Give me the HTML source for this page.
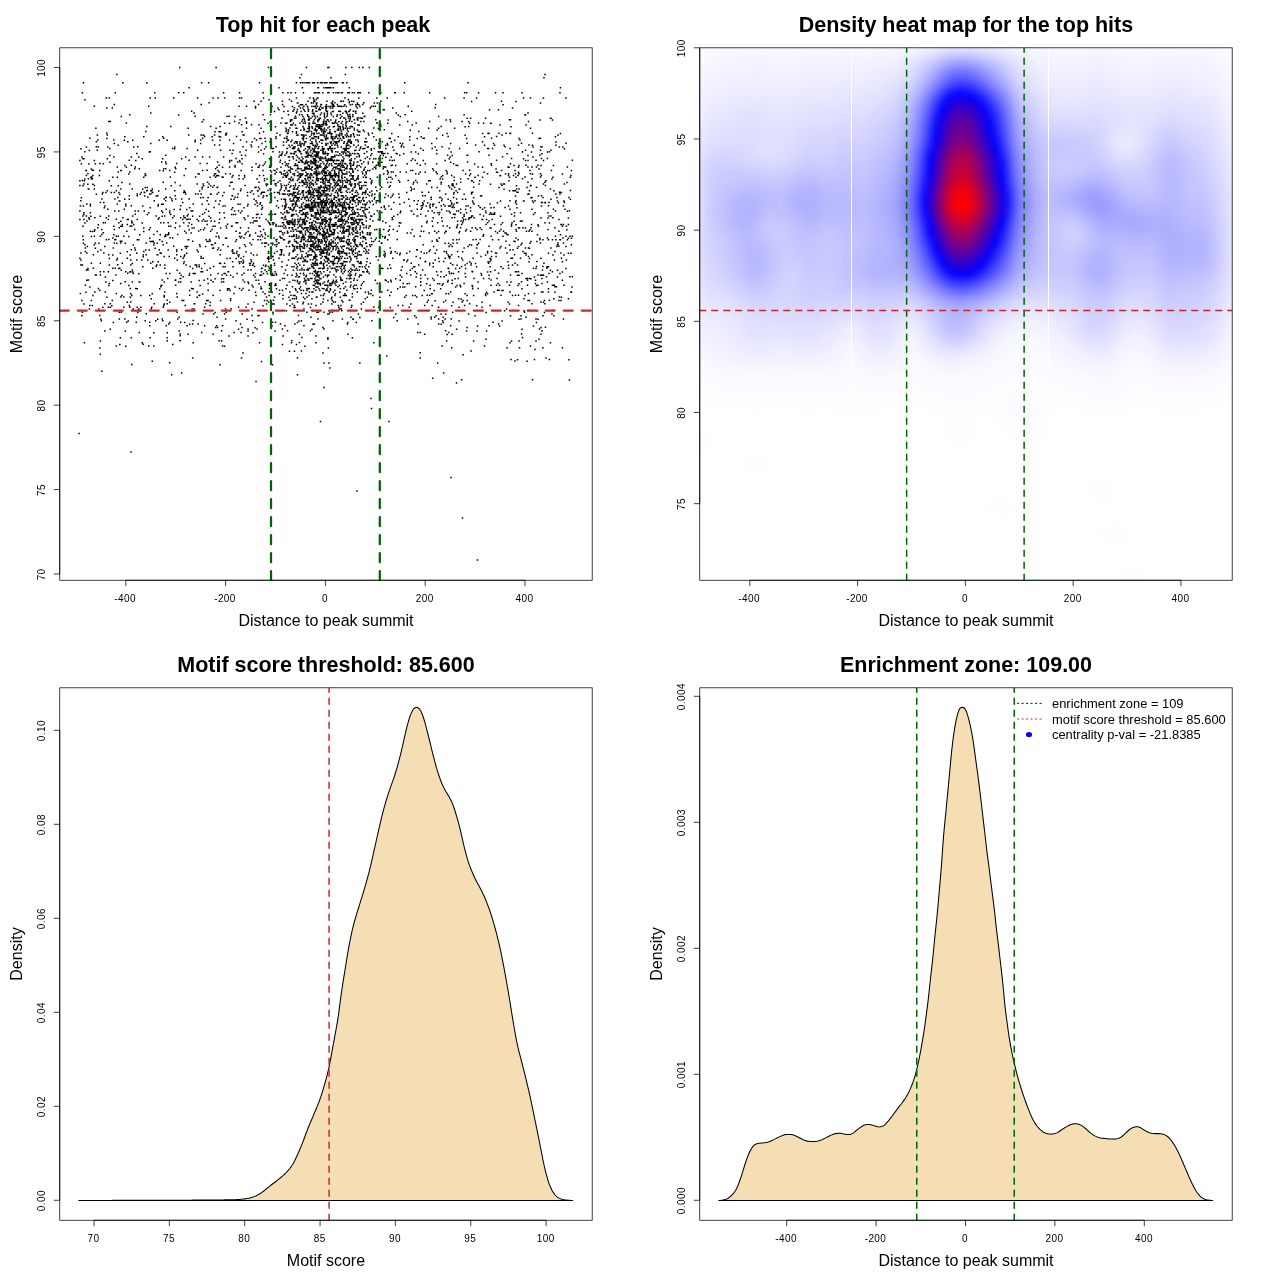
<!DOCTYPE html>
<html lang="en"><head><meta charset="utf-8"><title>Motif enrichment plots</title>
<style>html,body{margin:0;padding:0;background:#fff;}body{width:1280px;height:1280px;overflow:hidden;}svg{display:block;}text{font-family:"Liberation Sans", sans-serif;fill:#000;}</style>
</head><body>
<svg width="1280" height="1280" viewBox="0 0 1280 1280">
<rect width="1280" height="1280" fill="#fff"/>
<defs>
<clipPath id="c1"><rect x="59.76" y="47.81" width="532.43" height="532.43"/></clipPath>
<clipPath id="c2"><rect x="699.76" y="47.81" width="532.43" height="532.43"/></clipPath>
<clipPath id="c3"><rect x="59.76" y="687.81" width="532.43" height="532.43"/></clipPath>
<clipPath id="c4"><rect x="699.76" y="687.81" width="532.43" height="532.43"/></clipPath>
<filter id="hb" x="-5%" y="-5%" width="110%" height="110%" color-interpolation-filters="sRGB"><feGaussianBlur stdDeviation="2.5"/></filter>
</defs>
<g id="panel1">
<g clip-path="url(#c1)">
<path d="M178.94 66.75h1.5v1.5h-1.5zM215.37 66.75h1.5v1.5h-1.5zM267.76 66.75h1.5v1.5h-1.5zM305.69 66.75h1.5v1.5h-1.5zM327.14 66.75h1.5v1.5h-1.5zM328.14 66.75h1.5v1.5h-1.5zM345.11 66.75h1.5v1.5h-1.5zM351.1 66.75h1.5v1.5h-1.5zM358.58 66.75h1.5v1.5h-1.5zM362.07 66.75h1.5v1.5h-1.5zM368.56 66.75h1.5v1.5h-1.5zM116.07 73.67h1.5v1.5h-1.5zM300.7 73.67h1.5v1.5h-1.5zM344.61 73.67h1.5v1.5h-1.5zM544.21 73.67h1.5v1.5h-1.5zM299.2 77.05h1.5v1.5h-1.5zM330.14 77.05h1.5v1.5h-1.5zM543.21 77.05h1.5v1.5h-1.5zM82.63 82.11h1.5v1.5h-1.5zM122.06 82.11h1.5v1.5h-1.5zM146.01 82.11h1.5v1.5h-1.5zM200.9 82.11h1.5v1.5h-1.5zM207.88 82.11h1.5v1.5h-1.5zM258.78 82.11h1.5v1.5h-1.5zM295.71 82.11h1.5v1.5h-1.5zM299.7 82.11h1.5v1.5h-1.5zM301.7 82.11h1.5v1.5h-1.5zM302.19 82.11h1.5v1.5h-1.5zM304.19 82.11h1.5v1.5h-1.5zM306.19 82.11h1.5v1.5h-1.5zM306.69 82.11h1.5v1.5h-1.5zM307.19 82.11h1.5v1.5h-1.5zM308.18 82.11h1.5v1.5h-1.5zM308.18 82.11h1.5v1.5h-1.5zM308.68 82.11h1.5v1.5h-1.5zM311.68 82.11h1.5v1.5h-1.5zM311.68 82.11h1.5v1.5h-1.5zM312.17 82.11h1.5v1.5h-1.5zM312.67 82.11h1.5v1.5h-1.5zM313.67 82.11h1.5v1.5h-1.5zM316.67 82.11h1.5v1.5h-1.5zM316.67 82.11h1.5v1.5h-1.5zM316.67 82.11h1.5v1.5h-1.5zM317.16 82.11h1.5v1.5h-1.5zM317.16 82.11h1.5v1.5h-1.5zM319.66 82.11h1.5v1.5h-1.5zM320.66 82.11h1.5v1.5h-1.5zM321.66 82.11h1.5v1.5h-1.5zM323.65 82.11h1.5v1.5h-1.5zM323.65 82.11h1.5v1.5h-1.5zM324.65 82.11h1.5v1.5h-1.5zM325.15 82.11h1.5v1.5h-1.5zM326.15 82.11h1.5v1.5h-1.5zM329.14 82.11h1.5v1.5h-1.5zM329.64 82.11h1.5v1.5h-1.5zM329.64 82.11h1.5v1.5h-1.5zM330.14 82.11h1.5v1.5h-1.5zM330.64 82.11h1.5v1.5h-1.5zM331.64 82.11h1.5v1.5h-1.5zM332.63 82.11h1.5v1.5h-1.5zM332.63 82.11h1.5v1.5h-1.5zM334.13 82.11h1.5v1.5h-1.5zM334.13 82.11h1.5v1.5h-1.5zM335.13 82.11h1.5v1.5h-1.5zM335.63 82.11h1.5v1.5h-1.5zM336.13 82.11h1.5v1.5h-1.5zM336.63 82.11h1.5v1.5h-1.5zM341.62 82.11h1.5v1.5h-1.5zM342.61 82.11h1.5v1.5h-1.5zM342.61 82.11h1.5v1.5h-1.5zM346.11 82.11h1.5v1.5h-1.5zM403.99 82.11h1.5v1.5h-1.5zM467.36 82.11h1.5v1.5h-1.5zM188.42 87.01h1.5v1.5h-1.5zM278.24 87.01h1.5v1.5h-1.5zM301.7 87.01h1.5v1.5h-1.5zM317.16 87.01h1.5v1.5h-1.5zM317.66 87.01h1.5v1.5h-1.5zM323.15 87.01h1.5v1.5h-1.5zM325.15 87.01h1.5v1.5h-1.5zM326.65 87.01h1.5v1.5h-1.5zM327.14 87.01h1.5v1.5h-1.5zM328.64 87.01h1.5v1.5h-1.5zM329.14 87.01h1.5v1.5h-1.5zM330.14 87.01h1.5v1.5h-1.5zM332.63 87.01h1.5v1.5h-1.5zM348.6 87.01h1.5v1.5h-1.5zM559.68 87.01h1.5v1.5h-1.5zM81.64 92.07h1.5v1.5h-1.5zM114.57 92.07h1.5v1.5h-1.5zM153.99 92.07h1.5v1.5h-1.5zM177.94 92.07h1.5v1.5h-1.5zM182.93 92.07h1.5v1.5h-1.5zM222.85 92.07h1.5v1.5h-1.5zM238.82 92.07h1.5v1.5h-1.5zM262.27 92.07h1.5v1.5h-1.5zM282.23 92.07h1.5v1.5h-1.5zM287.22 92.07h1.5v1.5h-1.5zM290.22 92.07h1.5v1.5h-1.5zM294.71 92.07h1.5v1.5h-1.5zM302.69 92.07h1.5v1.5h-1.5zM313.67 92.07h1.5v1.5h-1.5zM314.67 92.07h1.5v1.5h-1.5zM315.17 92.07h1.5v1.5h-1.5zM315.17 92.07h1.5v1.5h-1.5zM317.16 92.07h1.5v1.5h-1.5zM317.66 92.07h1.5v1.5h-1.5zM318.66 92.07h1.5v1.5h-1.5zM322.15 92.07h1.5v1.5h-1.5zM327.14 92.07h1.5v1.5h-1.5zM328.14 92.07h1.5v1.5h-1.5zM332.63 92.07h1.5v1.5h-1.5zM335.13 92.07h1.5v1.5h-1.5zM337.12 92.07h1.5v1.5h-1.5zM338.12 92.07h1.5v1.5h-1.5zM340.62 92.07h1.5v1.5h-1.5zM341.62 92.07h1.5v1.5h-1.5zM347.1 92.07h1.5v1.5h-1.5zM348.6 92.07h1.5v1.5h-1.5zM351.6 92.07h1.5v1.5h-1.5zM353.59 92.07h1.5v1.5h-1.5zM357.08 92.07h1.5v1.5h-1.5zM358.58 92.07h1.5v1.5h-1.5zM359.58 92.07h1.5v1.5h-1.5zM368.06 92.07h1.5v1.5h-1.5zM380.04 92.07h1.5v1.5h-1.5zM394.01 92.07h1.5v1.5h-1.5zM394.51 92.07h1.5v1.5h-1.5zM403.49 92.07h1.5v1.5h-1.5zM428.94 92.07h1.5v1.5h-1.5zM463.87 92.07h1.5v1.5h-1.5zM465.87 92.07h1.5v1.5h-1.5zM477.84 92.07h1.5v1.5h-1.5zM494.81 92.07h1.5v1.5h-1.5zM502.29 92.07h1.5v1.5h-1.5zM521.26 92.07h1.5v1.5h-1.5zM559.18 92.07h1.5v1.5h-1.5zM105.59 97.14h1.5v1.5h-1.5zM108.58 97.14h1.5v1.5h-1.5zM149.5 97.14h1.5v1.5h-1.5zM154.49 97.14h1.5v1.5h-1.5zM172.95 97.14h1.5v1.5h-1.5zM196.91 97.14h1.5v1.5h-1.5zM212.37 97.14h1.5v1.5h-1.5zM217.36 97.14h1.5v1.5h-1.5zM223.85 97.14h1.5v1.5h-1.5zM238.82 97.14h1.5v1.5h-1.5zM240.82 97.14h1.5v1.5h-1.5zM262.77 97.14h1.5v1.5h-1.5zM295.71 97.14h1.5v1.5h-1.5zM309.18 97.14h1.5v1.5h-1.5zM312.67 97.14h1.5v1.5h-1.5zM316.67 97.14h1.5v1.5h-1.5zM317.16 97.14h1.5v1.5h-1.5zM317.16 97.14h1.5v1.5h-1.5zM344.11 97.14h1.5v1.5h-1.5zM358.08 97.14h1.5v1.5h-1.5zM376.05 97.14h1.5v1.5h-1.5zM386.53 97.14h1.5v1.5h-1.5zM443.91 97.14h1.5v1.5h-1.5zM463.37 97.14h1.5v1.5h-1.5zM475.85 97.14h1.5v1.5h-1.5zM522.75 97.14h1.5v1.5h-1.5zM529.74 97.14h1.5v1.5h-1.5zM542.71 97.14h1.5v1.5h-1.5zM565.17 97.14h1.5v1.5h-1.5zM288.72 98.68h1.5v1.5h-1.5zM84.13 98.95h1.5v1.5h-1.5zM268.26 98.89h1.5v1.5h-1.5zM313.17 98.76h1.5v1.5h-1.5zM315.67 98.81h1.5v1.5h-1.5zM347.6 98.79h1.5v1.5h-1.5zM253.29 100.52h1.5v1.5h-1.5zM260.28 100.45h1.5v1.5h-1.5zM281.74 100.49h1.5v1.5h-1.5zM290.72 100.46h1.5v1.5h-1.5zM307.19 100.44h1.5v1.5h-1.5zM313.17 100.57h1.5v1.5h-1.5zM313.67 100.44h1.5v1.5h-1.5zM314.17 100.53h1.5v1.5h-1.5zM326.15 100.62h1.5v1.5h-1.5zM332.13 100.43h1.5v1.5h-1.5zM340.12 100.42h1.5v1.5h-1.5zM340.62 100.53h1.5v1.5h-1.5zM342.61 100.58h1.5v1.5h-1.5zM348.6 100.65h1.5v1.5h-1.5zM351.1 100.55h1.5v1.5h-1.5zM353.09 100.63h1.5v1.5h-1.5zM380.04 100.62h1.5v1.5h-1.5zM470.86 100.67h1.5v1.5h-1.5zM500.8 100.41h1.5v1.5h-1.5zM515.27 100.64h1.5v1.5h-1.5zM208.38 102.05h1.5v1.5h-1.5zM296.71 102.24h1.5v1.5h-1.5zM297.2 102.15h1.5v1.5h-1.5zM310.68 102.21h1.5v1.5h-1.5zM310.68 102.08h1.5v1.5h-1.5zM312.67 102.33h1.5v1.5h-1.5zM315.67 102.2h1.5v1.5h-1.5zM316.17 102.16h1.5v1.5h-1.5zM330.64 102.32h1.5v1.5h-1.5zM331.64 102.19h1.5v1.5h-1.5zM334.13 102.08h1.5v1.5h-1.5zM348.6 102.09h1.5v1.5h-1.5zM356.59 102.36h1.5v1.5h-1.5zM363.07 102.06h1.5v1.5h-1.5zM373.55 102.22h1.5v1.5h-1.5zM376.55 102.29h1.5v1.5h-1.5zM539.72 102.33h1.5v1.5h-1.5zM257.78 103.73h1.5v1.5h-1.5zM351.6 103.74h1.5v1.5h-1.5zM113.57 103.79h1.5v1.5h-1.5zM200.4 103.87h1.5v1.5h-1.5zM281.74 103.78h1.5v1.5h-1.5zM299.7 104.04h1.5v1.5h-1.5zM300.7 103.96h1.5v1.5h-1.5zM301.7 103.9h1.5v1.5h-1.5zM305.19 103.79h1.5v1.5h-1.5zM315.67 103.86h1.5v1.5h-1.5zM320.16 103.86h1.5v1.5h-1.5zM320.66 104.04h1.5v1.5h-1.5zM325.65 103.95h1.5v1.5h-1.5zM331.64 103.83h1.5v1.5h-1.5zM332.63 104.02h1.5v1.5h-1.5zM336.63 103.84h1.5v1.5h-1.5zM344.11 104.01h1.5v1.5h-1.5zM349.6 104.01h1.5v1.5h-1.5zM355.09 103.89h1.5v1.5h-1.5zM357.08 103.76h1.5v1.5h-1.5zM358.08 103.96h1.5v1.5h-1.5zM362.07 103.87h1.5v1.5h-1.5zM434.93 103.78h1.5v1.5h-1.5zM502.29 103.9h1.5v1.5h-1.5zM93.61 105.47h1.5v1.5h-1.5zM148 105.48h1.5v1.5h-1.5zM238.32 105.51h1.5v1.5h-1.5zM245.81 105.44h1.5v1.5h-1.5zM254.79 105.74h1.5v1.5h-1.5zM271.26 105.73h1.5v1.5h-1.5zM283.23 105.69h1.5v1.5h-1.5zM291.72 105.66h1.5v1.5h-1.5zM298.2 105.5h1.5v1.5h-1.5zM303.19 105.6h1.5v1.5h-1.5zM306.69 105.58h1.5v1.5h-1.5zM311.18 105.57h1.5v1.5h-1.5zM313.17 105.63h1.5v1.5h-1.5zM314.67 105.55h1.5v1.5h-1.5zM316.67 105.62h1.5v1.5h-1.5zM316.67 105.44h1.5v1.5h-1.5zM319.66 105.7h1.5v1.5h-1.5zM324.65 105.65h1.5v1.5h-1.5zM326.15 105.74h1.5v1.5h-1.5zM328.14 105.66h1.5v1.5h-1.5zM330.14 105.48h1.5v1.5h-1.5zM332.13 105.54h1.5v1.5h-1.5zM332.63 105.47h1.5v1.5h-1.5zM333.63 105.42h1.5v1.5h-1.5zM337.12 105.62h1.5v1.5h-1.5zM337.62 105.54h1.5v1.5h-1.5zM338.62 105.44h1.5v1.5h-1.5zM340.12 105.62h1.5v1.5h-1.5zM341.12 105.64h1.5v1.5h-1.5zM343.11 105.57h1.5v1.5h-1.5zM345.61 105.69h1.5v1.5h-1.5zM355.59 105.7h1.5v1.5h-1.5zM359.08 105.64h1.5v1.5h-1.5zM370.56 105.68h1.5v1.5h-1.5zM372.55 105.53h1.5v1.5h-1.5zM374.55 105.57h1.5v1.5h-1.5zM407.48 105.58h1.5v1.5h-1.5zM106.09 107.14h1.5v1.5h-1.5zM111.58 107.3h1.5v1.5h-1.5zM254.79 107.26h1.5v1.5h-1.5zM277.25 107.35h1.5v1.5h-1.5zM293.71 107.11h1.5v1.5h-1.5zM299.7 107.26h1.5v1.5h-1.5zM302.19 107.18h1.5v1.5h-1.5zM307.19 107.36h1.5v1.5h-1.5zM315.17 107.2h1.5v1.5h-1.5zM315.67 107.4h1.5v1.5h-1.5zM318.66 107.42h1.5v1.5h-1.5zM321.16 107.36h1.5v1.5h-1.5zM322.15 107.2h1.5v1.5h-1.5zM325.15 107.23h1.5v1.5h-1.5zM325.65 107.43h1.5v1.5h-1.5zM329.64 107.37h1.5v1.5h-1.5zM331.64 107.36h1.5v1.5h-1.5zM332.13 107.27h1.5v1.5h-1.5zM356.59 107.24h1.5v1.5h-1.5zM369.56 107.36h1.5v1.5h-1.5zM392.01 107.31h1.5v1.5h-1.5zM434.43 107.11h1.5v1.5h-1.5zM511.77 107.27h1.5v1.5h-1.5zM278.24 108.99h1.5v1.5h-1.5zM293.21 109.02h1.5v1.5h-1.5zM296.71 108.84h1.5v1.5h-1.5zM303.19 109.06h1.5v1.5h-1.5zM307.68 108.89h1.5v1.5h-1.5zM312.17 108.9h1.5v1.5h-1.5zM318.16 109.12h1.5v1.5h-1.5zM319.66 108.95h1.5v1.5h-1.5zM325.15 109.12h1.5v1.5h-1.5zM349.6 108.99h1.5v1.5h-1.5zM382.53 109h1.5v1.5h-1.5zM383.53 108.94h1.5v1.5h-1.5zM488.82 109.08h1.5v1.5h-1.5zM497.8 108.93h1.5v1.5h-1.5zM190.92 110.6h1.5v1.5h-1.5zM273.75 110.65h1.5v1.5h-1.5zM287.22 110.52h1.5v1.5h-1.5zM292.21 110.6h1.5v1.5h-1.5zM296.21 110.71h1.5v1.5h-1.5zM300.2 110.64h1.5v1.5h-1.5zM304.19 110.49h1.5v1.5h-1.5zM307.68 110.61h1.5v1.5h-1.5zM311.68 110.5h1.5v1.5h-1.5zM315.17 110.51h1.5v1.5h-1.5zM316.17 110.56h1.5v1.5h-1.5zM325.65 110.48h1.5v1.5h-1.5zM326.65 110.62h1.5v1.5h-1.5zM331.64 110.7h1.5v1.5h-1.5zM338.12 110.59h1.5v1.5h-1.5zM338.62 110.49h1.5v1.5h-1.5zM339.62 110.64h1.5v1.5h-1.5zM344.61 110.54h1.5v1.5h-1.5zM348.6 110.57h1.5v1.5h-1.5zM352.59 110.58h1.5v1.5h-1.5zM355.09 110.51h1.5v1.5h-1.5zM377.04 110.73h1.5v1.5h-1.5zM410.98 110.48h1.5v1.5h-1.5zM283.23 110.78h1.5v1.5h-1.5zM332.63 110.77h1.5v1.5h-1.5zM339.62 110.79h1.5v1.5h-1.5zM345.61 110.76h1.5v1.5h-1.5zM348.1 110.78h1.5v1.5h-1.5zM354.59 110.8h1.5v1.5h-1.5zM150 112.23h1.5v1.5h-1.5zM193.41 112.33h1.5v1.5h-1.5zM295.71 112.22h1.5v1.5h-1.5zM311.68 112.4h1.5v1.5h-1.5zM312.67 112.43h1.5v1.5h-1.5zM313.17 112.49h1.5v1.5h-1.5zM320.66 112.2h1.5v1.5h-1.5zM323.65 112.39h1.5v1.5h-1.5zM326.65 112.21h1.5v1.5h-1.5zM326.65 112.41h1.5v1.5h-1.5zM330.14 112.31h1.5v1.5h-1.5zM330.14 112.24h1.5v1.5h-1.5zM342.11 112.42h1.5v1.5h-1.5zM345.61 112.19h1.5v1.5h-1.5zM346.11 112.22h1.5v1.5h-1.5zM355.09 112.38h1.5v1.5h-1.5zM362.07 112.49h1.5v1.5h-1.5zM379.54 112.26h1.5v1.5h-1.5zM395.51 112.36h1.5v1.5h-1.5zM527.24 112.2h1.5v1.5h-1.5zM129.04 114.04h1.5v1.5h-1.5zM177.94 114.15h1.5v1.5h-1.5zM262.27 113.98h1.5v1.5h-1.5zM269.76 113.93h1.5v1.5h-1.5zM287.72 114.05h1.5v1.5h-1.5zM298.7 114.09h1.5v1.5h-1.5zM298.7 113.93h1.5v1.5h-1.5zM301.2 114.02h1.5v1.5h-1.5zM306.69 114.09h1.5v1.5h-1.5zM306.69 114h1.5v1.5h-1.5zM313.17 114.12h1.5v1.5h-1.5zM319.66 114.02h1.5v1.5h-1.5zM323.65 114.06h1.5v1.5h-1.5zM326.65 114.18h1.5v1.5h-1.5zM330.64 114.06h1.5v1.5h-1.5zM336.63 113.93h1.5v1.5h-1.5zM339.62 113.98h1.5v1.5h-1.5zM347.1 114.01h1.5v1.5h-1.5zM349.1 113.87h1.5v1.5h-1.5zM352.09 114.07h1.5v1.5h-1.5zM397.5 114.13h1.5v1.5h-1.5zM404.49 113.93h1.5v1.5h-1.5zM463.37 113.89h1.5v1.5h-1.5zM524.25 113.96h1.5v1.5h-1.5zM524.75 114.19h1.5v1.5h-1.5zM120.56 115.71h1.5v1.5h-1.5zM194.41 115.59h1.5v1.5h-1.5zM228.34 115.62h1.5v1.5h-1.5zM234.33 115.71h1.5v1.5h-1.5zM294.71 115.62h1.5v1.5h-1.5zM307.19 115.55h1.5v1.5h-1.5zM311.68 115.68h1.5v1.5h-1.5zM314.17 115.55h1.5v1.5h-1.5zM326.15 115.73h1.5v1.5h-1.5zM336.13 115.55h1.5v1.5h-1.5zM341.12 115.71h1.5v1.5h-1.5zM347.6 115.59h1.5v1.5h-1.5zM349.6 115.68h1.5v1.5h-1.5zM352.09 115.63h1.5v1.5h-1.5zM363.57 115.69h1.5v1.5h-1.5zM364.07 115.6h1.5v1.5h-1.5zM399.5 115.63h1.5v1.5h-1.5zM226.35 115.84h1.5v1.5h-1.5zM302.19 115.85h1.5v1.5h-1.5zM308.18 115.83h1.5v1.5h-1.5zM311.68 115.78h1.5v1.5h-1.5zM316.67 115.82h1.5v1.5h-1.5zM323.65 115.8h1.5v1.5h-1.5zM332.63 115.78h1.5v1.5h-1.5zM349.1 115.87h1.5v1.5h-1.5zM437.92 115.76h1.5v1.5h-1.5zM244.81 117.35h1.5v1.5h-1.5zM281.24 117.33h1.5v1.5h-1.5zM293.71 117.46h1.5v1.5h-1.5zM295.21 117.3h1.5v1.5h-1.5zM303.19 117.53h1.5v1.5h-1.5zM303.19 117.43h1.5v1.5h-1.5zM308.18 117.48h1.5v1.5h-1.5zM310.18 117.54h1.5v1.5h-1.5zM314.67 117.29h1.5v1.5h-1.5zM318.66 117.42h1.5v1.5h-1.5zM319.66 117.41h1.5v1.5h-1.5zM324.15 117.35h1.5v1.5h-1.5zM339.62 117.48h1.5v1.5h-1.5zM339.62 117.29h1.5v1.5h-1.5zM343.11 117.26h1.5v1.5h-1.5zM344.11 117.34h1.5v1.5h-1.5zM347.6 117.35h1.5v1.5h-1.5zM349.6 117.56h1.5v1.5h-1.5zM356.59 117.32h1.5v1.5h-1.5zM358.08 117.32h1.5v1.5h-1.5zM360.08 117.36h1.5v1.5h-1.5zM361.58 117.54h1.5v1.5h-1.5zM466.37 117.49h1.5v1.5h-1.5zM469.86 117.48h1.5v1.5h-1.5zM484.83 117.53h1.5v1.5h-1.5zM549.7 117.44h1.5v1.5h-1.5zM550.2 117.53h1.5v1.5h-1.5zM202.89 118.95h1.5v1.5h-1.5zM239.32 119.08h1.5v1.5h-1.5zM263.77 118.99h1.5v1.5h-1.5zM289.72 119.22h1.5v1.5h-1.5zM290.72 118.99h1.5v1.5h-1.5zM291.22 119.16h1.5v1.5h-1.5zM301.7 118.98h1.5v1.5h-1.5zM303.69 119.11h1.5v1.5h-1.5zM307.68 119.2h1.5v1.5h-1.5zM308.18 118.98h1.5v1.5h-1.5zM308.18 119.06h1.5v1.5h-1.5zM308.68 119.21h1.5v1.5h-1.5zM313.67 118.99h1.5v1.5h-1.5zM317.16 119.26h1.5v1.5h-1.5zM318.16 119.02h1.5v1.5h-1.5zM318.66 118.94h1.5v1.5h-1.5zM323.15 119.19h1.5v1.5h-1.5zM326.65 119.03h1.5v1.5h-1.5zM327.14 118.92h1.5v1.5h-1.5zM327.14 119.24h1.5v1.5h-1.5zM327.14 119.2h1.5v1.5h-1.5zM330.14 119.13h1.5v1.5h-1.5zM335.13 119.21h1.5v1.5h-1.5zM345.11 119.01h1.5v1.5h-1.5zM349.1 119.1h1.5v1.5h-1.5zM353.59 119.01h1.5v1.5h-1.5zM356.59 119.05h1.5v1.5h-1.5zM357.08 119.13h1.5v1.5h-1.5zM375.05 118.98h1.5v1.5h-1.5zM387.52 119.17h1.5v1.5h-1.5zM445.41 119.25h1.5v1.5h-1.5zM449.4 119h1.5v1.5h-1.5zM508.78 119.09h1.5v1.5h-1.5zM509.78 119.03h1.5v1.5h-1.5zM539.22 119.18h1.5v1.5h-1.5zM551.69 119.18h1.5v1.5h-1.5zM109.58 120.64h1.5v1.5h-1.5zM233.83 120.72h1.5v1.5h-1.5zM301.2 120.7h1.5v1.5h-1.5zM325.15 120.69h1.5v1.5h-1.5zM348.6 120.62h1.5v1.5h-1.5zM360.08 120.7h1.5v1.5h-1.5zM363.07 120.66h1.5v1.5h-1.5zM406.98 120.65h1.5v1.5h-1.5zM428.94 120.73h1.5v1.5h-1.5zM449.9 120.67h1.5v1.5h-1.5zM467.86 120.65h1.5v1.5h-1.5zM527.74 120.69h1.5v1.5h-1.5zM108.08 120.84h1.5v1.5h-1.5zM201.4 120.88h1.5v1.5h-1.5zM245.81 120.91h1.5v1.5h-1.5zM269.26 120.89h1.5v1.5h-1.5zM289.72 120.83h1.5v1.5h-1.5zM289.72 120.79h1.5v1.5h-1.5zM304.19 120.75h1.5v1.5h-1.5zM312.67 120.8h1.5v1.5h-1.5zM317.16 120.81h1.5v1.5h-1.5zM322.65 120.9h1.5v1.5h-1.5zM324.65 120.85h1.5v1.5h-1.5zM325.65 120.87h1.5v1.5h-1.5zM328.14 120.87h1.5v1.5h-1.5zM334.63 120.8h1.5v1.5h-1.5zM338.12 120.94h1.5v1.5h-1.5zM341.62 120.8h1.5v1.5h-1.5zM345.61 120.9h1.5v1.5h-1.5zM346.11 120.93h1.5v1.5h-1.5zM351.1 120.85h1.5v1.5h-1.5zM461.38 120.8h1.5v1.5h-1.5zM125.55 122.36h1.5v1.5h-1.5zM223.85 122.43h1.5v1.5h-1.5zM228.84 122.43h1.5v1.5h-1.5zM238.32 122.36h1.5v1.5h-1.5zM245.81 122.53h1.5v1.5h-1.5zM267.26 122.47h1.5v1.5h-1.5zM280.24 122.34h1.5v1.5h-1.5zM284.73 122.5h1.5v1.5h-1.5zM285.23 122.61h1.5v1.5h-1.5zM286.23 122.34h1.5v1.5h-1.5zM292.71 122.56h1.5v1.5h-1.5zM299.2 122.5h1.5v1.5h-1.5zM302.69 122.32h1.5v1.5h-1.5zM304.69 122.61h1.5v1.5h-1.5zM308.18 122.36h1.5v1.5h-1.5zM308.68 122.63h1.5v1.5h-1.5zM312.17 122.44h1.5v1.5h-1.5zM313.17 122.5h1.5v1.5h-1.5zM313.67 122.43h1.5v1.5h-1.5zM314.17 122.52h1.5v1.5h-1.5zM322.65 122.6h1.5v1.5h-1.5zM324.15 122.63h1.5v1.5h-1.5zM325.65 122.46h1.5v1.5h-1.5zM331.64 122.36h1.5v1.5h-1.5zM332.13 122.61h1.5v1.5h-1.5zM332.63 122.6h1.5v1.5h-1.5zM334.13 122.37h1.5v1.5h-1.5zM336.13 122.61h1.5v1.5h-1.5zM340.62 122.45h1.5v1.5h-1.5zM345.11 122.51h1.5v1.5h-1.5zM354.09 122.46h1.5v1.5h-1.5zM376.05 122.37h1.5v1.5h-1.5zM376.55 122.33h1.5v1.5h-1.5zM387.02 122.4h1.5v1.5h-1.5zM415.47 122.34h1.5v1.5h-1.5zM468.86 122.4h1.5v1.5h-1.5zM477.84 122.32h1.5v1.5h-1.5zM482.83 122.53h1.5v1.5h-1.5zM489.82 122.39h1.5v1.5h-1.5zM490.32 122.57h1.5v1.5h-1.5zM240.82 124.11h1.5v1.5h-1.5zM250.8 124.06h1.5v1.5h-1.5zM258.28 124.05h1.5v1.5h-1.5zM290.22 124.19h1.5v1.5h-1.5zM290.22 124.12h1.5v1.5h-1.5zM291.72 124.2h1.5v1.5h-1.5zM294.71 124.15h1.5v1.5h-1.5zM308.18 124.17h1.5v1.5h-1.5zM315.67 124.07h1.5v1.5h-1.5zM317.16 124h1.5v1.5h-1.5zM317.16 124.21h1.5v1.5h-1.5zM317.66 124.23h1.5v1.5h-1.5zM319.16 124.1h1.5v1.5h-1.5zM319.16 124.13h1.5v1.5h-1.5zM321.16 124.12h1.5v1.5h-1.5zM322.15 124h1.5v1.5h-1.5zM322.65 124.26h1.5v1.5h-1.5zM322.65 124.23h1.5v1.5h-1.5zM325.15 124.27h1.5v1.5h-1.5zM326.15 124.02h1.5v1.5h-1.5zM337.12 123.99h1.5v1.5h-1.5zM337.12 124.15h1.5v1.5h-1.5zM342.11 124.03h1.5v1.5h-1.5zM345.11 124.16h1.5v1.5h-1.5zM357.08 124.29h1.5v1.5h-1.5zM358.58 124.15h1.5v1.5h-1.5zM378.54 123.99h1.5v1.5h-1.5zM379.54 124.01h1.5v1.5h-1.5zM380.04 124.17h1.5v1.5h-1.5zM399 124.31h1.5v1.5h-1.5zM411.48 124.29h1.5v1.5h-1.5zM499.3 124.24h1.5v1.5h-1.5zM525.25 124.31h1.5v1.5h-1.5zM169.96 125.73h1.5v1.5h-1.5zM209.88 125.69h1.5v1.5h-1.5zM219.36 125.72h1.5v1.5h-1.5zM269.76 125.75h1.5v1.5h-1.5zM270.26 125.74h1.5v1.5h-1.5zM315.17 125.71h1.5v1.5h-1.5zM319.16 125.71h1.5v1.5h-1.5zM337.62 125.68h1.5v1.5h-1.5zM345.61 125.7h1.5v1.5h-1.5zM380.04 125.74h1.5v1.5h-1.5zM440.42 125.68h1.5v1.5h-1.5zM467.86 125.68h1.5v1.5h-1.5zM146.01 125.84h1.5v1.5h-1.5zM219.36 125.85h1.5v1.5h-1.5zM274.75 125.93h1.5v1.5h-1.5zM302.19 125.84h1.5v1.5h-1.5zM302.19 125.97h1.5v1.5h-1.5zM308.18 125.89h1.5v1.5h-1.5zM308.68 125.88h1.5v1.5h-1.5zM311.18 125.93h1.5v1.5h-1.5zM315.67 125.82h1.5v1.5h-1.5zM317.16 125.88h1.5v1.5h-1.5zM317.66 125.89h1.5v1.5h-1.5zM318.66 125.97h1.5v1.5h-1.5zM320.66 125.81h1.5v1.5h-1.5zM321.16 125.79h1.5v1.5h-1.5zM328.64 125.96h1.5v1.5h-1.5zM332.63 125.99h1.5v1.5h-1.5zM333.63 125.75h1.5v1.5h-1.5zM338.62 125.76h1.5v1.5h-1.5zM338.62 125.79h1.5v1.5h-1.5zM339.62 125.89h1.5v1.5h-1.5zM342.11 125.9h1.5v1.5h-1.5zM349.6 125.8h1.5v1.5h-1.5zM350.6 125.78h1.5v1.5h-1.5zM351.6 125.92h1.5v1.5h-1.5zM464.37 125.93h1.5v1.5h-1.5zM510.28 125.99h1.5v1.5h-1.5zM95.11 127.47h1.5v1.5h-1.5zM187.42 127.38h1.5v1.5h-1.5zM215.37 127.45h1.5v1.5h-1.5zM245.81 127.38h1.5v1.5h-1.5zM260.28 127.47h1.5v1.5h-1.5zM285.23 127.58h1.5v1.5h-1.5zM289.22 127.36h1.5v1.5h-1.5zM295.21 127.59h1.5v1.5h-1.5zM296.21 127.39h1.5v1.5h-1.5zM303.19 127.55h1.5v1.5h-1.5zM303.19 127.68h1.5v1.5h-1.5zM307.19 127.65h1.5v1.5h-1.5zM308.68 127.52h1.5v1.5h-1.5zM311.68 127.58h1.5v1.5h-1.5zM314.67 127.69h1.5v1.5h-1.5zM318.16 127.51h1.5v1.5h-1.5zM319.16 127.45h1.5v1.5h-1.5zM320.16 127.68h1.5v1.5h-1.5zM320.66 127.68h1.5v1.5h-1.5zM323.65 127.49h1.5v1.5h-1.5zM327.14 127.36h1.5v1.5h-1.5zM337.62 127.64h1.5v1.5h-1.5zM339.62 127.42h1.5v1.5h-1.5zM342.61 127.43h1.5v1.5h-1.5zM344.61 127.43h1.5v1.5h-1.5zM346.61 127.59h1.5v1.5h-1.5zM347.1 127.6h1.5v1.5h-1.5zM349.1 127.53h1.5v1.5h-1.5zM353.59 127.47h1.5v1.5h-1.5zM373.05 127.37h1.5v1.5h-1.5zM377.54 127.64h1.5v1.5h-1.5zM427.94 127.47h1.5v1.5h-1.5zM437.92 127.39h1.5v1.5h-1.5zM453.89 127.38h1.5v1.5h-1.5zM529.74 127.5h1.5v1.5h-1.5zM285.73 129.18h1.5v1.5h-1.5zM287.72 129.08h1.5v1.5h-1.5zM300.2 129.38h1.5v1.5h-1.5zM303.19 129.34h1.5v1.5h-1.5zM303.69 129.12h1.5v1.5h-1.5zM308.68 129.32h1.5v1.5h-1.5zM313.67 129.23h1.5v1.5h-1.5zM315.17 129.31h1.5v1.5h-1.5zM316.17 129.19h1.5v1.5h-1.5zM320.16 129.11h1.5v1.5h-1.5zM320.66 129.07h1.5v1.5h-1.5zM320.66 129.36h1.5v1.5h-1.5zM321.66 129.26h1.5v1.5h-1.5zM322.15 129.32h1.5v1.5h-1.5zM323.65 129.32h1.5v1.5h-1.5zM325.65 129.34h1.5v1.5h-1.5zM329.14 129.08h1.5v1.5h-1.5zM336.63 129.18h1.5v1.5h-1.5zM338.12 129.29h1.5v1.5h-1.5zM340.12 129.11h1.5v1.5h-1.5zM342.61 129.1h1.5v1.5h-1.5zM346.61 129.21h1.5v1.5h-1.5zM353.59 129.13h1.5v1.5h-1.5zM356.59 129.33h1.5v1.5h-1.5zM362.57 129.17h1.5v1.5h-1.5zM379.04 129.33h1.5v1.5h-1.5zM383.53 129.05h1.5v1.5h-1.5zM409.48 129.39h1.5v1.5h-1.5zM436.43 129.33h1.5v1.5h-1.5zM308.18 130.74h1.5v1.5h-1.5zM145.01 130.85h1.5v1.5h-1.5zM214.37 130.98h1.5v1.5h-1.5zM218.36 130.91h1.5v1.5h-1.5zM219.86 131h1.5v1.5h-1.5zM241.32 130.93h1.5v1.5h-1.5zM262.77 130.99h1.5v1.5h-1.5zM285.23 130.82h1.5v1.5h-1.5zM287.72 130.79h1.5v1.5h-1.5zM291.72 131.03h1.5v1.5h-1.5zM295.71 131.02h1.5v1.5h-1.5zM305.69 130.77h1.5v1.5h-1.5zM306.69 130.95h1.5v1.5h-1.5zM307.19 130.93h1.5v1.5h-1.5zM310.68 130.83h1.5v1.5h-1.5zM315.67 130.78h1.5v1.5h-1.5zM321.16 130.91h1.5v1.5h-1.5zM323.15 131.04h1.5v1.5h-1.5zM324.65 130.92h1.5v1.5h-1.5zM329.14 131.02h1.5v1.5h-1.5zM334.13 130.87h1.5v1.5h-1.5zM334.63 130.97h1.5v1.5h-1.5zM340.62 130.78h1.5v1.5h-1.5zM347.6 130.87h1.5v1.5h-1.5zM347.6 130.84h1.5v1.5h-1.5zM357.58 130.82h1.5v1.5h-1.5zM358.08 130.88h1.5v1.5h-1.5zM359.08 130.86h1.5v1.5h-1.5zM359.08 131.01h1.5v1.5h-1.5zM363.57 130.75h1.5v1.5h-1.5zM417.96 130.78h1.5v1.5h-1.5zM106.09 132.45h1.5v1.5h-1.5zM225.35 132.51h1.5v1.5h-1.5zM225.85 132.44h1.5v1.5h-1.5zM258.78 132.54h1.5v1.5h-1.5zM276.25 132.46h1.5v1.5h-1.5zM286.73 132.56h1.5v1.5h-1.5zM287.22 132.75h1.5v1.5h-1.5zM295.71 132.5h1.5v1.5h-1.5zM311.18 132.59h1.5v1.5h-1.5zM313.17 132.6h1.5v1.5h-1.5zM313.67 132.55h1.5v1.5h-1.5zM316.17 132.73h1.5v1.5h-1.5zM318.16 132.55h1.5v1.5h-1.5zM322.65 132.57h1.5v1.5h-1.5zM323.15 132.47h1.5v1.5h-1.5zM323.15 132.47h1.5v1.5h-1.5zM327.14 132.52h1.5v1.5h-1.5zM327.64 132.43h1.5v1.5h-1.5zM329.14 132.7h1.5v1.5h-1.5zM329.64 132.44h1.5v1.5h-1.5zM331.14 132.63h1.5v1.5h-1.5zM339.12 132.48h1.5v1.5h-1.5zM346.11 132.63h1.5v1.5h-1.5zM346.11 132.54h1.5v1.5h-1.5zM367.56 132.58h1.5v1.5h-1.5zM371.56 132.59h1.5v1.5h-1.5zM391.02 132.7h1.5v1.5h-1.5zM446.41 132.67h1.5v1.5h-1.5zM481.83 132.64h1.5v1.5h-1.5zM487.32 132.45h1.5v1.5h-1.5zM488.32 132.68h1.5v1.5h-1.5zM498.3 132.62h1.5v1.5h-1.5zM505.29 132.43h1.5v1.5h-1.5zM509.28 132.69h1.5v1.5h-1.5zM509.78 132.53h1.5v1.5h-1.5zM531.74 132.61h1.5v1.5h-1.5zM559.68 132.69h1.5v1.5h-1.5zM341.12 132.76h1.5v1.5h-1.5zM352.59 132.75h1.5v1.5h-1.5zM96.61 134.2h1.5v1.5h-1.5zM106.59 134.34h1.5v1.5h-1.5zM187.92 134.25h1.5v1.5h-1.5zM200.4 134.25h1.5v1.5h-1.5zM202.39 134.42h1.5v1.5h-1.5zM202.89 134.4h1.5v1.5h-1.5zM213.87 134.2h1.5v1.5h-1.5zM224.85 134.12h1.5v1.5h-1.5zM225.35 134.29h1.5v1.5h-1.5zM242.31 134.2h1.5v1.5h-1.5zM243.31 134.14h1.5v1.5h-1.5zM279.24 134.3h1.5v1.5h-1.5zM296.21 134.39h1.5v1.5h-1.5zM297.2 134.3h1.5v1.5h-1.5zM300.7 134.26h1.5v1.5h-1.5zM302.19 134.14h1.5v1.5h-1.5zM303.19 134.43h1.5v1.5h-1.5zM305.19 134.39h1.5v1.5h-1.5zM310.68 134.23h1.5v1.5h-1.5zM310.68 134.2h1.5v1.5h-1.5zM313.17 134.12h1.5v1.5h-1.5zM319.66 134.22h1.5v1.5h-1.5zM321.16 134.2h1.5v1.5h-1.5zM321.16 134.15h1.5v1.5h-1.5zM321.66 134.14h1.5v1.5h-1.5zM323.15 134.26h1.5v1.5h-1.5zM325.65 134.29h1.5v1.5h-1.5zM330.64 134.13h1.5v1.5h-1.5zM335.63 134.23h1.5v1.5h-1.5zM337.62 134.19h1.5v1.5h-1.5zM337.62 134.15h1.5v1.5h-1.5zM339.12 134.3h1.5v1.5h-1.5zM341.12 134.23h1.5v1.5h-1.5zM344.61 134.18h1.5v1.5h-1.5zM346.61 134.38h1.5v1.5h-1.5zM350.1 134.18h1.5v1.5h-1.5zM350.6 134.15h1.5v1.5h-1.5zM350.6 134.35h1.5v1.5h-1.5zM353.09 134.3h1.5v1.5h-1.5zM356.59 134.18h1.5v1.5h-1.5zM358.58 134.45h1.5v1.5h-1.5zM368.06 134.29h1.5v1.5h-1.5zM441.91 134.44h1.5v1.5h-1.5zM464.37 134.38h1.5v1.5h-1.5zM501.3 134.37h1.5v1.5h-1.5zM557.18 134.28h1.5v1.5h-1.5zM124.05 135.97h1.5v1.5h-1.5zM143.01 136.01h1.5v1.5h-1.5zM161.98 136.04h1.5v1.5h-1.5zM203.89 135.83h1.5v1.5h-1.5zM211.38 135.89h1.5v1.5h-1.5zM218.36 135.86h1.5v1.5h-1.5zM219.86 136.14h1.5v1.5h-1.5zM235.83 135.83h1.5v1.5h-1.5zM275.25 135.95h1.5v1.5h-1.5zM286.23 135.84h1.5v1.5h-1.5zM302.69 136.08h1.5v1.5h-1.5zM303.19 135.9h1.5v1.5h-1.5zM309.18 136.03h1.5v1.5h-1.5zM313.67 136.06h1.5v1.5h-1.5zM314.67 136.06h1.5v1.5h-1.5zM315.17 136.05h1.5v1.5h-1.5zM315.67 136.14h1.5v1.5h-1.5zM317.66 136.06h1.5v1.5h-1.5zM323.65 135.87h1.5v1.5h-1.5zM325.65 135.86h1.5v1.5h-1.5zM330.64 136.01h1.5v1.5h-1.5zM332.13 135.89h1.5v1.5h-1.5zM334.63 136.01h1.5v1.5h-1.5zM335.63 136.12h1.5v1.5h-1.5zM338.62 135.82h1.5v1.5h-1.5zM342.11 136.11h1.5v1.5h-1.5zM342.61 135.99h1.5v1.5h-1.5zM345.61 135.96h1.5v1.5h-1.5zM347.6 136.07h1.5v1.5h-1.5zM348.1 135.85h1.5v1.5h-1.5zM350.1 136.08h1.5v1.5h-1.5zM353.59 135.89h1.5v1.5h-1.5zM373.05 135.97h1.5v1.5h-1.5zM397.5 136.09h1.5v1.5h-1.5zM408.98 136.08h1.5v1.5h-1.5zM420.46 135.93h1.5v1.5h-1.5zM447.4 135.86h1.5v1.5h-1.5zM483.83 136.02h1.5v1.5h-1.5zM495.81 135.86h1.5v1.5h-1.5zM554.69 135.88h1.5v1.5h-1.5zM89.12 137.6h1.5v1.5h-1.5zM162.97 137.56h1.5v1.5h-1.5zM201.9 137.55h1.5v1.5h-1.5zM260.28 137.7h1.5v1.5h-1.5zM264.27 137.57h1.5v1.5h-1.5zM275.25 137.66h1.5v1.5h-1.5zM283.73 137.62h1.5v1.5h-1.5zM285.73 137.5h1.5v1.5h-1.5zM286.23 137.67h1.5v1.5h-1.5zM301.7 137.59h1.5v1.5h-1.5zM301.7 137.63h1.5v1.5h-1.5zM301.7 137.62h1.5v1.5h-1.5zM302.69 137.7h1.5v1.5h-1.5zM311.18 137.5h1.5v1.5h-1.5zM312.17 137.73h1.5v1.5h-1.5zM313.17 137.72h1.5v1.5h-1.5zM317.66 137.58h1.5v1.5h-1.5zM324.65 137.55h1.5v1.5h-1.5zM324.65 137.49h1.5v1.5h-1.5zM325.65 137.6h1.5v1.5h-1.5zM325.65 137.64h1.5v1.5h-1.5zM327.14 137.53h1.5v1.5h-1.5zM327.14 137.7h1.5v1.5h-1.5zM330.64 137.61h1.5v1.5h-1.5zM331.64 137.69h1.5v1.5h-1.5zM333.63 137.74h1.5v1.5h-1.5zM334.13 137.56h1.5v1.5h-1.5zM339.62 137.63h1.5v1.5h-1.5zM342.61 137.62h1.5v1.5h-1.5zM343.11 137.57h1.5v1.5h-1.5zM388.52 137.61h1.5v1.5h-1.5zM422.45 137.51h1.5v1.5h-1.5zM423.45 137.57h1.5v1.5h-1.5zM465.87 137.65h1.5v1.5h-1.5zM490.82 137.58h1.5v1.5h-1.5zM518.26 137.64h1.5v1.5h-1.5zM539.72 137.51h1.5v1.5h-1.5zM106.09 137.81h1.5v1.5h-1.5zM253.79 137.82h1.5v1.5h-1.5zM259.28 137.8h1.5v1.5h-1.5zM269.76 137.77h1.5v1.5h-1.5zM305.69 137.8h1.5v1.5h-1.5zM311.68 137.76h1.5v1.5h-1.5zM312.67 137.79h1.5v1.5h-1.5zM325.15 137.76h1.5v1.5h-1.5zM325.65 137.78h1.5v1.5h-1.5zM331.64 137.82h1.5v1.5h-1.5zM334.13 137.76h1.5v1.5h-1.5zM337.12 137.76h1.5v1.5h-1.5zM365.07 137.78h1.5v1.5h-1.5zM389.52 137.78h1.5v1.5h-1.5zM416.47 137.77h1.5v1.5h-1.5zM435.93 137.8h1.5v1.5h-1.5zM538.22 137.8h1.5v1.5h-1.5zM97.11 139.31h1.5v1.5h-1.5zM113.07 139.3h1.5v1.5h-1.5zM123.55 139.47h1.5v1.5h-1.5zM132.04 139.47h1.5v1.5h-1.5zM158.48 139.48h1.5v1.5h-1.5zM166.47 139.48h1.5v1.5h-1.5zM194.41 139.39h1.5v1.5h-1.5zM199.9 139.29h1.5v1.5h-1.5zM211.88 139.46h1.5v1.5h-1.5zM219.36 139.4h1.5v1.5h-1.5zM228.84 139.2h1.5v1.5h-1.5zM239.82 139.31h1.5v1.5h-1.5zM255.79 139.21h1.5v1.5h-1.5zM286.73 139.43h1.5v1.5h-1.5zM287.72 139.5h1.5v1.5h-1.5zM287.72 139.33h1.5v1.5h-1.5zM291.22 139.42h1.5v1.5h-1.5zM302.69 139.19h1.5v1.5h-1.5zM302.69 139.36h1.5v1.5h-1.5zM309.68 139.37h1.5v1.5h-1.5zM309.68 139.37h1.5v1.5h-1.5zM315.17 139.35h1.5v1.5h-1.5zM320.16 139.37h1.5v1.5h-1.5zM321.16 139.41h1.5v1.5h-1.5zM322.15 139.42h1.5v1.5h-1.5zM325.15 139.29h1.5v1.5h-1.5zM332.13 139.28h1.5v1.5h-1.5zM338.62 139.43h1.5v1.5h-1.5zM341.12 139.4h1.5v1.5h-1.5zM347.6 139.5h1.5v1.5h-1.5zM348.1 139.27h1.5v1.5h-1.5zM349.6 139.33h1.5v1.5h-1.5zM355.09 139.29h1.5v1.5h-1.5zM355.09 139.22h1.5v1.5h-1.5zM357.08 139.21h1.5v1.5h-1.5zM375.55 139.24h1.5v1.5h-1.5zM394.01 139.49h1.5v1.5h-1.5zM408.98 139.24h1.5v1.5h-1.5zM519.26 139.37h1.5v1.5h-1.5zM95.61 140.98h1.5v1.5h-1.5zM127.05 141h1.5v1.5h-1.5zM194.41 140.95h1.5v1.5h-1.5zM245.81 141.08h1.5v1.5h-1.5zM251.3 141.19h1.5v1.5h-1.5zM264.77 140.87h1.5v1.5h-1.5zM269.26 141.2h1.5v1.5h-1.5zM282.73 141.16h1.5v1.5h-1.5zM285.73 141.18h1.5v1.5h-1.5zM290.22 140.92h1.5v1.5h-1.5zM294.71 140.92h1.5v1.5h-1.5zM296.21 140.94h1.5v1.5h-1.5zM299.2 140.99h1.5v1.5h-1.5zM304.19 141.02h1.5v1.5h-1.5zM305.19 141.14h1.5v1.5h-1.5zM311.18 141.11h1.5v1.5h-1.5zM315.17 141.09h1.5v1.5h-1.5zM318.66 141.07h1.5v1.5h-1.5zM329.64 141.17h1.5v1.5h-1.5zM330.64 141.2h1.5v1.5h-1.5zM333.63 141.01h1.5v1.5h-1.5zM335.13 140.91h1.5v1.5h-1.5zM335.13 141.2h1.5v1.5h-1.5zM335.63 140.92h1.5v1.5h-1.5zM336.13 141.02h1.5v1.5h-1.5zM337.62 141.08h1.5v1.5h-1.5zM338.12 140.94h1.5v1.5h-1.5zM343.61 141.05h1.5v1.5h-1.5zM347.1 141.01h1.5v1.5h-1.5zM348.1 140.9h1.5v1.5h-1.5zM349.1 141.14h1.5v1.5h-1.5zM350.6 140.99h1.5v1.5h-1.5zM357.58 141.08h1.5v1.5h-1.5zM364.07 141.05h1.5v1.5h-1.5zM364.57 141.17h1.5v1.5h-1.5zM365.07 140.94h1.5v1.5h-1.5zM366.07 141h1.5v1.5h-1.5zM381.54 141.07h1.5v1.5h-1.5zM390.52 140.96h1.5v1.5h-1.5zM481.83 141.03h1.5v1.5h-1.5zM555.19 141.13h1.5v1.5h-1.5zM113.57 142.67h1.5v1.5h-1.5zM150 142.65h1.5v1.5h-1.5zM293.71 142.59h1.5v1.5h-1.5zM296.21 142.61h1.5v1.5h-1.5zM299.2 142.69h1.5v1.5h-1.5zM301.2 142.68h1.5v1.5h-1.5zM301.7 142.75h1.5v1.5h-1.5zM309.68 142.73h1.5v1.5h-1.5zM311.68 142.71h1.5v1.5h-1.5zM316.17 142.66h1.5v1.5h-1.5zM321.16 142.56h1.5v1.5h-1.5zM325.15 142.68h1.5v1.5h-1.5zM327.14 142.64h1.5v1.5h-1.5zM330.14 142.65h1.5v1.5h-1.5zM335.13 142.66h1.5v1.5h-1.5zM343.11 142.62h1.5v1.5h-1.5zM346.11 142.68h1.5v1.5h-1.5zM350.1 142.62h1.5v1.5h-1.5zM350.6 142.6h1.5v1.5h-1.5zM378.04 142.72h1.5v1.5h-1.5zM399.5 142.57h1.5v1.5h-1.5zM466.37 142.62h1.5v1.5h-1.5zM492.81 142.66h1.5v1.5h-1.5zM520.76 142.59h1.5v1.5h-1.5zM565.17 142.57h1.5v1.5h-1.5zM199.9 142.78h1.5v1.5h-1.5zM232.83 142.8h1.5v1.5h-1.5zM261.28 142.85h1.5v1.5h-1.5zM303.69 142.85h1.5v1.5h-1.5zM310.18 142.82h1.5v1.5h-1.5zM332.63 142.81h1.5v1.5h-1.5zM336.13 142.85h1.5v1.5h-1.5zM346.61 142.87h1.5v1.5h-1.5zM386.53 142.8h1.5v1.5h-1.5zM402 142.83h1.5v1.5h-1.5zM430.94 142.83h1.5v1.5h-1.5zM449.9 142.78h1.5v1.5h-1.5zM117.56 144.48h1.5v1.5h-1.5zM213.87 144.28h1.5v1.5h-1.5zM218.86 144.3h1.5v1.5h-1.5zM250.3 144.37h1.5v1.5h-1.5zM282.73 144.48h1.5v1.5h-1.5zM288.22 144.48h1.5v1.5h-1.5zM291.22 144.42h1.5v1.5h-1.5zM297.2 144.48h1.5v1.5h-1.5zM299.2 144.41h1.5v1.5h-1.5zM300.2 144.28h1.5v1.5h-1.5zM303.19 144.44h1.5v1.5h-1.5zM303.19 144.34h1.5v1.5h-1.5zM312.17 144.5h1.5v1.5h-1.5zM312.67 144.56h1.5v1.5h-1.5zM314.67 144.46h1.5v1.5h-1.5zM316.67 144.26h1.5v1.5h-1.5zM325.15 144.26h1.5v1.5h-1.5zM325.65 144.38h1.5v1.5h-1.5zM331.14 144.44h1.5v1.5h-1.5zM334.13 144.3h1.5v1.5h-1.5zM336.63 144.51h1.5v1.5h-1.5zM345.61 144.47h1.5v1.5h-1.5zM346.61 144.44h1.5v1.5h-1.5zM348.1 144.51h1.5v1.5h-1.5zM353.09 144.34h1.5v1.5h-1.5zM357.58 144.47h1.5v1.5h-1.5zM364.57 144.37h1.5v1.5h-1.5zM385.03 144.39h1.5v1.5h-1.5zM387.02 144.26h1.5v1.5h-1.5zM401 144.39h1.5v1.5h-1.5zM413.47 144.5h1.5v1.5h-1.5zM474.85 144.34h1.5v1.5h-1.5zM483.83 144.58h1.5v1.5h-1.5zM493.81 144.47h1.5v1.5h-1.5zM503.29 144.55h1.5v1.5h-1.5zM517.76 144.54h1.5v1.5h-1.5zM528.24 144.28h1.5v1.5h-1.5zM531.74 144.51h1.5v1.5h-1.5zM555.19 144.46h1.5v1.5h-1.5zM85.63 146.17h1.5v1.5h-1.5zM95.61 146.08h1.5v1.5h-1.5zM97.6 146.19h1.5v1.5h-1.5zM107.09 146.25h1.5v1.5h-1.5zM133.03 146.14h1.5v1.5h-1.5zM137.03 145.96h1.5v1.5h-1.5zM173.95 146.16h1.5v1.5h-1.5zM242.31 145.97h1.5v1.5h-1.5zM250.8 146.11h1.5v1.5h-1.5zM257.78 146.17h1.5v1.5h-1.5zM265.27 145.99h1.5v1.5h-1.5zM275.25 146.06h1.5v1.5h-1.5zM289.22 146.22h1.5v1.5h-1.5zM292.71 146.15h1.5v1.5h-1.5zM294.21 146.25h1.5v1.5h-1.5zM300.2 146.04h1.5v1.5h-1.5zM306.69 146.15h1.5v1.5h-1.5zM307.19 145.97h1.5v1.5h-1.5zM308.18 145.94h1.5v1.5h-1.5zM308.18 146.26h1.5v1.5h-1.5zM309.18 146.08h1.5v1.5h-1.5zM314.17 146.06h1.5v1.5h-1.5zM315.67 146.03h1.5v1.5h-1.5zM318.16 146.07h1.5v1.5h-1.5zM321.66 146.06h1.5v1.5h-1.5zM329.14 146.19h1.5v1.5h-1.5zM329.64 146.08h1.5v1.5h-1.5zM337.12 146.13h1.5v1.5h-1.5zM340.62 146.23h1.5v1.5h-1.5zM345.61 145.98h1.5v1.5h-1.5zM349.6 145.96h1.5v1.5h-1.5zM355.59 146.26h1.5v1.5h-1.5zM360.08 146.19h1.5v1.5h-1.5zM366.57 146.23h1.5v1.5h-1.5zM367.56 146.15h1.5v1.5h-1.5zM378.04 146.12h1.5v1.5h-1.5zM392.01 146.23h1.5v1.5h-1.5zM400.5 146.12h1.5v1.5h-1.5zM402.99 146.18h1.5v1.5h-1.5zM434.43 146.25h1.5v1.5h-1.5zM441.42 146.1h1.5v1.5h-1.5zM504.29 146.1h1.5v1.5h-1.5zM532.23 146.13h1.5v1.5h-1.5zM540.22 145.95h1.5v1.5h-1.5zM541.22 146.15h1.5v1.5h-1.5zM558.68 146.14h1.5v1.5h-1.5zM562.17 146.2h1.5v1.5h-1.5zM109.08 147.68h1.5v1.5h-1.5zM171.96 147.75h1.5v1.5h-1.5zM186.43 147.65h1.5v1.5h-1.5zM271.26 147.72h1.5v1.5h-1.5zM286.73 147.74h1.5v1.5h-1.5zM293.71 147.64h1.5v1.5h-1.5zM297.7 147.63h1.5v1.5h-1.5zM311.68 147.71h1.5v1.5h-1.5zM317.16 147.72h1.5v1.5h-1.5zM317.66 147.64h1.5v1.5h-1.5zM322.15 147.65h1.5v1.5h-1.5zM328.64 147.63h1.5v1.5h-1.5zM329.14 147.68h1.5v1.5h-1.5zM330.64 147.72h1.5v1.5h-1.5zM334.13 147.71h1.5v1.5h-1.5zM346.61 147.63h1.5v1.5h-1.5zM347.1 147.73h1.5v1.5h-1.5zM348.1 147.68h1.5v1.5h-1.5zM359.58 147.65h1.5v1.5h-1.5zM431.44 147.63h1.5v1.5h-1.5zM448.4 147.68h1.5v1.5h-1.5zM509.28 147.73h1.5v1.5h-1.5zM80.14 147.91h1.5v1.5h-1.5zM173.95 147.94h1.5v1.5h-1.5zM263.77 147.9h1.5v1.5h-1.5zM272.75 147.81h1.5v1.5h-1.5zM286.23 147.85h1.5v1.5h-1.5zM291.72 147.76h1.5v1.5h-1.5zM292.71 147.76h1.5v1.5h-1.5zM304.69 147.95h1.5v1.5h-1.5zM308.68 147.87h1.5v1.5h-1.5zM312.17 147.92h1.5v1.5h-1.5zM314.17 147.82h1.5v1.5h-1.5zM317.16 147.84h1.5v1.5h-1.5zM317.66 147.87h1.5v1.5h-1.5zM321.66 147.9h1.5v1.5h-1.5zM323.65 147.89h1.5v1.5h-1.5zM327.14 147.9h1.5v1.5h-1.5zM332.13 147.87h1.5v1.5h-1.5zM334.13 147.82h1.5v1.5h-1.5zM342.61 147.88h1.5v1.5h-1.5zM343.61 147.92h1.5v1.5h-1.5zM343.61 147.84h1.5v1.5h-1.5zM344.11 147.78h1.5v1.5h-1.5zM345.11 147.91h1.5v1.5h-1.5zM346.11 147.85h1.5v1.5h-1.5zM362.07 147.92h1.5v1.5h-1.5zM363.07 147.86h1.5v1.5h-1.5zM364.07 147.77h1.5v1.5h-1.5zM370.56 147.95h1.5v1.5h-1.5zM373.55 147.77h1.5v1.5h-1.5zM385.03 147.84h1.5v1.5h-1.5zM419.96 147.77h1.5v1.5h-1.5zM458.88 147.75h1.5v1.5h-1.5zM486.82 147.79h1.5v1.5h-1.5zM487.82 147.82h1.5v1.5h-1.5zM491.81 147.83h1.5v1.5h-1.5zM563.67 147.95h1.5v1.5h-1.5zM88.62 149.64h1.5v1.5h-1.5zM96.61 149.41h1.5v1.5h-1.5zM196.91 149.38h1.5v1.5h-1.5zM219.86 149.43h1.5v1.5h-1.5zM229.34 149.4h1.5v1.5h-1.5zM232.33 149.4h1.5v1.5h-1.5zM245.31 149.42h1.5v1.5h-1.5zM245.31 149.51h1.5v1.5h-1.5zM260.28 149.44h1.5v1.5h-1.5zM297.2 149.56h1.5v1.5h-1.5zM298.7 149.51h1.5v1.5h-1.5zM303.19 149.59h1.5v1.5h-1.5zM307.19 149.31h1.5v1.5h-1.5zM310.18 149.41h1.5v1.5h-1.5zM312.67 149.34h1.5v1.5h-1.5zM313.67 149.39h1.5v1.5h-1.5zM320.16 149.49h1.5v1.5h-1.5zM322.15 149.45h1.5v1.5h-1.5zM322.65 149.52h1.5v1.5h-1.5zM327.64 149.36h1.5v1.5h-1.5zM330.64 149.43h1.5v1.5h-1.5zM330.64 149.51h1.5v1.5h-1.5zM331.14 149.43h1.5v1.5h-1.5zM331.14 149.55h1.5v1.5h-1.5zM344.11 149.47h1.5v1.5h-1.5zM344.11 149.61h1.5v1.5h-1.5zM344.61 149.61h1.5v1.5h-1.5zM345.61 149.4h1.5v1.5h-1.5zM354.09 149.63h1.5v1.5h-1.5zM355.09 149.59h1.5v1.5h-1.5zM355.09 149.51h1.5v1.5h-1.5zM358.58 149.52h1.5v1.5h-1.5zM370.56 149.56h1.5v1.5h-1.5zM393.01 149.47h1.5v1.5h-1.5zM422.45 149.39h1.5v1.5h-1.5zM435.93 149.39h1.5v1.5h-1.5zM524.75 149.47h1.5v1.5h-1.5zM539.72 149.41h1.5v1.5h-1.5zM550.2 149.41h1.5v1.5h-1.5zM84.13 151.06h1.5v1.5h-1.5zM148.5 151.16h1.5v1.5h-1.5zM149.5 151.06h1.5v1.5h-1.5zM239.32 151.27h1.5v1.5h-1.5zM257.78 151.23h1.5v1.5h-1.5zM272.25 151.03h1.5v1.5h-1.5zM278.74 151.33h1.5v1.5h-1.5zM281.74 151.33h1.5v1.5h-1.5zM286.23 151.13h1.5v1.5h-1.5zM293.71 151.19h1.5v1.5h-1.5zM295.21 151.01h1.5v1.5h-1.5zM298.7 151.06h1.5v1.5h-1.5zM299.7 151.01h1.5v1.5h-1.5zM305.19 151.15h1.5v1.5h-1.5zM306.69 151.32h1.5v1.5h-1.5zM309.68 151.17h1.5v1.5h-1.5zM312.67 151.04h1.5v1.5h-1.5zM314.17 151.01h1.5v1.5h-1.5zM314.17 151.32h1.5v1.5h-1.5zM314.67 151.2h1.5v1.5h-1.5zM316.17 151.17h1.5v1.5h-1.5zM316.67 151.31h1.5v1.5h-1.5zM318.16 151.28h1.5v1.5h-1.5zM322.15 151.07h1.5v1.5h-1.5zM322.65 151.26h1.5v1.5h-1.5zM322.65 151.29h1.5v1.5h-1.5zM324.65 151.33h1.5v1.5h-1.5zM331.14 151.12h1.5v1.5h-1.5zM331.64 151.23h1.5v1.5h-1.5zM335.13 151.12h1.5v1.5h-1.5zM337.12 151.14h1.5v1.5h-1.5zM341.12 151.32h1.5v1.5h-1.5zM342.61 151.18h1.5v1.5h-1.5zM344.11 151.18h1.5v1.5h-1.5zM346.61 151.04h1.5v1.5h-1.5zM348.1 151.3h1.5v1.5h-1.5zM366.07 151.05h1.5v1.5h-1.5zM377.54 151.08h1.5v1.5h-1.5zM378.54 151.24h1.5v1.5h-1.5zM380.04 151.03h1.5v1.5h-1.5zM380.54 151.15h1.5v1.5h-1.5zM381.54 151.12h1.5v1.5h-1.5zM410.48 151.24h1.5v1.5h-1.5zM414.97 151.23h1.5v1.5h-1.5zM450.4 151.19h1.5v1.5h-1.5zM478.34 151.12h1.5v1.5h-1.5zM521.75 151.02h1.5v1.5h-1.5zM521.75 151.29h1.5v1.5h-1.5zM530.74 151.2h1.5v1.5h-1.5zM546.7 151.18h1.5v1.5h-1.5zM548.7 151.08h1.5v1.5h-1.5zM289.72 152.69h1.5v1.5h-1.5zM290.72 152.74h1.5v1.5h-1.5zM305.69 152.69h1.5v1.5h-1.5zM307.68 152.73h1.5v1.5h-1.5zM317.66 152.69h1.5v1.5h-1.5zM324.15 152.71h1.5v1.5h-1.5zM345.11 152.75h1.5v1.5h-1.5zM353.59 152.71h1.5v1.5h-1.5zM356.59 152.71h1.5v1.5h-1.5zM387.02 152.75h1.5v1.5h-1.5zM136.03 152.82h1.5v1.5h-1.5zM231.34 152.79h1.5v1.5h-1.5zM262.77 153.01h1.5v1.5h-1.5zM281.24 153h1.5v1.5h-1.5zM285.73 152.87h1.5v1.5h-1.5zM292.71 152.94h1.5v1.5h-1.5zM293.71 152.93h1.5v1.5h-1.5zM300.2 153.02h1.5v1.5h-1.5zM300.7 152.91h1.5v1.5h-1.5zM311.68 152.76h1.5v1.5h-1.5zM315.67 152.91h1.5v1.5h-1.5zM316.67 152.86h1.5v1.5h-1.5zM317.16 152.94h1.5v1.5h-1.5zM322.15 152.81h1.5v1.5h-1.5zM323.15 152.99h1.5v1.5h-1.5zM324.65 152.97h1.5v1.5h-1.5zM326.65 152.83h1.5v1.5h-1.5zM327.64 152.98h1.5v1.5h-1.5zM339.12 153.01h1.5v1.5h-1.5zM342.61 152.96h1.5v1.5h-1.5zM349.1 152.78h1.5v1.5h-1.5zM351.6 152.85h1.5v1.5h-1.5zM354.09 153.01h1.5v1.5h-1.5zM357.58 152.98h1.5v1.5h-1.5zM363.57 152.81h1.5v1.5h-1.5zM371.06 152.91h1.5v1.5h-1.5zM381.04 152.83h1.5v1.5h-1.5zM382.53 152.76h1.5v1.5h-1.5zM384.03 152.76h1.5v1.5h-1.5zM395.51 152.85h1.5v1.5h-1.5zM396.51 152.97h1.5v1.5h-1.5zM402.99 152.93h1.5v1.5h-1.5zM417.46 153.02h1.5v1.5h-1.5zM435.93 152.89h1.5v1.5h-1.5zM506.29 153.01h1.5v1.5h-1.5zM541.22 153.01h1.5v1.5h-1.5zM109.08 154.63h1.5v1.5h-1.5zM164.97 154.43h1.5v1.5h-1.5zM240.82 154.6h1.5v1.5h-1.5zM244.81 154.71h1.5v1.5h-1.5zM279.24 154.49h1.5v1.5h-1.5zM280.74 154.51h1.5v1.5h-1.5zM280.74 154.55h1.5v1.5h-1.5zM284.23 154.48h1.5v1.5h-1.5zM295.71 154.61h1.5v1.5h-1.5zM306.69 154.51h1.5v1.5h-1.5zM307.68 154.59h1.5v1.5h-1.5zM308.68 154.44h1.5v1.5h-1.5zM309.68 154.43h1.5v1.5h-1.5zM310.68 154.59h1.5v1.5h-1.5zM313.67 154.56h1.5v1.5h-1.5zM315.17 154.52h1.5v1.5h-1.5zM315.67 154.65h1.5v1.5h-1.5zM316.17 154.56h1.5v1.5h-1.5zM317.16 154.62h1.5v1.5h-1.5zM326.65 154.42h1.5v1.5h-1.5zM334.13 154.52h1.5v1.5h-1.5zM336.13 154.59h1.5v1.5h-1.5zM338.12 154.63h1.5v1.5h-1.5zM340.62 154.39h1.5v1.5h-1.5zM345.11 154.66h1.5v1.5h-1.5zM345.11 154.66h1.5v1.5h-1.5zM346.11 154.47h1.5v1.5h-1.5zM347.1 154.67h1.5v1.5h-1.5zM348.6 154.54h1.5v1.5h-1.5zM350.1 154.5h1.5v1.5h-1.5zM358.58 154.4h1.5v1.5h-1.5zM370.06 154.69h1.5v1.5h-1.5zM379.54 154.7h1.5v1.5h-1.5zM382.53 154.66h1.5v1.5h-1.5zM399 154.58h1.5v1.5h-1.5zM446.9 154.58h1.5v1.5h-1.5zM451.4 154.67h1.5v1.5h-1.5zM466.37 154.46h1.5v1.5h-1.5zM466.87 154.4h1.5v1.5h-1.5zM488.32 154.53h1.5v1.5h-1.5zM527.24 154.67h1.5v1.5h-1.5zM539.22 154.61h1.5v1.5h-1.5zM81.14 156.23h1.5v1.5h-1.5zM113.07 156.19h1.5v1.5h-1.5zM130.54 156.27h1.5v1.5h-1.5zM138.02 156.37h1.5v1.5h-1.5zM184.93 156.31h1.5v1.5h-1.5zM194.41 156.2h1.5v1.5h-1.5zM201.9 156.24h1.5v1.5h-1.5zM208.88 156.23h1.5v1.5h-1.5zM222.85 156.19h1.5v1.5h-1.5zM278.24 156.26h1.5v1.5h-1.5zM287.72 156.34h1.5v1.5h-1.5zM288.72 156.35h1.5v1.5h-1.5zM291.72 156.09h1.5v1.5h-1.5zM292.21 156.09h1.5v1.5h-1.5zM296.71 156.17h1.5v1.5h-1.5zM301.2 156.22h1.5v1.5h-1.5zM304.69 156.13h1.5v1.5h-1.5zM305.19 156.28h1.5v1.5h-1.5zM306.19 156.09h1.5v1.5h-1.5zM307.19 156.26h1.5v1.5h-1.5zM310.18 156.09h1.5v1.5h-1.5zM312.17 156.06h1.5v1.5h-1.5zM314.67 156.1h1.5v1.5h-1.5zM316.17 156.26h1.5v1.5h-1.5zM317.16 156.26h1.5v1.5h-1.5zM317.66 156.16h1.5v1.5h-1.5zM319.66 156.26h1.5v1.5h-1.5zM321.16 156.39h1.5v1.5h-1.5zM324.65 156.21h1.5v1.5h-1.5zM330.64 156.09h1.5v1.5h-1.5zM331.64 156.37h1.5v1.5h-1.5zM331.64 156.18h1.5v1.5h-1.5zM332.13 156.09h1.5v1.5h-1.5zM333.13 156.37h1.5v1.5h-1.5zM334.13 156.06h1.5v1.5h-1.5zM342.11 156.14h1.5v1.5h-1.5zM348.6 156.1h1.5v1.5h-1.5zM356.09 156.1h1.5v1.5h-1.5zM358.58 156.11h1.5v1.5h-1.5zM366.57 156.25h1.5v1.5h-1.5zM385.03 156.39h1.5v1.5h-1.5zM390.52 156.31h1.5v1.5h-1.5zM449.4 156.3h1.5v1.5h-1.5zM501.79 156.07h1.5v1.5h-1.5zM532.23 156.13h1.5v1.5h-1.5zM82.14 157.88h1.5v1.5h-1.5zM82.14 158.04h1.5v1.5h-1.5zM83.13 157.89h1.5v1.5h-1.5zM106.59 158h1.5v1.5h-1.5zM141.52 157.97h1.5v1.5h-1.5zM161.98 157.99h1.5v1.5h-1.5zM180.94 157.98h1.5v1.5h-1.5zM235.33 157.78h1.5v1.5h-1.5zM241.32 158.07h1.5v1.5h-1.5zM268.76 158.03h1.5v1.5h-1.5zM292.71 158.03h1.5v1.5h-1.5zM298.2 157.86h1.5v1.5h-1.5zM298.7 157.76h1.5v1.5h-1.5zM302.19 158.07h1.5v1.5h-1.5zM302.19 157.94h1.5v1.5h-1.5zM312.67 157.9h1.5v1.5h-1.5zM313.17 157.93h1.5v1.5h-1.5zM314.17 157.9h1.5v1.5h-1.5zM314.67 157.93h1.5v1.5h-1.5zM318.66 157.85h1.5v1.5h-1.5zM320.16 157.98h1.5v1.5h-1.5zM322.15 157.77h1.5v1.5h-1.5zM323.15 157.84h1.5v1.5h-1.5zM325.15 157.75h1.5v1.5h-1.5zM327.64 157.88h1.5v1.5h-1.5zM329.64 158.04h1.5v1.5h-1.5zM330.14 157.86h1.5v1.5h-1.5zM330.14 158.07h1.5v1.5h-1.5zM331.14 157.88h1.5v1.5h-1.5zM343.11 157.88h1.5v1.5h-1.5zM350.6 158.03h1.5v1.5h-1.5zM354.09 158.07h1.5v1.5h-1.5zM364.57 157.77h1.5v1.5h-1.5zM369.06 158.05h1.5v1.5h-1.5zM373.05 158.01h1.5v1.5h-1.5zM375.05 157.89h1.5v1.5h-1.5zM378.04 157.9h1.5v1.5h-1.5zM381.54 157.87h1.5v1.5h-1.5zM411.97 157.94h1.5v1.5h-1.5zM448.4 158.01h1.5v1.5h-1.5zM510.78 157.85h1.5v1.5h-1.5zM522.75 157.98h1.5v1.5h-1.5zM540.72 157.79h1.5v1.5h-1.5zM546.7 157.81h1.5v1.5h-1.5zM93.61 159.63h1.5v1.5h-1.5zM128.54 159.6h1.5v1.5h-1.5zM135.03 159.69h1.5v1.5h-1.5zM188.42 159.46h1.5v1.5h-1.5zM228.84 159.72h1.5v1.5h-1.5zM230.84 159.67h1.5v1.5h-1.5zM238.82 159.65h1.5v1.5h-1.5zM269.76 159.61h1.5v1.5h-1.5zM279.74 159.62h1.5v1.5h-1.5zM288.72 159.64h1.5v1.5h-1.5zM295.71 159.49h1.5v1.5h-1.5zM299.7 159.45h1.5v1.5h-1.5zM300.7 159.71h1.5v1.5h-1.5zM301.2 159.65h1.5v1.5h-1.5zM305.69 159.74h1.5v1.5h-1.5zM310.18 159.72h1.5v1.5h-1.5zM313.17 159.44h1.5v1.5h-1.5zM314.67 159.66h1.5v1.5h-1.5zM315.67 159.65h1.5v1.5h-1.5zM319.16 159.54h1.5v1.5h-1.5zM320.16 159.66h1.5v1.5h-1.5zM325.15 159.56h1.5v1.5h-1.5zM325.15 159.59h1.5v1.5h-1.5zM326.65 159.52h1.5v1.5h-1.5zM327.14 159.63h1.5v1.5h-1.5zM327.14 159.55h1.5v1.5h-1.5zM328.64 159.59h1.5v1.5h-1.5zM329.64 159.52h1.5v1.5h-1.5zM330.14 159.64h1.5v1.5h-1.5zM331.14 159.53h1.5v1.5h-1.5zM331.14 159.54h1.5v1.5h-1.5zM331.64 159.62h1.5v1.5h-1.5zM333.63 159.75h1.5v1.5h-1.5zM333.63 159.59h1.5v1.5h-1.5zM335.63 159.71h1.5v1.5h-1.5zM336.13 159.46h1.5v1.5h-1.5zM336.13 159.64h1.5v1.5h-1.5zM336.63 159.68h1.5v1.5h-1.5zM338.12 159.72h1.5v1.5h-1.5zM341.12 159.6h1.5v1.5h-1.5zM342.61 159.65h1.5v1.5h-1.5zM349.1 159.45h1.5v1.5h-1.5zM350.6 159.73h1.5v1.5h-1.5zM359.58 159.6h1.5v1.5h-1.5zM360.08 159.73h1.5v1.5h-1.5zM389.02 159.61h1.5v1.5h-1.5zM391.52 159.69h1.5v1.5h-1.5zM393.51 159.55h1.5v1.5h-1.5zM410.48 159.64h1.5v1.5h-1.5zM414.47 159.51h1.5v1.5h-1.5zM422.45 159.63h1.5v1.5h-1.5zM444.41 159.73h1.5v1.5h-1.5zM495.81 159.57h1.5v1.5h-1.5zM524.75 159.66h1.5v1.5h-1.5zM527.24 159.73h1.5v1.5h-1.5zM535.23 159.53h1.5v1.5h-1.5zM542.71 159.7h1.5v1.5h-1.5zM571.65 159.46h1.5v1.5h-1.5zM79.14 159.75h1.5v1.5h-1.5zM325.15 159.75h1.5v1.5h-1.5zM332.63 159.75h1.5v1.5h-1.5zM333.13 159.78h1.5v1.5h-1.5zM109.08 161.45h1.5v1.5h-1.5zM160.98 161.3h1.5v1.5h-1.5zM164.97 161.16h1.5v1.5h-1.5zM216.87 161.37h1.5v1.5h-1.5zM228.84 161.36h1.5v1.5h-1.5zM236.83 161.32h1.5v1.5h-1.5zM239.32 161.14h1.5v1.5h-1.5zM264.77 161.23h1.5v1.5h-1.5zM279.24 161.42h1.5v1.5h-1.5zM284.23 161.33h1.5v1.5h-1.5zM297.7 161.42h1.5v1.5h-1.5zM298.7 161.39h1.5v1.5h-1.5zM301.2 161.28h1.5v1.5h-1.5zM302.19 161.43h1.5v1.5h-1.5zM304.69 161.36h1.5v1.5h-1.5zM305.69 161.38h1.5v1.5h-1.5zM305.69 161.45h1.5v1.5h-1.5zM307.19 161.25h1.5v1.5h-1.5zM308.18 161.19h1.5v1.5h-1.5zM310.18 161.35h1.5v1.5h-1.5zM311.68 161.38h1.5v1.5h-1.5zM311.68 161.31h1.5v1.5h-1.5zM311.68 161.27h1.5v1.5h-1.5zM313.17 161.3h1.5v1.5h-1.5zM314.17 161.45h1.5v1.5h-1.5zM315.17 161.27h1.5v1.5h-1.5zM317.66 161.18h1.5v1.5h-1.5zM322.15 161.36h1.5v1.5h-1.5zM322.15 161.23h1.5v1.5h-1.5zM326.65 161.24h1.5v1.5h-1.5zM332.63 161.22h1.5v1.5h-1.5zM340.12 161.13h1.5v1.5h-1.5zM342.11 161.28h1.5v1.5h-1.5zM349.6 161.46h1.5v1.5h-1.5zM353.09 161.14h1.5v1.5h-1.5zM356.59 161.32h1.5v1.5h-1.5zM357.08 161.26h1.5v1.5h-1.5zM363.07 161.25h1.5v1.5h-1.5zM367.56 161.27h1.5v1.5h-1.5zM372.05 161.4h1.5v1.5h-1.5zM377.54 161.41h1.5v1.5h-1.5zM381.04 161.44h1.5v1.5h-1.5zM449.9 161.46h1.5v1.5h-1.5zM466.87 161.2h1.5v1.5h-1.5zM80.64 162.89h1.5v1.5h-1.5zM88.12 163.13h1.5v1.5h-1.5zM94.61 163.1h1.5v1.5h-1.5zM99.1 162.86h1.5v1.5h-1.5zM102.59 163.11h1.5v1.5h-1.5zM165.47 163.06h1.5v1.5h-1.5zM175.95 162.82h1.5v1.5h-1.5zM199.4 162.81h1.5v1.5h-1.5zM206.39 162.86h1.5v1.5h-1.5zM241.32 163.12h1.5v1.5h-1.5zM255.29 163.01h1.5v1.5h-1.5zM263.77 163.15h1.5v1.5h-1.5zM281.74 163.03h1.5v1.5h-1.5zM285.73 162.95h1.5v1.5h-1.5zM287.72 163.1h1.5v1.5h-1.5zM287.72 163.04h1.5v1.5h-1.5zM294.71 162.98h1.5v1.5h-1.5zM303.69 163.08h1.5v1.5h-1.5zM304.69 162.82h1.5v1.5h-1.5zM306.69 163.12h1.5v1.5h-1.5zM310.18 162.94h1.5v1.5h-1.5zM312.17 162.86h1.5v1.5h-1.5zM313.67 162.98h1.5v1.5h-1.5zM314.67 162.99h1.5v1.5h-1.5zM320.16 162.97h1.5v1.5h-1.5zM323.15 162.98h1.5v1.5h-1.5zM326.15 163.06h1.5v1.5h-1.5zM328.64 162.9h1.5v1.5h-1.5zM330.64 163.03h1.5v1.5h-1.5zM334.13 162.95h1.5v1.5h-1.5zM335.63 163.03h1.5v1.5h-1.5zM337.62 162.88h1.5v1.5h-1.5zM338.12 163.06h1.5v1.5h-1.5zM339.62 162.91h1.5v1.5h-1.5zM341.62 162.98h1.5v1.5h-1.5zM344.11 162.83h1.5v1.5h-1.5zM345.11 163.13h1.5v1.5h-1.5zM349.1 163.02h1.5v1.5h-1.5zM350.1 163.06h1.5v1.5h-1.5zM353.09 162.97h1.5v1.5h-1.5zM361.08 163.09h1.5v1.5h-1.5zM367.56 162.95h1.5v1.5h-1.5zM377.54 163.09h1.5v1.5h-1.5zM406.49 162.88h1.5v1.5h-1.5zM416.47 162.86h1.5v1.5h-1.5zM424.45 162.9h1.5v1.5h-1.5zM435.93 163.12h1.5v1.5h-1.5zM452.89 163.07h1.5v1.5h-1.5zM473.85 163.14h1.5v1.5h-1.5zM490.32 163.06h1.5v1.5h-1.5zM509.78 163h1.5v1.5h-1.5zM130.54 164.59h1.5v1.5h-1.5zM218.36 164.56h1.5v1.5h-1.5zM258.78 164.54h1.5v1.5h-1.5zM269.26 164.7h1.5v1.5h-1.5zM284.73 164.7h1.5v1.5h-1.5zM295.21 164.63h1.5v1.5h-1.5zM296.71 164.52h1.5v1.5h-1.5zM307.68 164.58h1.5v1.5h-1.5zM308.68 164.68h1.5v1.5h-1.5zM314.67 164.58h1.5v1.5h-1.5zM315.17 164.62h1.5v1.5h-1.5zM316.17 164.72h1.5v1.5h-1.5zM316.67 164.57h1.5v1.5h-1.5zM318.66 164.62h1.5v1.5h-1.5zM324.65 164.65h1.5v1.5h-1.5zM325.15 164.56h1.5v1.5h-1.5zM328.14 164.65h1.5v1.5h-1.5zM339.12 164.66h1.5v1.5h-1.5zM341.12 164.74h1.5v1.5h-1.5zM341.12 164.63h1.5v1.5h-1.5zM346.61 164.66h1.5v1.5h-1.5zM350.1 164.7h1.5v1.5h-1.5zM352.09 164.51h1.5v1.5h-1.5zM352.59 164.57h1.5v1.5h-1.5zM358.58 164.74h1.5v1.5h-1.5zM375.55 164.61h1.5v1.5h-1.5zM377.54 164.61h1.5v1.5h-1.5zM391.52 164.53h1.5v1.5h-1.5zM419.46 164.59h1.5v1.5h-1.5zM455.39 164.62h1.5v1.5h-1.5zM456.88 164.7h1.5v1.5h-1.5zM490.82 164.59h1.5v1.5h-1.5zM513.27 164.66h1.5v1.5h-1.5zM525.25 164.62h1.5v1.5h-1.5zM537.22 164.62h1.5v1.5h-1.5zM540.22 164.73h1.5v1.5h-1.5zM124.05 164.8h1.5v1.5h-1.5zM234.33 164.8h1.5v1.5h-1.5zM262.27 164.81h1.5v1.5h-1.5zM286.73 164.8h1.5v1.5h-1.5zM293.71 164.79h1.5v1.5h-1.5zM294.21 164.76h1.5v1.5h-1.5zM319.16 164.82h1.5v1.5h-1.5zM325.15 164.78h1.5v1.5h-1.5zM331.14 164.83h1.5v1.5h-1.5zM337.12 164.8h1.5v1.5h-1.5zM337.62 164.76h1.5v1.5h-1.5zM341.62 164.81h1.5v1.5h-1.5zM342.61 164.83h1.5v1.5h-1.5zM356.59 164.76h1.5v1.5h-1.5zM378.04 164.76h1.5v1.5h-1.5zM390.52 164.8h1.5v1.5h-1.5zM395.01 164.79h1.5v1.5h-1.5zM518.26 164.77h1.5v1.5h-1.5zM552.69 164.77h1.5v1.5h-1.5zM116.57 166.36h1.5v1.5h-1.5zM125.55 166.5h1.5v1.5h-1.5zM134.53 166.29h1.5v1.5h-1.5zM174.45 166.39h1.5v1.5h-1.5zM216.37 166.39h1.5v1.5h-1.5zM221.86 166.45h1.5v1.5h-1.5zM228.84 166.27h1.5v1.5h-1.5zM234.33 166.37h1.5v1.5h-1.5zM251.3 166.47h1.5v1.5h-1.5zM257.28 166.52h1.5v1.5h-1.5zM258.28 166.37h1.5v1.5h-1.5zM268.76 166.42h1.5v1.5h-1.5zM269.76 166.51h1.5v1.5h-1.5zM280.24 166.42h1.5v1.5h-1.5zM287.72 166.28h1.5v1.5h-1.5zM289.72 166.48h1.5v1.5h-1.5zM297.2 166.28h1.5v1.5h-1.5zM304.19 166.39h1.5v1.5h-1.5zM304.69 166.46h1.5v1.5h-1.5zM305.69 166.49h1.5v1.5h-1.5zM306.19 166.22h1.5v1.5h-1.5zM308.68 166.28h1.5v1.5h-1.5zM311.18 166.51h1.5v1.5h-1.5zM311.18 166.24h1.5v1.5h-1.5zM311.18 166.25h1.5v1.5h-1.5zM311.68 166.33h1.5v1.5h-1.5zM315.67 166.38h1.5v1.5h-1.5zM316.67 166.27h1.5v1.5h-1.5zM317.16 166.38h1.5v1.5h-1.5zM317.16 166.4h1.5v1.5h-1.5zM317.16 166.22h1.5v1.5h-1.5zM318.16 166.27h1.5v1.5h-1.5zM319.16 166.21h1.5v1.5h-1.5zM320.16 166.25h1.5v1.5h-1.5zM324.15 166.47h1.5v1.5h-1.5zM324.65 166.47h1.5v1.5h-1.5zM324.65 166.38h1.5v1.5h-1.5zM326.15 166.21h1.5v1.5h-1.5zM326.65 166.51h1.5v1.5h-1.5zM333.13 166.39h1.5v1.5h-1.5zM334.63 166.4h1.5v1.5h-1.5zM336.13 166.36h1.5v1.5h-1.5zM340.12 166.29h1.5v1.5h-1.5zM342.11 166.46h1.5v1.5h-1.5zM342.61 166.48h1.5v1.5h-1.5zM343.61 166.5h1.5v1.5h-1.5zM346.11 166.51h1.5v1.5h-1.5zM350.1 166.24h1.5v1.5h-1.5zM356.09 166.3h1.5v1.5h-1.5zM356.09 166.22h1.5v1.5h-1.5zM360.08 166.21h1.5v1.5h-1.5zM364.57 166.39h1.5v1.5h-1.5zM373.55 166.38h1.5v1.5h-1.5zM375.05 166.26h1.5v1.5h-1.5zM382.53 166.25h1.5v1.5h-1.5zM383.53 166.32h1.5v1.5h-1.5zM385.03 166.24h1.5v1.5h-1.5zM477.34 166.33h1.5v1.5h-1.5zM481.83 166.52h1.5v1.5h-1.5zM507.28 166.35h1.5v1.5h-1.5zM508.28 166.52h1.5v1.5h-1.5zM517.76 166.42h1.5v1.5h-1.5zM527.24 166.35h1.5v1.5h-1.5zM531.24 166.26h1.5v1.5h-1.5zM535.73 166.22h1.5v1.5h-1.5zM566.66 166.3h1.5v1.5h-1.5zM90.62 168.2h1.5v1.5h-1.5zM134.03 167.89h1.5v1.5h-1.5zM138.52 168.12h1.5v1.5h-1.5zM162.97 168.08h1.5v1.5h-1.5zM164.97 168.05h1.5v1.5h-1.5zM174.95 167.92h1.5v1.5h-1.5zM184.93 167.94h1.5v1.5h-1.5zM214.87 167.92h1.5v1.5h-1.5zM276.25 168.16h1.5v1.5h-1.5zM290.22 168.1h1.5v1.5h-1.5zM290.22 168.01h1.5v1.5h-1.5zM291.72 168.19h1.5v1.5h-1.5zM296.71 168.04h1.5v1.5h-1.5zM298.2 168.02h1.5v1.5h-1.5zM298.2 168.01h1.5v1.5h-1.5zM300.2 167.98h1.5v1.5h-1.5zM304.19 168.05h1.5v1.5h-1.5zM305.19 168.12h1.5v1.5h-1.5zM305.19 168.13h1.5v1.5h-1.5zM306.69 167.97h1.5v1.5h-1.5zM307.19 168.19h1.5v1.5h-1.5zM307.68 168.21h1.5v1.5h-1.5zM308.18 167.94h1.5v1.5h-1.5zM309.18 168.2h1.5v1.5h-1.5zM309.68 168.15h1.5v1.5h-1.5zM310.18 167.94h1.5v1.5h-1.5zM314.17 168.14h1.5v1.5h-1.5zM314.67 168.09h1.5v1.5h-1.5zM314.67 167.93h1.5v1.5h-1.5zM315.17 168.02h1.5v1.5h-1.5zM317.16 168.01h1.5v1.5h-1.5zM322.65 167.99h1.5v1.5h-1.5zM323.65 168.12h1.5v1.5h-1.5zM324.65 167.9h1.5v1.5h-1.5zM325.15 167.97h1.5v1.5h-1.5zM332.13 168h1.5v1.5h-1.5zM332.13 168.08h1.5v1.5h-1.5zM335.13 167.98h1.5v1.5h-1.5zM337.12 168.1h1.5v1.5h-1.5zM338.62 168.15h1.5v1.5h-1.5zM339.62 168.16h1.5v1.5h-1.5zM344.61 167.95h1.5v1.5h-1.5zM346.11 168.06h1.5v1.5h-1.5zM349.1 168.1h1.5v1.5h-1.5zM350.1 168.07h1.5v1.5h-1.5zM350.6 168.14h1.5v1.5h-1.5zM351.6 168.13h1.5v1.5h-1.5zM354.59 168.1h1.5v1.5h-1.5zM363.57 168.13h1.5v1.5h-1.5zM372.05 168.17h1.5v1.5h-1.5zM375.05 167.9h1.5v1.5h-1.5zM382.53 168h1.5v1.5h-1.5zM431.93 168.04h1.5v1.5h-1.5zM495.31 168.17h1.5v1.5h-1.5zM538.22 168.18h1.5v1.5h-1.5zM85.13 169.69h1.5v1.5h-1.5zM91.62 169.6h1.5v1.5h-1.5zM92.61 169.58h1.5v1.5h-1.5zM99.1 169.68h1.5v1.5h-1.5zM120.06 169.73h1.5v1.5h-1.5zM158.98 169.65h1.5v1.5h-1.5zM168.96 169.74h1.5v1.5h-1.5zM206.39 169.59h1.5v1.5h-1.5zM262.27 169.65h1.5v1.5h-1.5zM289.22 169.61h1.5v1.5h-1.5zM303.69 169.58h1.5v1.5h-1.5zM311.18 169.59h1.5v1.5h-1.5zM322.15 169.7h1.5v1.5h-1.5zM323.65 169.64h1.5v1.5h-1.5zM327.14 169.72h1.5v1.5h-1.5zM331.14 169.67h1.5v1.5h-1.5zM333.63 169.66h1.5v1.5h-1.5zM333.63 169.6h1.5v1.5h-1.5zM339.12 169.62h1.5v1.5h-1.5zM341.12 169.63h1.5v1.5h-1.5zM341.12 169.59h1.5v1.5h-1.5zM343.61 169.58h1.5v1.5h-1.5zM357.08 169.71h1.5v1.5h-1.5zM363.07 169.58h1.5v1.5h-1.5zM367.06 169.73h1.5v1.5h-1.5zM411.97 169.65h1.5v1.5h-1.5zM462.37 169.67h1.5v1.5h-1.5zM468.86 169.58h1.5v1.5h-1.5zM500.8 169.65h1.5v1.5h-1.5zM514.27 169.64h1.5v1.5h-1.5zM529.24 169.68h1.5v1.5h-1.5zM570.66 169.71h1.5v1.5h-1.5zM85.63 169.77h1.5v1.5h-1.5zM120.56 169.87h1.5v1.5h-1.5zM162.47 169.9h1.5v1.5h-1.5zM201.9 169.85h1.5v1.5h-1.5zM217.36 169.78h1.5v1.5h-1.5zM240.32 169.83h1.5v1.5h-1.5zM251.3 169.77h1.5v1.5h-1.5zM269.76 169.81h1.5v1.5h-1.5zM273.25 169.77h1.5v1.5h-1.5zM274.25 169.76h1.5v1.5h-1.5zM283.73 169.9h1.5v1.5h-1.5zM287.72 169.83h1.5v1.5h-1.5zM289.22 169.76h1.5v1.5h-1.5zM295.21 169.77h1.5v1.5h-1.5zM301.2 169.85h1.5v1.5h-1.5zM302.19 169.81h1.5v1.5h-1.5zM315.67 169.85h1.5v1.5h-1.5zM321.66 169.8h1.5v1.5h-1.5zM322.65 169.82h1.5v1.5h-1.5zM323.65 169.86h1.5v1.5h-1.5zM331.14 169.87h1.5v1.5h-1.5zM338.62 169.81h1.5v1.5h-1.5zM339.62 169.81h1.5v1.5h-1.5zM352.09 169.82h1.5v1.5h-1.5zM369.06 169.85h1.5v1.5h-1.5zM386.53 169.88h1.5v1.5h-1.5zM409.98 169.78h1.5v1.5h-1.5zM432.93 169.83h1.5v1.5h-1.5zM445.41 169.79h1.5v1.5h-1.5zM550.7 169.76h1.5v1.5h-1.5zM117.56 171.33h1.5v1.5h-1.5zM129.04 171.35h1.5v1.5h-1.5zM173.95 171.44h1.5v1.5h-1.5zM218.36 171.36h1.5v1.5h-1.5zM270.76 171.32h1.5v1.5h-1.5zM275.75 171.38h1.5v1.5h-1.5zM279.24 171.39h1.5v1.5h-1.5zM280.24 171.42h1.5v1.5h-1.5zM286.23 171.59h1.5v1.5h-1.5zM289.72 171.45h1.5v1.5h-1.5zM297.2 171.52h1.5v1.5h-1.5zM305.19 171.56h1.5v1.5h-1.5zM313.67 171.26h1.5v1.5h-1.5zM315.17 171.46h1.5v1.5h-1.5zM316.17 171.32h1.5v1.5h-1.5zM318.16 171.27h1.5v1.5h-1.5zM320.66 171.58h1.5v1.5h-1.5zM321.16 171.3h1.5v1.5h-1.5zM323.15 171.48h1.5v1.5h-1.5zM324.15 171.42h1.5v1.5h-1.5zM324.15 171.38h1.5v1.5h-1.5zM324.65 171.26h1.5v1.5h-1.5zM325.65 171.38h1.5v1.5h-1.5zM328.64 171.44h1.5v1.5h-1.5zM329.64 171.54h1.5v1.5h-1.5zM334.13 171.53h1.5v1.5h-1.5zM334.13 171.27h1.5v1.5h-1.5zM338.12 171.39h1.5v1.5h-1.5zM341.12 171.42h1.5v1.5h-1.5zM346.11 171.35h1.5v1.5h-1.5zM348.6 171.51h1.5v1.5h-1.5zM352.09 171.34h1.5v1.5h-1.5zM352.59 171.51h1.5v1.5h-1.5zM361.58 171.33h1.5v1.5h-1.5zM365.07 171.27h1.5v1.5h-1.5zM365.57 171.3h1.5v1.5h-1.5zM387.52 171.49h1.5v1.5h-1.5zM390.52 171.32h1.5v1.5h-1.5zM392.51 171.37h1.5v1.5h-1.5zM399.5 171.34h1.5v1.5h-1.5zM405.49 171.46h1.5v1.5h-1.5zM419.46 171.44h1.5v1.5h-1.5zM424.45 171.42h1.5v1.5h-1.5zM435.43 171.53h1.5v1.5h-1.5zM435.43 171.35h1.5v1.5h-1.5zM446.41 171.28h1.5v1.5h-1.5zM483.33 171.59h1.5v1.5h-1.5zM495.81 171.59h1.5v1.5h-1.5zM496.8 171.44h1.5v1.5h-1.5zM517.76 171.45h1.5v1.5h-1.5zM87.13 173.04h1.5v1.5h-1.5zM128.04 173.26h1.5v1.5h-1.5zM144.51 173.12h1.5v1.5h-1.5zM197.4 173.03h1.5v1.5h-1.5zM198.4 173.16h1.5v1.5h-1.5zM213.87 173.23h1.5v1.5h-1.5zM214.87 173.09h1.5v1.5h-1.5zM224.85 172.99h1.5v1.5h-1.5zM229.34 173.28h1.5v1.5h-1.5zM274.25 173.05h1.5v1.5h-1.5zM274.25 173.25h1.5v1.5h-1.5zM280.74 173.24h1.5v1.5h-1.5zM282.73 173.13h1.5v1.5h-1.5zM284.73 173.04h1.5v1.5h-1.5zM287.22 173.13h1.5v1.5h-1.5zM292.21 173.16h1.5v1.5h-1.5zM293.71 173.02h1.5v1.5h-1.5zM298.7 173.27h1.5v1.5h-1.5zM299.2 172.96h1.5v1.5h-1.5zM299.7 173.27h1.5v1.5h-1.5zM300.7 173.27h1.5v1.5h-1.5zM302.19 173.14h1.5v1.5h-1.5zM306.19 173.27h1.5v1.5h-1.5zM307.19 173.07h1.5v1.5h-1.5zM307.19 173.14h1.5v1.5h-1.5zM309.68 172.97h1.5v1.5h-1.5zM310.68 173.21h1.5v1.5h-1.5zM313.17 173.02h1.5v1.5h-1.5zM313.67 173.11h1.5v1.5h-1.5zM315.17 173.25h1.5v1.5h-1.5zM316.17 173.09h1.5v1.5h-1.5zM317.66 173.23h1.5v1.5h-1.5zM317.66 173.09h1.5v1.5h-1.5zM318.16 173.06h1.5v1.5h-1.5zM319.16 172.96h1.5v1.5h-1.5zM321.66 172.96h1.5v1.5h-1.5zM324.15 173.11h1.5v1.5h-1.5zM325.65 173.1h1.5v1.5h-1.5zM328.14 172.97h1.5v1.5h-1.5zM328.14 173.16h1.5v1.5h-1.5zM329.64 173.19h1.5v1.5h-1.5zM330.14 173.27h1.5v1.5h-1.5zM333.63 173.05h1.5v1.5h-1.5zM333.63 173.08h1.5v1.5h-1.5zM335.13 173.25h1.5v1.5h-1.5zM335.63 172.95h1.5v1.5h-1.5zM338.12 173.28h1.5v1.5h-1.5zM338.12 173.11h1.5v1.5h-1.5zM341.62 173.23h1.5v1.5h-1.5zM342.11 172.96h1.5v1.5h-1.5zM342.61 173.19h1.5v1.5h-1.5zM344.11 173.16h1.5v1.5h-1.5zM345.11 173.14h1.5v1.5h-1.5zM346.11 173.21h1.5v1.5h-1.5zM350.1 172.97h1.5v1.5h-1.5zM350.1 173.26h1.5v1.5h-1.5zM362.07 173.01h1.5v1.5h-1.5zM365.57 173.06h1.5v1.5h-1.5zM383.03 173.27h1.5v1.5h-1.5zM387.02 173.22h1.5v1.5h-1.5zM414.97 173.03h1.5v1.5h-1.5zM417.96 173.21h1.5v1.5h-1.5zM436.43 172.97h1.5v1.5h-1.5zM446.41 173.02h1.5v1.5h-1.5zM464.87 173.2h1.5v1.5h-1.5zM469.86 172.98h1.5v1.5h-1.5zM486.82 173.11h1.5v1.5h-1.5zM504.79 173.25h1.5v1.5h-1.5zM507.78 172.95h1.5v1.5h-1.5zM514.77 173.02h1.5v1.5h-1.5zM518.26 172.96h1.5v1.5h-1.5zM529.74 173.06h1.5v1.5h-1.5zM531.74 173.22h1.5v1.5h-1.5zM539.72 172.98h1.5v1.5h-1.5zM561.67 173.27h1.5v1.5h-1.5zM85.63 174.63h1.5v1.5h-1.5zM98.6 174.75h1.5v1.5h-1.5zM145.01 174.74h1.5v1.5h-1.5zM183.43 174.68h1.5v1.5h-1.5zM216.87 174.71h1.5v1.5h-1.5zM258.78 174.66h1.5v1.5h-1.5zM297.7 174.72h1.5v1.5h-1.5zM309.18 174.7h1.5v1.5h-1.5zM311.18 174.64h1.5v1.5h-1.5zM315.67 174.67h1.5v1.5h-1.5zM327.14 174.71h1.5v1.5h-1.5zM329.14 174.73h1.5v1.5h-1.5zM332.13 174.73h1.5v1.5h-1.5zM335.63 174.7h1.5v1.5h-1.5zM450.9 174.74h1.5v1.5h-1.5zM499.3 174.63h1.5v1.5h-1.5zM92.12 174.79h1.5v1.5h-1.5zM144.51 174.82h1.5v1.5h-1.5zM213.37 174.92h1.5v1.5h-1.5zM215.87 174.96h1.5v1.5h-1.5zM217.86 174.93h1.5v1.5h-1.5zM232.33 174.79h1.5v1.5h-1.5zM238.32 174.83h1.5v1.5h-1.5zM243.81 174.83h1.5v1.5h-1.5zM262.77 174.84h1.5v1.5h-1.5zM283.73 174.79h1.5v1.5h-1.5zM285.23 174.93h1.5v1.5h-1.5zM286.73 174.77h1.5v1.5h-1.5zM293.71 174.81h1.5v1.5h-1.5zM296.71 174.9h1.5v1.5h-1.5zM299.7 174.9h1.5v1.5h-1.5zM300.7 174.84h1.5v1.5h-1.5zM301.2 174.87h1.5v1.5h-1.5zM304.69 174.9h1.5v1.5h-1.5zM306.19 174.8h1.5v1.5h-1.5zM316.67 174.83h1.5v1.5h-1.5zM323.15 174.85h1.5v1.5h-1.5zM324.65 174.94h1.5v1.5h-1.5zM326.15 174.86h1.5v1.5h-1.5zM327.14 174.8h1.5v1.5h-1.5zM330.64 174.95h1.5v1.5h-1.5zM331.14 174.88h1.5v1.5h-1.5zM333.63 174.9h1.5v1.5h-1.5zM334.13 174.86h1.5v1.5h-1.5zM336.13 174.77h1.5v1.5h-1.5zM336.63 174.77h1.5v1.5h-1.5zM337.62 174.93h1.5v1.5h-1.5zM338.12 174.9h1.5v1.5h-1.5zM341.12 174.95h1.5v1.5h-1.5zM349.1 174.92h1.5v1.5h-1.5zM351.1 174.89h1.5v1.5h-1.5zM352.59 174.91h1.5v1.5h-1.5zM357.58 174.93h1.5v1.5h-1.5zM364.07 174.86h1.5v1.5h-1.5zM395.01 174.91h1.5v1.5h-1.5zM441.91 174.92h1.5v1.5h-1.5zM468.86 174.79h1.5v1.5h-1.5zM477.34 174.83h1.5v1.5h-1.5zM499.8 174.95h1.5v1.5h-1.5zM507.78 174.82h1.5v1.5h-1.5zM512.77 174.86h1.5v1.5h-1.5zM517.26 174.85h1.5v1.5h-1.5zM540.72 174.81h1.5v1.5h-1.5zM570.16 174.77h1.5v1.5h-1.5zM90.12 176.42h1.5v1.5h-1.5zM91.12 176.37h1.5v1.5h-1.5zM112.08 176.46h1.5v1.5h-1.5zM116.57 176.54h1.5v1.5h-1.5zM143.01 176.42h1.5v1.5h-1.5zM169.46 176.36h1.5v1.5h-1.5zM194.91 176.37h1.5v1.5h-1.5zM209.38 176.47h1.5v1.5h-1.5zM214.87 176.51h1.5v1.5h-1.5zM221.36 176.35h1.5v1.5h-1.5zM222.35 176.52h1.5v1.5h-1.5zM231.34 176.33h1.5v1.5h-1.5zM243.81 176.53h1.5v1.5h-1.5zM282.23 176.49h1.5v1.5h-1.5zM285.23 176.49h1.5v1.5h-1.5zM285.73 176.34h1.5v1.5h-1.5zM290.72 176.56h1.5v1.5h-1.5zM298.7 176.59h1.5v1.5h-1.5zM299.7 176.51h1.5v1.5h-1.5zM307.19 176.56h1.5v1.5h-1.5zM308.68 176.4h1.5v1.5h-1.5zM309.68 176.5h1.5v1.5h-1.5zM312.67 176.51h1.5v1.5h-1.5zM316.17 176.61h1.5v1.5h-1.5zM321.66 176.39h1.5v1.5h-1.5zM324.65 176.6h1.5v1.5h-1.5zM329.64 176.41h1.5v1.5h-1.5zM330.14 176.6h1.5v1.5h-1.5zM331.64 176.37h1.5v1.5h-1.5zM334.63 176.34h1.5v1.5h-1.5zM337.62 176.39h1.5v1.5h-1.5zM338.12 176.54h1.5v1.5h-1.5zM338.12 176.45h1.5v1.5h-1.5zM341.12 176.44h1.5v1.5h-1.5zM344.11 176.56h1.5v1.5h-1.5zM352.09 176.5h1.5v1.5h-1.5zM357.08 176.52h1.5v1.5h-1.5zM362.57 176.43h1.5v1.5h-1.5zM365.07 176.65h1.5v1.5h-1.5zM365.57 176.52h1.5v1.5h-1.5zM376.55 176.55h1.5v1.5h-1.5zM388.02 176.53h1.5v1.5h-1.5zM390.02 176.62h1.5v1.5h-1.5zM440.42 176.34h1.5v1.5h-1.5zM453.39 176.38h1.5v1.5h-1.5zM474.35 176.55h1.5v1.5h-1.5zM481.83 176.48h1.5v1.5h-1.5zM508.78 176.52h1.5v1.5h-1.5zM515.27 176.56h1.5v1.5h-1.5zM524.25 176.34h1.5v1.5h-1.5zM539.72 176.34h1.5v1.5h-1.5zM552.19 176.54h1.5v1.5h-1.5zM569.66 176.55h1.5v1.5h-1.5zM84.13 178.16h1.5v1.5h-1.5zM87.62 178.06h1.5v1.5h-1.5zM90.62 178.28h1.5v1.5h-1.5zM91.62 178.07h1.5v1.5h-1.5zM238.32 178.1h1.5v1.5h-1.5zM242.31 178.22h1.5v1.5h-1.5zM256.29 178.29h1.5v1.5h-1.5zM263.77 178.05h1.5v1.5h-1.5zM266.27 178.29h1.5v1.5h-1.5zM288.22 178.14h1.5v1.5h-1.5zM289.72 178.14h1.5v1.5h-1.5zM292.21 178.33h1.5v1.5h-1.5zM297.7 178.21h1.5v1.5h-1.5zM298.2 178.28h1.5v1.5h-1.5zM304.19 178.12h1.5v1.5h-1.5zM304.19 178.27h1.5v1.5h-1.5zM304.69 178.14h1.5v1.5h-1.5zM307.19 178.22h1.5v1.5h-1.5zM309.68 178.07h1.5v1.5h-1.5zM315.67 178.3h1.5v1.5h-1.5zM316.17 178.12h1.5v1.5h-1.5zM317.66 178.05h1.5v1.5h-1.5zM319.66 178.12h1.5v1.5h-1.5zM320.16 178.25h1.5v1.5h-1.5zM321.66 178.26h1.5v1.5h-1.5zM322.65 178.13h1.5v1.5h-1.5zM323.65 178.01h1.5v1.5h-1.5zM324.15 178.1h1.5v1.5h-1.5zM325.15 178.11h1.5v1.5h-1.5zM325.65 178.27h1.5v1.5h-1.5zM329.14 178.24h1.5v1.5h-1.5zM329.14 178.19h1.5v1.5h-1.5zM331.64 178.26h1.5v1.5h-1.5zM333.13 178.25h1.5v1.5h-1.5zM338.12 178.16h1.5v1.5h-1.5zM341.62 178.03h1.5v1.5h-1.5zM346.11 178.33h1.5v1.5h-1.5zM350.1 178.29h1.5v1.5h-1.5zM350.6 178.02h1.5v1.5h-1.5zM352.09 178.26h1.5v1.5h-1.5zM352.59 178.14h1.5v1.5h-1.5zM356.09 178.27h1.5v1.5h-1.5zM357.08 178.09h1.5v1.5h-1.5zM357.58 178.27h1.5v1.5h-1.5zM369.56 178.1h1.5v1.5h-1.5zM386.03 178.25h1.5v1.5h-1.5zM391.52 178.2h1.5v1.5h-1.5zM439.42 178.3h1.5v1.5h-1.5zM441.91 178.26h1.5v1.5h-1.5zM459.88 178.21h1.5v1.5h-1.5zM467.36 178.02h1.5v1.5h-1.5zM521.75 178.06h1.5v1.5h-1.5zM531.24 178.11h1.5v1.5h-1.5zM551.2 178.32h1.5v1.5h-1.5zM273.25 179.71h1.5v1.5h-1.5zM290.22 179.75h1.5v1.5h-1.5zM305.19 179.72h1.5v1.5h-1.5zM311.68 179.74h1.5v1.5h-1.5zM317.66 179.73h1.5v1.5h-1.5zM322.15 179.7h1.5v1.5h-1.5zM334.13 179.75h1.5v1.5h-1.5zM337.12 179.73h1.5v1.5h-1.5zM338.12 179.71h1.5v1.5h-1.5zM339.12 179.7h1.5v1.5h-1.5zM344.11 179.73h1.5v1.5h-1.5zM355.09 179.74h1.5v1.5h-1.5zM453.39 179.72h1.5v1.5h-1.5zM79.14 180.01h1.5v1.5h-1.5zM81.64 179.79h1.5v1.5h-1.5zM83.63 179.91h1.5v1.5h-1.5zM108.58 179.94h1.5v1.5h-1.5zM263.77 180.02h1.5v1.5h-1.5zM270.76 179.77h1.5v1.5h-1.5zM279.24 179.98h1.5v1.5h-1.5zM292.21 179.77h1.5v1.5h-1.5zM296.71 179.78h1.5v1.5h-1.5zM301.2 179.76h1.5v1.5h-1.5zM301.2 179.83h1.5v1.5h-1.5zM302.19 180.02h1.5v1.5h-1.5zM305.19 179.78h1.5v1.5h-1.5zM308.18 179.95h1.5v1.5h-1.5zM312.17 179.82h1.5v1.5h-1.5zM315.67 179.78h1.5v1.5h-1.5zM316.67 179.8h1.5v1.5h-1.5zM317.16 179.94h1.5v1.5h-1.5zM317.66 179.81h1.5v1.5h-1.5zM322.65 179.96h1.5v1.5h-1.5zM325.15 179.78h1.5v1.5h-1.5zM327.14 179.87h1.5v1.5h-1.5zM327.14 179.77h1.5v1.5h-1.5zM328.64 179.83h1.5v1.5h-1.5zM332.63 179.76h1.5v1.5h-1.5zM337.62 179.93h1.5v1.5h-1.5zM339.62 179.83h1.5v1.5h-1.5zM340.12 179.77h1.5v1.5h-1.5zM342.11 180.03h1.5v1.5h-1.5zM346.61 179.82h1.5v1.5h-1.5zM347.1 179.8h1.5v1.5h-1.5zM348.1 179.76h1.5v1.5h-1.5zM349.1 179.98h1.5v1.5h-1.5zM349.1 179.94h1.5v1.5h-1.5zM353.59 179.77h1.5v1.5h-1.5zM354.09 179.87h1.5v1.5h-1.5zM371.06 179.77h1.5v1.5h-1.5zM398 179.81h1.5v1.5h-1.5zM407.48 179.81h1.5v1.5h-1.5zM414.97 179.81h1.5v1.5h-1.5zM427.94 179.93h1.5v1.5h-1.5zM429.44 180h1.5v1.5h-1.5zM470.86 180.03h1.5v1.5h-1.5zM471.36 179.89h1.5v1.5h-1.5zM478.84 179.95h1.5v1.5h-1.5zM508.28 180.02h1.5v1.5h-1.5zM545.21 180h1.5v1.5h-1.5zM121.06 181.64h1.5v1.5h-1.5zM162.47 181.47h1.5v1.5h-1.5zM174.45 181.69h1.5v1.5h-1.5zM206.89 181.52h1.5v1.5h-1.5zM229.84 181.68h1.5v1.5h-1.5zM231.34 181.49h1.5v1.5h-1.5zM258.28 181.47h1.5v1.5h-1.5zM277.25 181.49h1.5v1.5h-1.5zM288.72 181.58h1.5v1.5h-1.5zM298.7 181.72h1.5v1.5h-1.5zM299.2 181.7h1.5v1.5h-1.5zM301.2 181.46h1.5v1.5h-1.5zM301.7 181.43h1.5v1.5h-1.5zM303.19 181.72h1.5v1.5h-1.5zM305.19 181.45h1.5v1.5h-1.5zM306.69 181.69h1.5v1.5h-1.5zM309.68 181.4h1.5v1.5h-1.5zM309.68 181.49h1.5v1.5h-1.5zM310.18 181.4h1.5v1.5h-1.5zM314.67 181.45h1.5v1.5h-1.5zM320.16 181.49h1.5v1.5h-1.5zM322.15 181.61h1.5v1.5h-1.5zM322.15 181.63h1.5v1.5h-1.5zM324.15 181.43h1.5v1.5h-1.5zM327.14 181.55h1.5v1.5h-1.5zM328.64 181.62h1.5v1.5h-1.5zM333.63 181.72h1.5v1.5h-1.5zM335.63 181.71h1.5v1.5h-1.5zM336.13 181.59h1.5v1.5h-1.5zM339.62 181.54h1.5v1.5h-1.5zM341.62 181.39h1.5v1.5h-1.5zM345.11 181.58h1.5v1.5h-1.5zM346.11 181.42h1.5v1.5h-1.5zM346.61 181.63h1.5v1.5h-1.5zM349.6 181.5h1.5v1.5h-1.5zM358.58 181.58h1.5v1.5h-1.5zM358.58 181.62h1.5v1.5h-1.5zM360.08 181.44h1.5v1.5h-1.5zM364.07 181.44h1.5v1.5h-1.5zM365.57 181.71h1.5v1.5h-1.5zM370.56 181.4h1.5v1.5h-1.5zM371.06 181.56h1.5v1.5h-1.5zM387.02 181.65h1.5v1.5h-1.5zM390.02 181.4h1.5v1.5h-1.5zM399 181.39h1.5v1.5h-1.5zM412.97 181.44h1.5v1.5h-1.5zM416.47 181.67h1.5v1.5h-1.5zM440.42 181.53h1.5v1.5h-1.5zM459.88 181.57h1.5v1.5h-1.5zM472.85 181.46h1.5v1.5h-1.5zM527.24 181.43h1.5v1.5h-1.5zM544.21 181.42h1.5v1.5h-1.5zM566.17 181.7h1.5v1.5h-1.5zM83.13 183.28h1.5v1.5h-1.5zM87.13 183.38h1.5v1.5h-1.5zM92.12 183.4h1.5v1.5h-1.5zM129.04 183.32h1.5v1.5h-1.5zM196.41 183.3h1.5v1.5h-1.5zM202.39 183.16h1.5v1.5h-1.5zM208.38 183.37h1.5v1.5h-1.5zM265.27 183.3h1.5v1.5h-1.5zM266.77 183.38h1.5v1.5h-1.5zM274.25 183.34h1.5v1.5h-1.5zM275.25 183.11h1.5v1.5h-1.5zM280.24 183.27h1.5v1.5h-1.5zM287.72 183.41h1.5v1.5h-1.5zM294.71 183.2h1.5v1.5h-1.5zM294.71 183.22h1.5v1.5h-1.5zM303.19 183.2h1.5v1.5h-1.5zM304.19 183.41h1.5v1.5h-1.5zM304.19 183.18h1.5v1.5h-1.5zM306.19 183.4h1.5v1.5h-1.5zM308.68 183.11h1.5v1.5h-1.5zM310.68 183.19h1.5v1.5h-1.5zM311.18 183.09h1.5v1.5h-1.5zM312.67 183.27h1.5v1.5h-1.5zM315.67 183.13h1.5v1.5h-1.5zM316.17 183.18h1.5v1.5h-1.5zM322.65 183.09h1.5v1.5h-1.5zM324.15 183.21h1.5v1.5h-1.5zM329.64 183.12h1.5v1.5h-1.5zM330.14 183.18h1.5v1.5h-1.5zM334.63 183.18h1.5v1.5h-1.5zM334.63 183.4h1.5v1.5h-1.5zM336.63 183.16h1.5v1.5h-1.5zM336.63 183.27h1.5v1.5h-1.5zM337.12 183.31h1.5v1.5h-1.5zM337.62 183.25h1.5v1.5h-1.5zM342.11 183.23h1.5v1.5h-1.5zM348.6 183.32h1.5v1.5h-1.5zM350.1 183.39h1.5v1.5h-1.5zM351.1 183.24h1.5v1.5h-1.5zM351.1 183.16h1.5v1.5h-1.5zM354.09 183.41h1.5v1.5h-1.5zM354.09 183.08h1.5v1.5h-1.5zM354.09 183.12h1.5v1.5h-1.5zM354.59 183.32h1.5v1.5h-1.5zM357.08 183.26h1.5v1.5h-1.5zM357.08 183.14h1.5v1.5h-1.5zM358.08 183.22h1.5v1.5h-1.5zM370.56 183.09h1.5v1.5h-1.5zM412.47 183.27h1.5v1.5h-1.5zM425.95 183.15h1.5v1.5h-1.5zM440.42 183.37h1.5v1.5h-1.5zM451.4 183.24h1.5v1.5h-1.5zM452.39 183.36h1.5v1.5h-1.5zM455.89 183.31h1.5v1.5h-1.5zM478.34 183.2h1.5v1.5h-1.5zM489.82 183.39h1.5v1.5h-1.5zM500.3 183.14h1.5v1.5h-1.5zM502.79 183.35h1.5v1.5h-1.5zM503.79 183.18h1.5v1.5h-1.5zM542.71 183.29h1.5v1.5h-1.5zM563.67 183.19h1.5v1.5h-1.5zM79.14 184.86h1.5v1.5h-1.5zM82.14 185.05h1.5v1.5h-1.5zM82.14 184.97h1.5v1.5h-1.5zM93.61 184.77h1.5v1.5h-1.5zM110.58 184.91h1.5v1.5h-1.5zM117.56 184.9h1.5v1.5h-1.5zM170.46 185.07h1.5v1.5h-1.5zM179.44 184.86h1.5v1.5h-1.5zM202.89 184.91h1.5v1.5h-1.5zM209.88 185.09h1.5v1.5h-1.5zM213.37 184.84h1.5v1.5h-1.5zM228.84 184.99h1.5v1.5h-1.5zM244.31 184.87h1.5v1.5h-1.5zM265.77 185.04h1.5v1.5h-1.5zM275.25 185h1.5v1.5h-1.5zM280.74 184.88h1.5v1.5h-1.5zM283.73 184.81h1.5v1.5h-1.5zM285.73 184.77h1.5v1.5h-1.5zM290.22 184.91h1.5v1.5h-1.5zM292.71 185.09h1.5v1.5h-1.5zM294.71 184.96h1.5v1.5h-1.5zM298.2 185.05h1.5v1.5h-1.5zM301.7 185.06h1.5v1.5h-1.5zM306.69 185.06h1.5v1.5h-1.5zM309.18 184.83h1.5v1.5h-1.5zM312.67 184.8h1.5v1.5h-1.5zM312.67 184.82h1.5v1.5h-1.5zM320.16 185h1.5v1.5h-1.5zM324.65 184.91h1.5v1.5h-1.5zM324.65 184.89h1.5v1.5h-1.5zM324.65 184.9h1.5v1.5h-1.5zM325.15 184.83h1.5v1.5h-1.5zM327.14 184.86h1.5v1.5h-1.5zM328.14 184.98h1.5v1.5h-1.5zM329.14 184.9h1.5v1.5h-1.5zM333.63 184.97h1.5v1.5h-1.5zM335.63 184.92h1.5v1.5h-1.5zM335.63 184.94h1.5v1.5h-1.5zM337.12 184.8h1.5v1.5h-1.5zM339.12 184.9h1.5v1.5h-1.5zM341.62 185.08h1.5v1.5h-1.5zM344.11 184.94h1.5v1.5h-1.5zM345.11 184.94h1.5v1.5h-1.5zM350.1 185.02h1.5v1.5h-1.5zM350.6 184.9h1.5v1.5h-1.5zM354.59 185.08h1.5v1.5h-1.5zM358.58 184.99h1.5v1.5h-1.5zM361.08 184.93h1.5v1.5h-1.5zM363.07 184.8h1.5v1.5h-1.5zM365.07 184.85h1.5v1.5h-1.5zM379.54 184.92h1.5v1.5h-1.5zM389.52 185.06h1.5v1.5h-1.5zM447.9 185.07h1.5v1.5h-1.5zM451.4 184.78h1.5v1.5h-1.5zM452.39 184.99h1.5v1.5h-1.5zM501.3 184.77h1.5v1.5h-1.5zM515.77 185.1h1.5v1.5h-1.5zM529.74 184.89h1.5v1.5h-1.5zM530.24 184.78h1.5v1.5h-1.5zM544.71 184.79h1.5v1.5h-1.5zM146.51 186.74h1.5v1.5h-1.5zM201.4 186.49h1.5v1.5h-1.5zM207.38 186.61h1.5v1.5h-1.5zM211.88 186.46h1.5v1.5h-1.5zM216.37 186.64h1.5v1.5h-1.5zM216.87 186.45h1.5v1.5h-1.5zM255.29 186.56h1.5v1.5h-1.5zM257.78 186.62h1.5v1.5h-1.5zM280.74 186.47h1.5v1.5h-1.5zM285.23 186.74h1.5v1.5h-1.5zM289.22 186.53h1.5v1.5h-1.5zM293.71 186.64h1.5v1.5h-1.5zM297.2 186.65h1.5v1.5h-1.5zM305.69 186.59h1.5v1.5h-1.5zM308.18 186.49h1.5v1.5h-1.5zM308.68 186.55h1.5v1.5h-1.5zM310.68 186.6h1.5v1.5h-1.5zM317.66 186.61h1.5v1.5h-1.5zM318.66 186.74h1.5v1.5h-1.5zM319.66 186.57h1.5v1.5h-1.5zM319.66 186.65h1.5v1.5h-1.5zM319.66 186.66h1.5v1.5h-1.5zM320.66 186.61h1.5v1.5h-1.5zM322.65 186.47h1.5v1.5h-1.5zM324.15 186.66h1.5v1.5h-1.5zM324.65 186.51h1.5v1.5h-1.5zM329.14 186.54h1.5v1.5h-1.5zM331.64 186.63h1.5v1.5h-1.5zM331.64 186.73h1.5v1.5h-1.5zM331.64 186.5h1.5v1.5h-1.5zM334.63 186.73h1.5v1.5h-1.5zM339.62 186.75h1.5v1.5h-1.5zM340.62 186.67h1.5v1.5h-1.5zM342.61 186.71h1.5v1.5h-1.5zM344.11 186.48h1.5v1.5h-1.5zM345.11 186.54h1.5v1.5h-1.5zM353.59 186.73h1.5v1.5h-1.5zM354.09 186.55h1.5v1.5h-1.5zM359.08 186.68h1.5v1.5h-1.5zM361.08 186.73h1.5v1.5h-1.5zM375.05 186.53h1.5v1.5h-1.5zM381.04 186.52h1.5v1.5h-1.5zM388.52 186.46h1.5v1.5h-1.5zM409.98 186.57h1.5v1.5h-1.5zM430.94 186.65h1.5v1.5h-1.5zM430.94 186.48h1.5v1.5h-1.5zM448.9 186.64h1.5v1.5h-1.5zM453.89 186.56h1.5v1.5h-1.5zM472.85 186.52h1.5v1.5h-1.5zM526.25 186.74h1.5v1.5h-1.5zM535.73 186.47h1.5v1.5h-1.5zM144.51 186.75h1.5v1.5h-1.5zM254.29 186.77h1.5v1.5h-1.5zM322.65 186.76h1.5v1.5h-1.5zM324.15 186.78h1.5v1.5h-1.5zM326.15 186.79h1.5v1.5h-1.5zM345.61 186.77h1.5v1.5h-1.5zM436.43 186.76h1.5v1.5h-1.5zM498.3 186.78h1.5v1.5h-1.5zM87.62 188.36h1.5v1.5h-1.5zM88.12 188.16h1.5v1.5h-1.5zM93.61 188.19h1.5v1.5h-1.5zM120.06 188.21h1.5v1.5h-1.5zM131.54 188.31h1.5v1.5h-1.5zM131.54 188.28h1.5v1.5h-1.5zM142.02 188.42h1.5v1.5h-1.5zM151.5 188.3h1.5v1.5h-1.5zM164.97 188.35h1.5v1.5h-1.5zM201.4 188.15h1.5v1.5h-1.5zM232.83 188.19h1.5v1.5h-1.5zM240.32 188.37h1.5v1.5h-1.5zM258.78 188.16h1.5v1.5h-1.5zM269.26 188.2h1.5v1.5h-1.5zM270.26 188.18h1.5v1.5h-1.5zM280.24 188.15h1.5v1.5h-1.5zM285.23 188.23h1.5v1.5h-1.5zM292.71 188.26h1.5v1.5h-1.5zM293.71 188.4h1.5v1.5h-1.5zM295.71 188.36h1.5v1.5h-1.5zM296.71 188.44h1.5v1.5h-1.5zM308.68 188.21h1.5v1.5h-1.5zM311.68 188.15h1.5v1.5h-1.5zM313.67 188.44h1.5v1.5h-1.5zM314.17 188.27h1.5v1.5h-1.5zM316.17 188.16h1.5v1.5h-1.5zM318.16 188.26h1.5v1.5h-1.5zM319.16 188.33h1.5v1.5h-1.5zM323.65 188.31h1.5v1.5h-1.5zM326.15 188.35h1.5v1.5h-1.5zM327.14 188.21h1.5v1.5h-1.5zM328.64 188.26h1.5v1.5h-1.5zM329.14 188.16h1.5v1.5h-1.5zM332.63 188.18h1.5v1.5h-1.5zM333.13 188.27h1.5v1.5h-1.5zM337.12 188.34h1.5v1.5h-1.5zM339.12 188.34h1.5v1.5h-1.5zM340.12 188.39h1.5v1.5h-1.5zM347.1 188.28h1.5v1.5h-1.5zM348.1 188.14h1.5v1.5h-1.5zM352.09 188.29h1.5v1.5h-1.5zM359.08 188.27h1.5v1.5h-1.5zM359.08 188.23h1.5v1.5h-1.5zM360.58 188.19h1.5v1.5h-1.5zM366.57 188.32h1.5v1.5h-1.5zM379.54 188.16h1.5v1.5h-1.5zM410.98 188.16h1.5v1.5h-1.5zM413.47 188.3h1.5v1.5h-1.5zM450.9 188.19h1.5v1.5h-1.5zM458.38 188.31h1.5v1.5h-1.5zM458.88 188.32h1.5v1.5h-1.5zM503.29 188.41h1.5v1.5h-1.5zM515.77 188.15h1.5v1.5h-1.5zM518.26 188.29h1.5v1.5h-1.5zM549.7 188.16h1.5v1.5h-1.5zM106.59 189.93h1.5v1.5h-1.5zM115.57 190.05h1.5v1.5h-1.5zM146.01 190.03h1.5v1.5h-1.5zM146.51 189.87h1.5v1.5h-1.5zM150 189.99h1.5v1.5h-1.5zM151 189.95h1.5v1.5h-1.5zM157.98 190.15h1.5v1.5h-1.5zM173.95 190.12h1.5v1.5h-1.5zM183.43 190.11h1.5v1.5h-1.5zM198.9 190.13h1.5v1.5h-1.5zM239.82 189.91h1.5v1.5h-1.5zM251.3 190.06h1.5v1.5h-1.5zM251.3 190.02h1.5v1.5h-1.5zM256.79 190.02h1.5v1.5h-1.5zM257.28 190.16h1.5v1.5h-1.5zM267.26 189.85h1.5v1.5h-1.5zM269.76 190.11h1.5v1.5h-1.5zM279.24 189.85h1.5v1.5h-1.5zM283.73 190.01h1.5v1.5h-1.5zM287.22 190.13h1.5v1.5h-1.5zM288.72 190.14h1.5v1.5h-1.5zM288.72 189.98h1.5v1.5h-1.5zM298.2 190.15h1.5v1.5h-1.5zM301.7 190.03h1.5v1.5h-1.5zM302.69 189.93h1.5v1.5h-1.5zM307.19 190.16h1.5v1.5h-1.5zM307.68 190h1.5v1.5h-1.5zM308.68 189.87h1.5v1.5h-1.5zM309.68 190.13h1.5v1.5h-1.5zM312.67 190.09h1.5v1.5h-1.5zM315.17 190.04h1.5v1.5h-1.5zM315.67 189.91h1.5v1.5h-1.5zM316.67 190.04h1.5v1.5h-1.5zM318.16 190.02h1.5v1.5h-1.5zM318.16 190.14h1.5v1.5h-1.5zM321.16 189.84h1.5v1.5h-1.5zM322.15 189.97h1.5v1.5h-1.5zM323.65 189.98h1.5v1.5h-1.5zM325.15 190.11h1.5v1.5h-1.5zM325.65 189.89h1.5v1.5h-1.5zM326.15 190.12h1.5v1.5h-1.5zM328.64 190.15h1.5v1.5h-1.5zM331.64 190.06h1.5v1.5h-1.5zM332.13 189.96h1.5v1.5h-1.5zM332.13 190.11h1.5v1.5h-1.5zM335.63 189.97h1.5v1.5h-1.5zM338.12 190.11h1.5v1.5h-1.5zM338.62 189.87h1.5v1.5h-1.5zM339.62 190.1h1.5v1.5h-1.5zM345.61 190.13h1.5v1.5h-1.5zM351.1 189.95h1.5v1.5h-1.5zM352.09 189.89h1.5v1.5h-1.5zM355.59 189.89h1.5v1.5h-1.5zM365.07 190.06h1.5v1.5h-1.5zM371.06 190.13h1.5v1.5h-1.5zM376.05 189.96h1.5v1.5h-1.5zM410.48 189.85h1.5v1.5h-1.5zM438.92 189.99h1.5v1.5h-1.5zM455.39 189.95h1.5v1.5h-1.5zM508.78 189.95h1.5v1.5h-1.5zM512.27 190.1h1.5v1.5h-1.5zM512.77 189.98h1.5v1.5h-1.5zM513.27 189.98h1.5v1.5h-1.5zM514.77 189.94h1.5v1.5h-1.5zM528.74 189.97h1.5v1.5h-1.5zM553.19 189.88h1.5v1.5h-1.5zM569.66 189.83h1.5v1.5h-1.5zM105.09 191.68h1.5v1.5h-1.5zM113.57 191.72h1.5v1.5h-1.5zM118.06 191.74h1.5v1.5h-1.5zM143.51 191.54h1.5v1.5h-1.5zM144.01 191.71h1.5v1.5h-1.5zM151.5 191.68h1.5v1.5h-1.5zM152 191.73h1.5v1.5h-1.5zM184.43 191.53h1.5v1.5h-1.5zM217.86 191.69h1.5v1.5h-1.5zM223.35 191.73h1.5v1.5h-1.5zM249.8 191.58h1.5v1.5h-1.5zM262.27 191.52h1.5v1.5h-1.5zM263.77 191.61h1.5v1.5h-1.5zM273.75 191.73h1.5v1.5h-1.5zM278.24 191.67h1.5v1.5h-1.5zM292.71 191.52h1.5v1.5h-1.5zM293.21 191.64h1.5v1.5h-1.5zM301.2 191.67h1.5v1.5h-1.5zM302.19 191.62h1.5v1.5h-1.5zM305.19 191.57h1.5v1.5h-1.5zM307.68 191.7h1.5v1.5h-1.5zM308.68 191.69h1.5v1.5h-1.5zM308.68 191.64h1.5v1.5h-1.5zM309.68 191.57h1.5v1.5h-1.5zM310.18 191.64h1.5v1.5h-1.5zM312.17 191.63h1.5v1.5h-1.5zM312.67 191.55h1.5v1.5h-1.5zM313.17 191.64h1.5v1.5h-1.5zM317.16 191.7h1.5v1.5h-1.5zM318.16 191.71h1.5v1.5h-1.5zM319.16 191.61h1.5v1.5h-1.5zM322.65 191.55h1.5v1.5h-1.5zM323.65 191.72h1.5v1.5h-1.5zM323.65 191.66h1.5v1.5h-1.5zM336.63 191.75h1.5v1.5h-1.5zM336.63 191.74h1.5v1.5h-1.5zM341.12 191.57h1.5v1.5h-1.5zM346.61 191.71h1.5v1.5h-1.5zM349.1 191.52h1.5v1.5h-1.5zM356.59 191.71h1.5v1.5h-1.5zM365.07 191.56h1.5v1.5h-1.5zM369.06 191.62h1.5v1.5h-1.5zM421.46 191.56h1.5v1.5h-1.5zM427.94 191.62h1.5v1.5h-1.5zM453.39 191.71h1.5v1.5h-1.5zM471.86 191.53h1.5v1.5h-1.5zM516.27 191.55h1.5v1.5h-1.5zM517.26 191.61h1.5v1.5h-1.5zM558.68 191.57h1.5v1.5h-1.5zM559.18 191.56h1.5v1.5h-1.5zM102.1 191.81h1.5v1.5h-1.5zM110.58 191.81h1.5v1.5h-1.5zM140.52 191.78h1.5v1.5h-1.5zM182.93 191.77h1.5v1.5h-1.5zM246.81 191.81h1.5v1.5h-1.5zM260.78 191.81h1.5v1.5h-1.5zM276.75 191.8h1.5v1.5h-1.5zM293.71 191.81h1.5v1.5h-1.5zM294.71 191.82h1.5v1.5h-1.5zM297.2 191.75h1.5v1.5h-1.5zM305.69 191.79h1.5v1.5h-1.5zM316.17 191.77h1.5v1.5h-1.5zM316.17 191.81h1.5v1.5h-1.5zM316.67 191.76h1.5v1.5h-1.5zM318.16 191.8h1.5v1.5h-1.5zM319.66 191.83h1.5v1.5h-1.5zM334.63 191.8h1.5v1.5h-1.5zM340.12 191.85h1.5v1.5h-1.5zM354.59 191.85h1.5v1.5h-1.5zM362.07 191.81h1.5v1.5h-1.5zM363.57 191.79h1.5v1.5h-1.5zM405.99 191.76h1.5v1.5h-1.5zM456.88 191.83h1.5v1.5h-1.5zM470.86 191.78h1.5v1.5h-1.5zM560.68 191.76h1.5v1.5h-1.5zM95.61 193.47h1.5v1.5h-1.5zM101.6 193.23h1.5v1.5h-1.5zM119.06 193.48h1.5v1.5h-1.5zM136.53 193.34h1.5v1.5h-1.5zM139.52 193.51h1.5v1.5h-1.5zM149 193.35h1.5v1.5h-1.5zM150 193.26h1.5v1.5h-1.5zM184.93 193.21h1.5v1.5h-1.5zM194.91 193.36h1.5v1.5h-1.5zM197.4 193.23h1.5v1.5h-1.5zM200.4 193.37h1.5v1.5h-1.5zM209.88 193.46h1.5v1.5h-1.5zM210.38 193.3h1.5v1.5h-1.5zM216.37 193.33h1.5v1.5h-1.5zM237.32 193.24h1.5v1.5h-1.5zM252.79 193.32h1.5v1.5h-1.5zM260.28 193.28h1.5v1.5h-1.5zM269.26 193.44h1.5v1.5h-1.5zM278.74 193.34h1.5v1.5h-1.5zM281.74 193.32h1.5v1.5h-1.5zM283.23 193.31h1.5v1.5h-1.5zM283.23 193.43h1.5v1.5h-1.5zM284.23 193.41h1.5v1.5h-1.5zM286.73 193.43h1.5v1.5h-1.5zM288.72 193.3h1.5v1.5h-1.5zM289.72 193.47h1.5v1.5h-1.5zM290.72 193.35h1.5v1.5h-1.5zM291.22 193.25h1.5v1.5h-1.5zM292.71 193.32h1.5v1.5h-1.5zM293.21 193.31h1.5v1.5h-1.5zM296.71 193.34h1.5v1.5h-1.5zM297.7 193.39h1.5v1.5h-1.5zM299.7 193.25h1.5v1.5h-1.5zM302.69 193.25h1.5v1.5h-1.5zM307.68 193.5h1.5v1.5h-1.5zM307.68 193.39h1.5v1.5h-1.5zM308.68 193.3h1.5v1.5h-1.5zM308.68 193.21h1.5v1.5h-1.5zM310.18 193.51h1.5v1.5h-1.5zM311.68 193.42h1.5v1.5h-1.5zM312.17 193.51h1.5v1.5h-1.5zM317.66 193.46h1.5v1.5h-1.5zM319.66 193.36h1.5v1.5h-1.5zM321.16 193.4h1.5v1.5h-1.5zM321.16 193.51h1.5v1.5h-1.5zM322.65 193.36h1.5v1.5h-1.5zM322.65 193.25h1.5v1.5h-1.5zM324.65 193.36h1.5v1.5h-1.5zM326.15 193.34h1.5v1.5h-1.5zM327.14 193.47h1.5v1.5h-1.5zM327.64 193.42h1.5v1.5h-1.5zM330.64 193.23h1.5v1.5h-1.5zM337.12 193.48h1.5v1.5h-1.5zM337.12 193.36h1.5v1.5h-1.5zM351.6 193.45h1.5v1.5h-1.5zM357.58 193.5h1.5v1.5h-1.5zM361.58 193.4h1.5v1.5h-1.5zM364.57 193.24h1.5v1.5h-1.5zM367.06 193.38h1.5v1.5h-1.5zM371.56 193.3h1.5v1.5h-1.5zM374.05 193.46h1.5v1.5h-1.5zM385.03 193.23h1.5v1.5h-1.5zM392.51 193.53h1.5v1.5h-1.5zM398 193.27h1.5v1.5h-1.5zM444.91 193.36h1.5v1.5h-1.5zM452.89 193.32h1.5v1.5h-1.5zM452.89 193.21h1.5v1.5h-1.5zM463.37 193.4h1.5v1.5h-1.5zM470.86 193.22h1.5v1.5h-1.5zM527.24 193.44h1.5v1.5h-1.5zM528.24 193.3h1.5v1.5h-1.5zM555.19 193.31h1.5v1.5h-1.5zM559.18 193.22h1.5v1.5h-1.5zM128.54 195.1h1.5v1.5h-1.5zM136.53 194.91h1.5v1.5h-1.5zM144.01 195.2h1.5v1.5h-1.5zM155.49 195.21h1.5v1.5h-1.5zM156.99 195.06h1.5v1.5h-1.5zM174.45 194.95h1.5v1.5h-1.5zM221.86 195.08h1.5v1.5h-1.5zM231.34 195.03h1.5v1.5h-1.5zM231.84 195.01h1.5v1.5h-1.5zM246.81 194.97h1.5v1.5h-1.5zM257.78 195.21h1.5v1.5h-1.5zM262.77 195.12h1.5v1.5h-1.5zM265.77 195.04h1.5v1.5h-1.5zM266.27 195.01h1.5v1.5h-1.5zM288.22 194.9h1.5v1.5h-1.5zM291.72 194.91h1.5v1.5h-1.5zM293.71 195.11h1.5v1.5h-1.5zM295.21 194.96h1.5v1.5h-1.5zM302.69 195.12h1.5v1.5h-1.5zM306.19 195.13h1.5v1.5h-1.5zM310.18 195.15h1.5v1.5h-1.5zM310.18 195.21h1.5v1.5h-1.5zM312.67 194.98h1.5v1.5h-1.5zM313.67 195.03h1.5v1.5h-1.5zM315.67 195.07h1.5v1.5h-1.5zM315.67 194.95h1.5v1.5h-1.5zM315.67 195.12h1.5v1.5h-1.5zM315.67 195.11h1.5v1.5h-1.5zM316.67 195.18h1.5v1.5h-1.5zM317.16 195.01h1.5v1.5h-1.5zM319.16 195.08h1.5v1.5h-1.5zM319.66 195.14h1.5v1.5h-1.5zM321.16 194.99h1.5v1.5h-1.5zM323.65 195.19h1.5v1.5h-1.5zM324.65 194.97h1.5v1.5h-1.5zM325.15 195.1h1.5v1.5h-1.5zM326.15 195.1h1.5v1.5h-1.5zM328.64 195.12h1.5v1.5h-1.5zM330.14 194.97h1.5v1.5h-1.5zM333.63 195.11h1.5v1.5h-1.5zM337.62 195.03h1.5v1.5h-1.5zM337.62 195.07h1.5v1.5h-1.5zM337.62 195.05h1.5v1.5h-1.5zM337.62 195.17h1.5v1.5h-1.5zM340.62 195h1.5v1.5h-1.5zM341.12 195.17h1.5v1.5h-1.5zM342.11 194.91h1.5v1.5h-1.5zM345.11 194.96h1.5v1.5h-1.5zM353.09 195.22h1.5v1.5h-1.5zM353.09 195.2h1.5v1.5h-1.5zM354.09 195.23h1.5v1.5h-1.5zM354.59 194.98h1.5v1.5h-1.5zM355.59 195.01h1.5v1.5h-1.5zM356.09 195.18h1.5v1.5h-1.5zM368.56 195.04h1.5v1.5h-1.5zM371.06 195.06h1.5v1.5h-1.5zM378.54 195.02h1.5v1.5h-1.5zM387.52 195.06h1.5v1.5h-1.5zM387.52 194.98h1.5v1.5h-1.5zM391.52 195.07h1.5v1.5h-1.5zM421.95 195.07h1.5v1.5h-1.5zM424.45 195.06h1.5v1.5h-1.5zM479.84 194.94h1.5v1.5h-1.5zM480.84 195.14h1.5v1.5h-1.5zM514.77 195.13h1.5v1.5h-1.5zM537.72 195.23h1.5v1.5h-1.5zM540.72 194.93h1.5v1.5h-1.5zM147.01 196.6h1.5v1.5h-1.5zM164.97 196.73h1.5v1.5h-1.5zM165.47 196.62h1.5v1.5h-1.5zM169.46 196.7h1.5v1.5h-1.5zM202.39 196.72h1.5v1.5h-1.5zM207.38 196.74h1.5v1.5h-1.5zM234.33 196.6h1.5v1.5h-1.5zM236.83 196.58h1.5v1.5h-1.5zM262.27 196.74h1.5v1.5h-1.5zM274.25 196.7h1.5v1.5h-1.5zM294.71 196.6h1.5v1.5h-1.5zM295.71 196.73h1.5v1.5h-1.5zM296.21 196.7h1.5v1.5h-1.5zM304.69 196.61h1.5v1.5h-1.5zM306.19 196.6h1.5v1.5h-1.5zM306.69 196.73h1.5v1.5h-1.5zM309.18 196.74h1.5v1.5h-1.5zM311.68 196.67h1.5v1.5h-1.5zM312.67 196.7h1.5v1.5h-1.5zM317.16 196.68h1.5v1.5h-1.5zM319.16 196.6h1.5v1.5h-1.5zM334.63 196.61h1.5v1.5h-1.5zM342.61 196.7h1.5v1.5h-1.5zM343.11 196.62h1.5v1.5h-1.5zM352.09 196.71h1.5v1.5h-1.5zM353.59 196.61h1.5v1.5h-1.5zM358.08 196.68h1.5v1.5h-1.5zM359.08 196.63h1.5v1.5h-1.5zM362.57 196.71h1.5v1.5h-1.5zM379.54 196.63h1.5v1.5h-1.5zM384.03 196.65h1.5v1.5h-1.5zM398.5 196.67h1.5v1.5h-1.5zM430.44 196.61h1.5v1.5h-1.5zM438.92 196.67h1.5v1.5h-1.5zM439.92 196.71h1.5v1.5h-1.5zM452.89 196.72h1.5v1.5h-1.5zM542.21 196.74h1.5v1.5h-1.5zM556.19 196.73h1.5v1.5h-1.5zM80.64 196.9h1.5v1.5h-1.5zM117.07 196.84h1.5v1.5h-1.5zM199.9 196.89h1.5v1.5h-1.5zM293.21 196.9h1.5v1.5h-1.5zM297.2 196.88h1.5v1.5h-1.5zM298.7 196.79h1.5v1.5h-1.5zM301.7 196.8h1.5v1.5h-1.5zM303.69 196.84h1.5v1.5h-1.5zM318.16 196.91h1.5v1.5h-1.5zM326.15 196.76h1.5v1.5h-1.5zM333.63 196.89h1.5v1.5h-1.5zM333.63 196.77h1.5v1.5h-1.5zM336.13 196.82h1.5v1.5h-1.5zM346.61 196.8h1.5v1.5h-1.5zM349.6 196.86h1.5v1.5h-1.5zM351.1 196.77h1.5v1.5h-1.5zM365.57 196.82h1.5v1.5h-1.5zM374.05 196.76h1.5v1.5h-1.5zM390.02 196.75h1.5v1.5h-1.5zM472.85 196.91h1.5v1.5h-1.5zM530.24 196.91h1.5v1.5h-1.5zM531.24 196.8h1.5v1.5h-1.5zM568.16 196.84h1.5v1.5h-1.5zM101.1 198.36h1.5v1.5h-1.5zM114.07 198.28h1.5v1.5h-1.5zM124.05 198.43h1.5v1.5h-1.5zM128.54 198.57h1.5v1.5h-1.5zM163.47 198.28h1.5v1.5h-1.5zM170.96 198.32h1.5v1.5h-1.5zM174.95 198.35h1.5v1.5h-1.5zM180.94 198.3h1.5v1.5h-1.5zM188.42 198.31h1.5v1.5h-1.5zM230.34 198.46h1.5v1.5h-1.5zM233.33 198.44h1.5v1.5h-1.5zM253.29 198.54h1.5v1.5h-1.5zM280.74 198.41h1.5v1.5h-1.5zM283.23 198.54h1.5v1.5h-1.5zM284.73 198.49h1.5v1.5h-1.5zM289.22 198.28h1.5v1.5h-1.5zM292.71 198.55h1.5v1.5h-1.5zM296.71 198.29h1.5v1.5h-1.5zM297.7 198.5h1.5v1.5h-1.5zM300.7 198.55h1.5v1.5h-1.5zM300.7 198.43h1.5v1.5h-1.5zM304.19 198.3h1.5v1.5h-1.5zM307.68 198.55h1.5v1.5h-1.5zM310.68 198.47h1.5v1.5h-1.5zM314.17 198.36h1.5v1.5h-1.5zM317.16 198.36h1.5v1.5h-1.5zM317.66 198.41h1.5v1.5h-1.5zM318.16 198.37h1.5v1.5h-1.5zM319.66 198.59h1.5v1.5h-1.5zM322.65 198.59h1.5v1.5h-1.5zM325.65 198.36h1.5v1.5h-1.5zM327.64 198.46h1.5v1.5h-1.5zM328.14 198.58h1.5v1.5h-1.5zM330.64 198.28h1.5v1.5h-1.5zM333.13 198.52h1.5v1.5h-1.5zM333.63 198.34h1.5v1.5h-1.5zM337.62 198.5h1.5v1.5h-1.5zM339.12 198.57h1.5v1.5h-1.5zM341.12 198.28h1.5v1.5h-1.5zM341.62 198.5h1.5v1.5h-1.5zM345.11 198.33h1.5v1.5h-1.5zM346.61 198.48h1.5v1.5h-1.5zM348.6 198.41h1.5v1.5h-1.5zM348.6 198.41h1.5v1.5h-1.5zM351.6 198.46h1.5v1.5h-1.5zM352.59 198.29h1.5v1.5h-1.5zM352.59 198.55h1.5v1.5h-1.5zM356.09 198.45h1.5v1.5h-1.5zM356.59 198.34h1.5v1.5h-1.5zM362.07 198.29h1.5v1.5h-1.5zM373.55 198.36h1.5v1.5h-1.5zM407.98 198.52h1.5v1.5h-1.5zM430.44 198.56h1.5v1.5h-1.5zM441.42 198.31h1.5v1.5h-1.5zM447.4 198.38h1.5v1.5h-1.5zM455.89 198.3h1.5v1.5h-1.5zM461.88 198.45h1.5v1.5h-1.5zM464.87 198.52h1.5v1.5h-1.5zM550.2 198.39h1.5v1.5h-1.5zM569.66 198.54h1.5v1.5h-1.5zM80.14 200.12h1.5v1.5h-1.5zM118.56 200.24h1.5v1.5h-1.5zM119.06 200.29h1.5v1.5h-1.5zM153.49 200.08h1.5v1.5h-1.5zM164.97 200.01h1.5v1.5h-1.5zM171.46 200.04h1.5v1.5h-1.5zM206.39 199.99h1.5v1.5h-1.5zM214.87 200.19h1.5v1.5h-1.5zM219.36 200.1h1.5v1.5h-1.5zM255.29 199.96h1.5v1.5h-1.5zM255.29 200.21h1.5v1.5h-1.5zM276.75 200.03h1.5v1.5h-1.5zM284.73 200.01h1.5v1.5h-1.5zM289.72 200.22h1.5v1.5h-1.5zM290.72 200.22h1.5v1.5h-1.5zM292.21 200.26h1.5v1.5h-1.5zM293.21 200.21h1.5v1.5h-1.5zM295.71 200.29h1.5v1.5h-1.5zM296.21 200.16h1.5v1.5h-1.5zM296.21 200.01h1.5v1.5h-1.5zM298.2 200.27h1.5v1.5h-1.5zM305.69 199.98h1.5v1.5h-1.5zM307.68 199.97h1.5v1.5h-1.5zM309.68 200.12h1.5v1.5h-1.5zM312.67 200.21h1.5v1.5h-1.5zM313.17 200.03h1.5v1.5h-1.5zM313.67 200.02h1.5v1.5h-1.5zM320.16 200.15h1.5v1.5h-1.5zM321.16 199.98h1.5v1.5h-1.5zM321.66 200.23h1.5v1.5h-1.5zM322.65 200.14h1.5v1.5h-1.5zM323.65 200.23h1.5v1.5h-1.5zM325.15 200.01h1.5v1.5h-1.5zM326.65 200.26h1.5v1.5h-1.5zM329.64 200.2h1.5v1.5h-1.5zM330.14 200.24h1.5v1.5h-1.5zM330.14 200.2h1.5v1.5h-1.5zM331.14 200.03h1.5v1.5h-1.5zM331.64 200.17h1.5v1.5h-1.5zM331.64 200.06h1.5v1.5h-1.5zM335.63 200.11h1.5v1.5h-1.5zM338.12 200.27h1.5v1.5h-1.5zM338.62 200.08h1.5v1.5h-1.5zM344.11 200.25h1.5v1.5h-1.5zM344.11 200.16h1.5v1.5h-1.5zM349.6 200.21h1.5v1.5h-1.5zM351.6 200.05h1.5v1.5h-1.5zM353.09 200.24h1.5v1.5h-1.5zM354.09 200.11h1.5v1.5h-1.5zM357.58 200.11h1.5v1.5h-1.5zM358.08 199.96h1.5v1.5h-1.5zM358.58 200.19h1.5v1.5h-1.5zM360.58 200.12h1.5v1.5h-1.5zM363.07 200.27h1.5v1.5h-1.5zM363.07 200.18h1.5v1.5h-1.5zM363.57 200.03h1.5v1.5h-1.5zM368.56 200.15h1.5v1.5h-1.5zM371.56 200.25h1.5v1.5h-1.5zM375.55 200.01h1.5v1.5h-1.5zM376.55 199.98h1.5v1.5h-1.5zM377.54 200h1.5v1.5h-1.5zM379.54 200.29h1.5v1.5h-1.5zM413.47 200.05h1.5v1.5h-1.5zM417.46 200h1.5v1.5h-1.5zM423.45 200.17h1.5v1.5h-1.5zM440.92 199.96h1.5v1.5h-1.5zM449.9 200.03h1.5v1.5h-1.5zM471.86 200.29h1.5v1.5h-1.5zM499.8 200.27h1.5v1.5h-1.5zM509.28 200.04h1.5v1.5h-1.5zM515.27 200.24h1.5v1.5h-1.5zM515.27 200.02h1.5v1.5h-1.5zM522.75 200.28h1.5v1.5h-1.5zM523.25 200.28h1.5v1.5h-1.5zM531.74 200.17h1.5v1.5h-1.5zM534.23 200.09h1.5v1.5h-1.5zM556.68 200.14h1.5v1.5h-1.5zM563.17 200.23h1.5v1.5h-1.5zM181.94 201.65h1.5v1.5h-1.5zM295.21 201.69h1.5v1.5h-1.5zM314.17 201.71h1.5v1.5h-1.5zM317.16 201.69h1.5v1.5h-1.5zM318.66 201.74h1.5v1.5h-1.5zM320.16 201.71h1.5v1.5h-1.5zM321.16 201.68h1.5v1.5h-1.5zM322.15 201.74h1.5v1.5h-1.5zM323.15 201.67h1.5v1.5h-1.5zM328.64 201.74h1.5v1.5h-1.5zM339.62 201.66h1.5v1.5h-1.5zM342.61 201.74h1.5v1.5h-1.5zM349.1 201.66h1.5v1.5h-1.5zM349.6 201.65h1.5v1.5h-1.5zM366.57 201.74h1.5v1.5h-1.5zM369.56 201.7h1.5v1.5h-1.5zM403.49 201.75h1.5v1.5h-1.5zM563.67 201.73h1.5v1.5h-1.5zM99.6 201.82h1.5v1.5h-1.5zM103.09 201.77h1.5v1.5h-1.5zM256.29 201.97h1.5v1.5h-1.5zM259.78 201.92h1.5v1.5h-1.5zM269.26 201.92h1.5v1.5h-1.5zM284.73 201.84h1.5v1.5h-1.5zM294.71 201.92h1.5v1.5h-1.5zM302.69 201.95h1.5v1.5h-1.5zM310.68 201.89h1.5v1.5h-1.5zM310.68 201.77h1.5v1.5h-1.5zM312.17 201.98h1.5v1.5h-1.5zM315.67 201.87h1.5v1.5h-1.5zM318.16 201.84h1.5v1.5h-1.5zM319.66 201.79h1.5v1.5h-1.5zM321.66 201.85h1.5v1.5h-1.5zM324.65 201.89h1.5v1.5h-1.5zM325.65 201.96h1.5v1.5h-1.5zM326.65 201.85h1.5v1.5h-1.5zM329.64 201.89h1.5v1.5h-1.5zM331.14 201.85h1.5v1.5h-1.5zM332.63 201.9h1.5v1.5h-1.5zM333.13 201.96h1.5v1.5h-1.5zM333.63 201.88h1.5v1.5h-1.5zM336.63 201.88h1.5v1.5h-1.5zM340.12 201.77h1.5v1.5h-1.5zM343.61 201.9h1.5v1.5h-1.5zM345.61 201.88h1.5v1.5h-1.5zM354.59 201.88h1.5v1.5h-1.5zM357.58 201.96h1.5v1.5h-1.5zM359.58 201.8h1.5v1.5h-1.5zM359.58 201.82h1.5v1.5h-1.5zM375.55 201.92h1.5v1.5h-1.5zM393.01 201.83h1.5v1.5h-1.5zM421.95 201.91h1.5v1.5h-1.5zM426.94 201.88h1.5v1.5h-1.5zM438.42 201.76h1.5v1.5h-1.5zM450.9 201.93h1.5v1.5h-1.5zM455.89 201.98h1.5v1.5h-1.5zM456.88 201.91h1.5v1.5h-1.5zM472.35 201.91h1.5v1.5h-1.5zM496.8 201.92h1.5v1.5h-1.5zM496.8 201.94h1.5v1.5h-1.5zM514.77 201.76h1.5v1.5h-1.5zM532.73 201.78h1.5v1.5h-1.5zM540.72 201.81h1.5v1.5h-1.5zM541.71 201.82h1.5v1.5h-1.5zM544.21 201.85h1.5v1.5h-1.5zM544.71 201.92h1.5v1.5h-1.5zM548.2 201.8h1.5v1.5h-1.5zM557.68 201.92h1.5v1.5h-1.5zM86.13 203.34h1.5v1.5h-1.5zM89.62 203.61h1.5v1.5h-1.5zM116.57 203.37h1.5v1.5h-1.5zM125.05 203.48h1.5v1.5h-1.5zM157.48 203.66h1.5v1.5h-1.5zM160.98 203.56h1.5v1.5h-1.5zM162.47 203.59h1.5v1.5h-1.5zM192.41 203.35h1.5v1.5h-1.5zM201.4 203.41h1.5v1.5h-1.5zM207.88 203.6h1.5v1.5h-1.5zM218.36 203.58h1.5v1.5h-1.5zM237.32 203.62h1.5v1.5h-1.5zM239.32 203.43h1.5v1.5h-1.5zM247.3 203.44h1.5v1.5h-1.5zM254.29 203.66h1.5v1.5h-1.5zM259.28 203.58h1.5v1.5h-1.5zM285.23 203.46h1.5v1.5h-1.5zM285.73 203.46h1.5v1.5h-1.5zM291.72 203.39h1.5v1.5h-1.5zM292.71 203.33h1.5v1.5h-1.5zM294.71 203.51h1.5v1.5h-1.5zM295.21 203.39h1.5v1.5h-1.5zM295.71 203.51h1.5v1.5h-1.5zM301.2 203.38h1.5v1.5h-1.5zM305.19 203.54h1.5v1.5h-1.5zM306.69 203.67h1.5v1.5h-1.5zM308.18 203.6h1.5v1.5h-1.5zM308.18 203.61h1.5v1.5h-1.5zM310.68 203.49h1.5v1.5h-1.5zM311.18 203.37h1.5v1.5h-1.5zM313.67 203.56h1.5v1.5h-1.5zM314.67 203.56h1.5v1.5h-1.5zM317.16 203.36h1.5v1.5h-1.5zM318.16 203.61h1.5v1.5h-1.5zM320.16 203.43h1.5v1.5h-1.5zM321.16 203.52h1.5v1.5h-1.5zM321.16 203.49h1.5v1.5h-1.5zM321.66 203.34h1.5v1.5h-1.5zM324.15 203.41h1.5v1.5h-1.5zM325.65 203.42h1.5v1.5h-1.5zM328.14 203.59h1.5v1.5h-1.5zM331.14 203.59h1.5v1.5h-1.5zM331.64 203.48h1.5v1.5h-1.5zM332.63 203.42h1.5v1.5h-1.5zM334.63 203.65h1.5v1.5h-1.5zM337.62 203.6h1.5v1.5h-1.5zM338.12 203.34h1.5v1.5h-1.5zM338.62 203.44h1.5v1.5h-1.5zM339.62 203.65h1.5v1.5h-1.5zM341.62 203.51h1.5v1.5h-1.5zM343.61 203.38h1.5v1.5h-1.5zM346.61 203.6h1.5v1.5h-1.5zM348.1 203.44h1.5v1.5h-1.5zM351.6 203.55h1.5v1.5h-1.5zM357.58 203.65h1.5v1.5h-1.5zM362.07 203.48h1.5v1.5h-1.5zM364.07 203.57h1.5v1.5h-1.5zM365.57 203.38h1.5v1.5h-1.5zM372.55 203.65h1.5v1.5h-1.5zM399 203.38h1.5v1.5h-1.5zM416.47 203.48h1.5v1.5h-1.5zM422.45 203.61h1.5v1.5h-1.5zM429.44 203.46h1.5v1.5h-1.5zM431.93 203.57h1.5v1.5h-1.5zM431.93 203.46h1.5v1.5h-1.5zM432.93 203.39h1.5v1.5h-1.5zM442.91 203.63h1.5v1.5h-1.5zM450.9 203.6h1.5v1.5h-1.5zM453.39 203.4h1.5v1.5h-1.5zM473.35 203.36h1.5v1.5h-1.5zM489.32 203.33h1.5v1.5h-1.5zM515.77 203.39h1.5v1.5h-1.5zM79.64 205.24h1.5v1.5h-1.5zM82.63 205.19h1.5v1.5h-1.5zM89.62 205.2h1.5v1.5h-1.5zM104.09 205.13h1.5v1.5h-1.5zM125.05 205.28h1.5v1.5h-1.5zM130.54 205.1h1.5v1.5h-1.5zM142.02 205.35h1.5v1.5h-1.5zM157.48 205.28h1.5v1.5h-1.5zM179.94 205.05h1.5v1.5h-1.5zM222.35 205.26h1.5v1.5h-1.5zM224.35 205.13h1.5v1.5h-1.5zM246.81 205.23h1.5v1.5h-1.5zM246.81 205.24h1.5v1.5h-1.5zM256.79 205.15h1.5v1.5h-1.5zM261.28 205.09h1.5v1.5h-1.5zM275.75 205.31h1.5v1.5h-1.5zM281.74 205.32h1.5v1.5h-1.5zM284.23 205.07h1.5v1.5h-1.5zM284.23 205.33h1.5v1.5h-1.5zM285.23 205.18h1.5v1.5h-1.5zM291.72 205.07h1.5v1.5h-1.5zM294.71 205.17h1.5v1.5h-1.5zM296.71 205.28h1.5v1.5h-1.5zM300.7 205.32h1.5v1.5h-1.5zM303.69 205.35h1.5v1.5h-1.5zM305.19 205.13h1.5v1.5h-1.5zM305.69 205.19h1.5v1.5h-1.5zM306.19 205.13h1.5v1.5h-1.5zM306.19 205.3h1.5v1.5h-1.5zM307.19 205.31h1.5v1.5h-1.5zM308.18 205.05h1.5v1.5h-1.5zM309.18 205.16h1.5v1.5h-1.5zM311.18 205.23h1.5v1.5h-1.5zM312.67 205.32h1.5v1.5h-1.5zM313.17 205.08h1.5v1.5h-1.5zM313.67 205.15h1.5v1.5h-1.5zM314.67 205.22h1.5v1.5h-1.5zM316.67 205.15h1.5v1.5h-1.5zM317.16 205.33h1.5v1.5h-1.5zM317.16 205.2h1.5v1.5h-1.5zM317.66 205.05h1.5v1.5h-1.5zM318.16 205.09h1.5v1.5h-1.5zM320.66 205.17h1.5v1.5h-1.5zM321.16 205.07h1.5v1.5h-1.5zM323.15 205.29h1.5v1.5h-1.5zM324.65 205.07h1.5v1.5h-1.5zM325.65 205.04h1.5v1.5h-1.5zM329.64 205.19h1.5v1.5h-1.5zM329.64 205.15h1.5v1.5h-1.5zM330.64 205.34h1.5v1.5h-1.5zM332.13 205.3h1.5v1.5h-1.5zM332.63 205.06h1.5v1.5h-1.5zM334.63 205.18h1.5v1.5h-1.5zM336.13 205.2h1.5v1.5h-1.5zM337.12 205.13h1.5v1.5h-1.5zM339.12 205.33h1.5v1.5h-1.5zM339.62 205.22h1.5v1.5h-1.5zM340.62 205.04h1.5v1.5h-1.5zM341.12 205.03h1.5v1.5h-1.5zM341.62 205.2h1.5v1.5h-1.5zM343.11 205.3h1.5v1.5h-1.5zM344.11 205.34h1.5v1.5h-1.5zM348.6 205.17h1.5v1.5h-1.5zM355.59 205.22h1.5v1.5h-1.5zM364.57 205.09h1.5v1.5h-1.5zM383.53 205.2h1.5v1.5h-1.5zM388.02 205.2h1.5v1.5h-1.5zM408.98 205.22h1.5v1.5h-1.5zM420.46 205.11h1.5v1.5h-1.5zM421.95 205.03h1.5v1.5h-1.5zM425.45 205.21h1.5v1.5h-1.5zM428.94 205.14h1.5v1.5h-1.5zM431.93 205.28h1.5v1.5h-1.5zM440.42 205.05h1.5v1.5h-1.5zM444.41 205.13h1.5v1.5h-1.5zM447.9 205.29h1.5v1.5h-1.5zM449.4 205.18h1.5v1.5h-1.5zM449.9 205.3h1.5v1.5h-1.5zM452.39 205.2h1.5v1.5h-1.5zM465.37 205.31h1.5v1.5h-1.5zM467.36 205.24h1.5v1.5h-1.5zM477.84 205.06h1.5v1.5h-1.5zM507.78 205.2h1.5v1.5h-1.5zM540.72 205.24h1.5v1.5h-1.5zM547.7 205.05h1.5v1.5h-1.5zM562.67 205.22h1.5v1.5h-1.5zM304.69 206.75h1.5v1.5h-1.5zM310.68 206.71h1.5v1.5h-1.5zM328.64 206.73h1.5v1.5h-1.5zM335.63 206.75h1.5v1.5h-1.5zM341.62 206.75h1.5v1.5h-1.5zM352.59 206.74h1.5v1.5h-1.5zM368.56 206.71h1.5v1.5h-1.5zM435.43 206.72h1.5v1.5h-1.5zM453.39 206.73h1.5v1.5h-1.5zM479.84 206.74h1.5v1.5h-1.5zM103.59 206.95h1.5v1.5h-1.5zM149.5 206.89h1.5v1.5h-1.5zM188.92 206.97h1.5v1.5h-1.5zM213.37 206.83h1.5v1.5h-1.5zM231.84 206.95h1.5v1.5h-1.5zM243.31 206.93h1.5v1.5h-1.5zM261.78 206.88h1.5v1.5h-1.5zM277.74 206.97h1.5v1.5h-1.5zM284.23 206.97h1.5v1.5h-1.5zM284.73 206.89h1.5v1.5h-1.5zM284.73 206.87h1.5v1.5h-1.5zM287.72 206.75h1.5v1.5h-1.5zM289.72 206.95h1.5v1.5h-1.5zM293.21 206.78h1.5v1.5h-1.5zM293.71 206.78h1.5v1.5h-1.5zM298.7 206.87h1.5v1.5h-1.5zM299.2 206.92h1.5v1.5h-1.5zM301.2 206.79h1.5v1.5h-1.5zM304.69 206.76h1.5v1.5h-1.5zM305.19 206.89h1.5v1.5h-1.5zM306.69 206.86h1.5v1.5h-1.5zM307.68 207.01h1.5v1.5h-1.5zM308.18 206.82h1.5v1.5h-1.5zM308.68 206.93h1.5v1.5h-1.5zM309.18 207h1.5v1.5h-1.5zM310.68 206.77h1.5v1.5h-1.5zM311.18 207.04h1.5v1.5h-1.5zM312.17 206.88h1.5v1.5h-1.5zM313.17 206.78h1.5v1.5h-1.5zM315.17 206.79h1.5v1.5h-1.5zM318.16 206.77h1.5v1.5h-1.5zM320.66 206.84h1.5v1.5h-1.5zM321.66 206.97h1.5v1.5h-1.5zM322.15 206.86h1.5v1.5h-1.5zM322.65 206.96h1.5v1.5h-1.5zM324.15 206.98h1.5v1.5h-1.5zM326.65 206.76h1.5v1.5h-1.5zM331.14 206.82h1.5v1.5h-1.5zM331.64 206.98h1.5v1.5h-1.5zM335.13 207.02h1.5v1.5h-1.5zM342.11 206.96h1.5v1.5h-1.5zM343.61 206.92h1.5v1.5h-1.5zM345.11 206.91h1.5v1.5h-1.5zM347.6 206.8h1.5v1.5h-1.5zM348.1 207.05h1.5v1.5h-1.5zM349.1 206.75h1.5v1.5h-1.5zM349.6 206.78h1.5v1.5h-1.5zM350.6 206.92h1.5v1.5h-1.5zM352.09 206.77h1.5v1.5h-1.5zM360.58 206.82h1.5v1.5h-1.5zM362.07 206.82h1.5v1.5h-1.5zM364.07 206.9h1.5v1.5h-1.5zM380.54 206.78h1.5v1.5h-1.5zM383.53 206.84h1.5v1.5h-1.5zM421.46 206.93h1.5v1.5h-1.5zM429.44 206.99h1.5v1.5h-1.5zM451.4 206.87h1.5v1.5h-1.5zM469.86 206.88h1.5v1.5h-1.5zM479.34 206.76h1.5v1.5h-1.5zM483.83 206.99h1.5v1.5h-1.5zM490.32 206.88h1.5v1.5h-1.5zM493.31 206.87h1.5v1.5h-1.5zM504.29 206.86h1.5v1.5h-1.5zM516.27 206.9h1.5v1.5h-1.5zM107.09 208.44h1.5v1.5h-1.5zM123.55 208.54h1.5v1.5h-1.5zM165.47 208.45h1.5v1.5h-1.5zM173.45 208.67h1.5v1.5h-1.5zM179.44 208.44h1.5v1.5h-1.5zM179.44 208.63h1.5v1.5h-1.5zM185.93 208.68h1.5v1.5h-1.5zM205.39 208.73h1.5v1.5h-1.5zM230.84 208.65h1.5v1.5h-1.5zM260.78 208.6h1.5v1.5h-1.5zM260.78 208.45h1.5v1.5h-1.5zM283.73 208.56h1.5v1.5h-1.5zM289.22 208.4h1.5v1.5h-1.5zM290.72 208.69h1.5v1.5h-1.5zM292.71 208.43h1.5v1.5h-1.5zM293.21 208.61h1.5v1.5h-1.5zM302.19 208.56h1.5v1.5h-1.5zM303.69 208.54h1.5v1.5h-1.5zM309.18 208.66h1.5v1.5h-1.5zM309.68 208.6h1.5v1.5h-1.5zM311.18 208.49h1.5v1.5h-1.5zM312.17 208.7h1.5v1.5h-1.5zM316.67 208.73h1.5v1.5h-1.5zM319.66 208.47h1.5v1.5h-1.5zM320.16 208.64h1.5v1.5h-1.5zM322.65 208.5h1.5v1.5h-1.5zM322.65 208.64h1.5v1.5h-1.5zM322.65 208.69h1.5v1.5h-1.5zM326.15 208.59h1.5v1.5h-1.5zM327.64 208.66h1.5v1.5h-1.5zM327.64 208.59h1.5v1.5h-1.5zM331.64 208.65h1.5v1.5h-1.5zM337.12 208.68h1.5v1.5h-1.5zM337.62 208.52h1.5v1.5h-1.5zM342.11 208.56h1.5v1.5h-1.5zM345.11 208.52h1.5v1.5h-1.5zM345.61 208.62h1.5v1.5h-1.5zM348.6 208.43h1.5v1.5h-1.5zM352.09 208.62h1.5v1.5h-1.5zM356.59 208.49h1.5v1.5h-1.5zM357.08 208.69h1.5v1.5h-1.5zM357.08 208.46h1.5v1.5h-1.5zM359.58 208.68h1.5v1.5h-1.5zM364.57 208.68h1.5v1.5h-1.5zM366.07 208.41h1.5v1.5h-1.5zM366.57 208.5h1.5v1.5h-1.5zM384.53 208.44h1.5v1.5h-1.5zM390.52 208.55h1.5v1.5h-1.5zM416.47 208.54h1.5v1.5h-1.5zM420.46 208.47h1.5v1.5h-1.5zM440.92 208.73h1.5v1.5h-1.5zM459.88 208.57h1.5v1.5h-1.5zM464.87 208.68h1.5v1.5h-1.5zM481.83 208.52h1.5v1.5h-1.5zM509.28 208.49h1.5v1.5h-1.5zM531.24 208.62h1.5v1.5h-1.5zM552.69 208.48h1.5v1.5h-1.5zM564.17 208.56h1.5v1.5h-1.5zM79.14 210.24h1.5v1.5h-1.5zM114.07 210.27h1.5v1.5h-1.5zM118.06 210.3h1.5v1.5h-1.5zM134.53 210.23h1.5v1.5h-1.5zM137.52 210.23h1.5v1.5h-1.5zM143.51 210.14h1.5v1.5h-1.5zM160.98 210.14h1.5v1.5h-1.5zM168.96 210.28h1.5v1.5h-1.5zM190.42 210.35h1.5v1.5h-1.5zM191.92 210.29h1.5v1.5h-1.5zM207.88 210.38h1.5v1.5h-1.5zM233.83 210.33h1.5v1.5h-1.5zM237.82 210.09h1.5v1.5h-1.5zM241.32 210.31h1.5v1.5h-1.5zM285.73 210.21h1.5v1.5h-1.5zM286.73 210.23h1.5v1.5h-1.5zM292.21 210.12h1.5v1.5h-1.5zM295.21 210.27h1.5v1.5h-1.5zM299.2 210.12h1.5v1.5h-1.5zM299.7 210.11h1.5v1.5h-1.5zM301.2 210.11h1.5v1.5h-1.5zM301.2 210.11h1.5v1.5h-1.5zM309.68 210.39h1.5v1.5h-1.5zM310.18 210.31h1.5v1.5h-1.5zM310.18 210.23h1.5v1.5h-1.5zM310.68 210.31h1.5v1.5h-1.5zM312.17 210.34h1.5v1.5h-1.5zM317.16 210.32h1.5v1.5h-1.5zM319.66 210.13h1.5v1.5h-1.5zM320.66 210.17h1.5v1.5h-1.5zM321.66 210.37h1.5v1.5h-1.5zM321.66 210.18h1.5v1.5h-1.5zM322.65 210.11h1.5v1.5h-1.5zM323.15 210.21h1.5v1.5h-1.5zM323.15 210.36h1.5v1.5h-1.5zM324.15 210.27h1.5v1.5h-1.5zM324.15 210.25h1.5v1.5h-1.5zM325.15 210.25h1.5v1.5h-1.5zM327.14 210.39h1.5v1.5h-1.5zM328.64 210.15h1.5v1.5h-1.5zM330.64 210.11h1.5v1.5h-1.5zM332.63 210.16h1.5v1.5h-1.5zM332.63 210.4h1.5v1.5h-1.5zM333.13 210.21h1.5v1.5h-1.5zM334.63 210.23h1.5v1.5h-1.5zM335.13 210.41h1.5v1.5h-1.5zM338.12 210.26h1.5v1.5h-1.5zM340.62 210.24h1.5v1.5h-1.5zM341.12 210.2h1.5v1.5h-1.5zM342.61 210.2h1.5v1.5h-1.5zM343.61 210.4h1.5v1.5h-1.5zM344.61 210.26h1.5v1.5h-1.5zM351.1 210.12h1.5v1.5h-1.5zM353.59 210.35h1.5v1.5h-1.5zM362.07 210.11h1.5v1.5h-1.5zM363.07 210.24h1.5v1.5h-1.5zM376.55 210.11h1.5v1.5h-1.5zM400 210.4h1.5v1.5h-1.5zM410.48 210.16h1.5v1.5h-1.5zM410.98 210.28h1.5v1.5h-1.5zM427.44 210.14h1.5v1.5h-1.5zM431.44 210.37h1.5v1.5h-1.5zM445.91 210.35h1.5v1.5h-1.5zM448.4 210.38h1.5v1.5h-1.5zM455.89 210.25h1.5v1.5h-1.5zM457.88 210.21h1.5v1.5h-1.5zM469.86 210.28h1.5v1.5h-1.5zM484.83 210.24h1.5v1.5h-1.5zM554.69 210.28h1.5v1.5h-1.5zM566.66 210.38h1.5v1.5h-1.5zM568.66 210.1h1.5v1.5h-1.5zM83.13 212.07h1.5v1.5h-1.5zM89.62 211.89h1.5v1.5h-1.5zM148 211.94h1.5v1.5h-1.5zM161.98 211.87h1.5v1.5h-1.5zM168.96 212.01h1.5v1.5h-1.5zM203.89 211.89h1.5v1.5h-1.5zM218.86 212.1h1.5v1.5h-1.5zM223.35 212.06h1.5v1.5h-1.5zM239.82 212.03h1.5v1.5h-1.5zM269.76 212.09h1.5v1.5h-1.5zM280.24 211.97h1.5v1.5h-1.5zM283.73 211.83h1.5v1.5h-1.5zM286.23 211.92h1.5v1.5h-1.5zM287.72 212.02h1.5v1.5h-1.5zM288.22 211.93h1.5v1.5h-1.5zM298.7 211.8h1.5v1.5h-1.5zM302.69 212.02h1.5v1.5h-1.5zM305.19 211.96h1.5v1.5h-1.5zM306.69 211.87h1.5v1.5h-1.5zM314.17 212.11h1.5v1.5h-1.5zM314.67 211.96h1.5v1.5h-1.5zM316.17 212.09h1.5v1.5h-1.5zM317.66 211.99h1.5v1.5h-1.5zM320.16 212.04h1.5v1.5h-1.5zM320.66 211.85h1.5v1.5h-1.5zM321.16 211.97h1.5v1.5h-1.5zM322.15 211.87h1.5v1.5h-1.5zM322.15 212.04h1.5v1.5h-1.5zM322.15 211.78h1.5v1.5h-1.5zM323.15 212.07h1.5v1.5h-1.5zM324.15 211.88h1.5v1.5h-1.5zM325.15 211.88h1.5v1.5h-1.5zM326.15 211.98h1.5v1.5h-1.5zM328.64 211.87h1.5v1.5h-1.5zM330.14 211.88h1.5v1.5h-1.5zM332.13 211.9h1.5v1.5h-1.5zM332.63 212.05h1.5v1.5h-1.5zM334.13 211.81h1.5v1.5h-1.5zM335.13 211.86h1.5v1.5h-1.5zM336.63 211.95h1.5v1.5h-1.5zM338.12 212.08h1.5v1.5h-1.5zM338.62 211.85h1.5v1.5h-1.5zM340.62 212.05h1.5v1.5h-1.5zM345.11 212.04h1.5v1.5h-1.5zM345.11 211.81h1.5v1.5h-1.5zM346.61 212.03h1.5v1.5h-1.5zM352.09 212.09h1.5v1.5h-1.5zM354.09 211.96h1.5v1.5h-1.5zM355.09 211.99h1.5v1.5h-1.5zM357.08 212.05h1.5v1.5h-1.5zM363.07 212.01h1.5v1.5h-1.5zM368.56 211.82h1.5v1.5h-1.5zM378.54 211.88h1.5v1.5h-1.5zM381.04 211.87h1.5v1.5h-1.5zM399.5 211.9h1.5v1.5h-1.5zM433.43 211.93h1.5v1.5h-1.5zM436.92 211.9h1.5v1.5h-1.5zM438.92 211.86h1.5v1.5h-1.5zM449.4 211.9h1.5v1.5h-1.5zM459.88 212.03h1.5v1.5h-1.5zM465.87 211.89h1.5v1.5h-1.5zM485.33 211.89h1.5v1.5h-1.5zM489.82 212.06h1.5v1.5h-1.5zM493.81 211.97h1.5v1.5h-1.5zM513.77 211.92h1.5v1.5h-1.5zM519.76 212.05h1.5v1.5h-1.5zM534.23 212.01h1.5v1.5h-1.5zM547.2 211.89h1.5v1.5h-1.5zM134.53 213.5h1.5v1.5h-1.5zM146.51 213.75h1.5v1.5h-1.5zM169.96 213.66h1.5v1.5h-1.5zM201.9 213.48h1.5v1.5h-1.5zM232.83 213.63h1.5v1.5h-1.5zM255.79 213.71h1.5v1.5h-1.5zM257.28 213.55h1.5v1.5h-1.5zM260.78 213.59h1.5v1.5h-1.5zM268.26 213.68h1.5v1.5h-1.5zM271.26 213.69h1.5v1.5h-1.5zM273.75 213.61h1.5v1.5h-1.5zM274.75 213.53h1.5v1.5h-1.5zM282.23 213.58h1.5v1.5h-1.5zM291.22 213.65h1.5v1.5h-1.5zM295.71 213.47h1.5v1.5h-1.5zM300.7 213.66h1.5v1.5h-1.5zM301.7 213.75h1.5v1.5h-1.5zM302.19 213.48h1.5v1.5h-1.5zM303.69 213.47h1.5v1.5h-1.5zM305.19 213.57h1.5v1.5h-1.5zM307.19 213.58h1.5v1.5h-1.5zM310.68 213.73h1.5v1.5h-1.5zM314.67 213.6h1.5v1.5h-1.5zM315.67 213.58h1.5v1.5h-1.5zM317.66 213.51h1.5v1.5h-1.5zM319.16 213.56h1.5v1.5h-1.5zM319.66 213.65h1.5v1.5h-1.5zM329.14 213.65h1.5v1.5h-1.5zM330.64 213.5h1.5v1.5h-1.5zM339.12 213.71h1.5v1.5h-1.5zM340.62 213.68h1.5v1.5h-1.5zM344.11 213.73h1.5v1.5h-1.5zM345.61 213.65h1.5v1.5h-1.5zM346.11 213.53h1.5v1.5h-1.5zM349.6 213.72h1.5v1.5h-1.5zM349.6 213.7h1.5v1.5h-1.5zM351.1 213.71h1.5v1.5h-1.5zM352.59 213.61h1.5v1.5h-1.5zM354.09 213.62h1.5v1.5h-1.5zM358.08 213.66h1.5v1.5h-1.5zM364.57 213.59h1.5v1.5h-1.5zM373.55 213.6h1.5v1.5h-1.5zM412.97 213.54h1.5v1.5h-1.5zM419.96 213.5h1.5v1.5h-1.5zM438.42 213.67h1.5v1.5h-1.5zM452.89 213.5h1.5v1.5h-1.5zM454.39 213.55h1.5v1.5h-1.5zM454.39 213.74h1.5v1.5h-1.5zM463.37 213.68h1.5v1.5h-1.5zM479.34 213.69h1.5v1.5h-1.5zM488.82 213.49h1.5v1.5h-1.5zM490.82 213.55h1.5v1.5h-1.5zM492.31 213.51h1.5v1.5h-1.5zM493.81 213.48h1.5v1.5h-1.5zM510.78 213.49h1.5v1.5h-1.5zM532.73 213.71h1.5v1.5h-1.5zM83.13 213.79h1.5v1.5h-1.5zM187.42 213.8h1.5v1.5h-1.5zM230.84 213.77h1.5v1.5h-1.5zM234.83 213.76h1.5v1.5h-1.5zM292.71 213.76h1.5v1.5h-1.5zM293.21 213.76h1.5v1.5h-1.5zM305.19 213.76h1.5v1.5h-1.5zM328.64 213.79h1.5v1.5h-1.5zM397 213.78h1.5v1.5h-1.5zM82.14 215.16h1.5v1.5h-1.5zM85.63 215.23h1.5v1.5h-1.5zM90.12 215.45h1.5v1.5h-1.5zM99.6 215.39h1.5v1.5h-1.5zM108.08 215.37h1.5v1.5h-1.5zM132.04 215.34h1.5v1.5h-1.5zM155.49 215.19h1.5v1.5h-1.5zM161.48 215.39h1.5v1.5h-1.5zM163.97 215.3h1.5v1.5h-1.5zM173.45 215.21h1.5v1.5h-1.5zM182.93 215.27h1.5v1.5h-1.5zM186.43 215.35h1.5v1.5h-1.5zM191.92 215.42h1.5v1.5h-1.5zM198.9 215.48h1.5v1.5h-1.5zM208.38 215.47h1.5v1.5h-1.5zM247.3 215.17h1.5v1.5h-1.5zM284.73 215.49h1.5v1.5h-1.5zM290.72 215.27h1.5v1.5h-1.5zM291.72 215.23h1.5v1.5h-1.5zM297.2 215.26h1.5v1.5h-1.5zM304.69 215.46h1.5v1.5h-1.5zM304.69 215.27h1.5v1.5h-1.5zM304.69 215.29h1.5v1.5h-1.5zM305.69 215.4h1.5v1.5h-1.5zM310.68 215.21h1.5v1.5h-1.5zM311.18 215.34h1.5v1.5h-1.5zM312.17 215.28h1.5v1.5h-1.5zM312.67 215.24h1.5v1.5h-1.5zM314.67 215.21h1.5v1.5h-1.5zM315.17 215.22h1.5v1.5h-1.5zM319.16 215.22h1.5v1.5h-1.5zM322.15 215.42h1.5v1.5h-1.5zM335.13 215.35h1.5v1.5h-1.5zM337.62 215.44h1.5v1.5h-1.5zM341.12 215.38h1.5v1.5h-1.5zM341.62 215.43h1.5v1.5h-1.5zM342.61 215.26h1.5v1.5h-1.5zM344.61 215.19h1.5v1.5h-1.5zM348.6 215.28h1.5v1.5h-1.5zM356.59 215.39h1.5v1.5h-1.5zM357.08 215.49h1.5v1.5h-1.5zM359.58 215.21h1.5v1.5h-1.5zM361.08 215.29h1.5v1.5h-1.5zM362.07 215.23h1.5v1.5h-1.5zM364.07 215.24h1.5v1.5h-1.5zM365.07 215.42h1.5v1.5h-1.5zM365.07 215.47h1.5v1.5h-1.5zM370.06 215.34h1.5v1.5h-1.5zM371.06 215.38h1.5v1.5h-1.5zM393.01 215.39h1.5v1.5h-1.5zM416.47 215.18h1.5v1.5h-1.5zM416.96 215.26h1.5v1.5h-1.5zM424.95 215.27h1.5v1.5h-1.5zM463.37 215.41h1.5v1.5h-1.5zM470.86 215.26h1.5v1.5h-1.5zM471.86 215.36h1.5v1.5h-1.5zM482.83 215.28h1.5v1.5h-1.5zM499.8 215.49h1.5v1.5h-1.5zM513.77 215.37h1.5v1.5h-1.5zM548.2 215.17h1.5v1.5h-1.5zM550.2 215.18h1.5v1.5h-1.5zM88.12 217.02h1.5v1.5h-1.5zM94.11 217.1h1.5v1.5h-1.5zM105.59 216.97h1.5v1.5h-1.5zM122.06 217.11h1.5v1.5h-1.5zM158.48 216.91h1.5v1.5h-1.5zM171.96 216.96h1.5v1.5h-1.5zM179.94 216.88h1.5v1.5h-1.5zM183.43 217.06h1.5v1.5h-1.5zM184.43 216.96h1.5v1.5h-1.5zM209.88 217.15h1.5v1.5h-1.5zM223.85 217.09h1.5v1.5h-1.5zM243.31 217.09h1.5v1.5h-1.5zM252.29 216.88h1.5v1.5h-1.5zM255.79 216.94h1.5v1.5h-1.5zM258.78 216.89h1.5v1.5h-1.5zM280.74 217.17h1.5v1.5h-1.5zM281.74 217.01h1.5v1.5h-1.5zM284.23 216.85h1.5v1.5h-1.5zM299.7 217.07h1.5v1.5h-1.5zM304.69 217.15h1.5v1.5h-1.5zM307.19 216.98h1.5v1.5h-1.5zM313.67 217.09h1.5v1.5h-1.5zM314.17 217.12h1.5v1.5h-1.5zM315.17 216.99h1.5v1.5h-1.5zM317.16 216.98h1.5v1.5h-1.5zM317.16 217.08h1.5v1.5h-1.5zM320.16 217.09h1.5v1.5h-1.5zM324.15 216.97h1.5v1.5h-1.5zM325.15 217.08h1.5v1.5h-1.5zM329.64 217.16h1.5v1.5h-1.5zM334.13 216.99h1.5v1.5h-1.5zM334.63 216.89h1.5v1.5h-1.5zM336.13 217.03h1.5v1.5h-1.5zM340.62 216.99h1.5v1.5h-1.5zM341.12 216.86h1.5v1.5h-1.5zM347.6 216.84h1.5v1.5h-1.5zM350.1 217.14h1.5v1.5h-1.5zM350.6 216.94h1.5v1.5h-1.5zM351.6 216.84h1.5v1.5h-1.5zM353.59 216.88h1.5v1.5h-1.5zM365.57 216.93h1.5v1.5h-1.5zM391.52 217.07h1.5v1.5h-1.5zM432.43 217.01h1.5v1.5h-1.5zM440.92 217.02h1.5v1.5h-1.5zM451.4 216.97h1.5v1.5h-1.5zM453.89 216.86h1.5v1.5h-1.5zM461.88 217.02h1.5v1.5h-1.5zM468.36 217.04h1.5v1.5h-1.5zM468.86 217.13h1.5v1.5h-1.5zM470.36 216.84h1.5v1.5h-1.5zM473.35 217.12h1.5v1.5h-1.5zM540.22 217.16h1.5v1.5h-1.5zM547.2 217.14h1.5v1.5h-1.5zM552.19 216.9h1.5v1.5h-1.5zM567.66 217.17h1.5v1.5h-1.5zM88.62 218.62h1.5v1.5h-1.5zM115.57 218.56h1.5v1.5h-1.5zM126.55 218.64h1.5v1.5h-1.5zM127.54 218.75h1.5v1.5h-1.5zM157.48 218.6h1.5v1.5h-1.5zM181.94 218.72h1.5v1.5h-1.5zM185.93 218.69h1.5v1.5h-1.5zM187.42 218.54h1.5v1.5h-1.5zM189.42 218.61h1.5v1.5h-1.5zM202.89 218.75h1.5v1.5h-1.5zM218.86 218.62h1.5v1.5h-1.5zM244.31 218.66h1.5v1.5h-1.5zM265.27 218.68h1.5v1.5h-1.5zM283.23 218.69h1.5v1.5h-1.5zM285.23 218.56h1.5v1.5h-1.5zM291.72 218.59h1.5v1.5h-1.5zM294.21 218.67h1.5v1.5h-1.5zM297.2 218.61h1.5v1.5h-1.5zM299.2 218.69h1.5v1.5h-1.5zM302.19 218.71h1.5v1.5h-1.5zM302.19 218.72h1.5v1.5h-1.5zM303.19 218.72h1.5v1.5h-1.5zM303.69 218.6h1.5v1.5h-1.5zM309.68 218.6h1.5v1.5h-1.5zM316.17 218.58h1.5v1.5h-1.5zM317.16 218.69h1.5v1.5h-1.5zM318.16 218.54h1.5v1.5h-1.5zM322.65 218.58h1.5v1.5h-1.5zM325.15 218.72h1.5v1.5h-1.5zM328.14 218.58h1.5v1.5h-1.5zM328.14 218.53h1.5v1.5h-1.5zM329.14 218.57h1.5v1.5h-1.5zM330.64 218.73h1.5v1.5h-1.5zM330.64 218.7h1.5v1.5h-1.5zM338.12 218.6h1.5v1.5h-1.5zM339.12 218.57h1.5v1.5h-1.5zM339.62 218.55h1.5v1.5h-1.5zM341.12 218.72h1.5v1.5h-1.5zM341.62 218.72h1.5v1.5h-1.5zM347.6 218.59h1.5v1.5h-1.5zM351.6 218.56h1.5v1.5h-1.5zM358.08 218.62h1.5v1.5h-1.5zM359.58 218.69h1.5v1.5h-1.5zM360.58 218.75h1.5v1.5h-1.5zM369.56 218.6h1.5v1.5h-1.5zM462.87 218.72h1.5v1.5h-1.5zM481.83 218.71h1.5v1.5h-1.5zM558.18 218.65h1.5v1.5h-1.5zM79.14 218.77h1.5v1.5h-1.5zM83.13 218.82h1.5v1.5h-1.5zM107.58 218.85h1.5v1.5h-1.5zM136.53 218.81h1.5v1.5h-1.5zM196.41 218.79h1.5v1.5h-1.5zM301.2 218.83h1.5v1.5h-1.5zM321.16 218.83h1.5v1.5h-1.5zM324.15 218.77h1.5v1.5h-1.5zM329.14 218.85h1.5v1.5h-1.5zM338.62 218.78h1.5v1.5h-1.5zM339.12 218.77h1.5v1.5h-1.5zM343.61 218.79h1.5v1.5h-1.5zM350.6 218.8h1.5v1.5h-1.5zM352.59 218.76h1.5v1.5h-1.5zM355.09 218.77h1.5v1.5h-1.5zM356.09 218.85h1.5v1.5h-1.5zM358.08 218.79h1.5v1.5h-1.5zM361.58 218.82h1.5v1.5h-1.5zM377.54 218.83h1.5v1.5h-1.5zM391.52 218.78h1.5v1.5h-1.5zM392.01 218.84h1.5v1.5h-1.5zM464.87 218.75h1.5v1.5h-1.5zM467.86 218.79h1.5v1.5h-1.5zM481.34 218.78h1.5v1.5h-1.5zM485.83 218.83h1.5v1.5h-1.5zM491.32 218.8h1.5v1.5h-1.5zM86.13 220.22h1.5v1.5h-1.5zM120.06 220.55h1.5v1.5h-1.5zM131.04 220.32h1.5v1.5h-1.5zM197.9 220.27h1.5v1.5h-1.5zM201.4 220.37h1.5v1.5h-1.5zM204.39 220.51h1.5v1.5h-1.5zM206.39 220.27h1.5v1.5h-1.5zM210.38 220.22h1.5v1.5h-1.5zM213.87 220.44h1.5v1.5h-1.5zM253.29 220.27h1.5v1.5h-1.5zM253.79 220.22h1.5v1.5h-1.5zM255.29 220.26h1.5v1.5h-1.5zM256.29 220.23h1.5v1.5h-1.5zM267.26 220.26h1.5v1.5h-1.5zM286.23 220.45h1.5v1.5h-1.5zM287.72 220.27h1.5v1.5h-1.5zM288.72 220.27h1.5v1.5h-1.5zM289.72 220.28h1.5v1.5h-1.5zM290.22 220.49h1.5v1.5h-1.5zM291.22 220.23h1.5v1.5h-1.5zM293.21 220.48h1.5v1.5h-1.5zM294.21 220.29h1.5v1.5h-1.5zM297.2 220.48h1.5v1.5h-1.5zM298.7 220.51h1.5v1.5h-1.5zM302.19 220.48h1.5v1.5h-1.5zM303.19 220.51h1.5v1.5h-1.5zM303.69 220.36h1.5v1.5h-1.5zM303.69 220.32h1.5v1.5h-1.5zM305.69 220.32h1.5v1.5h-1.5zM306.19 220.36h1.5v1.5h-1.5zM306.19 220.46h1.5v1.5h-1.5zM312.67 220.29h1.5v1.5h-1.5zM314.67 220.39h1.5v1.5h-1.5zM321.16 220.3h1.5v1.5h-1.5zM322.15 220.27h1.5v1.5h-1.5zM322.65 220.32h1.5v1.5h-1.5zM324.15 220.47h1.5v1.5h-1.5zM325.65 220.22h1.5v1.5h-1.5zM326.65 220.43h1.5v1.5h-1.5zM326.65 220.25h1.5v1.5h-1.5zM329.64 220.54h1.5v1.5h-1.5zM329.64 220.35h1.5v1.5h-1.5zM337.12 220.34h1.5v1.5h-1.5zM338.12 220.4h1.5v1.5h-1.5zM339.12 220.48h1.5v1.5h-1.5zM340.12 220.39h1.5v1.5h-1.5zM340.62 220.27h1.5v1.5h-1.5zM341.62 220.31h1.5v1.5h-1.5zM342.61 220.35h1.5v1.5h-1.5zM344.61 220.49h1.5v1.5h-1.5zM345.11 220.44h1.5v1.5h-1.5zM346.61 220.49h1.5v1.5h-1.5zM353.09 220.3h1.5v1.5h-1.5zM354.09 220.28h1.5v1.5h-1.5zM354.59 220.33h1.5v1.5h-1.5zM355.59 220.55h1.5v1.5h-1.5zM359.08 220.34h1.5v1.5h-1.5zM365.57 220.31h1.5v1.5h-1.5zM372.05 220.31h1.5v1.5h-1.5zM382.03 220.39h1.5v1.5h-1.5zM426.45 220.48h1.5v1.5h-1.5zM431.44 220.47h1.5v1.5h-1.5zM441.42 220.46h1.5v1.5h-1.5zM456.88 220.52h1.5v1.5h-1.5zM460.38 220.32h1.5v1.5h-1.5zM462.37 220.26h1.5v1.5h-1.5zM488.32 220.36h1.5v1.5h-1.5zM513.27 220.5h1.5v1.5h-1.5zM519.76 220.51h1.5v1.5h-1.5zM521.26 220.25h1.5v1.5h-1.5zM84.13 222.22h1.5v1.5h-1.5zM102.59 221.91h1.5v1.5h-1.5zM104.59 222.07h1.5v1.5h-1.5zM118.06 221.93h1.5v1.5h-1.5zM131.04 222.11h1.5v1.5h-1.5zM131.54 221.91h1.5v1.5h-1.5zM141.52 222.19h1.5v1.5h-1.5zM159.98 221.97h1.5v1.5h-1.5zM162.97 222.08h1.5v1.5h-1.5zM167.46 221.93h1.5v1.5h-1.5zM174.95 222.23h1.5v1.5h-1.5zM182.93 221.92h1.5v1.5h-1.5zM188.42 222.24h1.5v1.5h-1.5zM218.36 221.96h1.5v1.5h-1.5zM235.33 222.04h1.5v1.5h-1.5zM236.83 221.95h1.5v1.5h-1.5zM249.8 222.04h1.5v1.5h-1.5zM252.29 222h1.5v1.5h-1.5zM268.26 222.04h1.5v1.5h-1.5zM268.76 222.21h1.5v1.5h-1.5zM268.76 222.14h1.5v1.5h-1.5zM271.76 221.98h1.5v1.5h-1.5zM273.25 222.23h1.5v1.5h-1.5zM281.74 221.98h1.5v1.5h-1.5zM282.73 222.05h1.5v1.5h-1.5zM286.23 221.94h1.5v1.5h-1.5zM287.72 222.12h1.5v1.5h-1.5zM289.22 221.96h1.5v1.5h-1.5zM290.22 222.02h1.5v1.5h-1.5zM290.72 222.01h1.5v1.5h-1.5zM291.72 222.13h1.5v1.5h-1.5zM292.21 221.92h1.5v1.5h-1.5zM294.21 222.03h1.5v1.5h-1.5zM297.7 222.1h1.5v1.5h-1.5zM301.7 222.24h1.5v1.5h-1.5zM303.19 221.98h1.5v1.5h-1.5zM303.69 222.04h1.5v1.5h-1.5zM303.69 222.19h1.5v1.5h-1.5zM304.19 222.02h1.5v1.5h-1.5zM304.69 222.14h1.5v1.5h-1.5zM308.68 222.05h1.5v1.5h-1.5zM308.68 222.21h1.5v1.5h-1.5zM310.68 221.93h1.5v1.5h-1.5zM311.68 222.11h1.5v1.5h-1.5zM315.17 221.95h1.5v1.5h-1.5zM317.16 222.23h1.5v1.5h-1.5zM319.16 222.14h1.5v1.5h-1.5zM320.16 222.22h1.5v1.5h-1.5zM321.16 222.15h1.5v1.5h-1.5zM321.16 222.15h1.5v1.5h-1.5zM322.15 221.91h1.5v1.5h-1.5zM325.15 222.21h1.5v1.5h-1.5zM325.15 222.23h1.5v1.5h-1.5zM325.65 221.98h1.5v1.5h-1.5zM328.64 222.12h1.5v1.5h-1.5zM329.14 221.96h1.5v1.5h-1.5zM334.63 221.95h1.5v1.5h-1.5zM335.13 222.05h1.5v1.5h-1.5zM342.11 222.17h1.5v1.5h-1.5zM345.11 222.15h1.5v1.5h-1.5zM347.6 222.07h1.5v1.5h-1.5zM350.1 222.09h1.5v1.5h-1.5zM351.6 221.91h1.5v1.5h-1.5zM352.09 222.08h1.5v1.5h-1.5zM354.09 222.19h1.5v1.5h-1.5zM356.09 222.18h1.5v1.5h-1.5zM356.09 221.96h1.5v1.5h-1.5zM356.09 221.97h1.5v1.5h-1.5zM357.58 221.95h1.5v1.5h-1.5zM358.08 222.04h1.5v1.5h-1.5zM361.08 222.22h1.5v1.5h-1.5zM361.58 222.06h1.5v1.5h-1.5zM385.03 222.05h1.5v1.5h-1.5zM398.5 221.93h1.5v1.5h-1.5zM400 222.14h1.5v1.5h-1.5zM425.95 222.07h1.5v1.5h-1.5zM436.92 222h1.5v1.5h-1.5zM461.88 221.94h1.5v1.5h-1.5zM461.88 222.12h1.5v1.5h-1.5zM486.82 222.02h1.5v1.5h-1.5zM501.79 221.98h1.5v1.5h-1.5zM511.28 222.06h1.5v1.5h-1.5zM544.21 221.95h1.5v1.5h-1.5zM548.7 222.23h1.5v1.5h-1.5zM121.56 223.65h1.5v1.5h-1.5zM133.03 223.7h1.5v1.5h-1.5zM190.92 223.65h1.5v1.5h-1.5zM226.85 223.6h1.5v1.5h-1.5zM269.26 223.65h1.5v1.5h-1.5zM269.76 223.73h1.5v1.5h-1.5zM287.22 223.62h1.5v1.5h-1.5zM294.21 223.64h1.5v1.5h-1.5zM296.71 223.69h1.5v1.5h-1.5zM299.2 223.69h1.5v1.5h-1.5zM303.69 223.67h1.5v1.5h-1.5zM304.69 223.73h1.5v1.5h-1.5zM321.66 223.61h1.5v1.5h-1.5zM324.15 223.69h1.5v1.5h-1.5zM331.64 223.75h1.5v1.5h-1.5zM332.63 223.71h1.5v1.5h-1.5zM334.13 223.68h1.5v1.5h-1.5zM341.12 223.72h1.5v1.5h-1.5zM344.11 223.6h1.5v1.5h-1.5zM351.1 223.7h1.5v1.5h-1.5zM353.09 223.62h1.5v1.5h-1.5zM362.07 223.64h1.5v1.5h-1.5zM460.88 223.72h1.5v1.5h-1.5zM485.33 223.65h1.5v1.5h-1.5zM500.3 223.68h1.5v1.5h-1.5zM530.74 223.66h1.5v1.5h-1.5zM560.68 223.72h1.5v1.5h-1.5zM562.67 223.65h1.5v1.5h-1.5zM97.6 223.88h1.5v1.5h-1.5zM126.55 223.87h1.5v1.5h-1.5zM206.39 223.79h1.5v1.5h-1.5zM272.25 223.85h1.5v1.5h-1.5zM275.25 223.86h1.5v1.5h-1.5zM283.23 223.89h1.5v1.5h-1.5zM288.72 223.84h1.5v1.5h-1.5zM291.72 223.86h1.5v1.5h-1.5zM292.21 223.83h1.5v1.5h-1.5zM293.21 223.83h1.5v1.5h-1.5zM301.2 223.89h1.5v1.5h-1.5zM304.19 223.78h1.5v1.5h-1.5zM311.18 223.81h1.5v1.5h-1.5zM313.67 223.92h1.5v1.5h-1.5zM319.66 223.82h1.5v1.5h-1.5zM327.64 223.79h1.5v1.5h-1.5zM328.64 223.81h1.5v1.5h-1.5zM330.64 223.76h1.5v1.5h-1.5zM334.63 223.77h1.5v1.5h-1.5zM335.63 223.83h1.5v1.5h-1.5zM339.62 223.89h1.5v1.5h-1.5zM352.59 223.79h1.5v1.5h-1.5zM357.08 223.77h1.5v1.5h-1.5zM357.58 223.87h1.5v1.5h-1.5zM363.07 223.9h1.5v1.5h-1.5zM456.88 223.87h1.5v1.5h-1.5zM493.81 223.84h1.5v1.5h-1.5zM510.78 223.84h1.5v1.5h-1.5zM515.27 223.88h1.5v1.5h-1.5zM537.22 223.91h1.5v1.5h-1.5zM560.18 223.84h1.5v1.5h-1.5zM567.66 223.76h1.5v1.5h-1.5zM82.14 225.46h1.5v1.5h-1.5zM113.07 225.44h1.5v1.5h-1.5zM120.06 225.54h1.5v1.5h-1.5zM121.56 225.43h1.5v1.5h-1.5zM129.54 225.44h1.5v1.5h-1.5zM131.04 225.35h1.5v1.5h-1.5zM167.96 225.54h1.5v1.5h-1.5zM169.96 225.55h1.5v1.5h-1.5zM178.94 225.49h1.5v1.5h-1.5zM187.42 225.3h1.5v1.5h-1.5zM212.37 225.49h1.5v1.5h-1.5zM214.37 225.45h1.5v1.5h-1.5zM225.35 225.35h1.5v1.5h-1.5zM230.84 225.5h1.5v1.5h-1.5zM231.34 225.36h1.5v1.5h-1.5zM258.28 225.37h1.5v1.5h-1.5zM259.28 225.59h1.5v1.5h-1.5zM275.25 225.37h1.5v1.5h-1.5zM275.25 225.43h1.5v1.5h-1.5zM277.74 225.5h1.5v1.5h-1.5zM279.74 225.48h1.5v1.5h-1.5zM281.74 225.51h1.5v1.5h-1.5zM284.73 225.55h1.5v1.5h-1.5zM293.71 225.38h1.5v1.5h-1.5zM298.7 225.51h1.5v1.5h-1.5zM299.2 225.52h1.5v1.5h-1.5zM300.2 225.45h1.5v1.5h-1.5zM309.18 225.49h1.5v1.5h-1.5zM309.68 225.34h1.5v1.5h-1.5zM310.18 225.3h1.5v1.5h-1.5zM311.68 225.46h1.5v1.5h-1.5zM311.68 225.54h1.5v1.5h-1.5zM312.17 225.49h1.5v1.5h-1.5zM315.17 225.53h1.5v1.5h-1.5zM318.66 225.48h1.5v1.5h-1.5zM320.66 225.57h1.5v1.5h-1.5zM324.65 225.54h1.5v1.5h-1.5zM325.15 225.59h1.5v1.5h-1.5zM327.64 225.54h1.5v1.5h-1.5zM328.64 225.54h1.5v1.5h-1.5zM328.64 225.28h1.5v1.5h-1.5zM329.14 225.52h1.5v1.5h-1.5zM331.64 225.5h1.5v1.5h-1.5zM331.64 225.55h1.5v1.5h-1.5zM332.13 225.4h1.5v1.5h-1.5zM333.13 225.29h1.5v1.5h-1.5zM333.63 225.55h1.5v1.5h-1.5zM334.13 225.29h1.5v1.5h-1.5zM336.63 225.51h1.5v1.5h-1.5zM338.12 225.48h1.5v1.5h-1.5zM339.12 225.35h1.5v1.5h-1.5zM341.12 225.6h1.5v1.5h-1.5zM343.11 225.33h1.5v1.5h-1.5zM346.61 225.41h1.5v1.5h-1.5zM347.6 225.53h1.5v1.5h-1.5zM349.1 225.43h1.5v1.5h-1.5zM355.59 225.38h1.5v1.5h-1.5zM359.58 225.33h1.5v1.5h-1.5zM365.57 225.29h1.5v1.5h-1.5zM368.56 225.37h1.5v1.5h-1.5zM369.56 225.29h1.5v1.5h-1.5zM389.02 225.47h1.5v1.5h-1.5zM398.5 225.3h1.5v1.5h-1.5zM420.96 225.4h1.5v1.5h-1.5zM431.93 225.51h1.5v1.5h-1.5zM442.41 225.35h1.5v1.5h-1.5zM446.41 225.34h1.5v1.5h-1.5zM456.39 225.51h1.5v1.5h-1.5zM510.78 225.39h1.5v1.5h-1.5zM537.72 225.55h1.5v1.5h-1.5zM561.67 225.45h1.5v1.5h-1.5zM565.67 225.51h1.5v1.5h-1.5zM97.11 226.99h1.5v1.5h-1.5zM118.56 226.98h1.5v1.5h-1.5zM143.01 227.29h1.5v1.5h-1.5zM149.5 227.05h1.5v1.5h-1.5zM174.45 227h1.5v1.5h-1.5zM191.42 227.3h1.5v1.5h-1.5zM193.41 227.13h1.5v1.5h-1.5zM203.89 227.22h1.5v1.5h-1.5zM219.86 227.25h1.5v1.5h-1.5zM225.85 227.26h1.5v1.5h-1.5zM239.82 227.04h1.5v1.5h-1.5zM247.8 227.19h1.5v1.5h-1.5zM283.23 227.25h1.5v1.5h-1.5zM285.23 227.29h1.5v1.5h-1.5zM288.22 227.26h1.5v1.5h-1.5zM288.72 227.02h1.5v1.5h-1.5zM291.22 227.01h1.5v1.5h-1.5zM291.72 227.02h1.5v1.5h-1.5zM297.2 227.02h1.5v1.5h-1.5zM301.2 227.2h1.5v1.5h-1.5zM301.2 226.98h1.5v1.5h-1.5zM301.7 227.31h1.5v1.5h-1.5zM303.69 227.26h1.5v1.5h-1.5zM304.69 227.1h1.5v1.5h-1.5zM305.19 227.25h1.5v1.5h-1.5zM305.19 227.08h1.5v1.5h-1.5zM306.69 227.07h1.5v1.5h-1.5zM307.68 227.06h1.5v1.5h-1.5zM309.68 227.28h1.5v1.5h-1.5zM310.18 227.29h1.5v1.5h-1.5zM311.68 227.29h1.5v1.5h-1.5zM312.17 227.07h1.5v1.5h-1.5zM312.17 227.13h1.5v1.5h-1.5zM312.67 227.3h1.5v1.5h-1.5zM313.67 226.98h1.5v1.5h-1.5zM315.67 227h1.5v1.5h-1.5zM318.16 227.09h1.5v1.5h-1.5zM318.66 227.18h1.5v1.5h-1.5zM321.66 227.29h1.5v1.5h-1.5zM324.15 227.18h1.5v1.5h-1.5zM328.64 227.15h1.5v1.5h-1.5zM329.64 227.03h1.5v1.5h-1.5zM336.63 227.24h1.5v1.5h-1.5zM340.12 227h1.5v1.5h-1.5zM342.11 227h1.5v1.5h-1.5zM342.61 227.07h1.5v1.5h-1.5zM343.61 227.21h1.5v1.5h-1.5zM348.6 227.22h1.5v1.5h-1.5zM349.1 227.03h1.5v1.5h-1.5zM351.6 227.26h1.5v1.5h-1.5zM352.59 227.09h1.5v1.5h-1.5zM354.59 227.19h1.5v1.5h-1.5zM355.59 227.27h1.5v1.5h-1.5zM359.58 227.12h1.5v1.5h-1.5zM363.07 227h1.5v1.5h-1.5zM365.57 227.1h1.5v1.5h-1.5zM368.06 227.18h1.5v1.5h-1.5zM448.9 227.01h1.5v1.5h-1.5zM455.89 227.08h1.5v1.5h-1.5zM459.88 227.12h1.5v1.5h-1.5zM471.36 227.11h1.5v1.5h-1.5zM474.85 227.15h1.5v1.5h-1.5zM479.34 227.02h1.5v1.5h-1.5zM489.32 227.14h1.5v1.5h-1.5zM490.32 227.26h1.5v1.5h-1.5zM517.76 227.07h1.5v1.5h-1.5zM518.76 227.14h1.5v1.5h-1.5zM522.25 227.09h1.5v1.5h-1.5zM524.75 227.19h1.5v1.5h-1.5zM530.24 227.02h1.5v1.5h-1.5zM554.19 227.05h1.5v1.5h-1.5zM113.57 228.72h1.5v1.5h-1.5zM134.03 228.67h1.5v1.5h-1.5zM211.38 228.73h1.5v1.5h-1.5zM295.21 228.67h1.5v1.5h-1.5zM302.69 228.68h1.5v1.5h-1.5zM306.69 228.71h1.5v1.5h-1.5zM309.18 228.66h1.5v1.5h-1.5zM311.68 228.66h1.5v1.5h-1.5zM312.67 228.68h1.5v1.5h-1.5zM312.67 228.67h1.5v1.5h-1.5zM316.67 228.75h1.5v1.5h-1.5zM316.67 228.67h1.5v1.5h-1.5zM342.61 228.69h1.5v1.5h-1.5zM351.6 228.71h1.5v1.5h-1.5zM359.08 228.71h1.5v1.5h-1.5zM411.48 228.69h1.5v1.5h-1.5zM476.35 228.68h1.5v1.5h-1.5zM515.27 228.71h1.5v1.5h-1.5zM94.11 228.98h1.5v1.5h-1.5zM101.1 228.82h1.5v1.5h-1.5zM148.5 228.89h1.5v1.5h-1.5zM188.42 228.96h1.5v1.5h-1.5zM199.9 228.9h1.5v1.5h-1.5zM202.89 228.89h1.5v1.5h-1.5zM262.77 228.81h1.5v1.5h-1.5zM292.21 228.78h1.5v1.5h-1.5zM294.71 228.82h1.5v1.5h-1.5zM294.71 228.84h1.5v1.5h-1.5zM306.19 228.96h1.5v1.5h-1.5zM312.67 228.81h1.5v1.5h-1.5zM313.17 228.82h1.5v1.5h-1.5zM313.17 228.83h1.5v1.5h-1.5zM314.17 228.82h1.5v1.5h-1.5zM314.67 228.99h1.5v1.5h-1.5zM314.67 228.84h1.5v1.5h-1.5zM316.17 228.91h1.5v1.5h-1.5zM316.67 228.89h1.5v1.5h-1.5zM319.66 228.87h1.5v1.5h-1.5zM322.65 228.82h1.5v1.5h-1.5zM326.15 228.85h1.5v1.5h-1.5zM326.65 228.93h1.5v1.5h-1.5zM326.65 228.75h1.5v1.5h-1.5zM329.14 228.87h1.5v1.5h-1.5zM332.63 228.82h1.5v1.5h-1.5zM334.13 228.9h1.5v1.5h-1.5zM345.61 228.98h1.5v1.5h-1.5zM346.11 228.75h1.5v1.5h-1.5zM347.1 228.9h1.5v1.5h-1.5zM348.1 228.75h1.5v1.5h-1.5zM351.6 228.79h1.5v1.5h-1.5zM352.59 228.94h1.5v1.5h-1.5zM355.09 228.88h1.5v1.5h-1.5zM374.05 228.99h1.5v1.5h-1.5zM376.05 228.78h1.5v1.5h-1.5zM383.03 228.85h1.5v1.5h-1.5zM388.52 228.99h1.5v1.5h-1.5zM392.51 228.76h1.5v1.5h-1.5zM465.87 228.82h1.5v1.5h-1.5zM480.84 228.8h1.5v1.5h-1.5zM500.3 228.76h1.5v1.5h-1.5zM529.24 228.92h1.5v1.5h-1.5zM547.2 228.86h1.5v1.5h-1.5zM566.17 228.99h1.5v1.5h-1.5zM89.62 230.43h1.5v1.5h-1.5zM91.62 230.65h1.5v1.5h-1.5zM93.61 230.42h1.5v1.5h-1.5zM126.05 230.52h1.5v1.5h-1.5zM143.01 230.64h1.5v1.5h-1.5zM156.49 230.67h1.5v1.5h-1.5zM183.93 230.47h1.5v1.5h-1.5zM197.9 230.36h1.5v1.5h-1.5zM209.88 230.46h1.5v1.5h-1.5zM235.33 230.38h1.5v1.5h-1.5zM247.3 230.64h1.5v1.5h-1.5zM259.78 230.65h1.5v1.5h-1.5zM278.74 230.68h1.5v1.5h-1.5zM280.24 230.41h1.5v1.5h-1.5zM286.73 230.41h1.5v1.5h-1.5zM290.22 230.52h1.5v1.5h-1.5zM292.71 230.47h1.5v1.5h-1.5zM296.21 230.42h1.5v1.5h-1.5zM298.2 230.43h1.5v1.5h-1.5zM299.7 230.59h1.5v1.5h-1.5zM300.7 230.49h1.5v1.5h-1.5zM304.69 230.37h1.5v1.5h-1.5zM307.19 230.55h1.5v1.5h-1.5zM307.19 230.66h1.5v1.5h-1.5zM307.68 230.52h1.5v1.5h-1.5zM315.67 230.5h1.5v1.5h-1.5zM316.17 230.56h1.5v1.5h-1.5zM318.16 230.59h1.5v1.5h-1.5zM322.15 230.38h1.5v1.5h-1.5zM323.65 230.67h1.5v1.5h-1.5zM326.65 230.4h1.5v1.5h-1.5zM329.14 230.35h1.5v1.5h-1.5zM330.64 230.54h1.5v1.5h-1.5zM333.63 230.64h1.5v1.5h-1.5zM333.63 230.4h1.5v1.5h-1.5zM339.62 230.42h1.5v1.5h-1.5zM342.11 230.57h1.5v1.5h-1.5zM343.11 230.35h1.5v1.5h-1.5zM344.61 230.57h1.5v1.5h-1.5zM345.11 230.51h1.5v1.5h-1.5zM345.61 230.59h1.5v1.5h-1.5zM346.11 230.44h1.5v1.5h-1.5zM348.1 230.47h1.5v1.5h-1.5zM352.59 230.39h1.5v1.5h-1.5zM353.09 230.41h1.5v1.5h-1.5zM356.59 230.49h1.5v1.5h-1.5zM361.58 230.64h1.5v1.5h-1.5zM387.52 230.62h1.5v1.5h-1.5zM396.51 230.4h1.5v1.5h-1.5zM420.46 230.4h1.5v1.5h-1.5zM422.95 230.63h1.5v1.5h-1.5zM433.93 230.55h1.5v1.5h-1.5zM437.92 230.68h1.5v1.5h-1.5zM444.91 230.6h1.5v1.5h-1.5zM445.41 230.65h1.5v1.5h-1.5zM458.88 230.63h1.5v1.5h-1.5zM464.87 230.36h1.5v1.5h-1.5zM469.86 230.61h1.5v1.5h-1.5zM494.81 230.68h1.5v1.5h-1.5zM498.8 230.54h1.5v1.5h-1.5zM502.79 230.42h1.5v1.5h-1.5zM515.77 230.55h1.5v1.5h-1.5zM525.75 230.54h1.5v1.5h-1.5zM528.24 230.41h1.5v1.5h-1.5zM531.24 230.49h1.5v1.5h-1.5zM558.18 230.4h1.5v1.5h-1.5zM102.59 232.11h1.5v1.5h-1.5zM167.96 232.19h1.5v1.5h-1.5zM167.96 232.04h1.5v1.5h-1.5zM185.43 232.19h1.5v1.5h-1.5zM190.42 232.37h1.5v1.5h-1.5zM216.37 232.17h1.5v1.5h-1.5zM238.82 232.23h1.5v1.5h-1.5zM239.32 232.27h1.5v1.5h-1.5zM245.31 232.36h1.5v1.5h-1.5zM254.79 232.35h1.5v1.5h-1.5zM264.27 232.14h1.5v1.5h-1.5zM281.74 232.05h1.5v1.5h-1.5zM283.73 232.15h1.5v1.5h-1.5zM286.73 232.35h1.5v1.5h-1.5zM287.22 232.08h1.5v1.5h-1.5zM299.2 232.09h1.5v1.5h-1.5zM299.7 232.08h1.5v1.5h-1.5zM301.2 232.31h1.5v1.5h-1.5zM304.69 232.27h1.5v1.5h-1.5zM308.68 232.06h1.5v1.5h-1.5zM310.18 232.04h1.5v1.5h-1.5zM310.18 232.23h1.5v1.5h-1.5zM313.17 232.21h1.5v1.5h-1.5zM317.16 232.21h1.5v1.5h-1.5zM318.16 232.28h1.5v1.5h-1.5zM318.16 232.15h1.5v1.5h-1.5zM319.16 232.19h1.5v1.5h-1.5zM319.66 232.26h1.5v1.5h-1.5zM319.66 232.25h1.5v1.5h-1.5zM319.66 232.14h1.5v1.5h-1.5zM323.15 232.05h1.5v1.5h-1.5zM324.15 232.35h1.5v1.5h-1.5zM325.65 232.16h1.5v1.5h-1.5zM326.65 232.26h1.5v1.5h-1.5zM326.65 232.21h1.5v1.5h-1.5zM327.14 232.11h1.5v1.5h-1.5zM327.14 232.3h1.5v1.5h-1.5zM327.14 232.19h1.5v1.5h-1.5zM331.14 232.27h1.5v1.5h-1.5zM331.64 232.05h1.5v1.5h-1.5zM332.13 232.05h1.5v1.5h-1.5zM333.13 232.1h1.5v1.5h-1.5zM333.63 232.22h1.5v1.5h-1.5zM337.12 232.33h1.5v1.5h-1.5zM341.12 232.13h1.5v1.5h-1.5zM342.11 232.18h1.5v1.5h-1.5zM343.11 232.09h1.5v1.5h-1.5zM343.61 232.26h1.5v1.5h-1.5zM348.6 232.29h1.5v1.5h-1.5zM351.1 232.14h1.5v1.5h-1.5zM354.59 232.09h1.5v1.5h-1.5zM355.59 232.23h1.5v1.5h-1.5zM357.08 232.14h1.5v1.5h-1.5zM359.58 232.12h1.5v1.5h-1.5zM362.07 232.34h1.5v1.5h-1.5zM366.57 232.12h1.5v1.5h-1.5zM368.56 232.25h1.5v1.5h-1.5zM370.06 232.31h1.5v1.5h-1.5zM406.49 232.14h1.5v1.5h-1.5zM409.98 232.18h1.5v1.5h-1.5zM428.44 232.35h1.5v1.5h-1.5zM435.93 232.15h1.5v1.5h-1.5zM443.91 232.21h1.5v1.5h-1.5zM458.38 232.12h1.5v1.5h-1.5zM496.8 232.23h1.5v1.5h-1.5zM504.29 232.31h1.5v1.5h-1.5zM505.29 232.32h1.5v1.5h-1.5zM101.1 233.74h1.5v1.5h-1.5zM319.16 233.73h1.5v1.5h-1.5zM113.07 233.99h1.5v1.5h-1.5zM139.02 233.99h1.5v1.5h-1.5zM152.99 233.77h1.5v1.5h-1.5zM159.48 233.91h1.5v1.5h-1.5zM164.97 233.89h1.5v1.5h-1.5zM166.97 234.01h1.5v1.5h-1.5zM167.96 233.86h1.5v1.5h-1.5zM176.95 233.83h1.5v1.5h-1.5zM244.31 233.75h1.5v1.5h-1.5zM249.3 233.93h1.5v1.5h-1.5zM260.78 234h1.5v1.5h-1.5zM264.77 234.01h1.5v1.5h-1.5zM282.23 233.97h1.5v1.5h-1.5zM282.23 233.97h1.5v1.5h-1.5zM293.21 233.88h1.5v1.5h-1.5zM295.71 234h1.5v1.5h-1.5zM302.19 234h1.5v1.5h-1.5zM304.69 234.04h1.5v1.5h-1.5zM309.18 233.86h1.5v1.5h-1.5zM311.18 233.81h1.5v1.5h-1.5zM316.67 233.97h1.5v1.5h-1.5zM316.67 234.03h1.5v1.5h-1.5zM321.16 233.78h1.5v1.5h-1.5zM321.16 234.04h1.5v1.5h-1.5zM322.15 233.85h1.5v1.5h-1.5zM322.65 234.04h1.5v1.5h-1.5zM323.15 233.94h1.5v1.5h-1.5zM324.65 233.76h1.5v1.5h-1.5zM324.65 233.81h1.5v1.5h-1.5zM328.14 233.78h1.5v1.5h-1.5zM329.14 233.79h1.5v1.5h-1.5zM329.64 233.8h1.5v1.5h-1.5zM330.64 233.91h1.5v1.5h-1.5zM331.64 233.94h1.5v1.5h-1.5zM332.13 233.78h1.5v1.5h-1.5zM332.13 233.97h1.5v1.5h-1.5zM332.63 233.95h1.5v1.5h-1.5zM333.13 233.84h1.5v1.5h-1.5zM348.6 233.79h1.5v1.5h-1.5zM349.1 233.82h1.5v1.5h-1.5zM352.09 233.86h1.5v1.5h-1.5zM359.58 234.04h1.5v1.5h-1.5zM366.57 233.83h1.5v1.5h-1.5zM368.56 233.9h1.5v1.5h-1.5zM369.56 233.93h1.5v1.5h-1.5zM380.04 233.94h1.5v1.5h-1.5zM388.52 233.89h1.5v1.5h-1.5zM482.83 234.04h1.5v1.5h-1.5zM506.29 233.81h1.5v1.5h-1.5zM507.28 233.96h1.5v1.5h-1.5zM536.72 233.98h1.5v1.5h-1.5zM559.68 233.97h1.5v1.5h-1.5zM82.14 235.57h1.5v1.5h-1.5zM90.62 235.68h1.5v1.5h-1.5zM93.61 235.6h1.5v1.5h-1.5zM99.6 235.56h1.5v1.5h-1.5zM115.57 235.57h1.5v1.5h-1.5zM117.56 235.47h1.5v1.5h-1.5zM123.05 235.53h1.5v1.5h-1.5zM128.04 235.68h1.5v1.5h-1.5zM163.97 235.64h1.5v1.5h-1.5zM164.97 235.5h1.5v1.5h-1.5zM215.37 235.65h1.5v1.5h-1.5zM217.86 235.55h1.5v1.5h-1.5zM238.82 235.7h1.5v1.5h-1.5zM240.82 235.63h1.5v1.5h-1.5zM248.8 235.53h1.5v1.5h-1.5zM257.28 235.46h1.5v1.5h-1.5zM259.28 235.69h1.5v1.5h-1.5zM261.78 235.69h1.5v1.5h-1.5zM267.26 235.58h1.5v1.5h-1.5zM269.76 235.57h1.5v1.5h-1.5zM270.26 235.59h1.5v1.5h-1.5zM279.24 235.72h1.5v1.5h-1.5zM288.72 235.59h1.5v1.5h-1.5zM290.72 235.66h1.5v1.5h-1.5zM291.22 235.71h1.5v1.5h-1.5zM292.71 235.61h1.5v1.5h-1.5zM293.21 235.44h1.5v1.5h-1.5zM295.71 235.47h1.5v1.5h-1.5zM298.2 235.62h1.5v1.5h-1.5zM301.7 235.73h1.5v1.5h-1.5zM302.69 235.68h1.5v1.5h-1.5zM303.19 235.56h1.5v1.5h-1.5zM307.68 235.57h1.5v1.5h-1.5zM308.68 235.71h1.5v1.5h-1.5zM310.18 235.58h1.5v1.5h-1.5zM311.68 235.63h1.5v1.5h-1.5zM313.17 235.7h1.5v1.5h-1.5zM315.67 235.66h1.5v1.5h-1.5zM322.15 235.44h1.5v1.5h-1.5zM323.65 235.55h1.5v1.5h-1.5zM325.65 235.48h1.5v1.5h-1.5zM327.64 235.56h1.5v1.5h-1.5zM327.64 235.65h1.5v1.5h-1.5zM328.14 235.71h1.5v1.5h-1.5zM329.14 235.41h1.5v1.5h-1.5zM337.12 235.64h1.5v1.5h-1.5zM343.11 235.55h1.5v1.5h-1.5zM347.6 235.56h1.5v1.5h-1.5zM354.59 235.61h1.5v1.5h-1.5zM355.59 235.59h1.5v1.5h-1.5zM357.08 235.67h1.5v1.5h-1.5zM362.07 235.72h1.5v1.5h-1.5zM363.07 235.65h1.5v1.5h-1.5zM382.03 235.72h1.5v1.5h-1.5zM384.53 235.68h1.5v1.5h-1.5zM413.47 235.46h1.5v1.5h-1.5zM419.46 235.55h1.5v1.5h-1.5zM482.33 235.48h1.5v1.5h-1.5zM490.32 235.44h1.5v1.5h-1.5zM502.29 235.52h1.5v1.5h-1.5zM554.69 235.56h1.5v1.5h-1.5zM565.17 235.47h1.5v1.5h-1.5zM569.16 235.43h1.5v1.5h-1.5zM571.65 235.46h1.5v1.5h-1.5zM112.08 237.37h1.5v1.5h-1.5zM149 237.41h1.5v1.5h-1.5zM169.46 237.11h1.5v1.5h-1.5zM171.96 237.17h1.5v1.5h-1.5zM218.36 237.33h1.5v1.5h-1.5zM224.85 237.3h1.5v1.5h-1.5zM225.85 237.41h1.5v1.5h-1.5zM239.82 237.2h1.5v1.5h-1.5zM243.31 237.2h1.5v1.5h-1.5zM264.27 237.41h1.5v1.5h-1.5zM273.25 237.13h1.5v1.5h-1.5zM279.74 237.21h1.5v1.5h-1.5zM281.24 237.34h1.5v1.5h-1.5zM295.71 237.16h1.5v1.5h-1.5zM296.21 237.37h1.5v1.5h-1.5zM296.21 237.41h1.5v1.5h-1.5zM298.2 237.13h1.5v1.5h-1.5zM300.7 237.12h1.5v1.5h-1.5zM301.2 237.14h1.5v1.5h-1.5zM302.69 237.31h1.5v1.5h-1.5zM304.19 237.37h1.5v1.5h-1.5zM308.18 237.31h1.5v1.5h-1.5zM309.68 237.35h1.5v1.5h-1.5zM310.68 237.29h1.5v1.5h-1.5zM311.18 237.24h1.5v1.5h-1.5zM312.67 237.26h1.5v1.5h-1.5zM313.67 237.11h1.5v1.5h-1.5zM314.17 237.39h1.5v1.5h-1.5zM314.67 237.2h1.5v1.5h-1.5zM316.17 237.19h1.5v1.5h-1.5zM322.15 237.24h1.5v1.5h-1.5zM323.15 237.43h1.5v1.5h-1.5zM324.15 237.35h1.5v1.5h-1.5zM325.65 237.36h1.5v1.5h-1.5zM326.15 237.12h1.5v1.5h-1.5zM333.13 237.23h1.5v1.5h-1.5zM335.63 237.2h1.5v1.5h-1.5zM336.63 237.11h1.5v1.5h-1.5zM338.12 237.26h1.5v1.5h-1.5zM339.12 237.16h1.5v1.5h-1.5zM340.62 237.24h1.5v1.5h-1.5zM342.11 237.44h1.5v1.5h-1.5zM342.11 237.15h1.5v1.5h-1.5zM342.11 237.32h1.5v1.5h-1.5zM343.61 237.19h1.5v1.5h-1.5zM353.09 237.16h1.5v1.5h-1.5zM353.59 237.17h1.5v1.5h-1.5zM353.59 237.32h1.5v1.5h-1.5zM360.08 237.15h1.5v1.5h-1.5zM362.57 237.3h1.5v1.5h-1.5zM363.07 237.34h1.5v1.5h-1.5zM364.57 237.1h1.5v1.5h-1.5zM370.56 237.39h1.5v1.5h-1.5zM375.55 237.3h1.5v1.5h-1.5zM384.03 237.23h1.5v1.5h-1.5zM384.53 237.1h1.5v1.5h-1.5zM438.42 237.26h1.5v1.5h-1.5zM515.27 237.17h1.5v1.5h-1.5zM539.22 237.39h1.5v1.5h-1.5zM546.7 237.21h1.5v1.5h-1.5zM562.17 237.24h1.5v1.5h-1.5zM567.66 237.44h1.5v1.5h-1.5zM570.66 237.38h1.5v1.5h-1.5zM82.63 238.96h1.5v1.5h-1.5zM105.59 239.1h1.5v1.5h-1.5zM108.08 238.86h1.5v1.5h-1.5zM114.07 239.06h1.5v1.5h-1.5zM115.07 238.8h1.5v1.5h-1.5zM136.53 239.07h1.5v1.5h-1.5zM138.02 238.88h1.5v1.5h-1.5zM158.98 239.11h1.5v1.5h-1.5zM187.42 239h1.5v1.5h-1.5zM187.92 238.92h1.5v1.5h-1.5zM205.39 238.97h1.5v1.5h-1.5zM208.88 238.87h1.5v1.5h-1.5zM208.88 239.08h1.5v1.5h-1.5zM235.83 239.11h1.5v1.5h-1.5zM252.29 238.83h1.5v1.5h-1.5zM257.28 239.08h1.5v1.5h-1.5zM259.78 238.92h1.5v1.5h-1.5zM275.25 239.11h1.5v1.5h-1.5zM276.25 238.84h1.5v1.5h-1.5zM282.73 239.01h1.5v1.5h-1.5zM282.73 238.86h1.5v1.5h-1.5zM283.73 239.12h1.5v1.5h-1.5zM293.71 238.9h1.5v1.5h-1.5zM300.7 238.99h1.5v1.5h-1.5zM302.69 238.9h1.5v1.5h-1.5zM303.69 239.02h1.5v1.5h-1.5zM307.19 239.09h1.5v1.5h-1.5zM310.18 239.1h1.5v1.5h-1.5zM314.17 238.99h1.5v1.5h-1.5zM317.16 238.89h1.5v1.5h-1.5zM317.66 238.83h1.5v1.5h-1.5zM318.66 238.99h1.5v1.5h-1.5zM320.66 239.1h1.5v1.5h-1.5zM323.65 239h1.5v1.5h-1.5zM326.65 239.07h1.5v1.5h-1.5zM330.64 239.1h1.5v1.5h-1.5zM334.63 239.03h1.5v1.5h-1.5zM338.62 239.08h1.5v1.5h-1.5zM340.62 239.12h1.5v1.5h-1.5zM346.61 239.02h1.5v1.5h-1.5zM346.61 239.08h1.5v1.5h-1.5zM347.6 238.85h1.5v1.5h-1.5zM348.6 238.85h1.5v1.5h-1.5zM352.09 239.02h1.5v1.5h-1.5zM352.09 239.07h1.5v1.5h-1.5zM354.09 238.94h1.5v1.5h-1.5zM354.59 239.08h1.5v1.5h-1.5zM365.07 238.87h1.5v1.5h-1.5zM374.55 239.09h1.5v1.5h-1.5zM387.02 239h1.5v1.5h-1.5zM396.51 238.85h1.5v1.5h-1.5zM435.93 239.05h1.5v1.5h-1.5zM452.39 239.12h1.5v1.5h-1.5zM455.89 238.96h1.5v1.5h-1.5zM458.38 238.85h1.5v1.5h-1.5zM472.35 238.91h1.5v1.5h-1.5zM475.35 238.87h1.5v1.5h-1.5zM479.34 238.8h1.5v1.5h-1.5zM491.81 239.04h1.5v1.5h-1.5zM497.8 238.98h1.5v1.5h-1.5zM517.26 239h1.5v1.5h-1.5zM539.22 239.12h1.5v1.5h-1.5zM542.21 238.92h1.5v1.5h-1.5zM547.7 239h1.5v1.5h-1.5zM551.69 239.05h1.5v1.5h-1.5zM555.19 239.03h1.5v1.5h-1.5zM559.18 238.98h1.5v1.5h-1.5zM559.68 238.94h1.5v1.5h-1.5zM566.66 238.92h1.5v1.5h-1.5zM566.66 238.97h1.5v1.5h-1.5zM119.56 240.52h1.5v1.5h-1.5zM121.06 240.56h1.5v1.5h-1.5zM151 240.63h1.5v1.5h-1.5zM152.49 240.65h1.5v1.5h-1.5zM152.49 240.61h1.5v1.5h-1.5zM161.48 240.71h1.5v1.5h-1.5zM191.92 240.58h1.5v1.5h-1.5zM206.39 240.72h1.5v1.5h-1.5zM207.38 240.65h1.5v1.5h-1.5zM209.38 240.61h1.5v1.5h-1.5zM234.83 240.66h1.5v1.5h-1.5zM288.72 240.61h1.5v1.5h-1.5zM289.22 240.74h1.5v1.5h-1.5zM294.21 240.63h1.5v1.5h-1.5zM299.7 240.68h1.5v1.5h-1.5zM300.7 240.64h1.5v1.5h-1.5zM305.19 240.52h1.5v1.5h-1.5zM307.68 240.63h1.5v1.5h-1.5zM309.18 240.74h1.5v1.5h-1.5zM310.68 240.52h1.5v1.5h-1.5zM311.68 240.48h1.5v1.5h-1.5zM312.17 240.6h1.5v1.5h-1.5zM317.66 240.49h1.5v1.5h-1.5zM317.66 240.66h1.5v1.5h-1.5zM319.16 240.69h1.5v1.5h-1.5zM321.16 240.6h1.5v1.5h-1.5zM321.66 240.51h1.5v1.5h-1.5zM324.15 240.52h1.5v1.5h-1.5zM324.65 240.66h1.5v1.5h-1.5zM325.65 240.65h1.5v1.5h-1.5zM328.64 240.67h1.5v1.5h-1.5zM331.64 240.72h1.5v1.5h-1.5zM331.64 240.7h1.5v1.5h-1.5zM332.63 240.56h1.5v1.5h-1.5zM341.12 240.58h1.5v1.5h-1.5zM342.11 240.6h1.5v1.5h-1.5zM342.61 240.61h1.5v1.5h-1.5zM343.11 240.72h1.5v1.5h-1.5zM343.11 240.59h1.5v1.5h-1.5zM348.6 240.55h1.5v1.5h-1.5zM353.09 240.5h1.5v1.5h-1.5zM353.09 240.49h1.5v1.5h-1.5zM354.09 240.58h1.5v1.5h-1.5zM362.07 240.63h1.5v1.5h-1.5zM371.06 240.69h1.5v1.5h-1.5zM373.05 240.68h1.5v1.5h-1.5zM378.54 240.6h1.5v1.5h-1.5zM431.44 240.56h1.5v1.5h-1.5zM436.43 240.57h1.5v1.5h-1.5zM436.92 240.56h1.5v1.5h-1.5zM505.29 240.6h1.5v1.5h-1.5zM513.27 240.51h1.5v1.5h-1.5zM514.27 240.71h1.5v1.5h-1.5zM536.23 240.66h1.5v1.5h-1.5zM149.5 240.78h1.5v1.5h-1.5zM275.75 240.78h1.5v1.5h-1.5zM288.22 240.79h1.5v1.5h-1.5zM295.71 240.8h1.5v1.5h-1.5zM307.19 240.78h1.5v1.5h-1.5zM307.68 240.81h1.5v1.5h-1.5zM309.68 240.76h1.5v1.5h-1.5zM315.17 240.77h1.5v1.5h-1.5zM328.64 240.77h1.5v1.5h-1.5zM328.64 240.77h1.5v1.5h-1.5zM339.62 240.76h1.5v1.5h-1.5zM345.61 240.77h1.5v1.5h-1.5zM354.09 240.81h1.5v1.5h-1.5zM530.24 240.78h1.5v1.5h-1.5zM82.63 242.45h1.5v1.5h-1.5zM94.61 242.23h1.5v1.5h-1.5zM98.1 242.46h1.5v1.5h-1.5zM113.57 242.25h1.5v1.5h-1.5zM116.07 242.4h1.5v1.5h-1.5zM120.06 242.22h1.5v1.5h-1.5zM124.55 242.49h1.5v1.5h-1.5zM145.51 242.3h1.5v1.5h-1.5zM153.49 242.32h1.5v1.5h-1.5zM156.49 242.38h1.5v1.5h-1.5zM165.97 242.32h1.5v1.5h-1.5zM214.37 242.29h1.5v1.5h-1.5zM214.37 242.45h1.5v1.5h-1.5zM249.3 242.26h1.5v1.5h-1.5zM261.28 242.43h1.5v1.5h-1.5zM263.77 242.24h1.5v1.5h-1.5zM264.77 242.43h1.5v1.5h-1.5zM265.77 242.27h1.5v1.5h-1.5zM270.26 242.38h1.5v1.5h-1.5zM272.25 242.28h1.5v1.5h-1.5zM277.74 242.33h1.5v1.5h-1.5zM278.24 242.29h1.5v1.5h-1.5zM287.72 242.27h1.5v1.5h-1.5zM296.21 242.18h1.5v1.5h-1.5zM297.2 242.34h1.5v1.5h-1.5zM303.19 242.47h1.5v1.5h-1.5zM312.17 242.22h1.5v1.5h-1.5zM312.67 242.32h1.5v1.5h-1.5zM314.17 242.49h1.5v1.5h-1.5zM314.67 242.42h1.5v1.5h-1.5zM317.66 242.28h1.5v1.5h-1.5zM320.16 242.37h1.5v1.5h-1.5zM321.16 242.18h1.5v1.5h-1.5zM325.15 242.23h1.5v1.5h-1.5zM328.14 242.47h1.5v1.5h-1.5zM328.64 242.42h1.5v1.5h-1.5zM329.64 242.42h1.5v1.5h-1.5zM330.64 242.22h1.5v1.5h-1.5zM332.63 242.34h1.5v1.5h-1.5zM334.63 242.19h1.5v1.5h-1.5zM337.12 242.32h1.5v1.5h-1.5zM346.11 242.37h1.5v1.5h-1.5zM347.1 242.44h1.5v1.5h-1.5zM348.1 242.31h1.5v1.5h-1.5zM350.1 242.5h1.5v1.5h-1.5zM354.09 242.22h1.5v1.5h-1.5zM354.09 242.35h1.5v1.5h-1.5zM359.58 242.26h1.5v1.5h-1.5zM365.07 242.38h1.5v1.5h-1.5zM365.57 242.17h1.5v1.5h-1.5zM380.54 242.33h1.5v1.5h-1.5zM381.04 242.41h1.5v1.5h-1.5zM444.41 242.38h1.5v1.5h-1.5zM447.9 242.41h1.5v1.5h-1.5zM452.39 242.43h1.5v1.5h-1.5zM456.39 242.29h1.5v1.5h-1.5zM477.84 242.42h1.5v1.5h-1.5zM521.26 242.48h1.5v1.5h-1.5zM529.24 242.39h1.5v1.5h-1.5zM539.72 242.26h1.5v1.5h-1.5zM557.18 242.36h1.5v1.5h-1.5zM562.67 242.32h1.5v1.5h-1.5zM84.13 244.05h1.5v1.5h-1.5zM93.61 244h1.5v1.5h-1.5zM132.53 244.14h1.5v1.5h-1.5zM152.99 244.18h1.5v1.5h-1.5zM162.47 243.99h1.5v1.5h-1.5zM198.9 244.1h1.5v1.5h-1.5zM210.88 244h1.5v1.5h-1.5zM211.88 243.93h1.5v1.5h-1.5zM222.35 243.91h1.5v1.5h-1.5zM243.81 244.05h1.5v1.5h-1.5zM250.8 243.96h1.5v1.5h-1.5zM267.76 243.94h1.5v1.5h-1.5zM271.76 244.03h1.5v1.5h-1.5zM274.25 244.11h1.5v1.5h-1.5zM276.25 243.87h1.5v1.5h-1.5zM291.72 244.11h1.5v1.5h-1.5zM299.2 244.09h1.5v1.5h-1.5zM303.19 243.99h1.5v1.5h-1.5zM304.19 244.13h1.5v1.5h-1.5zM306.69 244.01h1.5v1.5h-1.5zM309.68 244.14h1.5v1.5h-1.5zM310.68 244.02h1.5v1.5h-1.5zM312.17 244.1h1.5v1.5h-1.5zM312.67 243.91h1.5v1.5h-1.5zM313.17 244.12h1.5v1.5h-1.5zM316.17 244.19h1.5v1.5h-1.5zM318.16 244.13h1.5v1.5h-1.5zM318.16 243.93h1.5v1.5h-1.5zM323.65 243.95h1.5v1.5h-1.5zM323.65 243.95h1.5v1.5h-1.5zM325.65 243.92h1.5v1.5h-1.5zM328.14 244.05h1.5v1.5h-1.5zM329.64 244.14h1.5v1.5h-1.5zM330.14 244h1.5v1.5h-1.5zM335.63 243.89h1.5v1.5h-1.5zM347.1 244h1.5v1.5h-1.5zM348.6 244.07h1.5v1.5h-1.5zM354.59 244.03h1.5v1.5h-1.5zM356.09 243.96h1.5v1.5h-1.5zM359.08 243.96h1.5v1.5h-1.5zM360.08 243.89h1.5v1.5h-1.5zM360.08 243.89h1.5v1.5h-1.5zM361.08 244.17h1.5v1.5h-1.5zM369.06 244h1.5v1.5h-1.5zM371.06 244.09h1.5v1.5h-1.5zM422.45 244h1.5v1.5h-1.5zM449.9 244.1h1.5v1.5h-1.5zM468.86 243.94h1.5v1.5h-1.5zM470.86 244.15h1.5v1.5h-1.5zM476.35 243.98h1.5v1.5h-1.5zM476.84 243.91h1.5v1.5h-1.5zM508.78 244.18h1.5v1.5h-1.5zM520.26 243.98h1.5v1.5h-1.5zM556.68 244.07h1.5v1.5h-1.5zM557.18 243.96h1.5v1.5h-1.5zM570.66 243.88h1.5v1.5h-1.5zM172.95 245.62h1.5v1.5h-1.5zM204.89 245.7h1.5v1.5h-1.5zM227.34 245.75h1.5v1.5h-1.5zM275.75 245.68h1.5v1.5h-1.5zM292.21 245.62h1.5v1.5h-1.5zM298.7 245.67h1.5v1.5h-1.5zM299.7 245.67h1.5v1.5h-1.5zM301.2 245.68h1.5v1.5h-1.5zM303.69 245.63h1.5v1.5h-1.5zM310.18 245.55h1.5v1.5h-1.5zM313.17 245.64h1.5v1.5h-1.5zM315.67 245.72h1.5v1.5h-1.5zM317.16 245.69h1.5v1.5h-1.5zM318.16 245.69h1.5v1.5h-1.5zM319.66 245.64h1.5v1.5h-1.5zM326.15 245.54h1.5v1.5h-1.5zM327.14 245.6h1.5v1.5h-1.5zM331.14 245.6h1.5v1.5h-1.5zM331.64 245.63h1.5v1.5h-1.5zM334.63 245.56h1.5v1.5h-1.5zM342.11 245.59h1.5v1.5h-1.5zM343.61 245.57h1.5v1.5h-1.5zM350.1 245.56h1.5v1.5h-1.5zM353.09 245.64h1.5v1.5h-1.5zM356.09 245.59h1.5v1.5h-1.5zM357.08 245.69h1.5v1.5h-1.5zM361.58 245.65h1.5v1.5h-1.5zM366.07 245.68h1.5v1.5h-1.5zM448.4 245.64h1.5v1.5h-1.5zM448.4 245.6h1.5v1.5h-1.5zM467.36 245.71h1.5v1.5h-1.5zM488.32 245.56h1.5v1.5h-1.5zM500.3 245.65h1.5v1.5h-1.5zM556.19 245.73h1.5v1.5h-1.5zM558.18 245.55h1.5v1.5h-1.5zM565.17 245.72h1.5v1.5h-1.5zM86.63 245.84h1.5v1.5h-1.5zM104.09 245.84h1.5v1.5h-1.5zM184.43 245.78h1.5v1.5h-1.5zM185.43 245.86h1.5v1.5h-1.5zM186.93 245.82h1.5v1.5h-1.5zM199.4 245.82h1.5v1.5h-1.5zM244.81 245.78h1.5v1.5h-1.5zM264.27 245.78h1.5v1.5h-1.5zM285.73 245.82h1.5v1.5h-1.5zM288.72 245.85h1.5v1.5h-1.5zM293.71 245.85h1.5v1.5h-1.5zM295.71 245.78h1.5v1.5h-1.5zM296.71 245.82h1.5v1.5h-1.5zM306.19 245.83h1.5v1.5h-1.5zM311.68 245.75h1.5v1.5h-1.5zM315.17 245.79h1.5v1.5h-1.5zM319.16 245.83h1.5v1.5h-1.5zM319.66 245.8h1.5v1.5h-1.5zM325.65 245.78h1.5v1.5h-1.5zM327.64 245.84h1.5v1.5h-1.5zM328.14 245.81h1.5v1.5h-1.5zM333.13 245.86h1.5v1.5h-1.5zM336.63 245.78h1.5v1.5h-1.5zM340.12 245.84h1.5v1.5h-1.5zM369.56 245.81h1.5v1.5h-1.5zM432.93 245.87h1.5v1.5h-1.5zM451.4 245.8h1.5v1.5h-1.5zM517.76 245.78h1.5v1.5h-1.5zM84.63 247.34h1.5v1.5h-1.5zM94.61 247.43h1.5v1.5h-1.5zM112.57 247.31h1.5v1.5h-1.5zM134.03 247.29h1.5v1.5h-1.5zM154.49 247.41h1.5v1.5h-1.5zM185.43 247.49h1.5v1.5h-1.5zM211.88 247.4h1.5v1.5h-1.5zM212.87 247.34h1.5v1.5h-1.5zM217.86 247.26h1.5v1.5h-1.5zM238.82 247.27h1.5v1.5h-1.5zM293.71 247.53h1.5v1.5h-1.5zM296.21 247.24h1.5v1.5h-1.5zM296.71 247.42h1.5v1.5h-1.5zM299.2 247.54h1.5v1.5h-1.5zM302.19 247.37h1.5v1.5h-1.5zM303.69 247.46h1.5v1.5h-1.5zM308.68 247.43h1.5v1.5h-1.5zM310.18 247.4h1.5v1.5h-1.5zM313.17 247.35h1.5v1.5h-1.5zM314.67 247.31h1.5v1.5h-1.5zM317.16 247.26h1.5v1.5h-1.5zM320.16 247.4h1.5v1.5h-1.5zM323.15 247.29h1.5v1.5h-1.5zM323.65 247.55h1.5v1.5h-1.5zM325.15 247.31h1.5v1.5h-1.5zM327.64 247.46h1.5v1.5h-1.5zM329.64 247.33h1.5v1.5h-1.5zM332.63 247.52h1.5v1.5h-1.5zM335.63 247.26h1.5v1.5h-1.5zM337.62 247.56h1.5v1.5h-1.5zM341.12 247.33h1.5v1.5h-1.5zM346.11 247.39h1.5v1.5h-1.5zM346.11 247.35h1.5v1.5h-1.5zM348.1 247.43h1.5v1.5h-1.5zM351.1 247.5h1.5v1.5h-1.5zM355.09 247.42h1.5v1.5h-1.5zM363.57 247.43h1.5v1.5h-1.5zM364.07 247.53h1.5v1.5h-1.5zM389.52 247.24h1.5v1.5h-1.5zM463.37 247.24h1.5v1.5h-1.5zM475.85 247.25h1.5v1.5h-1.5zM499.3 247.24h1.5v1.5h-1.5zM504.79 247.27h1.5v1.5h-1.5zM516.76 247.38h1.5v1.5h-1.5zM524.75 247.37h1.5v1.5h-1.5zM527.74 247.27h1.5v1.5h-1.5zM528.74 247.52h1.5v1.5h-1.5zM550.2 247.35h1.5v1.5h-1.5zM100.1 249.16h1.5v1.5h-1.5zM130.54 249.11h1.5v1.5h-1.5zM134.53 249.21h1.5v1.5h-1.5zM145.01 249.25h1.5v1.5h-1.5zM148.5 249.2h1.5v1.5h-1.5zM158.48 248.99h1.5v1.5h-1.5zM167.46 249.18h1.5v1.5h-1.5zM175.95 249.02h1.5v1.5h-1.5zM180.94 248.94h1.5v1.5h-1.5zM196.41 249.24h1.5v1.5h-1.5zM216.87 248.99h1.5v1.5h-1.5zM219.86 249.21h1.5v1.5h-1.5zM231.84 248.95h1.5v1.5h-1.5zM279.74 248.95h1.5v1.5h-1.5zM280.74 248.92h1.5v1.5h-1.5zM281.24 249.21h1.5v1.5h-1.5zM292.71 249.25h1.5v1.5h-1.5zM294.21 249.22h1.5v1.5h-1.5zM299.7 249.02h1.5v1.5h-1.5zM309.18 249.24h1.5v1.5h-1.5zM310.68 249.03h1.5v1.5h-1.5zM311.68 249.19h1.5v1.5h-1.5zM315.17 249.01h1.5v1.5h-1.5zM316.17 248.93h1.5v1.5h-1.5zM316.67 249.06h1.5v1.5h-1.5zM318.16 249.06h1.5v1.5h-1.5zM319.66 248.97h1.5v1.5h-1.5zM320.66 249.25h1.5v1.5h-1.5zM321.66 249.19h1.5v1.5h-1.5zM323.15 249.13h1.5v1.5h-1.5zM324.65 249.04h1.5v1.5h-1.5zM325.15 249.13h1.5v1.5h-1.5zM326.15 249.25h1.5v1.5h-1.5zM327.14 249.16h1.5v1.5h-1.5zM328.64 248.93h1.5v1.5h-1.5zM332.13 248.96h1.5v1.5h-1.5zM335.13 248.93h1.5v1.5h-1.5zM338.12 249.25h1.5v1.5h-1.5zM342.61 249.06h1.5v1.5h-1.5zM348.6 249.08h1.5v1.5h-1.5zM350.1 249h1.5v1.5h-1.5zM350.6 249.2h1.5v1.5h-1.5zM352.59 249.19h1.5v1.5h-1.5zM354.59 249.07h1.5v1.5h-1.5zM365.07 249.21h1.5v1.5h-1.5zM368.06 249.15h1.5v1.5h-1.5zM415.97 249.1h1.5v1.5h-1.5zM416.47 249.19h1.5v1.5h-1.5zM429.44 249.23h1.5v1.5h-1.5zM435.93 249.24h1.5v1.5h-1.5zM509.28 249.15h1.5v1.5h-1.5zM512.27 248.99h1.5v1.5h-1.5zM84.63 250.63h1.5v1.5h-1.5zM97.11 250.71h1.5v1.5h-1.5zM97.11 250.65h1.5v1.5h-1.5zM143.01 250.67h1.5v1.5h-1.5zM231.34 250.61h1.5v1.5h-1.5zM276.25 250.66h1.5v1.5h-1.5zM280.74 250.67h1.5v1.5h-1.5zM292.21 250.75h1.5v1.5h-1.5zM302.19 250.67h1.5v1.5h-1.5zM311.68 250.67h1.5v1.5h-1.5zM313.17 250.74h1.5v1.5h-1.5zM337.12 250.74h1.5v1.5h-1.5zM338.62 250.62h1.5v1.5h-1.5zM351.6 250.7h1.5v1.5h-1.5zM358.08 250.67h1.5v1.5h-1.5zM358.58 250.65h1.5v1.5h-1.5zM428.44 250.66h1.5v1.5h-1.5zM443.41 250.65h1.5v1.5h-1.5zM445.41 250.71h1.5v1.5h-1.5zM522.25 250.7h1.5v1.5h-1.5zM126.55 250.88h1.5v1.5h-1.5zM175.95 250.81h1.5v1.5h-1.5zM197.4 250.92h1.5v1.5h-1.5zM231.84 250.81h1.5v1.5h-1.5zM236.33 250.85h1.5v1.5h-1.5zM245.31 250.9h1.5v1.5h-1.5zM267.76 250.76h1.5v1.5h-1.5zM267.76 250.76h1.5v1.5h-1.5zM292.71 250.8h1.5v1.5h-1.5zM300.2 250.86h1.5v1.5h-1.5zM307.68 250.8h1.5v1.5h-1.5zM319.16 250.91h1.5v1.5h-1.5zM321.16 250.91h1.5v1.5h-1.5zM322.65 250.84h1.5v1.5h-1.5zM326.65 250.9h1.5v1.5h-1.5zM330.64 250.79h1.5v1.5h-1.5zM338.12 250.75h1.5v1.5h-1.5zM340.12 250.82h1.5v1.5h-1.5zM340.62 250.82h1.5v1.5h-1.5zM342.11 250.88h1.5v1.5h-1.5zM342.61 250.83h1.5v1.5h-1.5zM352.59 250.79h1.5v1.5h-1.5zM363.07 250.87h1.5v1.5h-1.5zM366.07 250.83h1.5v1.5h-1.5zM383.53 250.83h1.5v1.5h-1.5zM390.52 250.8h1.5v1.5h-1.5zM390.52 250.9h1.5v1.5h-1.5zM394.51 250.94h1.5v1.5h-1.5zM408.98 250.82h1.5v1.5h-1.5zM420.46 250.91h1.5v1.5h-1.5zM456.88 250.78h1.5v1.5h-1.5zM461.88 250.88h1.5v1.5h-1.5zM486.82 250.8h1.5v1.5h-1.5zM490.82 250.76h1.5v1.5h-1.5zM554.19 250.87h1.5v1.5h-1.5zM80.14 252.3h1.5v1.5h-1.5zM86.13 252.34h1.5v1.5h-1.5zM103.09 252.33h1.5v1.5h-1.5zM119.56 252.38h1.5v1.5h-1.5zM136.03 252.56h1.5v1.5h-1.5zM159.48 252.35h1.5v1.5h-1.5zM160.48 252.5h1.5v1.5h-1.5zM185.93 252.42h1.5v1.5h-1.5zM232.33 252.48h1.5v1.5h-1.5zM233.33 252.44h1.5v1.5h-1.5zM235.83 252.54h1.5v1.5h-1.5zM250.3 252.59h1.5v1.5h-1.5zM267.76 252.58h1.5v1.5h-1.5zM273.75 252.6h1.5v1.5h-1.5zM280.74 252.36h1.5v1.5h-1.5zM288.72 252.54h1.5v1.5h-1.5zM305.69 252.39h1.5v1.5h-1.5zM314.17 252.31h1.5v1.5h-1.5zM320.16 252.31h1.5v1.5h-1.5zM320.16 252.39h1.5v1.5h-1.5zM321.66 252.45h1.5v1.5h-1.5zM322.65 252.52h1.5v1.5h-1.5zM322.65 252.56h1.5v1.5h-1.5zM323.65 252.32h1.5v1.5h-1.5zM325.65 252.34h1.5v1.5h-1.5zM326.15 252.59h1.5v1.5h-1.5zM328.64 252.41h1.5v1.5h-1.5zM337.12 252.39h1.5v1.5h-1.5zM337.62 252.35h1.5v1.5h-1.5zM339.12 252.55h1.5v1.5h-1.5zM341.12 252.33h1.5v1.5h-1.5zM341.12 252.6h1.5v1.5h-1.5zM343.61 252.34h1.5v1.5h-1.5zM343.61 252.44h1.5v1.5h-1.5zM344.61 252.43h1.5v1.5h-1.5zM346.11 252.55h1.5v1.5h-1.5zM348.6 252.38h1.5v1.5h-1.5zM351.6 252.46h1.5v1.5h-1.5zM354.59 252.5h1.5v1.5h-1.5zM356.59 252.37h1.5v1.5h-1.5zM365.07 252.44h1.5v1.5h-1.5zM367.56 252.5h1.5v1.5h-1.5zM367.56 252.32h1.5v1.5h-1.5zM384.53 252.39h1.5v1.5h-1.5zM390.02 252.49h1.5v1.5h-1.5zM396.51 252.53h1.5v1.5h-1.5zM399.5 252.48h1.5v1.5h-1.5zM405.99 252.41h1.5v1.5h-1.5zM423.45 252.47h1.5v1.5h-1.5zM425.95 252.36h1.5v1.5h-1.5zM434.43 252.57h1.5v1.5h-1.5zM445.91 252.39h1.5v1.5h-1.5zM476.35 252.34h1.5v1.5h-1.5zM486.82 252.36h1.5v1.5h-1.5zM494.81 252.33h1.5v1.5h-1.5zM495.81 252.47h1.5v1.5h-1.5zM506.29 252.33h1.5v1.5h-1.5zM523.75 252.51h1.5v1.5h-1.5zM525.25 252.52h1.5v1.5h-1.5zM547.7 252.6h1.5v1.5h-1.5zM560.18 252.34h1.5v1.5h-1.5zM567.66 252.49h1.5v1.5h-1.5zM570.16 252.53h1.5v1.5h-1.5zM92.61 254.12h1.5v1.5h-1.5zM108.08 254h1.5v1.5h-1.5zM112.08 254.16h1.5v1.5h-1.5zM129.54 254.26h1.5v1.5h-1.5zM142.51 254.21h1.5v1.5h-1.5zM145.51 254.04h1.5v1.5h-1.5zM156.49 254.05h1.5v1.5h-1.5zM156.99 254.04h1.5v1.5h-1.5zM175.95 254.12h1.5v1.5h-1.5zM183.93 254.17h1.5v1.5h-1.5zM219.36 254.12h1.5v1.5h-1.5zM237.32 254.26h1.5v1.5h-1.5zM238.32 254.3h1.5v1.5h-1.5zM252.79 254.19h1.5v1.5h-1.5zM256.29 254.3h1.5v1.5h-1.5zM279.24 254.11h1.5v1.5h-1.5zM280.74 254.11h1.5v1.5h-1.5zM283.23 254.29h1.5v1.5h-1.5zM288.22 254.22h1.5v1.5h-1.5zM296.71 254.08h1.5v1.5h-1.5zM301.2 254.27h1.5v1.5h-1.5zM306.69 254.2h1.5v1.5h-1.5zM307.68 254.26h1.5v1.5h-1.5zM309.18 254.13h1.5v1.5h-1.5zM310.68 254.16h1.5v1.5h-1.5zM314.67 253.98h1.5v1.5h-1.5zM315.17 254.25h1.5v1.5h-1.5zM319.16 254.03h1.5v1.5h-1.5zM320.16 254.28h1.5v1.5h-1.5zM326.15 254.1h1.5v1.5h-1.5zM328.14 254.15h1.5v1.5h-1.5zM328.64 254h1.5v1.5h-1.5zM338.62 254h1.5v1.5h-1.5zM345.61 254.08h1.5v1.5h-1.5zM346.11 254.17h1.5v1.5h-1.5zM352.59 253.99h1.5v1.5h-1.5zM357.08 254.13h1.5v1.5h-1.5zM358.58 254.12h1.5v1.5h-1.5zM360.08 254.2h1.5v1.5h-1.5zM360.58 254.26h1.5v1.5h-1.5zM383.03 254.19h1.5v1.5h-1.5zM384.53 254.13h1.5v1.5h-1.5zM399 254.07h1.5v1.5h-1.5zM447.4 254.13h1.5v1.5h-1.5zM450.9 254.04h1.5v1.5h-1.5zM484.83 254.29h1.5v1.5h-1.5zM513.77 254.01h1.5v1.5h-1.5zM525.25 254.22h1.5v1.5h-1.5zM531.24 254.1h1.5v1.5h-1.5zM552.19 254.2h1.5v1.5h-1.5zM563.17 254.23h1.5v1.5h-1.5zM168.46 255.74h1.5v1.5h-1.5zM179.94 255.67h1.5v1.5h-1.5zM200.4 255.75h1.5v1.5h-1.5zM270.76 255.72h1.5v1.5h-1.5zM272.25 255.72h1.5v1.5h-1.5zM333.13 255.7h1.5v1.5h-1.5zM333.63 255.69h1.5v1.5h-1.5zM339.62 255.7h1.5v1.5h-1.5zM354.09 255.72h1.5v1.5h-1.5zM378.54 255.73h1.5v1.5h-1.5zM449.4 255.69h1.5v1.5h-1.5zM527.74 255.71h1.5v1.5h-1.5zM527.74 255.74h1.5v1.5h-1.5zM142.51 255.92h1.5v1.5h-1.5zM163.47 255.84h1.5v1.5h-1.5zM183.43 255.85h1.5v1.5h-1.5zM237.82 255.89h1.5v1.5h-1.5zM242.81 255.8h1.5v1.5h-1.5zM267.76 255.96h1.5v1.5h-1.5zM271.76 255.89h1.5v1.5h-1.5zM295.21 255.88h1.5v1.5h-1.5zM301.2 255.99h1.5v1.5h-1.5zM304.69 255.99h1.5v1.5h-1.5zM306.69 255.75h1.5v1.5h-1.5zM307.19 255.95h1.5v1.5h-1.5zM313.17 256h1.5v1.5h-1.5zM314.17 255.86h1.5v1.5h-1.5zM314.67 255.78h1.5v1.5h-1.5zM314.67 255.78h1.5v1.5h-1.5zM315.17 255.98h1.5v1.5h-1.5zM316.17 255.82h1.5v1.5h-1.5zM321.66 255.81h1.5v1.5h-1.5zM324.15 255.83h1.5v1.5h-1.5zM325.65 255.9h1.5v1.5h-1.5zM331.64 255.87h1.5v1.5h-1.5zM332.13 255.76h1.5v1.5h-1.5zM336.13 255.97h1.5v1.5h-1.5zM341.62 255.79h1.5v1.5h-1.5zM348.6 255.96h1.5v1.5h-1.5zM349.1 255.78h1.5v1.5h-1.5zM349.1 255.97h1.5v1.5h-1.5zM354.09 255.97h1.5v1.5h-1.5zM355.59 255.86h1.5v1.5h-1.5zM356.09 255.76h1.5v1.5h-1.5zM375.55 255.89h1.5v1.5h-1.5zM384.03 255.95h1.5v1.5h-1.5zM415.47 255.81h1.5v1.5h-1.5zM447.9 255.92h1.5v1.5h-1.5zM448.4 255.76h1.5v1.5h-1.5zM457.88 255.91h1.5v1.5h-1.5zM480.34 255.75h1.5v1.5h-1.5zM490.82 255.87h1.5v1.5h-1.5zM495.31 255.77h1.5v1.5h-1.5zM79.14 257.51h1.5v1.5h-1.5zM108.58 257.67h1.5v1.5h-1.5zM116.57 257.65h1.5v1.5h-1.5zM126.55 257.42h1.5v1.5h-1.5zM173.95 257.51h1.5v1.5h-1.5zM182.43 257.43h1.5v1.5h-1.5zM200.4 257.39h1.5v1.5h-1.5zM202.39 257.57h1.5v1.5h-1.5zM226.35 257.69h1.5v1.5h-1.5zM229.34 257.53h1.5v1.5h-1.5zM235.33 257.63h1.5v1.5h-1.5zM240.32 257.45h1.5v1.5h-1.5zM266.77 257.46h1.5v1.5h-1.5zM267.76 257.46h1.5v1.5h-1.5zM268.26 257.51h1.5v1.5h-1.5zM270.26 257.53h1.5v1.5h-1.5zM278.24 257.58h1.5v1.5h-1.5zM291.22 257.57h1.5v1.5h-1.5zM292.21 257.39h1.5v1.5h-1.5zM293.71 257.46h1.5v1.5h-1.5zM297.7 257.48h1.5v1.5h-1.5zM299.7 257.59h1.5v1.5h-1.5zM300.2 257.63h1.5v1.5h-1.5zM302.69 257.5h1.5v1.5h-1.5zM313.17 257.5h1.5v1.5h-1.5zM314.17 257.54h1.5v1.5h-1.5zM314.67 257.67h1.5v1.5h-1.5zM320.16 257.53h1.5v1.5h-1.5zM325.15 257.36h1.5v1.5h-1.5zM326.15 257.4h1.5v1.5h-1.5zM327.14 257.44h1.5v1.5h-1.5zM327.64 257.66h1.5v1.5h-1.5zM334.13 257.47h1.5v1.5h-1.5zM334.13 257.65h1.5v1.5h-1.5zM334.13 257.64h1.5v1.5h-1.5zM334.63 257.38h1.5v1.5h-1.5zM336.13 257.39h1.5v1.5h-1.5zM336.63 257.39h1.5v1.5h-1.5zM337.12 257.37h1.5v1.5h-1.5zM338.62 257.42h1.5v1.5h-1.5zM340.62 257.61h1.5v1.5h-1.5zM344.11 257.59h1.5v1.5h-1.5zM346.61 257.39h1.5v1.5h-1.5zM350.1 257.7h1.5v1.5h-1.5zM350.1 257.62h1.5v1.5h-1.5zM356.09 257.68h1.5v1.5h-1.5zM366.57 257.68h1.5v1.5h-1.5zM392.01 257.48h1.5v1.5h-1.5zM419.46 257.55h1.5v1.5h-1.5zM437.92 257.45h1.5v1.5h-1.5zM444.41 257.45h1.5v1.5h-1.5zM448.9 257.47h1.5v1.5h-1.5zM460.88 257.57h1.5v1.5h-1.5zM472.35 257.54h1.5v1.5h-1.5zM489.32 257.65h1.5v1.5h-1.5zM489.82 257.66h1.5v1.5h-1.5zM510.28 257.44h1.5v1.5h-1.5zM511.77 257.52h1.5v1.5h-1.5zM519.76 257.62h1.5v1.5h-1.5zM528.74 257.68h1.5v1.5h-1.5zM540.22 257.42h1.5v1.5h-1.5zM560.68 257.6h1.5v1.5h-1.5zM80.14 259.16h1.5v1.5h-1.5zM116.07 259.16h1.5v1.5h-1.5zM130.04 259.15h1.5v1.5h-1.5zM136.03 259.31h1.5v1.5h-1.5zM141.02 259.32h1.5v1.5h-1.5zM147.01 259.3h1.5v1.5h-1.5zM176.45 259.17h1.5v1.5h-1.5zM242.31 259.31h1.5v1.5h-1.5zM250.3 259.05h1.5v1.5h-1.5zM267.76 259.11h1.5v1.5h-1.5zM272.75 259.17h1.5v1.5h-1.5zM287.72 259.16h1.5v1.5h-1.5zM296.71 259.08h1.5v1.5h-1.5zM303.69 259.35h1.5v1.5h-1.5zM303.69 259.2h1.5v1.5h-1.5zM304.69 259.38h1.5v1.5h-1.5zM304.69 259.31h1.5v1.5h-1.5zM309.68 259.12h1.5v1.5h-1.5zM312.17 259.05h1.5v1.5h-1.5zM315.67 259.05h1.5v1.5h-1.5zM316.17 259.27h1.5v1.5h-1.5zM316.17 259.18h1.5v1.5h-1.5zM323.65 259.15h1.5v1.5h-1.5zM326.65 259.27h1.5v1.5h-1.5zM327.14 259.15h1.5v1.5h-1.5zM328.14 259.32h1.5v1.5h-1.5zM333.63 259.25h1.5v1.5h-1.5zM338.12 259.27h1.5v1.5h-1.5zM339.12 259.23h1.5v1.5h-1.5zM350.1 259.27h1.5v1.5h-1.5zM377.54 259.27h1.5v1.5h-1.5zM402.99 259.16h1.5v1.5h-1.5zM403.49 259.34h1.5v1.5h-1.5zM406.98 259.16h1.5v1.5h-1.5zM434.43 259.3h1.5v1.5h-1.5zM461.88 259.2h1.5v1.5h-1.5zM490.32 259.35h1.5v1.5h-1.5zM553.69 259.15h1.5v1.5h-1.5zM565.67 259.16h1.5v1.5h-1.5zM152 261h1.5v1.5h-1.5zM157.48 260.96h1.5v1.5h-1.5zM183.43 260.94h1.5v1.5h-1.5zM231.84 260.97h1.5v1.5h-1.5zM238.32 261.07h1.5v1.5h-1.5zM240.32 260.94h1.5v1.5h-1.5zM242.81 261.01h1.5v1.5h-1.5zM250.8 260.86h1.5v1.5h-1.5zM268.26 260.89h1.5v1.5h-1.5zM281.24 261.03h1.5v1.5h-1.5zM302.19 260.86h1.5v1.5h-1.5zM302.19 261.06h1.5v1.5h-1.5zM304.19 260.75h1.5v1.5h-1.5zM306.19 260.84h1.5v1.5h-1.5zM306.69 260.95h1.5v1.5h-1.5zM314.67 260.92h1.5v1.5h-1.5zM314.67 260.87h1.5v1.5h-1.5zM320.16 260.95h1.5v1.5h-1.5zM324.65 260.97h1.5v1.5h-1.5zM326.65 260.98h1.5v1.5h-1.5zM329.64 260.81h1.5v1.5h-1.5zM330.64 260.94h1.5v1.5h-1.5zM331.14 260.77h1.5v1.5h-1.5zM331.64 260.84h1.5v1.5h-1.5zM332.63 260.92h1.5v1.5h-1.5zM337.62 260.76h1.5v1.5h-1.5zM343.11 260.8h1.5v1.5h-1.5zM344.11 260.98h1.5v1.5h-1.5zM345.61 261h1.5v1.5h-1.5zM346.11 261.03h1.5v1.5h-1.5zM349.1 260.93h1.5v1.5h-1.5zM356.59 260.82h1.5v1.5h-1.5zM357.58 260.79h1.5v1.5h-1.5zM360.08 261.01h1.5v1.5h-1.5zM366.07 260.91h1.5v1.5h-1.5zM405.99 260.85h1.5v1.5h-1.5zM424.45 260.94h1.5v1.5h-1.5zM424.95 260.85h1.5v1.5h-1.5zM438.42 260.86h1.5v1.5h-1.5zM442.91 260.75h1.5v1.5h-1.5zM468.86 261.07h1.5v1.5h-1.5zM487.32 260.9h1.5v1.5h-1.5zM489.32 260.8h1.5v1.5h-1.5zM507.28 261h1.5v1.5h-1.5zM528.24 260.89h1.5v1.5h-1.5zM536.23 260.79h1.5v1.5h-1.5zM561.67 261.02h1.5v1.5h-1.5zM90.62 262.59h1.5v1.5h-1.5zM99.6 262.55h1.5v1.5h-1.5zM121.56 262.46h1.5v1.5h-1.5zM131.54 262.73h1.5v1.5h-1.5zM150 262.57h1.5v1.5h-1.5zM182.93 262.68h1.5v1.5h-1.5zM203.89 262.68h1.5v1.5h-1.5zM218.86 262.53h1.5v1.5h-1.5zM219.86 262.72h1.5v1.5h-1.5zM223.85 262.48h1.5v1.5h-1.5zM238.82 262.67h1.5v1.5h-1.5zM242.31 262.58h1.5v1.5h-1.5zM248.8 262.68h1.5v1.5h-1.5zM249.8 262.43h1.5v1.5h-1.5zM252.79 262.56h1.5v1.5h-1.5zM273.75 262.54h1.5v1.5h-1.5zM294.21 262.62h1.5v1.5h-1.5zM297.7 262.46h1.5v1.5h-1.5zM311.68 262.5h1.5v1.5h-1.5zM312.67 262.56h1.5v1.5h-1.5zM313.67 262.67h1.5v1.5h-1.5zM315.17 262.46h1.5v1.5h-1.5zM316.67 262.69h1.5v1.5h-1.5zM319.16 262.66h1.5v1.5h-1.5zM320.66 262.67h1.5v1.5h-1.5zM320.66 262.59h1.5v1.5h-1.5zM322.65 262.68h1.5v1.5h-1.5zM323.15 262.73h1.5v1.5h-1.5zM328.14 262.5h1.5v1.5h-1.5zM331.64 262.74h1.5v1.5h-1.5zM331.64 262.68h1.5v1.5h-1.5zM332.63 262.49h1.5v1.5h-1.5zM334.13 262.68h1.5v1.5h-1.5zM336.63 262.53h1.5v1.5h-1.5zM336.63 262.67h1.5v1.5h-1.5zM339.62 262.65h1.5v1.5h-1.5zM340.62 262.69h1.5v1.5h-1.5zM341.62 262.66h1.5v1.5h-1.5zM342.11 262.5h1.5v1.5h-1.5zM358.58 262.58h1.5v1.5h-1.5zM359.58 262.74h1.5v1.5h-1.5zM360.08 262.56h1.5v1.5h-1.5zM360.58 262.65h1.5v1.5h-1.5zM369.56 262.58h1.5v1.5h-1.5zM410.48 262.59h1.5v1.5h-1.5zM428.94 262.5h1.5v1.5h-1.5zM432.43 262.5h1.5v1.5h-1.5zM449.9 262.6h1.5v1.5h-1.5zM466.37 262.64h1.5v1.5h-1.5zM470.36 262.6h1.5v1.5h-1.5zM474.85 262.75h1.5v1.5h-1.5zM487.82 262.55h1.5v1.5h-1.5zM514.27 262.62h1.5v1.5h-1.5zM543.21 262.44h1.5v1.5h-1.5zM80.14 264.13h1.5v1.5h-1.5zM81.64 264.18h1.5v1.5h-1.5zM108.58 264.3h1.5v1.5h-1.5zM117.07 264.12h1.5v1.5h-1.5zM130.04 264.23h1.5v1.5h-1.5zM155.99 264.16h1.5v1.5h-1.5zM159.48 264.29h1.5v1.5h-1.5zM163.97 264.18h1.5v1.5h-1.5zM185.43 264.26h1.5v1.5h-1.5zM194.41 264.16h1.5v1.5h-1.5zM195.91 264.14h1.5v1.5h-1.5zM198.4 264.37h1.5v1.5h-1.5zM249.3 264.38h1.5v1.5h-1.5zM251.8 264.41h1.5v1.5h-1.5zM252.29 264.14h1.5v1.5h-1.5zM262.77 264.38h1.5v1.5h-1.5zM265.27 264.41h1.5v1.5h-1.5zM273.75 264.41h1.5v1.5h-1.5zM286.23 264.44h1.5v1.5h-1.5zM295.71 264.12h1.5v1.5h-1.5zM299.2 264.37h1.5v1.5h-1.5zM303.19 264.43h1.5v1.5h-1.5zM310.68 264.26h1.5v1.5h-1.5zM311.18 264.3h1.5v1.5h-1.5zM313.17 264.21h1.5v1.5h-1.5zM314.67 264.43h1.5v1.5h-1.5zM316.17 264.25h1.5v1.5h-1.5zM316.67 264.37h1.5v1.5h-1.5zM322.65 264.3h1.5v1.5h-1.5zM326.15 264.42h1.5v1.5h-1.5zM332.63 264.37h1.5v1.5h-1.5zM341.62 264.23h1.5v1.5h-1.5zM342.11 264.39h1.5v1.5h-1.5zM344.61 264.39h1.5v1.5h-1.5zM351.6 264.36h1.5v1.5h-1.5zM353.09 264.23h1.5v1.5h-1.5zM365.57 264.16h1.5v1.5h-1.5zM389.02 264.26h1.5v1.5h-1.5zM417.96 264.33h1.5v1.5h-1.5zM428.94 264.34h1.5v1.5h-1.5zM451.89 264.11h1.5v1.5h-1.5zM456.39 264.44h1.5v1.5h-1.5zM464.37 264.34h1.5v1.5h-1.5zM470.36 264.24h1.5v1.5h-1.5zM507.78 264.38h1.5v1.5h-1.5zM511.77 264.29h1.5v1.5h-1.5zM516.76 264.13h1.5v1.5h-1.5zM142.02 265.88h1.5v1.5h-1.5zM155.49 265.82h1.5v1.5h-1.5zM189.42 265.81h1.5v1.5h-1.5zM195.91 266.1h1.5v1.5h-1.5zM198.4 266.02h1.5v1.5h-1.5zM212.87 265.86h1.5v1.5h-1.5zM222.35 266.01h1.5v1.5h-1.5zM224.35 266.07h1.5v1.5h-1.5zM232.33 265.91h1.5v1.5h-1.5zM242.81 266.07h1.5v1.5h-1.5zM253.79 265.85h1.5v1.5h-1.5zM264.77 265.83h1.5v1.5h-1.5zM267.76 265.83h1.5v1.5h-1.5zM281.24 265.88h1.5v1.5h-1.5zM291.22 266.01h1.5v1.5h-1.5zM293.21 266.02h1.5v1.5h-1.5zM296.71 266.06h1.5v1.5h-1.5zM311.18 266.07h1.5v1.5h-1.5zM312.17 266.09h1.5v1.5h-1.5zM323.15 265.81h1.5v1.5h-1.5zM323.15 265.91h1.5v1.5h-1.5zM329.14 265.85h1.5v1.5h-1.5zM335.63 266.1h1.5v1.5h-1.5zM336.13 266.09h1.5v1.5h-1.5zM336.63 266.04h1.5v1.5h-1.5zM338.62 265.94h1.5v1.5h-1.5zM340.62 265.83h1.5v1.5h-1.5zM343.61 265.84h1.5v1.5h-1.5zM353.59 265.96h1.5v1.5h-1.5zM358.58 265.97h1.5v1.5h-1.5zM358.58 266.05h1.5v1.5h-1.5zM359.08 265.94h1.5v1.5h-1.5zM361.58 266.1h1.5v1.5h-1.5zM364.07 265.9h1.5v1.5h-1.5zM368.06 266.06h1.5v1.5h-1.5zM401.5 266.06h1.5v1.5h-1.5zM412.97 266.02h1.5v1.5h-1.5zM413.97 265.93h1.5v1.5h-1.5zM432.43 266.08h1.5v1.5h-1.5zM460.88 265.83h1.5v1.5h-1.5zM475.85 266.05h1.5v1.5h-1.5zM489.32 266.05h1.5v1.5h-1.5zM500.3 266.08h1.5v1.5h-1.5zM535.73 265.86h1.5v1.5h-1.5zM542.21 265.84h1.5v1.5h-1.5zM546.21 266.12h1.5v1.5h-1.5zM547.7 266.01h1.5v1.5h-1.5zM92.61 267.6h1.5v1.5h-1.5zM112.08 267.62h1.5v1.5h-1.5zM114.57 267.6h1.5v1.5h-1.5zM118.06 267.64h1.5v1.5h-1.5zM119.06 267.49h1.5v1.5h-1.5zM152 267.51h1.5v1.5h-1.5zM163.97 267.51h1.5v1.5h-1.5zM191.92 267.65h1.5v1.5h-1.5zM200.9 267.64h1.5v1.5h-1.5zM209.38 267.57h1.5v1.5h-1.5zM261.28 267.59h1.5v1.5h-1.5zM268.76 267.49h1.5v1.5h-1.5zM295.71 267.53h1.5v1.5h-1.5zM301.2 267.58h1.5v1.5h-1.5zM309.18 267.58h1.5v1.5h-1.5zM312.67 267.52h1.5v1.5h-1.5zM313.17 267.51h1.5v1.5h-1.5zM319.66 267.54h1.5v1.5h-1.5zM321.66 267.66h1.5v1.5h-1.5zM323.15 267.73h1.5v1.5h-1.5zM323.15 267.57h1.5v1.5h-1.5zM327.14 267.52h1.5v1.5h-1.5zM330.64 267.63h1.5v1.5h-1.5zM332.13 267.62h1.5v1.5h-1.5zM334.13 267.55h1.5v1.5h-1.5zM334.13 267.66h1.5v1.5h-1.5zM340.12 267.64h1.5v1.5h-1.5zM343.61 267.6h1.5v1.5h-1.5zM365.07 267.72h1.5v1.5h-1.5zM380.54 267.54h1.5v1.5h-1.5zM387.02 267.73h1.5v1.5h-1.5zM390.02 267.59h1.5v1.5h-1.5zM411.48 267.72h1.5v1.5h-1.5zM447.4 267.5h1.5v1.5h-1.5zM454.89 267.66h1.5v1.5h-1.5zM458.88 267.57h1.5v1.5h-1.5zM464.87 267.75h1.5v1.5h-1.5zM502.29 267.72h1.5v1.5h-1.5zM507.78 267.51h1.5v1.5h-1.5zM532.73 267.52h1.5v1.5h-1.5zM535.23 267.72h1.5v1.5h-1.5zM546.21 267.58h1.5v1.5h-1.5zM565.17 267.7h1.5v1.5h-1.5zM87.13 267.77h1.5v1.5h-1.5zM260.78 267.75h1.5v1.5h-1.5zM307.19 267.77h1.5v1.5h-1.5zM318.16 267.82h1.5v1.5h-1.5zM334.13 267.81h1.5v1.5h-1.5zM343.11 267.82h1.5v1.5h-1.5zM350.1 267.8h1.5v1.5h-1.5zM355.59 267.8h1.5v1.5h-1.5zM382.03 267.76h1.5v1.5h-1.5zM447.9 267.82h1.5v1.5h-1.5zM502.29 267.79h1.5v1.5h-1.5zM85.63 269.3h1.5v1.5h-1.5zM87.13 269.31h1.5v1.5h-1.5zM120.56 269.39h1.5v1.5h-1.5zM131.54 269.3h1.5v1.5h-1.5zM176.45 269.49h1.5v1.5h-1.5zM206.39 269.48h1.5v1.5h-1.5zM247.3 269.34h1.5v1.5h-1.5zM250.3 269.29h1.5v1.5h-1.5zM264.27 269.21h1.5v1.5h-1.5zM268.26 269.41h1.5v1.5h-1.5zM284.73 269.19h1.5v1.5h-1.5zM292.71 269.47h1.5v1.5h-1.5zM296.71 269.23h1.5v1.5h-1.5zM299.2 269.3h1.5v1.5h-1.5zM301.2 269.23h1.5v1.5h-1.5zM303.19 269.23h1.5v1.5h-1.5zM303.69 269.28h1.5v1.5h-1.5zM306.19 269.33h1.5v1.5h-1.5zM307.68 269.2h1.5v1.5h-1.5zM314.67 269.38h1.5v1.5h-1.5zM326.65 269.43h1.5v1.5h-1.5zM335.13 269.18h1.5v1.5h-1.5zM336.63 269.36h1.5v1.5h-1.5zM337.12 269.19h1.5v1.5h-1.5zM341.12 269.31h1.5v1.5h-1.5zM344.61 269.43h1.5v1.5h-1.5zM348.6 269.38h1.5v1.5h-1.5zM351.1 269.35h1.5v1.5h-1.5zM352.09 269.23h1.5v1.5h-1.5zM354.09 269.47h1.5v1.5h-1.5zM354.59 269.41h1.5v1.5h-1.5zM356.59 269.46h1.5v1.5h-1.5zM358.58 269.22h1.5v1.5h-1.5zM366.57 269.25h1.5v1.5h-1.5zM400.5 269.42h1.5v1.5h-1.5zM409.48 269.48h1.5v1.5h-1.5zM421.95 269.22h1.5v1.5h-1.5zM494.31 269.51h1.5v1.5h-1.5zM541.71 269.21h1.5v1.5h-1.5zM549.7 269.41h1.5v1.5h-1.5zM556.68 269.51h1.5v1.5h-1.5zM99.6 270.9h1.5v1.5h-1.5zM103.09 270.95h1.5v1.5h-1.5zM103.09 271.03h1.5v1.5h-1.5zM107.58 271.06h1.5v1.5h-1.5zM125.05 271h1.5v1.5h-1.5zM129.04 271.18h1.5v1.5h-1.5zM130.04 271.05h1.5v1.5h-1.5zM132.04 271.14h1.5v1.5h-1.5zM200.4 270.9h1.5v1.5h-1.5zM201.9 271.04h1.5v1.5h-1.5zM227.34 271.02h1.5v1.5h-1.5zM227.84 270.9h1.5v1.5h-1.5zM260.78 270.91h1.5v1.5h-1.5zM265.77 270.98h1.5v1.5h-1.5zM274.25 270.94h1.5v1.5h-1.5zM313.17 270.87h1.5v1.5h-1.5zM314.67 271.16h1.5v1.5h-1.5zM314.67 271.11h1.5v1.5h-1.5zM316.67 271.15h1.5v1.5h-1.5zM317.66 270.99h1.5v1.5h-1.5zM319.66 270.96h1.5v1.5h-1.5zM323.15 270.96h1.5v1.5h-1.5zM329.14 271.19h1.5v1.5h-1.5zM335.63 271.04h1.5v1.5h-1.5zM340.62 271.06h1.5v1.5h-1.5zM343.61 271.09h1.5v1.5h-1.5zM343.61 271.1h1.5v1.5h-1.5zM347.6 270.92h1.5v1.5h-1.5zM350.1 270.88h1.5v1.5h-1.5zM362.07 271.05h1.5v1.5h-1.5zM363.07 271.14h1.5v1.5h-1.5zM366.07 271.03h1.5v1.5h-1.5zM367.06 271.14h1.5v1.5h-1.5zM367.06 270.98h1.5v1.5h-1.5zM379.04 271.05h1.5v1.5h-1.5zM414.47 270.96h1.5v1.5h-1.5zM435.93 271.02h1.5v1.5h-1.5zM440.42 270.94h1.5v1.5h-1.5zM448.4 270.9h1.5v1.5h-1.5zM457.88 271.11h1.5v1.5h-1.5zM471.36 270.87h1.5v1.5h-1.5zM471.86 270.91h1.5v1.5h-1.5zM486.82 271.18h1.5v1.5h-1.5zM489.82 270.95h1.5v1.5h-1.5zM514.77 271.01h1.5v1.5h-1.5zM515.77 270.96h1.5v1.5h-1.5zM517.76 271.06h1.5v1.5h-1.5zM551.69 270.89h1.5v1.5h-1.5zM561.67 271.18h1.5v1.5h-1.5zM127.05 272.57h1.5v1.5h-1.5zM165.47 272.75h1.5v1.5h-1.5zM168.96 272.74h1.5v1.5h-1.5zM178.94 272.57h1.5v1.5h-1.5zM194.41 272.66h1.5v1.5h-1.5zM223.35 272.68h1.5v1.5h-1.5zM224.35 272.7h1.5v1.5h-1.5zM243.31 272.6h1.5v1.5h-1.5zM262.77 272.7h1.5v1.5h-1.5zM271.76 272.74h1.5v1.5h-1.5zM283.23 272.66h1.5v1.5h-1.5zM295.71 272.63h1.5v1.5h-1.5zM302.69 272.59h1.5v1.5h-1.5zM309.18 272.74h1.5v1.5h-1.5zM311.68 272.66h1.5v1.5h-1.5zM311.68 272.63h1.5v1.5h-1.5zM316.67 272.72h1.5v1.5h-1.5zM320.66 272.63h1.5v1.5h-1.5zM342.11 272.7h1.5v1.5h-1.5zM349.1 272.73h1.5v1.5h-1.5zM355.09 272.65h1.5v1.5h-1.5zM368.56 272.69h1.5v1.5h-1.5zM450.9 272.56h1.5v1.5h-1.5zM452.89 272.75h1.5v1.5h-1.5zM464.37 272.7h1.5v1.5h-1.5zM497.8 272.57h1.5v1.5h-1.5zM132.53 272.84h1.5v1.5h-1.5zM138.02 272.89h1.5v1.5h-1.5zM188.92 272.77h1.5v1.5h-1.5zM192.41 272.81h1.5v1.5h-1.5zM193.91 272.86h1.5v1.5h-1.5zM217.36 272.87h1.5v1.5h-1.5zM236.33 272.79h1.5v1.5h-1.5zM254.79 272.87h1.5v1.5h-1.5zM266.77 272.88h1.5v1.5h-1.5zM275.25 272.76h1.5v1.5h-1.5zM299.7 272.75h1.5v1.5h-1.5zM315.17 272.84h1.5v1.5h-1.5zM405.99 272.83h1.5v1.5h-1.5zM415.97 272.79h1.5v1.5h-1.5zM448.9 272.86h1.5v1.5h-1.5zM450.9 272.8h1.5v1.5h-1.5zM480.34 272.86h1.5v1.5h-1.5zM521.26 272.83h1.5v1.5h-1.5zM548.2 272.8h1.5v1.5h-1.5zM559.18 272.86h1.5v1.5h-1.5zM94.61 274.32h1.5v1.5h-1.5zM95.61 274.26h1.5v1.5h-1.5zM99.6 274.3h1.5v1.5h-1.5zM115.07 274.29h1.5v1.5h-1.5zM180.44 274.54h1.5v1.5h-1.5zM188.42 274.4h1.5v1.5h-1.5zM209.88 274.36h1.5v1.5h-1.5zM221.36 274.31h1.5v1.5h-1.5zM225.85 274.47h1.5v1.5h-1.5zM229.84 274.45h1.5v1.5h-1.5zM241.32 274.3h1.5v1.5h-1.5zM252.79 274.43h1.5v1.5h-1.5zM259.28 274.55h1.5v1.5h-1.5zM260.78 274.37h1.5v1.5h-1.5zM270.76 274.47h1.5v1.5h-1.5zM272.25 274.38h1.5v1.5h-1.5zM273.25 274.56h1.5v1.5h-1.5zM275.75 274.28h1.5v1.5h-1.5zM286.73 274.42h1.5v1.5h-1.5zM291.22 274.48h1.5v1.5h-1.5zM296.21 274.43h1.5v1.5h-1.5zM303.19 274.33h1.5v1.5h-1.5zM305.69 274.51h1.5v1.5h-1.5zM313.67 274.39h1.5v1.5h-1.5zM316.17 274.39h1.5v1.5h-1.5zM316.67 274.44h1.5v1.5h-1.5zM317.66 274.56h1.5v1.5h-1.5zM318.66 274.26h1.5v1.5h-1.5zM324.65 274.42h1.5v1.5h-1.5zM326.65 274.45h1.5v1.5h-1.5zM328.14 274.42h1.5v1.5h-1.5zM333.13 274.33h1.5v1.5h-1.5zM347.6 274.44h1.5v1.5h-1.5zM349.6 274.57h1.5v1.5h-1.5zM350.6 274.25h1.5v1.5h-1.5zM354.59 274.39h1.5v1.5h-1.5zM359.08 274.35h1.5v1.5h-1.5zM360.58 274.43h1.5v1.5h-1.5zM399.5 274.47h1.5v1.5h-1.5zM409.98 274.36h1.5v1.5h-1.5zM419.96 274.28h1.5v1.5h-1.5zM424.45 274.25h1.5v1.5h-1.5zM436.92 274.43h1.5v1.5h-1.5zM445.41 274.44h1.5v1.5h-1.5zM480.84 274.49h1.5v1.5h-1.5zM488.32 274.49h1.5v1.5h-1.5zM509.78 274.24h1.5v1.5h-1.5zM516.76 274.53h1.5v1.5h-1.5zM518.26 274.47h1.5v1.5h-1.5zM537.22 274.33h1.5v1.5h-1.5zM539.72 274.4h1.5v1.5h-1.5zM540.72 274.48h1.5v1.5h-1.5zM541.71 274.26h1.5v1.5h-1.5zM542.71 274.51h1.5v1.5h-1.5zM104.59 276.17h1.5v1.5h-1.5zM182.43 276.09h1.5v1.5h-1.5zM232.33 276.16h1.5v1.5h-1.5zM254.29 276.17h1.5v1.5h-1.5zM295.21 276.01h1.5v1.5h-1.5zM297.7 276.26h1.5v1.5h-1.5zM298.7 275.97h1.5v1.5h-1.5zM305.19 276.07h1.5v1.5h-1.5zM315.17 275.94h1.5v1.5h-1.5zM315.17 276.08h1.5v1.5h-1.5zM317.16 276h1.5v1.5h-1.5zM318.16 276.23h1.5v1.5h-1.5zM322.65 276.26h1.5v1.5h-1.5zM326.65 276.05h1.5v1.5h-1.5zM335.13 276.18h1.5v1.5h-1.5zM339.62 276.2h1.5v1.5h-1.5zM349.1 275.99h1.5v1.5h-1.5zM358.58 276.05h1.5v1.5h-1.5zM401 276.2h1.5v1.5h-1.5zM415.47 276.24h1.5v1.5h-1.5zM439.92 275.97h1.5v1.5h-1.5zM443.41 276.08h1.5v1.5h-1.5zM464.87 276.25h1.5v1.5h-1.5zM533.73 276.19h1.5v1.5h-1.5zM545.71 276.11h1.5v1.5h-1.5zM556.68 276.24h1.5v1.5h-1.5zM569.16 276.01h1.5v1.5h-1.5zM571.65 275.94h1.5v1.5h-1.5zM179.44 277.66h1.5v1.5h-1.5zM179.94 277.65h1.5v1.5h-1.5zM281.74 277.63h1.5v1.5h-1.5zM309.68 277.73h1.5v1.5h-1.5zM340.12 277.74h1.5v1.5h-1.5zM431.93 277.65h1.5v1.5h-1.5zM457.38 277.63h1.5v1.5h-1.5zM473.35 277.69h1.5v1.5h-1.5zM525.25 277.75h1.5v1.5h-1.5zM541.22 277.66h1.5v1.5h-1.5zM166.97 277.8h1.5v1.5h-1.5zM206.89 277.91h1.5v1.5h-1.5zM214.37 277.91h1.5v1.5h-1.5zM220.86 277.94h1.5v1.5h-1.5zM222.85 277.93h1.5v1.5h-1.5zM283.73 277.87h1.5v1.5h-1.5zM303.69 277.82h1.5v1.5h-1.5zM307.19 277.92h1.5v1.5h-1.5zM311.18 277.78h1.5v1.5h-1.5zM314.17 277.79h1.5v1.5h-1.5zM319.16 277.79h1.5v1.5h-1.5zM320.16 277.91h1.5v1.5h-1.5zM346.11 277.87h1.5v1.5h-1.5zM348.6 277.9h1.5v1.5h-1.5zM350.1 277.82h1.5v1.5h-1.5zM353.59 277.82h1.5v1.5h-1.5zM395.01 277.92h1.5v1.5h-1.5zM419.96 277.87h1.5v1.5h-1.5zM426.94 277.89h1.5v1.5h-1.5zM454.39 277.88h1.5v1.5h-1.5zM482.83 277.77h1.5v1.5h-1.5zM488.32 277.77h1.5v1.5h-1.5zM496.31 277.81h1.5v1.5h-1.5zM526.75 277.77h1.5v1.5h-1.5zM528.74 277.78h1.5v1.5h-1.5zM530.24 277.88h1.5v1.5h-1.5zM86.13 279.39h1.5v1.5h-1.5zM87.62 279.32h1.5v1.5h-1.5zM112.08 279.63h1.5v1.5h-1.5zM161.48 279.36h1.5v1.5h-1.5zM174.45 279.55h1.5v1.5h-1.5zM174.95 279.31h1.5v1.5h-1.5zM198.4 279.64h1.5v1.5h-1.5zM203.39 279.45h1.5v1.5h-1.5zM210.38 279.49h1.5v1.5h-1.5zM242.31 279.35h1.5v1.5h-1.5zM255.29 279.4h1.5v1.5h-1.5zM257.78 279.39h1.5v1.5h-1.5zM279.24 279.51h1.5v1.5h-1.5zM292.21 279.47h1.5v1.5h-1.5zM294.21 279.63h1.5v1.5h-1.5zM296.71 279.63h1.5v1.5h-1.5zM304.19 279.53h1.5v1.5h-1.5zM305.19 279.51h1.5v1.5h-1.5zM307.68 279.6h1.5v1.5h-1.5zM308.18 279.6h1.5v1.5h-1.5zM314.67 279.55h1.5v1.5h-1.5zM315.67 279.43h1.5v1.5h-1.5zM316.67 279.32h1.5v1.5h-1.5zM318.16 279.55h1.5v1.5h-1.5zM327.64 279.63h1.5v1.5h-1.5zM332.63 279.44h1.5v1.5h-1.5zM335.63 279.54h1.5v1.5h-1.5zM340.12 279.33h1.5v1.5h-1.5zM340.62 279.37h1.5v1.5h-1.5zM340.62 279.38h1.5v1.5h-1.5zM341.62 279.51h1.5v1.5h-1.5zM353.09 279.38h1.5v1.5h-1.5zM356.59 279.45h1.5v1.5h-1.5zM374.55 279.46h1.5v1.5h-1.5zM384.53 279.31h1.5v1.5h-1.5zM385.53 279.63h1.5v1.5h-1.5zM390.02 279.52h1.5v1.5h-1.5zM399.5 279.58h1.5v1.5h-1.5zM433.43 279.59h1.5v1.5h-1.5zM447.4 279.64h1.5v1.5h-1.5zM451.4 279.58h1.5v1.5h-1.5zM490.32 279.34h1.5v1.5h-1.5zM526.75 279.39h1.5v1.5h-1.5zM534.73 279.44h1.5v1.5h-1.5zM561.67 279.6h1.5v1.5h-1.5zM105.09 281.25h1.5v1.5h-1.5zM124.55 281.02h1.5v1.5h-1.5zM131.54 281.29h1.5v1.5h-1.5zM138.52 281.3h1.5v1.5h-1.5zM139.02 281.2h1.5v1.5h-1.5zM163.47 281.25h1.5v1.5h-1.5zM177.94 281.31h1.5v1.5h-1.5zM179.94 281.23h1.5v1.5h-1.5zM190.42 281.17h1.5v1.5h-1.5zM212.37 281.12h1.5v1.5h-1.5zM220.86 281.21h1.5v1.5h-1.5zM222.85 281.11h1.5v1.5h-1.5zM243.81 281.13h1.5v1.5h-1.5zM247.3 281.13h1.5v1.5h-1.5zM264.27 281.06h1.5v1.5h-1.5zM288.72 281.31h1.5v1.5h-1.5zM296.71 281.1h1.5v1.5h-1.5zM299.2 281.21h1.5v1.5h-1.5zM303.19 281.1h1.5v1.5h-1.5zM305.19 281.23h1.5v1.5h-1.5zM313.67 281.05h1.5v1.5h-1.5zM315.67 281.32h1.5v1.5h-1.5zM317.16 281.18h1.5v1.5h-1.5zM323.65 281.15h1.5v1.5h-1.5zM327.14 281.27h1.5v1.5h-1.5zM331.64 281.18h1.5v1.5h-1.5zM333.13 281.31h1.5v1.5h-1.5zM335.13 281.07h1.5v1.5h-1.5zM336.13 281.15h1.5v1.5h-1.5zM345.11 281.29h1.5v1.5h-1.5zM350.1 281.22h1.5v1.5h-1.5zM350.1 281.16h1.5v1.5h-1.5zM363.07 281.1h1.5v1.5h-1.5zM387.52 281.2h1.5v1.5h-1.5zM390.52 281.09h1.5v1.5h-1.5zM419.96 281.23h1.5v1.5h-1.5zM419.96 281.1h1.5v1.5h-1.5zM446.9 281.18h1.5v1.5h-1.5zM477.34 281.2h1.5v1.5h-1.5zM506.29 281.18h1.5v1.5h-1.5zM510.28 281.29h1.5v1.5h-1.5zM520.76 281.07h1.5v1.5h-1.5zM546.7 281.3h1.5v1.5h-1.5zM120.06 282.74h1.5v1.5h-1.5zM207.38 282.74h1.5v1.5h-1.5zM331.64 282.75h1.5v1.5h-1.5zM334.13 282.69h1.5v1.5h-1.5zM408.48 282.74h1.5v1.5h-1.5zM108.58 282.8h1.5v1.5h-1.5zM247.8 282.87h1.5v1.5h-1.5zM258.28 283.01h1.5v1.5h-1.5zM268.76 283.01h1.5v1.5h-1.5zM274.75 282.89h1.5v1.5h-1.5zM297.7 282.87h1.5v1.5h-1.5zM298.7 282.92h1.5v1.5h-1.5zM305.19 282.96h1.5v1.5h-1.5zM314.67 282.95h1.5v1.5h-1.5zM316.67 282.76h1.5v1.5h-1.5zM317.16 282.95h1.5v1.5h-1.5zM318.16 282.78h1.5v1.5h-1.5zM319.16 282.88h1.5v1.5h-1.5zM319.66 282.87h1.5v1.5h-1.5zM322.15 282.86h1.5v1.5h-1.5zM329.14 282.77h1.5v1.5h-1.5zM330.14 282.76h1.5v1.5h-1.5zM330.14 282.99h1.5v1.5h-1.5zM330.64 282.88h1.5v1.5h-1.5zM331.64 282.99h1.5v1.5h-1.5zM342.61 282.84h1.5v1.5h-1.5zM361.58 282.86h1.5v1.5h-1.5zM376.55 282.83h1.5v1.5h-1.5zM402.49 282.84h1.5v1.5h-1.5zM406.49 282.91h1.5v1.5h-1.5zM425.95 282.89h1.5v1.5h-1.5zM436.92 282.91h1.5v1.5h-1.5zM438.92 282.98h1.5v1.5h-1.5zM442.41 282.93h1.5v1.5h-1.5zM451.4 282.78h1.5v1.5h-1.5zM463.37 282.75h1.5v1.5h-1.5zM497.3 282.77h1.5v1.5h-1.5zM518.26 283h1.5v1.5h-1.5zM534.73 282.84h1.5v1.5h-1.5zM541.22 282.86h1.5v1.5h-1.5zM84.63 284.46h1.5v1.5h-1.5zM108.08 284.63h1.5v1.5h-1.5zM128.04 284.68h1.5v1.5h-1.5zM160.48 284.71h1.5v1.5h-1.5zM160.98 284.5h1.5v1.5h-1.5zM174.95 284.58h1.5v1.5h-1.5zM199.4 284.71h1.5v1.5h-1.5zM251.3 284.53h1.5v1.5h-1.5zM268.76 284.58h1.5v1.5h-1.5zM274.25 284.64h1.5v1.5h-1.5zM275.25 284.49h1.5v1.5h-1.5zM286.23 284.5h1.5v1.5h-1.5zM312.67 284.54h1.5v1.5h-1.5zM313.67 284.68h1.5v1.5h-1.5zM319.66 284.46h1.5v1.5h-1.5zM324.15 284.51h1.5v1.5h-1.5zM324.65 284.45h1.5v1.5h-1.5zM325.65 284.54h1.5v1.5h-1.5zM326.65 284.54h1.5v1.5h-1.5zM328.64 284.51h1.5v1.5h-1.5zM330.14 284.67h1.5v1.5h-1.5zM335.13 284.61h1.5v1.5h-1.5zM338.62 284.68h1.5v1.5h-1.5zM350.1 284.45h1.5v1.5h-1.5zM353.59 284.42h1.5v1.5h-1.5zM355.59 284.44h1.5v1.5h-1.5zM355.59 284.61h1.5v1.5h-1.5zM360.58 284.54h1.5v1.5h-1.5zM419.96 284.51h1.5v1.5h-1.5zM429.44 284.56h1.5v1.5h-1.5zM441.42 284.41h1.5v1.5h-1.5zM456.39 284.69h1.5v1.5h-1.5zM459.38 284.47h1.5v1.5h-1.5zM471.36 284.67h1.5v1.5h-1.5zM490.32 284.57h1.5v1.5h-1.5zM495.81 284.61h1.5v1.5h-1.5zM498.8 284.6h1.5v1.5h-1.5zM508.78 284.38h1.5v1.5h-1.5zM517.26 284.66h1.5v1.5h-1.5zM526.75 284.53h1.5v1.5h-1.5zM535.73 284.71h1.5v1.5h-1.5zM537.22 284.62h1.5v1.5h-1.5zM551.69 284.38h1.5v1.5h-1.5zM553.19 284.59h1.5v1.5h-1.5zM553.69 284.44h1.5v1.5h-1.5zM563.17 284.5h1.5v1.5h-1.5zM89.12 286.23h1.5v1.5h-1.5zM159.98 286.1h1.5v1.5h-1.5zM234.33 286.28h1.5v1.5h-1.5zM252.29 286.27h1.5v1.5h-1.5zM260.28 286.29h1.5v1.5h-1.5zM291.72 286.1h1.5v1.5h-1.5zM299.7 286.23h1.5v1.5h-1.5zM315.17 286.15h1.5v1.5h-1.5zM316.17 286.28h1.5v1.5h-1.5zM317.16 286.18h1.5v1.5h-1.5zM317.16 286.3h1.5v1.5h-1.5zM327.14 286.18h1.5v1.5h-1.5zM337.12 286.09h1.5v1.5h-1.5zM344.61 286.12h1.5v1.5h-1.5zM349.6 286.15h1.5v1.5h-1.5zM352.59 286.11h1.5v1.5h-1.5zM399.5 286.25h1.5v1.5h-1.5zM402 286.36h1.5v1.5h-1.5zM403.99 286.17h1.5v1.5h-1.5zM414.97 286.11h1.5v1.5h-1.5zM454.89 286.23h1.5v1.5h-1.5zM459.88 286.09h1.5v1.5h-1.5zM471.86 286.08h1.5v1.5h-1.5zM554.19 286.07h1.5v1.5h-1.5zM555.69 286.09h1.5v1.5h-1.5zM571.16 286.35h1.5v1.5h-1.5zM97.6 287.87h1.5v1.5h-1.5zM129.54 287.79h1.5v1.5h-1.5zM135.03 287.82h1.5v1.5h-1.5zM136.53 288.04h1.5v1.5h-1.5zM158.98 287.95h1.5v1.5h-1.5zM190.92 287.81h1.5v1.5h-1.5zM192.41 287.9h1.5v1.5h-1.5zM226.85 288.06h1.5v1.5h-1.5zM228.34 288.06h1.5v1.5h-1.5zM238.82 287.76h1.5v1.5h-1.5zM242.31 287.84h1.5v1.5h-1.5zM260.28 288.07h1.5v1.5h-1.5zM260.78 288.08h1.5v1.5h-1.5zM268.76 287.77h1.5v1.5h-1.5zM275.75 287.98h1.5v1.5h-1.5zM285.23 287.9h1.5v1.5h-1.5zM294.71 288.07h1.5v1.5h-1.5zM298.7 287.99h1.5v1.5h-1.5zM306.19 288h1.5v1.5h-1.5zM306.69 287.76h1.5v1.5h-1.5zM307.68 288.02h1.5v1.5h-1.5zM308.68 287.79h1.5v1.5h-1.5zM313.17 287.99h1.5v1.5h-1.5zM318.16 287.94h1.5v1.5h-1.5zM321.66 287.79h1.5v1.5h-1.5zM323.15 287.98h1.5v1.5h-1.5zM326.15 287.9h1.5v1.5h-1.5zM329.64 288.02h1.5v1.5h-1.5zM339.62 287.94h1.5v1.5h-1.5zM343.11 287.81h1.5v1.5h-1.5zM353.09 288.03h1.5v1.5h-1.5zM354.09 288.01h1.5v1.5h-1.5zM356.59 287.77h1.5v1.5h-1.5zM360.08 287.76h1.5v1.5h-1.5zM397 287.9h1.5v1.5h-1.5zM429.44 287.92h1.5v1.5h-1.5zM439.92 288.06h1.5v1.5h-1.5zM471.86 287.96h1.5v1.5h-1.5zM477.34 287.82h1.5v1.5h-1.5zM521.26 288.03h1.5v1.5h-1.5zM547.7 288.05h1.5v1.5h-1.5zM99.1 289.6h1.5v1.5h-1.5zM188.92 289.63h1.5v1.5h-1.5zM207.38 289.49h1.5v1.5h-1.5zM219.36 289.66h1.5v1.5h-1.5zM226.85 289.51h1.5v1.5h-1.5zM229.34 289.64h1.5v1.5h-1.5zM240.82 289.56h1.5v1.5h-1.5zM248.3 289.51h1.5v1.5h-1.5zM278.74 289.61h1.5v1.5h-1.5zM281.74 289.49h1.5v1.5h-1.5zM295.21 289.59h1.5v1.5h-1.5zM300.2 289.55h1.5v1.5h-1.5zM302.69 289.75h1.5v1.5h-1.5zM315.17 289.46h1.5v1.5h-1.5zM319.16 289.75h1.5v1.5h-1.5zM325.15 289.45h1.5v1.5h-1.5zM326.65 289.74h1.5v1.5h-1.5zM329.64 289.58h1.5v1.5h-1.5zM334.13 289.49h1.5v1.5h-1.5zM346.11 289.51h1.5v1.5h-1.5zM370.56 289.55h1.5v1.5h-1.5zM387.02 289.47h1.5v1.5h-1.5zM423.45 289.63h1.5v1.5h-1.5zM433.43 289.74h1.5v1.5h-1.5zM496.8 289.44h1.5v1.5h-1.5zM498.3 289.59h1.5v1.5h-1.5zM501.3 289.69h1.5v1.5h-1.5zM502.29 289.71h1.5v1.5h-1.5zM306.19 289.77h1.5v1.5h-1.5zM85.13 291.43h1.5v1.5h-1.5zM94.11 291.28h1.5v1.5h-1.5zM104.59 291.18h1.5v1.5h-1.5zM163.97 291.27h1.5v1.5h-1.5zM196.41 291.29h1.5v1.5h-1.5zM254.79 291.44h1.5v1.5h-1.5zM262.27 291.29h1.5v1.5h-1.5zM268.26 291.17h1.5v1.5h-1.5zM271.26 291.44h1.5v1.5h-1.5zM289.22 291.25h1.5v1.5h-1.5zM296.71 291.37h1.5v1.5h-1.5zM308.68 291.28h1.5v1.5h-1.5zM311.18 291.35h1.5v1.5h-1.5zM312.17 291.36h1.5v1.5h-1.5zM328.14 291.37h1.5v1.5h-1.5zM328.64 291.23h1.5v1.5h-1.5zM332.63 291.37h1.5v1.5h-1.5zM339.12 291.38h1.5v1.5h-1.5zM356.59 291.29h1.5v1.5h-1.5zM364.57 291.38h1.5v1.5h-1.5zM367.56 291.26h1.5v1.5h-1.5zM381.04 291.15h1.5v1.5h-1.5zM390.52 291.44h1.5v1.5h-1.5zM449.9 291.25h1.5v1.5h-1.5zM485.83 291.39h1.5v1.5h-1.5zM493.31 291.19h1.5v1.5h-1.5zM509.28 291.31h1.5v1.5h-1.5zM540.72 291.36h1.5v1.5h-1.5zM542.21 291.16h1.5v1.5h-1.5zM547.7 291.27h1.5v1.5h-1.5zM554.19 291.44h1.5v1.5h-1.5zM570.16 291.36h1.5v1.5h-1.5zM570.66 291.39h1.5v1.5h-1.5zM79.64 292.85h1.5v1.5h-1.5zM115.57 292.82h1.5v1.5h-1.5zM130.04 293.08h1.5v1.5h-1.5zM151.5 292.98h1.5v1.5h-1.5zM175.95 292.81h1.5v1.5h-1.5zM201.9 293.14h1.5v1.5h-1.5zM233.33 292.81h1.5v1.5h-1.5zM264.27 293.08h1.5v1.5h-1.5zM278.74 293.04h1.5v1.5h-1.5zM300.7 292.83h1.5v1.5h-1.5zM305.19 292.82h1.5v1.5h-1.5zM323.65 293.02h1.5v1.5h-1.5zM334.63 293.06h1.5v1.5h-1.5zM344.11 292.89h1.5v1.5h-1.5zM351.6 293.01h1.5v1.5h-1.5zM368.06 293.07h1.5v1.5h-1.5zM370.06 293.05h1.5v1.5h-1.5zM430.94 293.1h1.5v1.5h-1.5zM431.44 292.96h1.5v1.5h-1.5zM445.41 293.09h1.5v1.5h-1.5zM447.9 293.09h1.5v1.5h-1.5zM464.37 293h1.5v1.5h-1.5zM484.83 293.02h1.5v1.5h-1.5zM486.82 293.14h1.5v1.5h-1.5zM527.74 293.05h1.5v1.5h-1.5zM533.73 292.84h1.5v1.5h-1.5zM121.06 294.7h1.5v1.5h-1.5zM140.02 294.74h1.5v1.5h-1.5zM163.47 294.64h1.5v1.5h-1.5zM188.92 294.61h1.5v1.5h-1.5zM198.9 294.57h1.5v1.5h-1.5zM212.37 294.52h1.5v1.5h-1.5zM268.26 294.69h1.5v1.5h-1.5zM282.23 294.53h1.5v1.5h-1.5zM290.22 294.59h1.5v1.5h-1.5zM292.71 294.66h1.5v1.5h-1.5zM294.21 294.67h1.5v1.5h-1.5zM322.65 294.64h1.5v1.5h-1.5zM322.65 294.62h1.5v1.5h-1.5zM345.61 294.68h1.5v1.5h-1.5zM372.05 294.63h1.5v1.5h-1.5zM414.47 294.63h1.5v1.5h-1.5zM421.46 294.65h1.5v1.5h-1.5zM426.45 294.62h1.5v1.5h-1.5zM428.94 294.51h1.5v1.5h-1.5zM472.85 294.74h1.5v1.5h-1.5zM484.83 294.69h1.5v1.5h-1.5zM500.3 294.57h1.5v1.5h-1.5zM511.77 294.69h1.5v1.5h-1.5zM514.77 294.55h1.5v1.5h-1.5zM517.76 294.61h1.5v1.5h-1.5zM92.12 294.83h1.5v1.5h-1.5zM131.04 294.75h1.5v1.5h-1.5zM149 294.84h1.5v1.5h-1.5zM198.4 294.75h1.5v1.5h-1.5zM255.29 294.77h1.5v1.5h-1.5zM294.21 294.82h1.5v1.5h-1.5zM308.18 294.8h1.5v1.5h-1.5zM320.16 294.79h1.5v1.5h-1.5zM334.13 294.76h1.5v1.5h-1.5zM342.61 294.81h1.5v1.5h-1.5zM344.11 294.8h1.5v1.5h-1.5zM389.02 294.76h1.5v1.5h-1.5zM405.49 294.79h1.5v1.5h-1.5zM411.97 294.75h1.5v1.5h-1.5zM466.37 294.81h1.5v1.5h-1.5zM524.25 294.8h1.5v1.5h-1.5zM106.09 296.4h1.5v1.5h-1.5zM120.06 296.29h1.5v1.5h-1.5zM123.05 296.23h1.5v1.5h-1.5zM129.54 296.46h1.5v1.5h-1.5zM163.47 296.28h1.5v1.5h-1.5zM176.45 296.32h1.5v1.5h-1.5zM196.41 296.39h1.5v1.5h-1.5zM265.77 296.21h1.5v1.5h-1.5zM273.75 296.32h1.5v1.5h-1.5zM288.22 296.5h1.5v1.5h-1.5zM295.71 296.28h1.5v1.5h-1.5zM302.69 296.45h1.5v1.5h-1.5zM306.19 296.22h1.5v1.5h-1.5zM315.67 296.46h1.5v1.5h-1.5zM316.17 296.24h1.5v1.5h-1.5zM331.14 296.46h1.5v1.5h-1.5zM339.62 296.52h1.5v1.5h-1.5zM351.6 296.24h1.5v1.5h-1.5zM366.57 296.39h1.5v1.5h-1.5zM379.04 296.44h1.5v1.5h-1.5zM403.99 296.52h1.5v1.5h-1.5zM415.97 296.21h1.5v1.5h-1.5zM558.68 296.32h1.5v1.5h-1.5zM560.68 296.43h1.5v1.5h-1.5zM150.5 298.09h1.5v1.5h-1.5zM229.84 298.12h1.5v1.5h-1.5zM282.23 297.91h1.5v1.5h-1.5zM291.72 297.97h1.5v1.5h-1.5zM293.71 297.94h1.5v1.5h-1.5zM295.71 297.95h1.5v1.5h-1.5zM304.19 298.05h1.5v1.5h-1.5zM311.18 297.91h1.5v1.5h-1.5zM322.65 298.21h1.5v1.5h-1.5zM330.64 298.04h1.5v1.5h-1.5zM364.57 297.89h1.5v1.5h-1.5zM457.88 297.95h1.5v1.5h-1.5zM460.38 298.17h1.5v1.5h-1.5zM523.25 298.05h1.5v1.5h-1.5zM553.19 297.97h1.5v1.5h-1.5zM567.66 297.99h1.5v1.5h-1.5zM90.62 299.71h1.5v1.5h-1.5zM166.47 299.58h1.5v1.5h-1.5zM181.44 299.63h1.5v1.5h-1.5zM182.93 299.72h1.5v1.5h-1.5zM205.89 299.67h1.5v1.5h-1.5zM207.38 299.72h1.5v1.5h-1.5zM219.86 299.71h1.5v1.5h-1.5zM229.84 299.66h1.5v1.5h-1.5zM263.77 299.67h1.5v1.5h-1.5zM266.27 299.66h1.5v1.5h-1.5zM269.76 299.6h1.5v1.5h-1.5zM272.75 299.58h1.5v1.5h-1.5zM289.22 299.57h1.5v1.5h-1.5zM327.14 299.67h1.5v1.5h-1.5zM341.12 299.74h1.5v1.5h-1.5zM348.6 299.58h1.5v1.5h-1.5zM349.1 299.58h1.5v1.5h-1.5zM427.44 299.59h1.5v1.5h-1.5zM462.37 299.75h1.5v1.5h-1.5zM527.24 299.72h1.5v1.5h-1.5zM528.74 299.64h1.5v1.5h-1.5zM548.7 299.6h1.5v1.5h-1.5zM560.18 299.74h1.5v1.5h-1.5zM81.14 299.86h1.5v1.5h-1.5zM111.58 299.78h1.5v1.5h-1.5zM331.64 299.86h1.5v1.5h-1.5zM434.43 299.89h1.5v1.5h-1.5zM444.91 299.85h1.5v1.5h-1.5zM466.37 299.82h1.5v1.5h-1.5zM543.71 299.87h1.5v1.5h-1.5zM558.18 299.85h1.5v1.5h-1.5zM126.55 301.55h1.5v1.5h-1.5zM130.04 301.36h1.5v1.5h-1.5zM168.96 301.51h1.5v1.5h-1.5zM209.38 301.47h1.5v1.5h-1.5zM253.29 301.42h1.5v1.5h-1.5zM267.76 301.27h1.5v1.5h-1.5zM270.26 301.34h1.5v1.5h-1.5zM296.71 301.29h1.5v1.5h-1.5zM302.69 301.49h1.5v1.5h-1.5zM322.15 301.3h1.5v1.5h-1.5zM332.63 301.32h1.5v1.5h-1.5zM334.63 301.29h1.5v1.5h-1.5zM342.11 301.35h1.5v1.5h-1.5zM362.57 301.47h1.5v1.5h-1.5zM426.45 301.48h1.5v1.5h-1.5zM442.91 301.26h1.5v1.5h-1.5zM452.39 301.42h1.5v1.5h-1.5zM461.38 301.34h1.5v1.5h-1.5zM481.34 301.4h1.5v1.5h-1.5zM507.28 301.58h1.5v1.5h-1.5zM540.22 301.36h1.5v1.5h-1.5zM542.71 301.54h1.5v1.5h-1.5zM83.13 303.27h1.5v1.5h-1.5zM104.09 303.1h1.5v1.5h-1.5zM109.58 302.97h1.5v1.5h-1.5zM153.49 303.11h1.5v1.5h-1.5zM163.47 303.21h1.5v1.5h-1.5zM166.47 302.94h1.5v1.5h-1.5zM193.41 303.04h1.5v1.5h-1.5zM193.91 303.04h1.5v1.5h-1.5zM204.89 302.99h1.5v1.5h-1.5zM247.3 303.27h1.5v1.5h-1.5zM265.77 303.13h1.5v1.5h-1.5zM271.76 303.21h1.5v1.5h-1.5zM273.25 303.16h1.5v1.5h-1.5zM286.23 303.28h1.5v1.5h-1.5zM291.72 303.18h1.5v1.5h-1.5zM302.19 303.04h1.5v1.5h-1.5zM307.68 303.15h1.5v1.5h-1.5zM310.68 303.17h1.5v1.5h-1.5zM320.16 303.13h1.5v1.5h-1.5zM331.14 303.15h1.5v1.5h-1.5zM360.58 303.2h1.5v1.5h-1.5zM409.98 303.13h1.5v1.5h-1.5zM468.86 302.99h1.5v1.5h-1.5zM508.78 303.27h1.5v1.5h-1.5zM531.24 302.98h1.5v1.5h-1.5zM544.21 302.95h1.5v1.5h-1.5zM91.62 304.73h1.5v1.5h-1.5zM128.54 304.68h1.5v1.5h-1.5zM162.97 304.73h1.5v1.5h-1.5zM315.17 304.65h1.5v1.5h-1.5zM340.12 304.75h1.5v1.5h-1.5zM351.1 304.72h1.5v1.5h-1.5zM402 304.68h1.5v1.5h-1.5zM431.44 304.74h1.5v1.5h-1.5zM517.76 304.69h1.5v1.5h-1.5zM89.12 304.78h1.5v1.5h-1.5zM111.08 304.93h1.5v1.5h-1.5zM184.43 304.79h1.5v1.5h-1.5zM209.38 304.84h1.5v1.5h-1.5zM262.27 304.88h1.5v1.5h-1.5zM289.22 304.89h1.5v1.5h-1.5zM293.71 304.82h1.5v1.5h-1.5zM337.62 304.87h1.5v1.5h-1.5zM379.54 304.84h1.5v1.5h-1.5zM397.5 304.84h1.5v1.5h-1.5zM423.95 304.83h1.5v1.5h-1.5zM450.9 304.97h1.5v1.5h-1.5zM463.87 304.84h1.5v1.5h-1.5zM475.85 304.92h1.5v1.5h-1.5zM489.32 304.8h1.5v1.5h-1.5zM102.1 306.41h1.5v1.5h-1.5zM107.58 306.5h1.5v1.5h-1.5zM109.58 306.42h1.5v1.5h-1.5zM123.05 306.62h1.5v1.5h-1.5zM129.04 306.5h1.5v1.5h-1.5zM136.53 306.6h1.5v1.5h-1.5zM140.02 306.43h1.5v1.5h-1.5zM151 306.48h1.5v1.5h-1.5zM162.47 306.57h1.5v1.5h-1.5zM203.89 306.6h1.5v1.5h-1.5zM237.82 306.46h1.5v1.5h-1.5zM245.31 306.59h1.5v1.5h-1.5zM293.21 306.51h1.5v1.5h-1.5zM294.21 306.65h1.5v1.5h-1.5zM309.68 306.64h1.5v1.5h-1.5zM338.12 306.6h1.5v1.5h-1.5zM350.6 306.58h1.5v1.5h-1.5zM373.05 306.34h1.5v1.5h-1.5zM378.04 306.4h1.5v1.5h-1.5zM389.52 306.63h1.5v1.5h-1.5zM408.48 306.62h1.5v1.5h-1.5zM437.92 306.48h1.5v1.5h-1.5zM458.38 306.42h1.5v1.5h-1.5zM481.34 306.54h1.5v1.5h-1.5zM88.62 308.3h1.5v1.5h-1.5zM98.1 308.18h1.5v1.5h-1.5zM132.53 308.25h1.5v1.5h-1.5zM138.02 308.16h1.5v1.5h-1.5zM150.5 308.12h1.5v1.5h-1.5zM191.42 308.15h1.5v1.5h-1.5zM193.41 308.28h1.5v1.5h-1.5zM224.85 308.26h1.5v1.5h-1.5zM230.34 308.06h1.5v1.5h-1.5zM251.3 308.32h1.5v1.5h-1.5zM303.19 308.23h1.5v1.5h-1.5zM338.62 308.29h1.5v1.5h-1.5zM340.12 308.29h1.5v1.5h-1.5zM340.62 308.19h1.5v1.5h-1.5zM360.58 308.31h1.5v1.5h-1.5zM505.79 308.27h1.5v1.5h-1.5zM331.64 309.71h1.5v1.5h-1.5zM137.52 309.76h1.5v1.5h-1.5zM139.52 309.86h1.5v1.5h-1.5zM285.73 310.03h1.5v1.5h-1.5zM303.19 309.89h1.5v1.5h-1.5zM311.68 309.85h1.5v1.5h-1.5zM328.14 309.92h1.5v1.5h-1.5zM341.12 309.91h1.5v1.5h-1.5zM417.46 310h1.5v1.5h-1.5zM428.44 309.84h1.5v1.5h-1.5zM438.92 309.92h1.5v1.5h-1.5zM481.83 309.75h1.5v1.5h-1.5zM503.79 309.92h1.5v1.5h-1.5zM523.25 310h1.5v1.5h-1.5zM527.24 309.96h1.5v1.5h-1.5zM527.24 309.75h1.5v1.5h-1.5zM529.24 309.78h1.5v1.5h-1.5zM536.72 309.9h1.5v1.5h-1.5zM552.19 309.81h1.5v1.5h-1.5zM81.64 311.59h1.5v1.5h-1.5zM118.56 311.45h1.5v1.5h-1.5zM120.56 311.56h1.5v1.5h-1.5zM137.03 311.63h1.5v1.5h-1.5zM176.45 311.58h1.5v1.5h-1.5zM214.37 311.64h1.5v1.5h-1.5zM225.35 311.62h1.5v1.5h-1.5zM272.25 311.58h1.5v1.5h-1.5zM306.19 311.44h1.5v1.5h-1.5zM316.17 311.39h1.5v1.5h-1.5zM317.66 311.49h1.5v1.5h-1.5zM323.15 311.42h1.5v1.5h-1.5zM329.14 311.66h1.5v1.5h-1.5zM331.64 311.44h1.5v1.5h-1.5zM377.04 311.68h1.5v1.5h-1.5zM451.89 311.46h1.5v1.5h-1.5zM485.33 311.66h1.5v1.5h-1.5zM523.75 311.49h1.5v1.5h-1.5zM543.71 311.69h1.5v1.5h-1.5zM145.51 313.1h1.5v1.5h-1.5zM202.39 313.31h1.5v1.5h-1.5zM212.87 313.31h1.5v1.5h-1.5zM223.85 313.29h1.5v1.5h-1.5zM241.32 313.28h1.5v1.5h-1.5zM272.25 313.19h1.5v1.5h-1.5zM327.14 313.24h1.5v1.5h-1.5zM328.14 313.28h1.5v1.5h-1.5zM357.58 313.21h1.5v1.5h-1.5zM395.01 313.14h1.5v1.5h-1.5zM440.42 313.16h1.5v1.5h-1.5zM444.91 313.4h1.5v1.5h-1.5zM467.86 313.14h1.5v1.5h-1.5zM467.86 313.16h1.5v1.5h-1.5zM551.2 313.31h1.5v1.5h-1.5zM81.14 314.95h1.5v1.5h-1.5zM99.1 314.85h1.5v1.5h-1.5zM251.3 314.78h1.5v1.5h-1.5zM257.28 314.93h1.5v1.5h-1.5zM258.28 314.86h1.5v1.5h-1.5zM297.7 314.8h1.5v1.5h-1.5zM413.97 315h1.5v1.5h-1.5zM435.43 314.95h1.5v1.5h-1.5zM474.35 315.02h1.5v1.5h-1.5zM509.78 314.89h1.5v1.5h-1.5zM520.26 315.03h1.5v1.5h-1.5zM542.21 314.92h1.5v1.5h-1.5zM553.19 315.03h1.5v1.5h-1.5zM136.03 316.58h1.5v1.5h-1.5zM178.44 316.6h1.5v1.5h-1.5zM216.37 316.48h1.5v1.5h-1.5zM310.18 316.45h1.5v1.5h-1.5zM350.1 316.56h1.5v1.5h-1.5zM359.08 316.69h1.5v1.5h-1.5zM393.01 316.71h1.5v1.5h-1.5zM415.47 316.69h1.5v1.5h-1.5zM430.44 316.61h1.5v1.5h-1.5zM433.93 316.48h1.5v1.5h-1.5zM442.41 316.49h1.5v1.5h-1.5zM525.25 316.49h1.5v1.5h-1.5zM100.1 318.42h1.5v1.5h-1.5zM118.56 318.32h1.5v1.5h-1.5zM124.05 318.21h1.5v1.5h-1.5zM156.99 318.47h1.5v1.5h-1.5zM161.48 318.18h1.5v1.5h-1.5zM176.95 318.36h1.5v1.5h-1.5zM224.85 318.2h1.5v1.5h-1.5zM246.31 318.4h1.5v1.5h-1.5zM317.16 318.27h1.5v1.5h-1.5zM341.62 318.14h1.5v1.5h-1.5zM352.09 318.23h1.5v1.5h-1.5zM352.59 318.45h1.5v1.5h-1.5zM406.98 318.26h1.5v1.5h-1.5zM430.44 318.19h1.5v1.5h-1.5zM437.92 318.26h1.5v1.5h-1.5zM444.41 318.15h1.5v1.5h-1.5zM450.4 318.33h1.5v1.5h-1.5zM518.26 318.44h1.5v1.5h-1.5zM520.26 318.34h1.5v1.5h-1.5zM535.23 318.28h1.5v1.5h-1.5zM537.22 318.48h1.5v1.5h-1.5zM562.67 318.28h1.5v1.5h-1.5zM100.6 320.04h1.5v1.5h-1.5zM127.54 320.16h1.5v1.5h-1.5zM144.51 320.11h1.5v1.5h-1.5zM154.99 319.94h1.5v1.5h-1.5zM161.98 319.99h1.5v1.5h-1.5zM192.41 319.84h1.5v1.5h-1.5zM235.33 319.89h1.5v1.5h-1.5zM251.8 320.08h1.5v1.5h-1.5zM298.2 320.13h1.5v1.5h-1.5zM300.7 319.95h1.5v1.5h-1.5zM332.13 320.02h1.5v1.5h-1.5zM371.06 320.12h1.5v1.5h-1.5zM396.51 320.07h1.5v1.5h-1.5zM441.91 320.01h1.5v1.5h-1.5zM458.38 320.14h1.5v1.5h-1.5zM501.3 320.13h1.5v1.5h-1.5zM112.57 321.63h1.5v1.5h-1.5zM126.05 321.62h1.5v1.5h-1.5zM135.53 321.52h1.5v1.5h-1.5zM149 321.61h1.5v1.5h-1.5zM179.94 321.53h1.5v1.5h-1.5zM271.76 321.54h1.5v1.5h-1.5zM274.75 321.62h1.5v1.5h-1.5zM296.71 321.65h1.5v1.5h-1.5zM347.1 321.73h1.5v1.5h-1.5zM355.59 321.72h1.5v1.5h-1.5zM492.31 321.62h1.5v1.5h-1.5zM535.73 321.69h1.5v1.5h-1.5zM168.96 321.81h1.5v1.5h-1.5zM183.93 321.78h1.5v1.5h-1.5zM261.78 321.8h1.5v1.5h-1.5zM442.41 321.82h1.5v1.5h-1.5zM167.96 323.24h1.5v1.5h-1.5zM188.92 323.45h1.5v1.5h-1.5zM191.92 323.23h1.5v1.5h-1.5zM197.4 323.37h1.5v1.5h-1.5zM239.82 323.35h1.5v1.5h-1.5zM279.74 323.26h1.5v1.5h-1.5zM294.21 323.23h1.5v1.5h-1.5zM312.17 323.5h1.5v1.5h-1.5zM313.67 323.35h1.5v1.5h-1.5zM346.61 323.29h1.5v1.5h-1.5zM417.46 323.29h1.5v1.5h-1.5zM437.92 323.23h1.5v1.5h-1.5zM440.42 323.42h1.5v1.5h-1.5zM497.8 323.36h1.5v1.5h-1.5zM149 325.03h1.5v1.5h-1.5zM165.47 325.11h1.5v1.5h-1.5zM186.43 325.04h1.5v1.5h-1.5zM203.89 324.96h1.5v1.5h-1.5zM215.87 324.94h1.5v1.5h-1.5zM221.86 325.07h1.5v1.5h-1.5zM271.26 325.18h1.5v1.5h-1.5zM284.23 324.98h1.5v1.5h-1.5zM303.19 325.04h1.5v1.5h-1.5zM449.9 324.96h1.5v1.5h-1.5zM476.84 325.18h1.5v1.5h-1.5zM488.32 324.97h1.5v1.5h-1.5zM498.8 325.18h1.5v1.5h-1.5zM532.73 325.15h1.5v1.5h-1.5zM214.87 326.71h1.5v1.5h-1.5zM216.87 326.68h1.5v1.5h-1.5zM322.15 326.65h1.5v1.5h-1.5zM466.37 326.64h1.5v1.5h-1.5zM540.22 326.74h1.5v1.5h-1.5zM544.71 326.62h1.5v1.5h-1.5zM241.32 326.87h1.5v1.5h-1.5zM254.29 326.89h1.5v1.5h-1.5zM109.58 328.59h1.5v1.5h-1.5zM237.82 328.44h1.5v1.5h-1.5zM247.3 328.33h1.5v1.5h-1.5zM256.29 328.35h1.5v1.5h-1.5zM281.74 328.37h1.5v1.5h-1.5zM311.18 328.4h1.5v1.5h-1.5zM323.15 328.32h1.5v1.5h-1.5zM455.89 328.4h1.5v1.5h-1.5zM521.26 328.46h1.5v1.5h-1.5zM538.72 328.36h1.5v1.5h-1.5zM104.09 330.29h1.5v1.5h-1.5zM124.55 330.14h1.5v1.5h-1.5zM178.44 330.17h1.5v1.5h-1.5zM220.86 330.1h1.5v1.5h-1.5zM247.3 330.13h1.5v1.5h-1.5zM274.25 330.2h1.5v1.5h-1.5zM286.73 330.07h1.5v1.5h-1.5zM309.68 330.07h1.5v1.5h-1.5zM444.91 330.08h1.5v1.5h-1.5zM465.87 330.22h1.5v1.5h-1.5zM476.35 330.28h1.5v1.5h-1.5zM485.83 330.25h1.5v1.5h-1.5zM541.22 330.12h1.5v1.5h-1.5zM233.33 331.67h1.5v1.5h-1.5zM240.32 331.69h1.5v1.5h-1.5zM419.46 331.68h1.5v1.5h-1.5zM138.52 331.87h1.5v1.5h-1.5zM152.99 331.97h1.5v1.5h-1.5zM166.47 331.92h1.5v1.5h-1.5zM200.9 331.86h1.5v1.5h-1.5zM252.29 331.89h1.5v1.5h-1.5zM416.96 331.79h1.5v1.5h-1.5zM447.9 331.76h1.5v1.5h-1.5zM179.44 333.35h1.5v1.5h-1.5zM187.42 333.53h1.5v1.5h-1.5zM212.37 333.56h1.5v1.5h-1.5zM298.7 333.48h1.5v1.5h-1.5zM347.1 333.47h1.5v1.5h-1.5zM423.95 333.42h1.5v1.5h-1.5zM446.41 333.66h1.5v1.5h-1.5zM451.4 333.5h1.5v1.5h-1.5zM520.76 333.35h1.5v1.5h-1.5zM540.22 333.53h1.5v1.5h-1.5zM179.44 335.12h1.5v1.5h-1.5zM228.34 335.31h1.5v1.5h-1.5zM247.3 335.25h1.5v1.5h-1.5zM282.23 335.14h1.5v1.5h-1.5zM315.17 335.29h1.5v1.5h-1.5zM119.56 336.9h1.5v1.5h-1.5zM130.54 336.9h1.5v1.5h-1.5zM149.5 336.91h1.5v1.5h-1.5zM166.47 336.93h1.5v1.5h-1.5zM301.2 336.8h1.5v1.5h-1.5zM327.14 336.91h1.5v1.5h-1.5zM351.6 337h1.5v1.5h-1.5zM521.75 336.84h1.5v1.5h-1.5zM327.14 338.49h1.5v1.5h-1.5zM485.33 338.61h1.5v1.5h-1.5zM538.22 338.5h1.5v1.5h-1.5zM99.6 340.33h1.5v1.5h-1.5zM166.47 340.09h1.5v1.5h-1.5zM179.44 340.09h1.5v1.5h-1.5zM218.36 340.1h1.5v1.5h-1.5zM220.86 340.36h1.5v1.5h-1.5zM291.22 340.1h1.5v1.5h-1.5zM445.91 340.22h1.5v1.5h-1.5zM472.85 340.3h1.5v1.5h-1.5zM510.78 340.19h1.5v1.5h-1.5zM518.26 340.14h1.5v1.5h-1.5zM535.23 340.16h1.5v1.5h-1.5zM83.63 341.98h1.5v1.5h-1.5zM141.52 342.04h1.5v1.5h-1.5zM192.41 342.04h1.5v1.5h-1.5zM258.78 342.03h1.5v1.5h-1.5zM290.72 342.06h1.5v1.5h-1.5zM298.7 341.8h1.5v1.5h-1.5zM315.17 341.94h1.5v1.5h-1.5zM373.05 342.1h1.5v1.5h-1.5zM509.28 341.99h1.5v1.5h-1.5zM549.7 342.03h1.5v1.5h-1.5zM119.06 343.74h1.5v1.5h-1.5zM142.51 343.55h1.5v1.5h-1.5zM171.96 343.66h1.5v1.5h-1.5zM281.74 343.69h1.5v1.5h-1.5zM295.71 343.65h1.5v1.5h-1.5zM171.96 343.75h1.5v1.5h-1.5zM115.57 345.23h1.5v1.5h-1.5zM125.05 345.42h1.5v1.5h-1.5zM148 345.26h1.5v1.5h-1.5zM152.99 345.3h1.5v1.5h-1.5zM221.86 345.27h1.5v1.5h-1.5zM223.85 345.4h1.5v1.5h-1.5zM304.19 345.38h1.5v1.5h-1.5zM441.42 345.27h1.5v1.5h-1.5zM483.83 345.26h1.5v1.5h-1.5zM529.74 345.26h1.5v1.5h-1.5zM99.1 347.15h1.5v1.5h-1.5zM327.64 347.18h1.5v1.5h-1.5zM450.9 346.94h1.5v1.5h-1.5zM506.29 347.07h1.5v1.5h-1.5zM518.76 346.88h1.5v1.5h-1.5zM542.21 347.02h1.5v1.5h-1.5zM561.67 347.05h1.5v1.5h-1.5zM534.23 348.81h1.5v1.5h-1.5zM288.72 350.44h1.5v1.5h-1.5zM293.71 350.39h1.5v1.5h-1.5zM300.7 350.32h1.5v1.5h-1.5zM470.36 350.25h1.5v1.5h-1.5zM242.31 352.15h1.5v1.5h-1.5zM322.15 352.16h1.5v1.5h-1.5zM419.46 352.06h1.5v1.5h-1.5zM99.6 353.59h1.5v1.5h-1.5zM462.37 353.89h1.5v1.5h-1.5zM386.03 355.29h1.5v1.5h-1.5zM191.92 357.19h1.5v1.5h-1.5zM240.82 357.25h1.5v1.5h-1.5zM296.71 357.03h1.5v1.5h-1.5zM419.46 357.28h1.5v1.5h-1.5zM545.21 357.14h1.5v1.5h-1.5zM533.73 358.71h1.5v1.5h-1.5zM510.28 358.77h1.5v1.5h-1.5zM516.76 358.92h1.5v1.5h-1.5zM548.7 358.77h1.5v1.5h-1.5zM568.16 358.99h1.5v1.5h-1.5zM151.5 360.54h1.5v1.5h-1.5zM260.78 360.65h1.5v1.5h-1.5zM514.27 360.36h1.5v1.5h-1.5zM526.25 360.48h1.5v1.5h-1.5zM168.96 362.12h1.5v1.5h-1.5zM323.15 362.29h1.5v1.5h-1.5zM328.14 362.13h1.5v1.5h-1.5zM359.08 362.23h1.5v1.5h-1.5zM436.92 362.26h1.5v1.5h-1.5zM131.04 363.82h1.5v1.5h-1.5zM219.36 363.91h1.5v1.5h-1.5zM271.76 363.99h1.5v1.5h-1.5zM329.14 367.32h1.5v1.5h-1.5zM101.1 370.54h1.5v1.5h-1.5zM180.94 372.22h1.5v1.5h-1.5zM442.91 372.33h1.5v1.5h-1.5zM170.96 374.11h1.5v1.5h-1.5zM296.71 373.9h1.5v1.5h-1.5zM431.93 377.56h1.5v1.5h-1.5zM460.88 379.02h1.5v1.5h-1.5zM531.74 378.95h1.5v1.5h-1.5zM568.66 379.19h1.5v1.5h-1.5zM255.29 380.7h1.5v1.5h-1.5zM455.75 382.25h1.5v1.5h-1.5zM323.25 386.75h1.5v1.5h-1.5zM370.25 397.75h1.5v1.5h-1.5zM370.75 407.75h1.5v1.5h-1.5zM319.75 420.75h1.5v1.5h-1.5zM388.25 420.75h1.5v1.5h-1.5zM78.25 432.75h1.5v1.5h-1.5zM130.25 451.25h1.5v1.5h-1.5zM450.25 476.75h1.5v1.5h-1.5zM356.25 490.25h1.5v1.5h-1.5zM461.75 517.25h1.5v1.5h-1.5zM476.75 559.25h1.5v1.5h-1.5z" fill="#000"/>
</g>
<g clip-path="url(#c1)">
<path d="M271.01 580.24L271.01 35.81" stroke="#006400" stroke-width="2.25" stroke-dasharray="9 9" stroke-linecap="round" fill="none"/>
<path d="M379.79 580.24L379.79 35.81" stroke="#006400" stroke-width="2.25" stroke-dasharray="9 9" stroke-linecap="round" fill="none"/>
<path d="M59.76 310.62L604.19 310.62" stroke="#CD2626" stroke-width="2.25" stroke-dasharray="9 9" stroke-linecap="round" fill="none"/>
</g>
<rect x="59.76" y="47.81" width="532.43" height="532.43" fill="none" stroke="#000" stroke-width="0.75"/>
<path d="M125.8 580.24H525M125.8 580.24v5.98M225.6 580.24v5.98M325.4 580.24v5.98M425.2 580.24v5.98M525 580.24v5.98M59.76 67.5V573.99M59.76 573.99h-5.98M59.76 489.57h-5.98M59.76 405.16h-5.98M59.76 320.75h-5.98M59.76 236.33h-5.98M59.76 151.91h-5.98M59.76 67.5h-5.98" fill="none" stroke="#000" stroke-width="0.75"/>
<g font-size="10" text-anchor="middle" letter-spacing="0.42">
<text x="125.2" y="601.6">-400</text>
<text x="225" y="601.6">-200</text>
<text x="325" y="601.6">0</text>
<text x="424.8" y="601.6">200</text>
<text x="524.6" y="601.6">400</text>
<text transform="translate(44.7 574.39) rotate(-90)">70</text>
<text transform="translate(44.7 489.97) rotate(-90)">75</text>
<text transform="translate(44.7 405.56) rotate(-90)">80</text>
<text transform="translate(44.7 321.14) rotate(-90)">85</text>
<text transform="translate(44.7 236.73) rotate(-90)">90</text>
<text transform="translate(44.7 152.31) rotate(-90)">95</text>
<text transform="translate(44.7 67.9) rotate(-90)">100</text>
</g>
<text x="322.98" y="31.9" font-size="21.5" font-weight="bold" text-anchor="middle">Top hit for each peak</text>
<text x="325.98" y="625.8" font-size="16" text-anchor="middle">Distance to peak summit</text>
<text transform="translate(21.8 314.02) rotate(-90)" font-size="16" text-anchor="middle">Motif score</text>
</g>
<g id="panel2">
<g clip-path="url(#c2)">
<g filter="url(#hb)" shape-rendering="crispEdges">
<rect x="667.8" y="15.8" width="596.4" height="596.4" fill="#fff"/>
<path fill="#fdfdff" d="M687.8 35.8h12.3v6.3h-12.3zM1226.2 35.8h18.2v6.3h-18.2zM687.8 41.8h12.3v6.3h-12.3zM1232.2 41.8h12.3v6.3h-12.3zM687.8 47.8h6.3v6.3h-6.3zM1232.2 47.8h12.3v6.3h-12.3zM687.8 53.8h6.3v6.3h-6.3zM1238.2 53.8h6.3v6.3h-6.3zM687.8 59.8h6.3v6.3h-6.3zM1238.2 59.8h6.3v6.3h-6.3zM687.8 65.8h6.3v6.3h-6.3zM1238.2 65.8h6.3v6.3h-6.3zM1238.2 71.7h6.3v6.3h-6.3zM1238.2 352.9h6.3v6.3h-6.3zM687.8 358.9h6.3v6.3h-6.3zM1238.2 358.9h6.3v6.3h-6.3zM687.8 364.9h6.3v6.3h-6.3zM1238.2 364.9h6.3v6.3h-6.3zM687.8 370.9h12.3v6.3h-12.3zM1022.8 370.9h12.3v6.3h-12.3zM1232.2 370.9h12.3v6.3h-12.3zM687.8 376.8h12.3v6.3h-12.3zM1010.8 376.8h36.2v6.3h-36.2zM1226.2 376.8h12.3v6.3h-12.3zM693.8 382.8h24.2v6.3h-24.2zM849.3 382.8h6.3v6.3h-6.3zM903.2 382.8h18.2v6.3h-18.2zM992.9 382.8h72.1v6.3h-72.1zM1130.5 382.8h18.2v6.3h-18.2zM1214.2 382.8h24.2v6.3h-24.2zM693.8 388.8h245.6v6.3h-245.6zM980.9 388.8h102v6.3h-102zM1124.5 388.8h42.2v6.3h-42.2zM1184.3 388.8h48.2v6.3h-48.2zM699.8 394.8h251.6v6.3h-251.6zM974.9 394.8h30.2v6.3h-30.2zM1022.8 394.8h72.1v6.3h-72.1zM1112.5 394.8h119.9v6.3h-119.9zM705.7 400.8h299.4v6.3h-299.4zM1022.8 400.8h197.7v6.3h-197.7zM747.6 406.8h12.3v6.3h-12.3zM801.5 406.8h18.2v6.3h-18.2zM831.4 406.8h48.2v6.3h-48.2zM927.1 406.8h78.1v6.3h-78.1zM1022.8 406.8h36.2v6.3h-36.2zM1076.6 406.8h48.2v6.3h-48.2zM1160.4 406.8h42.2v6.3h-42.2zM945 412.7h36.2v6.3h-36.2zM992.9 412.7h18.2v6.3h-18.2zM1022.8 412.7h24.2v6.3h-24.2zM945 418.7h30.2v6.3h-30.2zM998.9 418.7h48.2v6.3h-48.2zM945 424.7h30.2v6.3h-30.2zM1004.9 424.7h42.2v6.3h-42.2zM693.8 430.7h12.3v6.3h-12.3zM945 430.7h30.2v6.3h-30.2zM1010.8 430.7h36.2v6.3h-36.2zM687.8 436.7h24.2v6.3h-24.2zM951 436.7h18.2v6.3h-18.2zM1022.8 436.7h18.2v6.3h-18.2zM687.8 442.6h24.2v6.3h-24.2zM693.8 448.6h12.3v6.3h-12.3zM747.6 454.6h18.2v6.3h-18.2zM741.6 460.6h24.2v6.3h-24.2zM747.6 466.6h18.2v6.3h-18.2zM1094.6 478.5h12.3v6.3h-12.3zM1088.6 484.5h24.2v6.3h-24.2zM1088.6 490.5h24.2v6.3h-24.2zM992.9 496.5h18.2v6.3h-18.2zM1094.6 496.5h12.3v6.3h-12.3zM986.9 502.5h24.2v6.3h-24.2zM992.9 508.5h18.2v6.3h-18.2zM1112.5 520.4h6.3v6.3h-6.3zM1100.6 526.4h24.2v6.3h-24.2zM1100.6 532.4h24.2v6.3h-24.2zM1106.6 538.4h18.2v6.3h-18.2zM1124.5 568.3h12.3v6.3h-12.3zM1118.5 574.3h24.2v6.3h-24.2zM1118.5 580.2h24.2v6.3h-24.2zM1124.5 586.2h12.3v6.3h-12.3z"/>
<path fill="#fbfbff" d="M699.8 35.8h42.2v6.3h-42.2zM765.6 35.8h30.2v6.3h-30.2zM1124.5 35.8h30.2v6.3h-30.2zM1208.3 35.8h18.2v6.3h-18.2zM699.8 41.8h18.2v6.3h-18.2zM1214.2 41.8h18.2v6.3h-18.2zM693.8 47.8h12.3v6.3h-12.3zM1220.2 47.8h12.3v6.3h-12.3zM693.8 53.8h6.3v6.3h-6.3zM1226.2 53.8h12.3v6.3h-12.3zM693.8 59.8h6.3v6.3h-6.3zM1232.2 59.8h6.3v6.3h-6.3zM1232.2 65.8h6.3v6.3h-6.3zM687.8 71.7h6.3v6.3h-6.3zM687.8 77.7h6.3v6.3h-6.3zM1238.2 77.7h6.3v6.3h-6.3zM687.8 83.7h6.3v6.3h-6.3zM1238.2 83.7h6.3v6.3h-6.3zM687.8 89.7h6.3v6.3h-6.3zM1238.2 89.7h6.3v6.3h-6.3zM687.8 95.7h6.3v6.3h-6.3zM1238.2 95.7h6.3v6.3h-6.3zM1238.2 101.7h6.3v6.3h-6.3zM687.8 335h6.3v6.3h-6.3zM1238.2 335h6.3v6.3h-6.3zM687.8 340.9h6.3v6.3h-6.3zM1238.2 340.9h6.3v6.3h-6.3zM687.8 346.9h6.3v6.3h-6.3zM1016.8 346.9h18.2v6.3h-18.2zM1238.2 346.9h6.3v6.3h-6.3zM687.8 352.9h6.3v6.3h-6.3zM1010.8 352.9h30.2v6.3h-30.2zM693.8 358.9h6.3v6.3h-6.3zM1004.9 358.9h42.2v6.3h-42.2zM1232.2 358.9h6.3v6.3h-6.3zM693.8 364.9h6.3v6.3h-6.3zM909.1 364.9h6.3v6.3h-6.3zM998.9 364.9h54.1v6.3h-54.1zM1130.5 364.9h6.3v6.3h-6.3zM1226.2 364.9h12.3v6.3h-12.3zM699.8 370.9h12.3v6.3h-12.3zM837.4 370.9h24.2v6.3h-24.2zM903.2 370.9h18.2v6.3h-18.2zM986.9 370.9h36.2v6.3h-36.2zM1034.8 370.9h30.2v6.3h-30.2zM1124.5 370.9h24.2v6.3h-24.2zM1220.2 370.9h12.3v6.3h-12.3zM699.8 376.8h48.2v6.3h-48.2zM759.6 376.8h42.2v6.3h-42.2zM819.4 376.8h54.1v6.3h-54.1zM885.2 376.8h54.1v6.3h-54.1zM974.9 376.8h36.2v6.3h-36.2zM1046.7 376.8h36.2v6.3h-36.2zM1118.5 376.8h42.2v6.3h-42.2zM1208.3 376.8h18.2v6.3h-18.2zM717.7 382.8h131.9v6.3h-131.9zM855.3 382.8h48.2v6.3h-48.2zM921.1 382.8h72.1v6.3h-72.1zM1064.7 382.8h30.2v6.3h-30.2zM1112.5 382.8h18.2v6.3h-18.2zM1148.4 382.8h66.1v6.3h-66.1zM939.1 388.8h42.2v6.3h-42.2zM1082.6 388.8h42.2v6.3h-42.2zM1166.4 388.8h18.2v6.3h-18.2zM951 394.8h24.2v6.3h-24.2zM1004.9 394.8h18.2v6.3h-18.2zM1094.6 394.8h18.2v6.3h-18.2zM1004.9 400.8h18.2v6.3h-18.2zM1004.9 406.8h18.2v6.3h-18.2zM1010.8 412.7h12.3v6.3h-12.3z"/>
<path fill="#f9f9ff" d="M741.6 35.8h24.2v6.3h-24.2zM795.5 35.8h131.9v6.3h-131.9zM1004.9 35.8h119.9v6.3h-119.9zM1154.4 35.8h54.1v6.3h-54.1zM717.7 41.8h119.9v6.3h-119.9zM855.3 41.8h42.2v6.3h-42.2zM1034.8 41.8h54.1v6.3h-54.1zM1106.6 41.8h60.1v6.3h-60.1zM1172.4 41.8h42.2v6.3h-42.2zM705.7 47.8h24.2v6.3h-24.2zM1208.3 47.8h12.3v6.3h-12.3zM699.8 53.8h12.3v6.3h-12.3zM1220.2 53.8h6.3v6.3h-6.3zM1226.2 59.8h6.3v6.3h-6.3zM693.8 65.8h6.3v6.3h-6.3zM1226.2 65.8h6.3v6.3h-6.3zM693.8 71.7h6.3v6.3h-6.3zM1232.2 71.7h6.3v6.3h-6.3zM1232.2 77.7h6.3v6.3h-6.3zM1232.2 83.7h6.3v6.3h-6.3zM687.8 101.7h6.3v6.3h-6.3zM687.8 107.6h6.3v6.3h-6.3zM1238.2 107.6h6.3v6.3h-6.3zM687.8 113.6h6.3v6.3h-6.3zM1238.2 113.6h6.3v6.3h-6.3zM1238.2 119.6h6.3v6.3h-6.3zM1238.2 125.6h6.3v6.3h-6.3zM687.8 317h6.3v6.3h-6.3zM1238.2 317h6.3v6.3h-6.3zM687.8 323h6.3v6.3h-6.3zM1238.2 323h6.3v6.3h-6.3zM687.8 329h6.3v6.3h-6.3zM1238.2 329h6.3v6.3h-6.3zM1022.8 335h12.3v6.3h-12.3zM1010.8 340.9h30.2v6.3h-30.2zM1004.9 346.9h12.3v6.3h-12.3zM1034.8 346.9h12.3v6.3h-12.3zM1232.2 346.9h6.3v6.3h-6.3zM693.8 352.9h6.3v6.3h-6.3zM909.1 352.9h6.3v6.3h-6.3zM998.9 352.9h12.3v6.3h-12.3zM1040.8 352.9h12.3v6.3h-12.3zM1232.2 352.9h6.3v6.3h-6.3zM699.8 358.9h6.3v6.3h-6.3zM843.3 358.9h12.3v6.3h-12.3zM903.2 358.9h18.2v6.3h-18.2zM992.9 358.9h12.3v6.3h-12.3zM1046.7 358.9h12.3v6.3h-12.3zM1124.5 358.9h18.2v6.3h-18.2zM1226.2 358.9h6.3v6.3h-6.3zM699.8 364.9h18.2v6.3h-18.2zM837.4 364.9h24.2v6.3h-24.2zM897.2 364.9h12.3v6.3h-12.3zM915.1 364.9h12.3v6.3h-12.3zM980.9 364.9h18.2v6.3h-18.2zM1052.7 364.9h18.2v6.3h-18.2zM1118.5 364.9h12.3v6.3h-12.3zM1136.5 364.9h18.2v6.3h-18.2zM1220.2 364.9h6.3v6.3h-6.3zM711.7 370.9h125.9v6.3h-125.9zM861.3 370.9h12.3v6.3h-12.3zM885.2 370.9h18.2v6.3h-18.2zM921.1 370.9h30.2v6.3h-30.2zM957 370.9h30.2v6.3h-30.2zM1064.7 370.9h24.2v6.3h-24.2zM1112.5 370.9h12.3v6.3h-12.3zM1148.4 370.9h12.3v6.3h-12.3zM1202.3 370.9h18.2v6.3h-18.2zM747.6 376.8h12.3v6.3h-12.3zM801.5 376.8h18.2v6.3h-18.2zM873.2 376.8h12.3v6.3h-12.3zM939.1 376.8h36.2v6.3h-36.2zM1082.6 376.8h36.2v6.3h-36.2zM1160.4 376.8h48.2v6.3h-48.2zM1094.6 382.8h18.2v6.3h-18.2z"/>
<path fill="#f7f7ff" d="M927.1 35.8h24.2v6.3h-24.2zM974.9 35.8h30.2v6.3h-30.2zM837.4 41.8h18.2v6.3h-18.2zM897.2 41.8h18.2v6.3h-18.2zM1010.8 41.8h24.2v6.3h-24.2zM1088.6 41.8h18.2v6.3h-18.2zM1166.4 41.8h6.3v6.3h-6.3zM729.7 47.8h114v6.3h-114zM849.3 47.8h36.2v6.3h-36.2zM1040.8 47.8h48.2v6.3h-48.2zM1106.6 47.8h102v6.3h-102zM711.7 53.8h24.2v6.3h-24.2zM765.6 53.8h30.2v6.3h-30.2zM1136.5 53.8h12.3v6.3h-12.3zM1208.3 53.8h12.3v6.3h-12.3zM699.8 59.8h18.2v6.3h-18.2zM1214.2 59.8h12.3v6.3h-12.3zM699.8 65.8h6.3v6.3h-6.3zM1220.2 65.8h6.3v6.3h-6.3zM1226.2 71.7h6.3v6.3h-6.3zM693.8 77.7h6.3v6.3h-6.3zM1226.2 77.7h6.3v6.3h-6.3zM693.8 83.7h6.3v6.3h-6.3zM693.8 89.7h6.3v6.3h-6.3zM1232.2 89.7h6.3v6.3h-6.3zM1232.2 95.7h6.3v6.3h-6.3zM1232.2 101.7h6.3v6.3h-6.3zM687.8 119.6h6.3v6.3h-6.3zM687.8 125.6h6.3v6.3h-6.3zM687.8 131.6h6.3v6.3h-6.3zM1238.2 131.6h6.3v6.3h-6.3zM687.8 137.5h6.3v6.3h-6.3zM1238.2 137.5h6.3v6.3h-6.3zM1238.2 143.5h6.3v6.3h-6.3zM1238.2 149.5h6.3v6.3h-6.3zM1238.2 155.5h6.3v6.3h-6.3zM687.8 299.1h6.3v6.3h-6.3zM1238.2 299.1h6.3v6.3h-6.3zM687.8 305.1h6.3v6.3h-6.3zM1238.2 305.1h6.3v6.3h-6.3zM687.8 311h6.3v6.3h-6.3zM1238.2 311h6.3v6.3h-6.3zM1010.8 335h12.3v6.3h-12.3zM1034.8 335h6.3v6.3h-6.3zM1232.2 335h6.3v6.3h-6.3zM693.8 340.9h6.3v6.3h-6.3zM1004.9 340.9h6.3v6.3h-6.3zM1040.8 340.9h6.3v6.3h-6.3zM1232.2 340.9h6.3v6.3h-6.3zM693.8 346.9h6.3v6.3h-6.3zM903.2 346.9h12.3v6.3h-12.3zM998.9 346.9h6.3v6.3h-6.3zM1046.7 346.9h6.3v6.3h-6.3zM699.8 352.9h6.3v6.3h-6.3zM843.3 352.9h12.3v6.3h-12.3zM903.2 352.9h6.3v6.3h-6.3zM915.1 352.9h6.3v6.3h-6.3zM992.9 352.9h6.3v6.3h-6.3zM1052.7 352.9h6.3v6.3h-6.3zM1124.5 352.9h24.2v6.3h-24.2zM1226.2 352.9h6.3v6.3h-6.3zM705.7 358.9h12.3v6.3h-12.3zM837.4 358.9h6.3v6.3h-6.3zM855.3 358.9h6.3v6.3h-6.3zM897.2 358.9h6.3v6.3h-6.3zM921.1 358.9h6.3v6.3h-6.3zM986.9 358.9h6.3v6.3h-6.3zM1058.7 358.9h12.3v6.3h-12.3zM1118.5 358.9h6.3v6.3h-6.3zM1142.5 358.9h12.3v6.3h-12.3zM1220.2 358.9h6.3v6.3h-6.3zM717.7 364.9h24.2v6.3h-24.2zM765.6 364.9h30.2v6.3h-30.2zM819.4 364.9h18.2v6.3h-18.2zM861.3 364.9h12.3v6.3h-12.3zM891.2 364.9h6.3v6.3h-6.3zM927.1 364.9h12.3v6.3h-12.3zM969 364.9h12.3v6.3h-12.3zM1070.7 364.9h12.3v6.3h-12.3zM1106.6 364.9h12.3v6.3h-12.3zM1154.4 364.9h6.3v6.3h-6.3zM1208.3 364.9h12.3v6.3h-12.3zM873.2 370.9h12.3v6.3h-12.3zM951 370.9h6.3v6.3h-6.3zM1088.6 370.9h24.2v6.3h-24.2zM1160.4 370.9h42.2v6.3h-42.2z"/>
<path fill="#f5f5ff" d="M951 35.8h24.2v6.3h-24.2zM915.1 41.8h12.3v6.3h-12.3zM1004.9 41.8h6.3v6.3h-6.3zM843.3 47.8h6.3v6.3h-6.3zM885.2 47.8h18.2v6.3h-18.2zM1022.8 47.8h18.2v6.3h-18.2zM1088.6 47.8h18.2v6.3h-18.2zM735.7 53.8h30.2v6.3h-30.2zM795.5 53.8h48.2v6.3h-48.2zM849.3 53.8h24.2v6.3h-24.2zM1046.7 53.8h42.2v6.3h-42.2zM1106.6 53.8h30.2v6.3h-30.2zM1148.4 53.8h60.1v6.3h-60.1zM717.7 59.8h24.2v6.3h-24.2zM765.6 59.8h36.2v6.3h-36.2zM1124.5 59.8h30.2v6.3h-30.2zM1202.3 59.8h12.3v6.3h-12.3zM705.7 65.8h18.2v6.3h-18.2zM1214.2 65.8h6.3v6.3h-6.3zM699.8 71.7h12.3v6.3h-12.3zM1220.2 71.7h6.3v6.3h-6.3zM699.8 77.7h6.3v6.3h-6.3zM1220.2 77.7h6.3v6.3h-6.3zM1226.2 83.7h6.3v6.3h-6.3zM1226.2 89.7h6.3v6.3h-6.3zM693.8 95.7h6.3v6.3h-6.3zM693.8 101.7h6.3v6.3h-6.3zM1232.2 107.6h6.3v6.3h-6.3zM1232.2 113.6h6.3v6.3h-6.3zM687.8 143.5h6.3v6.3h-6.3zM687.8 149.5h6.3v6.3h-6.3zM687.8 155.5h6.3v6.3h-6.3zM1238.2 161.5h6.3v6.3h-6.3zM1238.2 167.5h6.3v6.3h-6.3zM1238.2 173.4h6.3v6.3h-6.3zM1238.2 179.4h6.3v6.3h-6.3zM1238.2 185.4h6.3v6.3h-6.3zM1238.2 191.4h6.3v6.3h-6.3zM1238.2 269.2h6.3v6.3h-6.3zM1238.2 275.1h6.3v6.3h-6.3zM687.8 281.1h6.3v6.3h-6.3zM1238.2 281.1h6.3v6.3h-6.3zM687.8 287.1h6.3v6.3h-6.3zM1238.2 287.1h6.3v6.3h-6.3zM687.8 293.1h6.3v6.3h-6.3zM1238.2 293.1h6.3v6.3h-6.3zM1232.2 323h6.3v6.3h-6.3zM693.8 329h6.3v6.3h-6.3zM1016.8 329h24.2v6.3h-24.2zM1232.2 329h6.3v6.3h-6.3zM693.8 335h6.3v6.3h-6.3zM1004.9 335h6.3v6.3h-6.3zM1040.8 335h6.3v6.3h-6.3zM903.2 340.9h12.3v6.3h-12.3zM998.9 340.9h6.3v6.3h-6.3zM1046.7 340.9h6.3v6.3h-6.3zM1226.2 340.9h6.3v6.3h-6.3zM699.8 346.9h6.3v6.3h-6.3zM843.3 346.9h12.3v6.3h-12.3zM915.1 346.9h6.3v6.3h-6.3zM992.9 346.9h6.3v6.3h-6.3zM1052.7 346.9h6.3v6.3h-6.3zM1124.5 346.9h18.2v6.3h-18.2zM1226.2 346.9h6.3v6.3h-6.3zM705.7 352.9h12.3v6.3h-12.3zM837.4 352.9h6.3v6.3h-6.3zM855.3 352.9h6.3v6.3h-6.3zM897.2 352.9h6.3v6.3h-6.3zM921.1 352.9h6.3v6.3h-6.3zM986.9 352.9h6.3v6.3h-6.3zM1058.7 352.9h12.3v6.3h-12.3zM1118.5 352.9h6.3v6.3h-6.3zM1148.4 352.9h6.3v6.3h-6.3zM1220.2 352.9h6.3v6.3h-6.3zM717.7 358.9h18.2v6.3h-18.2zM825.4 358.9h12.3v6.3h-12.3zM861.3 358.9h6.3v6.3h-6.3zM891.2 358.9h6.3v6.3h-6.3zM927.1 358.9h6.3v6.3h-6.3zM974.9 358.9h12.3v6.3h-12.3zM1070.7 358.9h12.3v6.3h-12.3zM1112.5 358.9h6.3v6.3h-6.3zM1154.4 358.9h6.3v6.3h-6.3zM1214.2 358.9h6.3v6.3h-6.3zM741.6 364.9h24.2v6.3h-24.2zM795.5 364.9h24.2v6.3h-24.2zM873.2 364.9h18.2v6.3h-18.2zM939.1 364.9h30.2v6.3h-30.2zM1082.6 364.9h24.2v6.3h-24.2zM1160.4 364.9h48.2v6.3h-48.2z"/>
<path fill="#f3f3ff" d="M927.1 41.8h6.3v6.3h-6.3zM992.9 41.8h12.3v6.3h-12.3zM903.2 47.8h12.3v6.3h-12.3zM1016.8 47.8h6.3v6.3h-6.3zM843.3 53.8h6.3v6.3h-6.3zM873.2 53.8h24.2v6.3h-24.2zM1034.8 53.8h12.3v6.3h-12.3zM1088.6 53.8h18.2v6.3h-18.2zM741.6 59.8h24.2v6.3h-24.2zM801.5 59.8h42.2v6.3h-42.2zM855.3 59.8h12.3v6.3h-12.3zM1046.7 59.8h42.2v6.3h-42.2zM1106.6 59.8h18.2v6.3h-18.2zM1154.4 59.8h48.2v6.3h-48.2zM723.7 65.8h18.2v6.3h-18.2zM759.6 65.8h42.2v6.3h-42.2zM1118.5 65.8h36.2v6.3h-36.2zM1202.3 65.8h12.3v6.3h-12.3zM711.7 71.7h18.2v6.3h-18.2zM1214.2 71.7h6.3v6.3h-6.3zM705.7 77.7h6.3v6.3h-6.3zM1214.2 77.7h6.3v6.3h-6.3zM699.8 83.7h6.3v6.3h-6.3zM1220.2 83.7h6.3v6.3h-6.3zM699.8 89.7h6.3v6.3h-6.3zM1220.2 89.7h6.3v6.3h-6.3zM1226.2 95.7h6.3v6.3h-6.3zM1226.2 101.7h6.3v6.3h-6.3zM693.8 107.6h6.3v6.3h-6.3zM693.8 113.6h6.3v6.3h-6.3zM1232.2 119.6h6.3v6.3h-6.3zM1232.2 125.6h6.3v6.3h-6.3zM1232.2 131.6h6.3v6.3h-6.3zM687.8 161.5h6.3v6.3h-6.3zM687.8 167.5h6.3v6.3h-6.3zM687.8 173.4h6.3v6.3h-6.3zM687.8 179.4h6.3v6.3h-6.3zM687.8 185.4h6.3v6.3h-6.3zM687.8 191.4h6.3v6.3h-6.3zM1238.2 197.4h6.3v6.3h-6.3zM1238.2 203.4h6.3v6.3h-6.3zM1238.2 209.3h6.3v6.3h-6.3zM1238.2 215.3h6.3v6.3h-6.3zM687.8 221.3h6.3v6.3h-6.3zM1238.2 221.3h6.3v6.3h-6.3zM687.8 227.3h6.3v6.3h-6.3zM1238.2 227.3h6.3v6.3h-6.3zM687.8 233.3h6.3v6.3h-6.3zM1238.2 233.3h6.3v6.3h-6.3zM687.8 239.2h6.3v6.3h-6.3zM1238.2 239.2h6.3v6.3h-6.3zM687.8 245.2h6.3v6.3h-6.3zM1238.2 245.2h6.3v6.3h-6.3zM687.8 251.2h6.3v6.3h-6.3zM1238.2 251.2h6.3v6.3h-6.3zM687.8 257.2h6.3v6.3h-6.3zM1238.2 257.2h6.3v6.3h-6.3zM687.8 263.2h6.3v6.3h-6.3zM1238.2 263.2h6.3v6.3h-6.3zM687.8 269.2h6.3v6.3h-6.3zM687.8 275.1h6.3v6.3h-6.3zM693.8 317h6.3v6.3h-6.3zM1232.2 317h6.3v6.3h-6.3zM693.8 323h6.3v6.3h-6.3zM1022.8 323h12.3v6.3h-12.3zM1010.8 329h6.3v6.3h-6.3zM1040.8 329h6.3v6.3h-6.3zM903.2 335h12.3v6.3h-12.3zM1046.7 335h6.3v6.3h-6.3zM1226.2 335h6.3v6.3h-6.3zM699.8 340.9h6.3v6.3h-6.3zM843.3 340.9h12.3v6.3h-12.3zM915.1 340.9h6.3v6.3h-6.3zM1052.7 340.9h6.3v6.3h-6.3zM1130.5 340.9h12.3v6.3h-12.3zM705.7 346.9h12.3v6.3h-12.3zM837.4 346.9h6.3v6.3h-6.3zM855.3 346.9h6.3v6.3h-6.3zM897.2 346.9h6.3v6.3h-6.3zM1058.7 346.9h6.3v6.3h-6.3zM1118.5 346.9h6.3v6.3h-6.3zM1142.5 346.9h6.3v6.3h-6.3zM1220.2 346.9h6.3v6.3h-6.3zM717.7 352.9h12.3v6.3h-12.3zM831.4 352.9h6.3v6.3h-6.3zM861.3 352.9h6.3v6.3h-6.3zM980.9 352.9h6.3v6.3h-6.3zM1070.7 352.9h6.3v6.3h-6.3zM1112.5 352.9h6.3v6.3h-6.3zM1214.2 352.9h6.3v6.3h-6.3zM735.7 358.9h90v6.3h-90zM867.3 358.9h24.2v6.3h-24.2zM933.1 358.9h12.3v6.3h-12.3zM963 358.9h12.3v6.3h-12.3zM1082.6 358.9h6.3v6.3h-6.3zM1100.6 358.9h12.3v6.3h-12.3zM1160.4 358.9h6.3v6.3h-6.3zM1202.3 358.9h12.3v6.3h-12.3z"/>
<path fill="#f1f1ff" d="M933.1 41.8h6.3v6.3h-6.3zM986.9 41.8h6.3v6.3h-6.3zM915.1 47.8h6.3v6.3h-6.3zM1010.8 47.8h6.3v6.3h-6.3zM897.2 53.8h6.3v6.3h-6.3zM1028.8 53.8h6.3v6.3h-6.3zM843.3 59.8h12.3v6.3h-12.3zM867.3 59.8h18.2v6.3h-18.2zM1034.8 59.8h12.3v6.3h-12.3zM1088.6 59.8h18.2v6.3h-18.2zM741.6 65.8h18.2v6.3h-18.2zM801.5 65.8h42.2v6.3h-42.2zM855.3 65.8h12.3v6.3h-12.3zM1046.7 65.8h42.2v6.3h-42.2zM1106.6 65.8h12.3v6.3h-12.3zM1154.4 65.8h48.2v6.3h-48.2zM729.7 71.7h18.2v6.3h-18.2zM759.6 71.7h42.2v6.3h-42.2zM1118.5 71.7h36.2v6.3h-36.2zM1196.3 71.7h18.2v6.3h-18.2zM711.7 77.7h18.2v6.3h-18.2zM1208.3 77.7h6.3v6.3h-6.3zM705.7 83.7h12.3v6.3h-12.3zM1214.2 83.7h6.3v6.3h-6.3zM705.7 89.7h6.3v6.3h-6.3zM699.8 95.7h6.3v6.3h-6.3zM1220.2 95.7h6.3v6.3h-6.3zM1226.2 107.6h6.3v6.3h-6.3zM1226.2 113.6h6.3v6.3h-6.3zM693.8 119.6h6.3v6.3h-6.3zM1232.2 137.5h6.3v6.3h-6.3zM1232.2 143.5h6.3v6.3h-6.3zM687.8 197.4h6.3v6.3h-6.3zM687.8 203.4h6.3v6.3h-6.3zM687.8 209.3h6.3v6.3h-6.3zM687.8 215.3h6.3v6.3h-6.3zM1232.2 305.1h6.3v6.3h-6.3zM693.8 311h6.3v6.3h-6.3zM1232.2 311h6.3v6.3h-6.3zM1010.8 323h12.3v6.3h-12.3zM1034.8 323h12.3v6.3h-12.3zM699.8 329h6.3v6.3h-6.3zM1004.9 329h6.3v6.3h-6.3zM1046.7 329h6.3v6.3h-6.3zM1226.2 329h6.3v6.3h-6.3zM699.8 335h6.3v6.3h-6.3zM998.9 335h6.3v6.3h-6.3zM1052.7 335h6.3v6.3h-6.3zM1130.5 335h12.3v6.3h-12.3zM705.7 340.9h12.3v6.3h-12.3zM837.4 340.9h6.3v6.3h-6.3zM855.3 340.9h6.3v6.3h-6.3zM897.2 340.9h6.3v6.3h-6.3zM992.9 340.9h6.3v6.3h-6.3zM1058.7 340.9h6.3v6.3h-6.3zM1124.5 340.9h6.3v6.3h-6.3zM1142.5 340.9h6.3v6.3h-6.3zM1220.2 340.9h6.3v6.3h-6.3zM717.7 346.9h12.3v6.3h-12.3zM831.4 346.9h6.3v6.3h-6.3zM861.3 346.9h6.3v6.3h-6.3zM921.1 346.9h6.3v6.3h-6.3zM986.9 346.9h6.3v6.3h-6.3zM1064.7 346.9h6.3v6.3h-6.3zM1148.4 346.9h6.3v6.3h-6.3zM729.7 352.9h12.3v6.3h-12.3zM777.5 352.9h12.3v6.3h-12.3zM819.4 352.9h12.3v6.3h-12.3zM867.3 352.9h6.3v6.3h-6.3zM891.2 352.9h6.3v6.3h-6.3zM927.1 352.9h6.3v6.3h-6.3zM974.9 352.9h6.3v6.3h-6.3zM1076.6 352.9h6.3v6.3h-6.3zM1154.4 352.9h6.3v6.3h-6.3zM1208.3 352.9h6.3v6.3h-6.3zM945 358.9h18.2v6.3h-18.2zM1088.6 358.9h12.3v6.3h-12.3zM1166.4 358.9h36.2v6.3h-36.2z"/>
<path fill="#efefff" d="M939.1 41.8h12.3v6.3h-12.3zM974.9 41.8h12.3v6.3h-12.3zM903.2 53.8h6.3v6.3h-6.3zM1022.8 53.8h6.3v6.3h-6.3zM885.2 59.8h12.3v6.3h-12.3zM843.3 65.8h12.3v6.3h-12.3zM867.3 65.8h12.3v6.3h-12.3zM1040.8 65.8h6.3v6.3h-6.3zM1088.6 65.8h18.2v6.3h-18.2zM747.6 71.7h12.3v6.3h-12.3zM801.5 71.7h42.2v6.3h-42.2zM855.3 71.7h12.3v6.3h-12.3zM1046.7 71.7h42.2v6.3h-42.2zM1106.6 71.7h12.3v6.3h-12.3zM1154.4 71.7h42.2v6.3h-42.2zM729.7 77.7h78.1v6.3h-78.1zM819.4 77.7h6.3v6.3h-6.3zM1118.5 77.7h36.2v6.3h-36.2zM1190.3 77.7h18.2v6.3h-18.2zM717.7 83.7h18.2v6.3h-18.2zM771.5 83.7h18.2v6.3h-18.2zM1208.3 83.7h6.3v6.3h-6.3zM711.7 89.7h12.3v6.3h-12.3zM1214.2 89.7h6.3v6.3h-6.3zM705.7 95.7h6.3v6.3h-6.3zM699.8 101.7h6.3v6.3h-6.3zM1220.2 101.7h6.3v6.3h-6.3zM1226.2 119.6h6.3v6.3h-6.3zM693.8 125.6h6.3v6.3h-6.3zM693.8 131.6h6.3v6.3h-6.3zM1232.2 149.5h6.3v6.3h-6.3zM1232.2 155.5h6.3v6.3h-6.3zM1232.2 161.5h6.3v6.3h-6.3zM1232.2 293.1h6.3v6.3h-6.3zM1232.2 299.1h6.3v6.3h-6.3zM693.8 305.1h6.3v6.3h-6.3zM1022.8 317h18.2v6.3h-18.2zM699.8 323h6.3v6.3h-6.3zM1226.2 323h6.3v6.3h-6.3zM705.7 329h6.3v6.3h-6.3zM903.2 329h12.3v6.3h-12.3zM998.9 329h6.3v6.3h-6.3zM1052.7 329h6.3v6.3h-6.3zM705.7 335h18.2v6.3h-18.2zM843.3 335h12.3v6.3h-12.3zM897.2 335h6.3v6.3h-6.3zM915.1 335h6.3v6.3h-6.3zM992.9 335h6.3v6.3h-6.3zM1058.7 335h6.3v6.3h-6.3zM1124.5 335h6.3v6.3h-6.3zM1142.5 335h6.3v6.3h-6.3zM1220.2 335h6.3v6.3h-6.3zM717.7 340.9h12.3v6.3h-12.3zM986.9 340.9h6.3v6.3h-6.3zM1064.7 340.9h6.3v6.3h-6.3zM1118.5 340.9h6.3v6.3h-6.3zM1148.4 340.9h6.3v6.3h-6.3zM729.7 346.9h6.3v6.3h-6.3zM825.4 346.9h6.3v6.3h-6.3zM891.2 346.9h6.3v6.3h-6.3zM980.9 346.9h6.3v6.3h-6.3zM1070.7 346.9h6.3v6.3h-6.3zM1112.5 346.9h6.3v6.3h-6.3zM1154.4 346.9h6.3v6.3h-6.3zM1214.2 346.9h6.3v6.3h-6.3zM741.6 352.9h36.2v6.3h-36.2zM789.5 352.9h30.2v6.3h-30.2zM873.2 352.9h18.2v6.3h-18.2zM933.1 352.9h6.3v6.3h-6.3zM969 352.9h6.3v6.3h-6.3zM1082.6 352.9h6.3v6.3h-6.3zM1106.6 352.9h6.3v6.3h-6.3zM1160.4 352.9h6.3v6.3h-6.3zM1202.3 352.9h6.3v6.3h-6.3z"/>
<path fill="#ededff" d="M951 41.8h24.2v6.3h-24.2zM921.1 47.8h6.3v6.3h-6.3zM1004.9 47.8h6.3v6.3h-6.3zM909.1 53.8h6.3v6.3h-6.3zM1016.8 53.8h6.3v6.3h-6.3zM897.2 59.8h6.3v6.3h-6.3zM1028.8 59.8h6.3v6.3h-6.3zM879.2 65.8h12.3v6.3h-12.3zM1034.8 65.8h6.3v6.3h-6.3zM843.3 71.7h12.3v6.3h-12.3zM867.3 71.7h6.3v6.3h-6.3zM1040.8 71.7h6.3v6.3h-6.3zM1088.6 71.7h18.2v6.3h-18.2zM807.4 77.7h12.3v6.3h-12.3zM825.4 77.7h18.2v6.3h-18.2zM855.3 77.7h12.3v6.3h-12.3zM1046.7 77.7h42.2v6.3h-42.2zM1106.6 77.7h12.3v6.3h-12.3zM1154.4 77.7h36.2v6.3h-36.2zM735.7 83.7h36.2v6.3h-36.2zM789.5 83.7h18.2v6.3h-18.2zM819.4 83.7h12.3v6.3h-12.3zM1064.7 83.7h6.3v6.3h-6.3zM1118.5 83.7h42.2v6.3h-42.2zM1190.3 83.7h18.2v6.3h-18.2zM723.7 89.7h12.3v6.3h-12.3zM771.5 89.7h18.2v6.3h-18.2zM1208.3 89.7h6.3v6.3h-6.3zM711.7 95.7h12.3v6.3h-12.3zM1214.2 95.7h6.3v6.3h-6.3zM705.7 101.7h6.3v6.3h-6.3zM1214.2 101.7h6.3v6.3h-6.3zM699.8 107.6h6.3v6.3h-6.3zM1220.2 107.6h6.3v6.3h-6.3zM699.8 113.6h6.3v6.3h-6.3zM1220.2 113.6h6.3v6.3h-6.3zM1226.2 125.6h6.3v6.3h-6.3zM1226.2 131.6h6.3v6.3h-6.3zM693.8 137.5h6.3v6.3h-6.3zM1232.2 167.5h6.3v6.3h-6.3zM1232.2 173.4h6.3v6.3h-6.3zM1232.2 179.4h6.3v6.3h-6.3zM1232.2 281.1h6.3v6.3h-6.3zM1232.2 287.1h6.3v6.3h-6.3zM693.8 293.1h6.3v6.3h-6.3zM693.8 299.1h6.3v6.3h-6.3zM1226.2 311h6.3v6.3h-6.3zM699.8 317h6.3v6.3h-6.3zM1016.8 317h6.3v6.3h-6.3zM1040.8 317h6.3v6.3h-6.3zM1226.2 317h6.3v6.3h-6.3zM705.7 323h12.3v6.3h-12.3zM909.1 323h6.3v6.3h-6.3zM1004.9 323h6.3v6.3h-6.3zM1046.7 323h6.3v6.3h-6.3zM711.7 329h12.3v6.3h-12.3zM843.3 329h12.3v6.3h-12.3zM915.1 329h6.3v6.3h-6.3zM1130.5 329h12.3v6.3h-12.3zM1220.2 329h6.3v6.3h-6.3zM723.7 335h6.3v6.3h-6.3zM837.4 335h6.3v6.3h-6.3zM855.3 335h6.3v6.3h-6.3zM729.7 340.9h6.3v6.3h-6.3zM831.4 340.9h6.3v6.3h-6.3zM861.3 340.9h6.3v6.3h-6.3zM891.2 340.9h6.3v6.3h-6.3zM921.1 340.9h6.3v6.3h-6.3zM1070.7 340.9h6.3v6.3h-6.3zM1214.2 340.9h6.3v6.3h-6.3zM735.7 346.9h12.3v6.3h-12.3zM771.5 346.9h24.2v6.3h-24.2zM819.4 346.9h6.3v6.3h-6.3zM867.3 346.9h6.3v6.3h-6.3zM885.2 346.9h6.3v6.3h-6.3zM927.1 346.9h6.3v6.3h-6.3zM1076.6 346.9h6.3v6.3h-6.3zM1208.3 346.9h6.3v6.3h-6.3zM939.1 352.9h6.3v6.3h-6.3zM963 352.9h6.3v6.3h-6.3zM1088.6 352.9h18.2v6.3h-18.2zM1166.4 352.9h6.3v6.3h-6.3zM1178.3 352.9h24.2v6.3h-24.2z"/>
<path fill="#ebebff" d="M998.9 47.8h6.3v6.3h-6.3zM1022.8 59.8h6.3v6.3h-6.3zM891.2 65.8h6.3v6.3h-6.3zM1028.8 65.8h6.3v6.3h-6.3zM873.2 71.7h12.3v6.3h-12.3zM1034.8 71.7h6.3v6.3h-6.3zM843.3 77.7h12.3v6.3h-12.3zM867.3 77.7h6.3v6.3h-6.3zM1040.8 77.7h6.3v6.3h-6.3zM1088.6 77.7h18.2v6.3h-18.2zM807.4 83.7h12.3v6.3h-12.3zM831.4 83.7h6.3v6.3h-6.3zM855.3 83.7h6.3v6.3h-6.3zM1046.7 83.7h18.2v6.3h-18.2zM1070.7 83.7h18.2v6.3h-18.2zM1106.6 83.7h12.3v6.3h-12.3zM1160.4 83.7h30.2v6.3h-30.2zM735.7 89.7h36.2v6.3h-36.2zM789.5 89.7h18.2v6.3h-18.2zM819.4 89.7h12.3v6.3h-12.3zM1064.7 89.7h6.3v6.3h-6.3zM1118.5 89.7h42.2v6.3h-42.2zM1190.3 89.7h18.2v6.3h-18.2zM723.7 95.7h12.3v6.3h-12.3zM771.5 95.7h18.2v6.3h-18.2zM1208.3 95.7h6.3v6.3h-6.3zM711.7 101.7h12.3v6.3h-12.3zM705.7 107.6h6.3v6.3h-6.3zM1214.2 107.6h6.3v6.3h-6.3zM699.8 119.6h6.3v6.3h-6.3zM1220.2 119.6h6.3v6.3h-6.3zM1226.2 137.5h6.3v6.3h-6.3zM693.8 143.5h6.3v6.3h-6.3zM1226.2 143.5h6.3v6.3h-6.3zM693.8 149.5h6.3v6.3h-6.3zM1232.2 185.4h6.3v6.3h-6.3zM1232.2 191.4h6.3v6.3h-6.3zM1232.2 197.4h6.3v6.3h-6.3zM1232.2 203.4h6.3v6.3h-6.3zM1232.2 269.2h6.3v6.3h-6.3zM1232.2 275.1h6.3v6.3h-6.3zM693.8 287.1h6.3v6.3h-6.3zM1226.2 305.1h6.3v6.3h-6.3zM699.8 311h6.3v6.3h-6.3zM705.7 317h18.2v6.3h-18.2zM1010.8 317h6.3v6.3h-6.3zM1046.7 317h6.3v6.3h-6.3zM717.7 323h12.3v6.3h-12.3zM903.2 323h6.3v6.3h-6.3zM1052.7 323h6.3v6.3h-6.3zM1130.5 323h12.3v6.3h-12.3zM1220.2 323h6.3v6.3h-6.3zM723.7 329h6.3v6.3h-6.3zM855.3 329h6.3v6.3h-6.3zM897.2 329h6.3v6.3h-6.3zM992.9 329h6.3v6.3h-6.3zM1058.7 329h6.3v6.3h-6.3zM1124.5 329h6.3v6.3h-6.3zM1142.5 329h6.3v6.3h-6.3zM729.7 335h6.3v6.3h-6.3zM831.4 335h6.3v6.3h-6.3zM1064.7 335h6.3v6.3h-6.3zM1118.5 335h6.3v6.3h-6.3zM1148.4 335h6.3v6.3h-6.3zM1214.2 335h6.3v6.3h-6.3zM735.7 340.9h6.3v6.3h-6.3zM825.4 340.9h6.3v6.3h-6.3zM1112.5 340.9h6.3v6.3h-6.3zM1154.4 340.9h6.3v6.3h-6.3zM747.6 346.9h24.2v6.3h-24.2zM795.5 346.9h24.2v6.3h-24.2zM873.2 346.9h12.3v6.3h-12.3zM974.9 346.9h6.3v6.3h-6.3zM1082.6 346.9h6.3v6.3h-6.3zM1106.6 346.9h6.3v6.3h-6.3zM1160.4 346.9h6.3v6.3h-6.3zM1202.3 346.9h6.3v6.3h-6.3zM945 352.9h18.2v6.3h-18.2zM1172.4 352.9h6.3v6.3h-6.3z"/>
<path fill="#e9e9ff" d="M927.1 47.8h6.3v6.3h-6.3zM1010.8 53.8h6.3v6.3h-6.3zM903.2 59.8h6.3v6.3h-6.3zM897.2 65.8h6.3v6.3h-6.3zM885.2 71.7h6.3v6.3h-6.3zM873.2 77.7h12.3v6.3h-12.3zM837.4 83.7h18.2v6.3h-18.2zM861.3 83.7h12.3v6.3h-12.3zM1088.6 83.7h18.2v6.3h-18.2zM807.4 89.7h12.3v6.3h-12.3zM831.4 89.7h6.3v6.3h-6.3zM1052.7 89.7h12.3v6.3h-12.3zM1070.7 89.7h18.2v6.3h-18.2zM1106.6 89.7h12.3v6.3h-12.3zM1160.4 89.7h6.3v6.3h-6.3zM1178.3 89.7h12.3v6.3h-12.3zM735.7 95.7h36.2v6.3h-36.2zM789.5 95.7h18.2v6.3h-18.2zM819.4 95.7h6.3v6.3h-6.3zM1118.5 95.7h36.2v6.3h-36.2zM1196.3 95.7h12.3v6.3h-12.3zM723.7 101.7h12.3v6.3h-12.3zM771.5 101.7h18.2v6.3h-18.2zM1208.3 101.7h6.3v6.3h-6.3zM711.7 107.6h12.3v6.3h-12.3zM705.7 113.6h6.3v6.3h-6.3zM1214.2 113.6h6.3v6.3h-6.3zM699.8 125.6h6.3v6.3h-6.3zM1220.2 125.6h6.3v6.3h-6.3zM1220.2 131.6h6.3v6.3h-6.3zM1118.5 137.5h12.3v6.3h-12.3zM1124.5 143.5h6.3v6.3h-6.3zM1226.2 149.5h6.3v6.3h-6.3zM693.8 155.5h6.3v6.3h-6.3zM1226.2 155.5h6.3v6.3h-6.3zM1232.2 209.3h6.3v6.3h-6.3zM1232.2 215.3h6.3v6.3h-6.3zM1232.2 221.3h6.3v6.3h-6.3zM1232.2 227.3h6.3v6.3h-6.3zM1232.2 233.3h6.3v6.3h-6.3zM1232.2 239.2h6.3v6.3h-6.3zM1232.2 245.2h6.3v6.3h-6.3zM1232.2 251.2h6.3v6.3h-6.3zM1232.2 257.2h6.3v6.3h-6.3zM1232.2 263.2h6.3v6.3h-6.3zM693.8 275.1h6.3v6.3h-6.3zM693.8 281.1h6.3v6.3h-6.3zM1226.2 299.1h6.3v6.3h-6.3zM699.8 305.1h6.3v6.3h-6.3zM705.7 311h18.2v6.3h-18.2zM1022.8 311h24.2v6.3h-24.2zM723.7 317h6.3v6.3h-6.3zM1004.9 317h6.3v6.3h-6.3zM1220.2 317h6.3v6.3h-6.3zM729.7 323h6.3v6.3h-6.3zM843.3 323h12.3v6.3h-12.3zM915.1 323h6.3v6.3h-6.3zM998.9 323h6.3v6.3h-6.3zM1058.7 323h6.3v6.3h-6.3zM1124.5 323h6.3v6.3h-6.3zM1142.5 323h6.3v6.3h-6.3zM729.7 329h6.3v6.3h-6.3zM837.4 329h6.3v6.3h-6.3zM1064.7 329h6.3v6.3h-6.3zM1118.5 329h6.3v6.3h-6.3zM1148.4 329h6.3v6.3h-6.3zM735.7 335h6.3v6.3h-6.3zM825.4 335h6.3v6.3h-6.3zM861.3 335h6.3v6.3h-6.3zM891.2 335h6.3v6.3h-6.3zM921.1 335h6.3v6.3h-6.3zM986.9 335h6.3v6.3h-6.3zM1070.7 335h6.3v6.3h-6.3zM741.6 340.9h12.3v6.3h-12.3zM765.6 340.9h30.2v6.3h-30.2zM819.4 340.9h6.3v6.3h-6.3zM867.3 340.9h6.3v6.3h-6.3zM885.2 340.9h6.3v6.3h-6.3zM980.9 340.9h6.3v6.3h-6.3zM1076.6 340.9h6.3v6.3h-6.3zM1208.3 340.9h6.3v6.3h-6.3zM933.1 346.9h6.3v6.3h-6.3zM1088.6 346.9h18.2v6.3h-18.2zM1166.4 346.9h6.3v6.3h-6.3zM1184.3 346.9h18.2v6.3h-18.2z"/>
<path fill="#e7e7ff" d="M992.9 47.8h6.3v6.3h-6.3zM915.1 53.8h6.3v6.3h-6.3zM1016.8 59.8h6.3v6.3h-6.3zM1022.8 65.8h6.3v6.3h-6.3zM891.2 71.7h6.3v6.3h-6.3zM1028.8 71.7h6.3v6.3h-6.3zM885.2 77.7h6.3v6.3h-6.3zM1034.8 77.7h6.3v6.3h-6.3zM873.2 83.7h6.3v6.3h-6.3zM1040.8 83.7h6.3v6.3h-6.3zM837.4 89.7h30.2v6.3h-30.2zM1046.7 89.7h6.3v6.3h-6.3zM1088.6 89.7h18.2v6.3h-18.2zM1166.4 89.7h12.3v6.3h-12.3zM807.4 95.7h12.3v6.3h-12.3zM825.4 95.7h12.3v6.3h-12.3zM1052.7 95.7h30.2v6.3h-30.2zM1112.5 95.7h6.3v6.3h-6.3zM1154.4 95.7h12.3v6.3h-12.3zM1178.3 95.7h18.2v6.3h-18.2zM735.7 101.7h12.3v6.3h-12.3zM759.6 101.7h12.3v6.3h-12.3zM789.5 101.7h12.3v6.3h-12.3zM1118.5 101.7h36.2v6.3h-36.2zM1202.3 101.7h6.3v6.3h-6.3zM723.7 107.6h12.3v6.3h-12.3zM771.5 107.6h18.2v6.3h-18.2zM1208.3 107.6h6.3v6.3h-6.3zM711.7 113.6h12.3v6.3h-12.3zM705.7 119.6h6.3v6.3h-6.3zM1214.2 119.6h6.3v6.3h-6.3zM699.8 131.6h6.3v6.3h-6.3zM1118.5 131.6h12.3v6.3h-12.3zM1130.5 137.5h6.3v6.3h-6.3zM1220.2 137.5h6.3v6.3h-6.3zM1118.5 143.5h6.3v6.3h-6.3zM693.8 161.5h6.3v6.3h-6.3zM1226.2 161.5h6.3v6.3h-6.3zM693.8 167.5h6.3v6.3h-6.3zM1226.2 167.5h6.3v6.3h-6.3zM693.8 245.2h6.3v6.3h-6.3zM693.8 251.2h6.3v6.3h-6.3zM693.8 257.2h6.3v6.3h-6.3zM693.8 263.2h6.3v6.3h-6.3zM693.8 269.2h6.3v6.3h-6.3zM1226.2 293.1h6.3v6.3h-6.3zM699.8 299.1h6.3v6.3h-6.3zM705.7 305.1h12.3v6.3h-12.3zM723.7 311h6.3v6.3h-6.3zM1016.8 311h6.3v6.3h-6.3zM1046.7 311h6.3v6.3h-6.3zM1220.2 311h6.3v6.3h-6.3zM729.7 317h6.3v6.3h-6.3zM903.2 317h12.3v6.3h-12.3zM1052.7 317h6.3v6.3h-6.3zM1130.5 317h12.3v6.3h-12.3zM735.7 323h6.3v6.3h-6.3zM837.4 323h6.3v6.3h-6.3zM855.3 323h6.3v6.3h-6.3zM897.2 323h6.3v6.3h-6.3zM735.7 329h6.3v6.3h-6.3zM831.4 329h6.3v6.3h-6.3zM861.3 329h6.3v6.3h-6.3zM891.2 329h6.3v6.3h-6.3zM1214.2 329h6.3v6.3h-6.3zM741.6 335h6.3v6.3h-6.3zM819.4 335h6.3v6.3h-6.3zM1112.5 335h6.3v6.3h-6.3zM1154.4 335h6.3v6.3h-6.3zM753.6 340.9h12.3v6.3h-12.3zM795.5 340.9h24.2v6.3h-24.2zM873.2 340.9h12.3v6.3h-12.3zM927.1 340.9h6.3v6.3h-6.3zM1106.6 340.9h6.3v6.3h-6.3zM1160.4 340.9h6.3v6.3h-6.3zM1202.3 340.9h6.3v6.3h-6.3zM969 346.9h6.3v6.3h-6.3zM1172.4 346.9h12.3v6.3h-12.3z"/>
<path fill="#e5e5ff" d="M933.1 47.8h6.3v6.3h-6.3zM986.9 47.8h6.3v6.3h-6.3zM909.1 59.8h6.3v6.3h-6.3zM903.2 65.8h6.3v6.3h-6.3zM897.2 71.7h6.3v6.3h-6.3zM891.2 77.7h6.3v6.3h-6.3zM879.2 83.7h6.3v6.3h-6.3zM1034.8 83.7h6.3v6.3h-6.3zM867.3 89.7h6.3v6.3h-6.3zM1040.8 89.7h6.3v6.3h-6.3zM837.4 95.7h30.2v6.3h-30.2zM1046.7 95.7h6.3v6.3h-6.3zM1082.6 95.7h30.2v6.3h-30.2zM1166.4 95.7h12.3v6.3h-12.3zM747.6 101.7h12.3v6.3h-12.3zM801.5 101.7h36.2v6.3h-36.2zM1052.7 101.7h30.2v6.3h-30.2zM1112.5 101.7h6.3v6.3h-6.3zM1154.4 101.7h6.3v6.3h-6.3zM1184.3 101.7h18.2v6.3h-18.2zM735.7 107.6h6.3v6.3h-6.3zM759.6 107.6h12.3v6.3h-12.3zM789.5 107.6h12.3v6.3h-12.3zM1118.5 107.6h36.2v6.3h-36.2zM1202.3 107.6h6.3v6.3h-6.3zM723.7 113.6h12.3v6.3h-12.3zM771.5 113.6h18.2v6.3h-18.2zM1124.5 113.6h12.3v6.3h-12.3zM1208.3 113.6h6.3v6.3h-6.3zM711.7 119.6h12.3v6.3h-12.3zM1124.5 119.6h6.3v6.3h-6.3zM705.7 125.6h6.3v6.3h-6.3zM1118.5 125.6h18.2v6.3h-18.2zM1214.2 125.6h6.3v6.3h-6.3zM1112.5 131.6h6.3v6.3h-6.3zM1130.5 131.6h6.3v6.3h-6.3zM699.8 137.5h6.3v6.3h-6.3zM1112.5 137.5h6.3v6.3h-6.3zM1112.5 143.5h6.3v6.3h-6.3zM1130.5 143.5h6.3v6.3h-6.3zM1220.2 143.5h6.3v6.3h-6.3zM1124.5 149.5h6.3v6.3h-6.3zM1220.2 149.5h6.3v6.3h-6.3zM693.8 173.4h6.3v6.3h-6.3zM1226.2 173.4h6.3v6.3h-6.3zM693.8 179.4h6.3v6.3h-6.3zM1226.2 179.4h6.3v6.3h-6.3zM693.8 185.4h6.3v6.3h-6.3zM693.8 191.4h6.3v6.3h-6.3zM693.8 197.4h6.3v6.3h-6.3zM693.8 203.4h6.3v6.3h-6.3zM693.8 209.3h6.3v6.3h-6.3zM693.8 215.3h6.3v6.3h-6.3zM693.8 221.3h6.3v6.3h-6.3zM693.8 227.3h6.3v6.3h-6.3zM693.8 233.3h6.3v6.3h-6.3zM693.8 239.2h6.3v6.3h-6.3zM1226.2 281.1h6.3v6.3h-6.3zM1226.2 287.1h6.3v6.3h-6.3zM699.8 293.1h6.3v6.3h-6.3zM705.7 299.1h6.3v6.3h-6.3zM717.7 305.1h12.3v6.3h-12.3zM1220.2 305.1h6.3v6.3h-6.3zM729.7 311h6.3v6.3h-6.3zM1010.8 311h6.3v6.3h-6.3zM735.7 317h6.3v6.3h-6.3zM849.3 317h6.3v6.3h-6.3zM998.9 317h6.3v6.3h-6.3zM1058.7 317h6.3v6.3h-6.3zM1124.5 317h6.3v6.3h-6.3zM1142.5 317h6.3v6.3h-6.3zM992.9 323h6.3v6.3h-6.3zM1064.7 323h6.3v6.3h-6.3zM1118.5 323h6.3v6.3h-6.3zM1148.4 323h6.3v6.3h-6.3zM1214.2 323h6.3v6.3h-6.3zM741.6 329h6.3v6.3h-6.3zM825.4 329h6.3v6.3h-6.3zM921.1 329h6.3v6.3h-6.3zM986.9 329h6.3v6.3h-6.3zM1070.7 329h6.3v6.3h-6.3zM1154.4 329h6.3v6.3h-6.3zM747.6 335h54.1v6.3h-54.1zM813.4 335h6.3v6.3h-6.3zM867.3 335h6.3v6.3h-6.3zM885.2 335h6.3v6.3h-6.3zM1076.6 335h6.3v6.3h-6.3zM1208.3 335h6.3v6.3h-6.3zM974.9 340.9h6.3v6.3h-6.3zM1082.6 340.9h6.3v6.3h-6.3zM1166.4 340.9h6.3v6.3h-6.3zM1196.3 340.9h6.3v6.3h-6.3zM939.1 346.9h6.3v6.3h-6.3z"/>
<path fill="#e3e3ff" d="M921.1 53.8h6.3v6.3h-6.3zM1004.9 53.8h6.3v6.3h-6.3zM1022.8 71.7h6.3v6.3h-6.3zM1028.8 77.7h6.3v6.3h-6.3zM885.2 83.7h6.3v6.3h-6.3zM873.2 89.7h12.3v6.3h-12.3zM867.3 95.7h6.3v6.3h-6.3zM1040.8 95.7h6.3v6.3h-6.3zM837.4 101.7h6.3v6.3h-6.3zM849.3 101.7h18.2v6.3h-18.2zM1046.7 101.7h6.3v6.3h-6.3zM1082.6 101.7h12.3v6.3h-12.3zM1100.6 101.7h12.3v6.3h-12.3zM1160.4 101.7h24.2v6.3h-24.2zM741.6 107.6h18.2v6.3h-18.2zM801.5 107.6h30.2v6.3h-30.2zM1064.7 107.6h12.3v6.3h-12.3zM1112.5 107.6h6.3v6.3h-6.3zM1154.4 107.6h6.3v6.3h-6.3zM1184.3 107.6h18.2v6.3h-18.2zM735.7 113.6h6.3v6.3h-6.3zM759.6 113.6h12.3v6.3h-12.3zM789.5 113.6h12.3v6.3h-12.3zM1118.5 113.6h6.3v6.3h-6.3zM1136.5 113.6h18.2v6.3h-18.2zM1202.3 113.6h6.3v6.3h-6.3zM723.7 119.6h12.3v6.3h-12.3zM771.5 119.6h18.2v6.3h-18.2zM1118.5 119.6h6.3v6.3h-6.3zM1130.5 119.6h12.3v6.3h-12.3zM1208.3 119.6h6.3v6.3h-6.3zM711.7 125.6h12.3v6.3h-12.3zM1112.5 125.6h6.3v6.3h-6.3zM1136.5 125.6h6.3v6.3h-6.3zM705.7 131.6h6.3v6.3h-6.3zM1136.5 131.6h6.3v6.3h-6.3zM1214.2 131.6h6.3v6.3h-6.3zM1136.5 137.5h6.3v6.3h-6.3zM699.8 143.5h6.3v6.3h-6.3zM1118.5 149.5h6.3v6.3h-6.3zM1220.2 155.5h6.3v6.3h-6.3zM1226.2 185.4h6.3v6.3h-6.3zM1226.2 191.4h6.3v6.3h-6.3zM1226.2 197.4h6.3v6.3h-6.3zM1226.2 275.1h6.3v6.3h-6.3zM699.8 287.1h6.3v6.3h-6.3zM711.7 299.1h12.3v6.3h-12.3zM1220.2 299.1h6.3v6.3h-6.3zM1022.8 305.1h24.2v6.3h-24.2zM1052.7 311h6.3v6.3h-6.3zM1130.5 311h12.3v6.3h-12.3zM837.4 317h12.3v6.3h-12.3zM855.3 317h6.3v6.3h-6.3zM897.2 317h6.3v6.3h-6.3zM915.1 317h6.3v6.3h-6.3zM1064.7 317h6.3v6.3h-6.3zM1148.4 317h6.3v6.3h-6.3zM1214.2 317h6.3v6.3h-6.3zM741.6 323h6.3v6.3h-6.3zM825.4 323h12.3v6.3h-12.3zM861.3 323h6.3v6.3h-6.3zM891.2 323h6.3v6.3h-6.3zM747.6 329h6.3v6.3h-6.3zM765.6 329h24.2v6.3h-24.2zM819.4 329h6.3v6.3h-6.3zM867.3 329h6.3v6.3h-6.3zM885.2 329h6.3v6.3h-6.3zM1112.5 329h6.3v6.3h-6.3zM1208.3 329h6.3v6.3h-6.3zM801.5 335h12.3v6.3h-12.3zM873.2 335h12.3v6.3h-12.3zM927.1 335h6.3v6.3h-6.3zM980.9 335h6.3v6.3h-6.3zM1106.6 335h6.3v6.3h-6.3zM1160.4 335h6.3v6.3h-6.3zM1202.3 335h6.3v6.3h-6.3zM1088.6 340.9h18.2v6.3h-18.2zM1172.4 340.9h24.2v6.3h-24.2zM945 346.9h6.3v6.3h-6.3zM963 346.9h6.3v6.3h-6.3z"/>
<path fill="#e1e1ff" d="M939.1 47.8h6.3v6.3h-6.3zM980.9 47.8h6.3v6.3h-6.3zM1010.8 59.8h6.3v6.3h-6.3zM1016.8 65.8h6.3v6.3h-6.3zM903.2 71.7h6.3v6.3h-6.3zM897.2 77.7h6.3v6.3h-6.3zM891.2 83.7h6.3v6.3h-6.3zM1034.8 89.7h6.3v6.3h-6.3zM873.2 95.7h6.3v6.3h-6.3zM843.3 101.7h6.3v6.3h-6.3zM867.3 101.7h6.3v6.3h-6.3zM1094.6 101.7h6.3v6.3h-6.3zM831.4 107.6h12.3v6.3h-12.3zM855.3 107.6h6.3v6.3h-6.3zM1052.7 107.6h12.3v6.3h-12.3zM1076.6 107.6h6.3v6.3h-6.3zM1106.6 107.6h6.3v6.3h-6.3zM1160.4 107.6h6.3v6.3h-6.3zM1178.3 107.6h6.3v6.3h-6.3zM741.6 113.6h18.2v6.3h-18.2zM801.5 113.6h30.2v6.3h-30.2zM1112.5 113.6h6.3v6.3h-6.3zM1190.3 113.6h12.3v6.3h-12.3zM735.7 119.6h6.3v6.3h-6.3zM759.6 119.6h12.3v6.3h-12.3zM789.5 119.6h6.3v6.3h-6.3zM1112.5 119.6h6.3v6.3h-6.3zM1142.5 119.6h6.3v6.3h-6.3zM723.7 125.6h12.3v6.3h-12.3zM765.6 125.6h24.2v6.3h-24.2zM1142.5 125.6h6.3v6.3h-6.3zM1208.3 125.6h6.3v6.3h-6.3zM711.7 131.6h12.3v6.3h-12.3zM765.6 131.6h18.2v6.3h-18.2zM705.7 137.5h6.3v6.3h-6.3zM765.6 137.5h12.3v6.3h-12.3zM1214.2 137.5h6.3v6.3h-6.3zM759.6 143.5h18.2v6.3h-18.2zM1136.5 143.5h6.3v6.3h-6.3zM699.8 149.5h6.3v6.3h-6.3zM1112.5 149.5h6.3v6.3h-6.3zM1130.5 149.5h6.3v6.3h-6.3zM1220.2 161.5h6.3v6.3h-6.3zM1220.2 167.5h6.3v6.3h-6.3zM1226.2 203.4h6.3v6.3h-6.3zM1226.2 209.3h6.3v6.3h-6.3zM1226.2 215.3h6.3v6.3h-6.3zM1226.2 263.2h6.3v6.3h-6.3zM1226.2 269.2h6.3v6.3h-6.3zM699.8 281.1h6.3v6.3h-6.3zM705.7 293.1h6.3v6.3h-6.3zM1220.2 293.1h6.3v6.3h-6.3zM723.7 299.1h6.3v6.3h-6.3zM729.7 305.1h6.3v6.3h-6.3zM1016.8 305.1h6.3v6.3h-6.3zM1046.7 305.1h6.3v6.3h-6.3zM735.7 311h6.3v6.3h-6.3zM903.2 311h12.3v6.3h-12.3zM1004.9 311h6.3v6.3h-6.3zM1058.7 311h6.3v6.3h-6.3zM1124.5 311h6.3v6.3h-6.3zM1142.5 311h6.3v6.3h-6.3zM1214.2 311h6.3v6.3h-6.3zM741.6 317h6.3v6.3h-6.3zM831.4 317h6.3v6.3h-6.3zM1118.5 317h6.3v6.3h-6.3zM747.6 323h6.3v6.3h-6.3zM771.5 323h12.3v6.3h-12.3zM819.4 323h6.3v6.3h-6.3zM921.1 323h6.3v6.3h-6.3zM1070.7 323h6.3v6.3h-6.3zM1154.4 323h6.3v6.3h-6.3zM1208.3 323h6.3v6.3h-6.3zM753.6 329h12.3v6.3h-12.3zM789.5 329h30.2v6.3h-30.2zM879.2 329h6.3v6.3h-6.3zM1076.6 329h6.3v6.3h-6.3zM1082.6 335h6.3v6.3h-6.3zM1196.3 335h6.3v6.3h-6.3zM933.1 340.9h6.3v6.3h-6.3zM951 346.9h12.3v6.3h-12.3z"/>
<path fill="#dfdfff" d="M974.9 47.8h6.3v6.3h-6.3zM998.9 53.8h6.3v6.3h-6.3zM915.1 59.8h6.3v6.3h-6.3zM909.1 65.8h6.3v6.3h-6.3zM1022.8 77.7h6.3v6.3h-6.3zM1028.8 83.7h6.3v6.3h-6.3zM885.2 89.7h6.3v6.3h-6.3zM879.2 95.7h6.3v6.3h-6.3zM1040.8 101.7h6.3v6.3h-6.3zM843.3 107.6h12.3v6.3h-12.3zM861.3 107.6h6.3v6.3h-6.3zM1046.7 107.6h6.3v6.3h-6.3zM1082.6 107.6h24.2v6.3h-24.2zM1166.4 107.6h12.3v6.3h-12.3zM831.4 113.6h6.3v6.3h-6.3zM1064.7 113.6h12.3v6.3h-12.3zM1106.6 113.6h6.3v6.3h-6.3zM1154.4 113.6h6.3v6.3h-6.3zM1184.3 113.6h6.3v6.3h-6.3zM741.6 119.6h18.2v6.3h-18.2zM795.5 119.6h36.2v6.3h-36.2zM1106.6 119.6h6.3v6.3h-6.3zM1148.4 119.6h6.3v6.3h-6.3zM1196.3 119.6h12.3v6.3h-12.3zM735.7 125.6h12.3v6.3h-12.3zM753.6 125.6h12.3v6.3h-12.3zM789.5 125.6h6.3v6.3h-6.3zM1106.6 125.6h6.3v6.3h-6.3zM723.7 131.6h12.3v6.3h-12.3zM753.6 131.6h12.3v6.3h-12.3zM783.5 131.6h6.3v6.3h-6.3zM1106.6 131.6h6.3v6.3h-6.3zM1142.5 131.6h6.3v6.3h-6.3zM1208.3 131.6h6.3v6.3h-6.3zM711.7 137.5h12.3v6.3h-12.3zM753.6 137.5h12.3v6.3h-12.3zM777.5 137.5h12.3v6.3h-12.3zM1106.6 137.5h6.3v6.3h-6.3zM705.7 143.5h6.3v6.3h-6.3zM753.6 143.5h6.3v6.3h-6.3zM777.5 143.5h6.3v6.3h-6.3zM1214.2 143.5h6.3v6.3h-6.3zM759.6 149.5h18.2v6.3h-18.2zM1214.2 149.5h6.3v6.3h-6.3zM1124.5 155.5h6.3v6.3h-6.3zM1220.2 173.4h6.3v6.3h-6.3zM1226.2 221.3h6.3v6.3h-6.3zM1226.2 227.3h6.3v6.3h-6.3zM1226.2 233.3h6.3v6.3h-6.3zM1226.2 239.2h6.3v6.3h-6.3zM1226.2 245.2h6.3v6.3h-6.3zM1226.2 251.2h6.3v6.3h-6.3zM1226.2 257.2h6.3v6.3h-6.3zM699.8 275.1h6.3v6.3h-6.3zM705.7 287.1h6.3v6.3h-6.3zM1220.2 287.1h6.3v6.3h-6.3zM711.7 293.1h12.3v6.3h-12.3zM735.7 305.1h6.3v6.3h-6.3zM1052.7 305.1h6.3v6.3h-6.3zM1130.5 305.1h12.3v6.3h-12.3zM1214.2 305.1h6.3v6.3h-6.3zM741.6 311h6.3v6.3h-6.3zM843.3 311h18.2v6.3h-18.2zM897.2 311h6.3v6.3h-6.3zM1064.7 311h6.3v6.3h-6.3zM1118.5 311h6.3v6.3h-6.3zM1148.4 311h6.3v6.3h-6.3zM747.6 317h6.3v6.3h-6.3zM825.4 317h6.3v6.3h-6.3zM861.3 317h6.3v6.3h-6.3zM891.2 317h6.3v6.3h-6.3zM992.9 317h6.3v6.3h-6.3zM1070.7 317h6.3v6.3h-6.3zM753.6 323h18.2v6.3h-18.2zM783.5 323h18.2v6.3h-18.2zM813.4 323h6.3v6.3h-6.3zM867.3 323h6.3v6.3h-6.3zM885.2 323h6.3v6.3h-6.3zM986.9 323h6.3v6.3h-6.3zM1112.5 323h6.3v6.3h-6.3zM873.2 329h6.3v6.3h-6.3zM1106.6 329h6.3v6.3h-6.3zM1160.4 329h6.3v6.3h-6.3zM1202.3 329h6.3v6.3h-6.3zM1088.6 335h6.3v6.3h-6.3zM1100.6 335h6.3v6.3h-6.3zM1166.4 335h30.2v6.3h-30.2zM969 340.9h6.3v6.3h-6.3z"/>
<path fill="#ddddff" d="M945 47.8h6.3v6.3h-6.3zM927.1 53.8h6.3v6.3h-6.3zM1016.8 71.7h6.3v6.3h-6.3zM897.2 83.7h6.3v6.3h-6.3zM891.2 89.7h6.3v6.3h-6.3zM885.2 95.7h6.3v6.3h-6.3zM1034.8 95.7h6.3v6.3h-6.3zM873.2 101.7h6.3v6.3h-6.3zM867.3 107.6h6.3v6.3h-6.3zM837.4 113.6h30.2v6.3h-30.2zM1052.7 113.6h12.3v6.3h-12.3zM1076.6 113.6h12.3v6.3h-12.3zM1100.6 113.6h6.3v6.3h-6.3zM1160.4 113.6h6.3v6.3h-6.3zM1172.4 113.6h12.3v6.3h-12.3zM831.4 119.6h6.3v6.3h-6.3zM1154.4 119.6h6.3v6.3h-6.3zM1184.3 119.6h12.3v6.3h-12.3zM747.6 125.6h6.3v6.3h-6.3zM795.5 125.6h12.3v6.3h-12.3zM819.4 125.6h6.3v6.3h-6.3zM1148.4 125.6h6.3v6.3h-6.3zM1202.3 125.6h6.3v6.3h-6.3zM735.7 131.6h18.2v6.3h-18.2zM789.5 131.6h6.3v6.3h-6.3zM723.7 137.5h30.2v6.3h-30.2zM789.5 137.5h6.3v6.3h-6.3zM1142.5 137.5h6.3v6.3h-6.3zM1208.3 137.5h6.3v6.3h-6.3zM747.6 143.5h6.3v6.3h-6.3zM783.5 143.5h6.3v6.3h-6.3zM1106.6 143.5h6.3v6.3h-6.3zM753.6 149.5h6.3v6.3h-6.3zM777.5 149.5h6.3v6.3h-6.3zM1136.5 149.5h6.3v6.3h-6.3zM699.8 155.5h6.3v6.3h-6.3zM765.6 155.5h12.3v6.3h-12.3zM1118.5 155.5h6.3v6.3h-6.3zM1130.5 155.5h6.3v6.3h-6.3zM1214.2 155.5h6.3v6.3h-6.3zM1220.2 179.4h6.3v6.3h-6.3zM1220.2 185.4h6.3v6.3h-6.3zM699.8 257.2h6.3v6.3h-6.3zM699.8 263.2h6.3v6.3h-6.3zM699.8 269.2h6.3v6.3h-6.3zM705.7 281.1h6.3v6.3h-6.3zM1220.2 281.1h6.3v6.3h-6.3zM711.7 287.1h6.3v6.3h-6.3zM723.7 293.1h6.3v6.3h-6.3zM729.7 299.1h6.3v6.3h-6.3zM1022.8 299.1h30.2v6.3h-30.2zM1214.2 299.1h6.3v6.3h-6.3zM1010.8 305.1h6.3v6.3h-6.3zM1058.7 305.1h6.3v6.3h-6.3zM1124.5 305.1h6.3v6.3h-6.3zM1142.5 305.1h6.3v6.3h-6.3zM747.6 311h6.3v6.3h-6.3zM831.4 311h12.3v6.3h-12.3zM915.1 311h6.3v6.3h-6.3zM998.9 311h6.3v6.3h-6.3zM1070.7 311h6.3v6.3h-6.3zM753.6 317h42.2v6.3h-42.2zM819.4 317h6.3v6.3h-6.3zM885.2 317h6.3v6.3h-6.3zM921.1 317h6.3v6.3h-6.3zM1112.5 317h6.3v6.3h-6.3zM1154.4 317h6.3v6.3h-6.3zM1208.3 317h6.3v6.3h-6.3zM801.5 323h12.3v6.3h-12.3zM873.2 323h12.3v6.3h-12.3zM1076.6 323h6.3v6.3h-6.3zM1160.4 323h6.3v6.3h-6.3zM1202.3 323h6.3v6.3h-6.3zM927.1 329h6.3v6.3h-6.3zM980.9 329h6.3v6.3h-6.3zM1082.6 329h6.3v6.3h-6.3zM1190.3 329h12.3v6.3h-12.3zM974.9 335h6.3v6.3h-6.3zM1094.6 335h6.3v6.3h-6.3zM939.1 340.9h6.3v6.3h-6.3z"/>
<path fill="#dbdbff" d="M951 47.8h6.3v6.3h-6.3zM963 47.8h12.3v6.3h-12.3zM903.2 77.7h6.3v6.3h-6.3zM1028.8 89.7h6.3v6.3h-6.3zM879.2 101.7h6.3v6.3h-6.3zM1040.8 107.6h6.3v6.3h-6.3zM867.3 113.6h6.3v6.3h-6.3zM1046.7 113.6h6.3v6.3h-6.3zM1088.6 113.6h12.3v6.3h-12.3zM1166.4 113.6h6.3v6.3h-6.3zM837.4 119.6h6.3v6.3h-6.3zM855.3 119.6h12.3v6.3h-12.3zM1100.6 119.6h6.3v6.3h-6.3zM1178.3 119.6h6.3v6.3h-6.3zM807.4 125.6h12.3v6.3h-12.3zM825.4 125.6h6.3v6.3h-6.3zM1190.3 125.6h12.3v6.3h-12.3zM795.5 131.6h12.3v6.3h-12.3zM1148.4 131.6h6.3v6.3h-6.3zM1202.3 131.6h6.3v6.3h-6.3zM795.5 137.5h6.3v6.3h-6.3zM711.7 143.5h36.2v6.3h-36.2zM789.5 143.5h6.3v6.3h-6.3zM1142.5 143.5h6.3v6.3h-6.3zM1208.3 143.5h6.3v6.3h-6.3zM705.7 149.5h6.3v6.3h-6.3zM747.6 149.5h6.3v6.3h-6.3zM783.5 149.5h6.3v6.3h-6.3zM753.6 155.5h12.3v6.3h-12.3zM777.5 155.5h6.3v6.3h-6.3zM1112.5 155.5h6.3v6.3h-6.3zM699.8 161.5h6.3v6.3h-6.3zM1214.2 161.5h6.3v6.3h-6.3zM1220.2 191.4h6.3v6.3h-6.3zM1220.2 197.4h6.3v6.3h-6.3zM699.8 239.2h6.3v6.3h-6.3zM699.8 245.2h6.3v6.3h-6.3zM699.8 251.2h6.3v6.3h-6.3zM1220.2 275.1h6.3v6.3h-6.3zM717.7 287.1h6.3v6.3h-6.3zM1214.2 293.1h6.3v6.3h-6.3zM735.7 299.1h6.3v6.3h-6.3zM1052.7 299.1h6.3v6.3h-6.3zM1130.5 299.1h12.3v6.3h-12.3zM741.6 305.1h6.3v6.3h-6.3zM903.2 305.1h12.3v6.3h-12.3zM1064.7 305.1h6.3v6.3h-6.3zM1118.5 305.1h6.3v6.3h-6.3zM1148.4 305.1h6.3v6.3h-6.3zM753.6 311h42.2v6.3h-42.2zM819.4 311h12.3v6.3h-12.3zM861.3 311h6.3v6.3h-6.3zM891.2 311h6.3v6.3h-6.3zM1154.4 311h6.3v6.3h-6.3zM1208.3 311h6.3v6.3h-6.3zM795.5 317h24.2v6.3h-24.2zM867.3 317h6.3v6.3h-6.3zM879.2 317h6.3v6.3h-6.3zM1076.6 317h6.3v6.3h-6.3zM1106.6 323h6.3v6.3h-6.3zM1196.3 323h6.3v6.3h-6.3zM1100.6 329h6.3v6.3h-6.3zM1166.4 329h24.2v6.3h-24.2zM933.1 335h6.3v6.3h-6.3z"/>
<path fill="#d9d9ff" d="M957 47.8h6.3v6.3h-6.3zM992.9 53.8h6.3v6.3h-6.3zM1004.9 59.8h6.3v6.3h-6.3zM1010.8 65.8h6.3v6.3h-6.3zM909.1 71.7h6.3v6.3h-6.3zM1022.8 83.7h6.3v6.3h-6.3zM891.2 95.7h6.3v6.3h-6.3zM885.2 101.7h6.3v6.3h-6.3zM1034.8 101.7h6.3v6.3h-6.3zM873.2 107.6h12.3v6.3h-12.3zM1040.8 113.6h6.3v6.3h-6.3zM843.3 119.6h12.3v6.3h-12.3zM1052.7 119.6h48.2v6.3h-48.2zM1160.4 119.6h6.3v6.3h-6.3zM1172.4 119.6h6.3v6.3h-6.3zM831.4 125.6h6.3v6.3h-6.3zM855.3 125.6h6.3v6.3h-6.3zM1100.6 125.6h6.3v6.3h-6.3zM1154.4 125.6h6.3v6.3h-6.3zM1184.3 125.6h6.3v6.3h-6.3zM807.4 131.6h24.2v6.3h-24.2zM1100.6 131.6h6.3v6.3h-6.3zM1196.3 131.6h6.3v6.3h-6.3zM801.5 137.5h6.3v6.3h-6.3zM1100.6 137.5h6.3v6.3h-6.3zM1148.4 137.5h6.3v6.3h-6.3zM1202.3 137.5h6.3v6.3h-6.3zM795.5 143.5h6.3v6.3h-6.3zM711.7 149.5h6.3v6.3h-6.3zM735.7 149.5h12.3v6.3h-12.3zM789.5 149.5h6.3v6.3h-6.3zM1106.6 149.5h6.3v6.3h-6.3zM1208.3 149.5h6.3v6.3h-6.3zM747.6 155.5h6.3v6.3h-6.3zM783.5 155.5h6.3v6.3h-6.3zM1136.5 155.5h6.3v6.3h-6.3zM765.6 161.5h6.3v6.3h-6.3zM699.8 167.5h6.3v6.3h-6.3zM1214.2 167.5h6.3v6.3h-6.3zM699.8 173.4h6.3v6.3h-6.3zM699.8 179.4h6.3v6.3h-6.3zM699.8 185.4h6.3v6.3h-6.3zM1220.2 203.4h6.3v6.3h-6.3zM1220.2 209.3h6.3v6.3h-6.3zM1220.2 215.3h6.3v6.3h-6.3zM699.8 227.3h6.3v6.3h-6.3zM699.8 233.3h6.3v6.3h-6.3zM705.7 269.2h6.3v6.3h-6.3zM1220.2 269.2h6.3v6.3h-6.3zM705.7 275.1h6.3v6.3h-6.3zM711.7 281.1h6.3v6.3h-6.3zM723.7 287.1h6.3v6.3h-6.3zM729.7 293.1h6.3v6.3h-6.3zM1040.8 293.1h6.3v6.3h-6.3zM1016.8 299.1h6.3v6.3h-6.3zM1058.7 299.1h6.3v6.3h-6.3zM1124.5 299.1h6.3v6.3h-6.3zM1142.5 299.1h6.3v6.3h-6.3zM747.6 305.1h6.3v6.3h-6.3zM765.6 305.1h30.2v6.3h-30.2zM825.4 305.1h36.2v6.3h-36.2zM897.2 305.1h6.3v6.3h-6.3zM1004.9 305.1h6.3v6.3h-6.3zM1070.7 305.1h6.3v6.3h-6.3zM1208.3 305.1h6.3v6.3h-6.3zM795.5 311h12.3v6.3h-12.3zM813.4 311h6.3v6.3h-6.3zM867.3 311h6.3v6.3h-6.3zM885.2 311h6.3v6.3h-6.3zM1112.5 311h6.3v6.3h-6.3zM873.2 317h6.3v6.3h-6.3zM986.9 317h6.3v6.3h-6.3zM1160.4 317h6.3v6.3h-6.3zM1202.3 317h6.3v6.3h-6.3zM927.1 323h6.3v6.3h-6.3zM980.9 323h6.3v6.3h-6.3zM1082.6 323h6.3v6.3h-6.3zM1166.4 323h6.3v6.3h-6.3zM1184.3 323h12.3v6.3h-12.3zM1088.6 329h12.3v6.3h-12.3zM945 340.9h6.3v6.3h-6.3zM963 340.9h6.3v6.3h-6.3z"/>
<path fill="#d7d7ff" d="M921.1 59.8h6.3v6.3h-6.3zM915.1 65.8h6.3v6.3h-6.3zM1016.8 77.7h6.3v6.3h-6.3zM903.2 83.7h6.3v6.3h-6.3zM897.2 89.7h6.3v6.3h-6.3zM1028.8 95.7h6.3v6.3h-6.3zM873.2 113.6h6.3v6.3h-6.3zM867.3 119.6h6.3v6.3h-6.3zM1046.7 119.6h6.3v6.3h-6.3zM1166.4 119.6h6.3v6.3h-6.3zM837.4 125.6h18.2v6.3h-18.2zM861.3 125.6h6.3v6.3h-6.3zM1094.6 125.6h6.3v6.3h-6.3zM1178.3 125.6h6.3v6.3h-6.3zM831.4 131.6h6.3v6.3h-6.3zM1190.3 131.6h6.3v6.3h-6.3zM807.4 137.5h24.2v6.3h-24.2zM1196.3 137.5h6.3v6.3h-6.3zM1100.6 143.5h6.3v6.3h-6.3zM1202.3 143.5h6.3v6.3h-6.3zM717.7 149.5h18.2v6.3h-18.2zM1142.5 149.5h6.3v6.3h-6.3zM705.7 155.5h6.3v6.3h-6.3zM741.6 155.5h6.3v6.3h-6.3zM1208.3 155.5h6.3v6.3h-6.3zM759.6 161.5h6.3v6.3h-6.3zM771.5 161.5h12.3v6.3h-12.3zM1118.5 161.5h18.2v6.3h-18.2zM1214.2 173.4h6.3v6.3h-6.3zM1214.2 179.4h6.3v6.3h-6.3zM699.8 191.4h6.3v6.3h-6.3zM699.8 197.4h6.3v6.3h-6.3zM699.8 203.4h6.3v6.3h-6.3zM699.8 209.3h6.3v6.3h-6.3zM699.8 215.3h6.3v6.3h-6.3zM699.8 221.3h6.3v6.3h-6.3zM1220.2 221.3h6.3v6.3h-6.3zM1220.2 227.3h6.3v6.3h-6.3zM705.7 257.2h6.3v6.3h-6.3zM705.7 263.2h6.3v6.3h-6.3zM1220.2 263.2h6.3v6.3h-6.3zM711.7 275.1h6.3v6.3h-6.3zM717.7 281.1h6.3v6.3h-6.3zM1214.2 287.1h6.3v6.3h-6.3zM1028.8 293.1h12.3v6.3h-12.3zM1046.7 293.1h12.3v6.3h-12.3zM1130.5 293.1h18.2v6.3h-18.2zM741.6 299.1h6.3v6.3h-6.3zM771.5 299.1h18.2v6.3h-18.2zM1064.7 299.1h6.3v6.3h-6.3zM1118.5 299.1h6.3v6.3h-6.3zM1148.4 299.1h6.3v6.3h-6.3zM1208.3 299.1h6.3v6.3h-6.3zM753.6 305.1h12.3v6.3h-12.3zM795.5 305.1h6.3v6.3h-6.3zM819.4 305.1h6.3v6.3h-6.3zM861.3 305.1h6.3v6.3h-6.3zM891.2 305.1h6.3v6.3h-6.3zM915.1 305.1h6.3v6.3h-6.3zM1112.5 305.1h6.3v6.3h-6.3zM1154.4 305.1h6.3v6.3h-6.3zM807.4 311h6.3v6.3h-6.3zM873.2 311h12.3v6.3h-12.3zM921.1 311h6.3v6.3h-6.3zM992.9 311h6.3v6.3h-6.3zM1076.6 311h6.3v6.3h-6.3zM1202.3 311h6.3v6.3h-6.3zM1082.6 317h6.3v6.3h-6.3zM1106.6 317h6.3v6.3h-6.3zM1184.3 317h18.2v6.3h-18.2zM1100.6 323h6.3v6.3h-6.3zM1172.4 323h12.3v6.3h-12.3zM951 340.9h12.3v6.3h-12.3z"/>
<path fill="#d5d5ff" d="M933.1 53.8h6.3v6.3h-6.3zM891.2 101.7h6.3v6.3h-6.3zM885.2 107.6h6.3v6.3h-6.3zM1034.8 107.6h6.3v6.3h-6.3zM879.2 113.6h6.3v6.3h-6.3zM1040.8 119.6h6.3v6.3h-6.3zM867.3 125.6h6.3v6.3h-6.3zM1070.7 125.6h24.2v6.3h-24.2zM1160.4 125.6h6.3v6.3h-6.3zM1172.4 125.6h6.3v6.3h-6.3zM837.4 131.6h30.2v6.3h-30.2zM1094.6 131.6h6.3v6.3h-6.3zM1154.4 131.6h6.3v6.3h-6.3zM1184.3 131.6h6.3v6.3h-6.3zM831.4 137.5h6.3v6.3h-6.3zM1190.3 137.5h6.3v6.3h-6.3zM801.5 143.5h30.2v6.3h-30.2zM1148.4 143.5h6.3v6.3h-6.3zM1196.3 143.5h6.3v6.3h-6.3zM795.5 149.5h6.3v6.3h-6.3zM1202.3 149.5h6.3v6.3h-6.3zM711.7 155.5h6.3v6.3h-6.3zM729.7 155.5h12.3v6.3h-12.3zM789.5 155.5h6.3v6.3h-6.3zM1106.6 155.5h6.3v6.3h-6.3zM1142.5 155.5h6.3v6.3h-6.3zM705.7 161.5h6.3v6.3h-6.3zM753.6 161.5h6.3v6.3h-6.3zM783.5 161.5h6.3v6.3h-6.3zM1136.5 161.5h6.3v6.3h-6.3zM1208.3 161.5h6.3v6.3h-6.3zM1214.2 185.4h6.3v6.3h-6.3zM1220.2 233.3h6.3v6.3h-6.3zM1220.2 239.2h6.3v6.3h-6.3zM705.7 245.2h6.3v6.3h-6.3zM1220.2 245.2h6.3v6.3h-6.3zM705.7 251.2h6.3v6.3h-6.3zM1220.2 251.2h6.3v6.3h-6.3zM1220.2 257.2h6.3v6.3h-6.3zM711.7 269.2h6.3v6.3h-6.3zM717.7 275.1h6.3v6.3h-6.3zM723.7 281.1h6.3v6.3h-6.3zM1214.2 281.1h6.3v6.3h-6.3zM729.7 287.1h6.3v6.3h-6.3zM735.7 293.1h6.3v6.3h-6.3zM777.5 293.1h12.3v6.3h-12.3zM1022.8 293.1h6.3v6.3h-6.3zM1058.7 293.1h6.3v6.3h-6.3zM1124.5 293.1h6.3v6.3h-6.3zM1148.4 293.1h6.3v6.3h-6.3zM1208.3 293.1h6.3v6.3h-6.3zM747.6 299.1h6.3v6.3h-6.3zM765.6 299.1h6.3v6.3h-6.3zM789.5 299.1h12.3v6.3h-12.3zM825.4 299.1h6.3v6.3h-6.3zM903.2 299.1h6.3v6.3h-6.3zM1010.8 299.1h6.3v6.3h-6.3zM1070.7 299.1h6.3v6.3h-6.3zM801.5 305.1h18.2v6.3h-18.2zM867.3 305.1h6.3v6.3h-6.3zM885.2 305.1h6.3v6.3h-6.3zM1076.6 305.1h6.3v6.3h-6.3zM1202.3 305.1h6.3v6.3h-6.3zM1106.6 311h6.3v6.3h-6.3zM1160.4 311h6.3v6.3h-6.3zM1190.3 311h12.3v6.3h-12.3zM1166.4 317h18.2v6.3h-18.2zM1088.6 323h12.3v6.3h-12.3zM933.1 329h6.3v6.3h-6.3zM974.9 329h6.3v6.3h-6.3zM969 335h6.3v6.3h-6.3z"/>
<path fill="#d3d3ff" d="M986.9 53.8h6.3v6.3h-6.3zM1010.8 71.7h6.3v6.3h-6.3zM909.1 77.7h6.3v6.3h-6.3zM1022.8 89.7h6.3v6.3h-6.3zM897.2 95.7h6.3v6.3h-6.3zM1028.8 101.7h6.3v6.3h-6.3zM1034.8 113.6h6.3v6.3h-6.3zM873.2 119.6h12.3v6.3h-12.3zM1046.7 125.6h24.2v6.3h-24.2zM1166.4 125.6h6.3v6.3h-6.3zM867.3 131.6h6.3v6.3h-6.3zM1178.3 131.6h6.3v6.3h-6.3zM837.4 137.5h6.3v6.3h-6.3zM855.3 137.5h12.3v6.3h-12.3zM1094.6 137.5h6.3v6.3h-6.3zM1154.4 137.5h6.3v6.3h-6.3zM1184.3 137.5h6.3v6.3h-6.3zM831.4 143.5h6.3v6.3h-6.3zM801.5 149.5h30.2v6.3h-30.2zM1100.6 149.5h6.3v6.3h-6.3zM717.7 155.5h12.3v6.3h-12.3zM795.5 155.5h6.3v6.3h-6.3zM1202.3 155.5h6.3v6.3h-6.3zM741.6 161.5h12.3v6.3h-12.3zM1112.5 161.5h6.3v6.3h-6.3zM705.7 167.5h6.3v6.3h-6.3zM765.6 167.5h12.3v6.3h-12.3zM1124.5 167.5h6.3v6.3h-6.3zM1208.3 167.5h6.3v6.3h-6.3zM1214.2 191.4h6.3v6.3h-6.3zM1214.2 197.4h6.3v6.3h-6.3zM705.7 233.3h6.3v6.3h-6.3zM705.7 239.2h6.3v6.3h-6.3zM711.7 257.2h6.3v6.3h-6.3zM711.7 263.2h6.3v6.3h-6.3zM717.7 269.2h6.3v6.3h-6.3zM789.5 269.2h6.3v6.3h-6.3zM783.5 275.1h12.3v6.3h-12.3zM1214.2 275.1h6.3v6.3h-6.3zM783.5 281.1h12.3v6.3h-12.3zM777.5 287.1h18.2v6.3h-18.2zM1040.8 287.1h12.3v6.3h-12.3zM1130.5 287.1h18.2v6.3h-18.2zM741.6 293.1h6.3v6.3h-6.3zM771.5 293.1h6.3v6.3h-6.3zM789.5 293.1h12.3v6.3h-12.3zM1064.7 293.1h6.3v6.3h-6.3zM1118.5 293.1h6.3v6.3h-6.3zM753.6 299.1h12.3v6.3h-12.3zM801.5 299.1h24.2v6.3h-24.2zM831.4 299.1h36.2v6.3h-36.2zM897.2 299.1h6.3v6.3h-6.3zM909.1 299.1h6.3v6.3h-6.3zM1112.5 299.1h6.3v6.3h-6.3zM1154.4 299.1h6.3v6.3h-6.3zM1202.3 299.1h6.3v6.3h-6.3zM873.2 305.1h12.3v6.3h-12.3zM998.9 305.1h6.3v6.3h-6.3zM1160.4 305.1h6.3v6.3h-6.3zM1190.3 305.1h12.3v6.3h-12.3zM986.9 311h6.3v6.3h-6.3zM1082.6 311h6.3v6.3h-6.3zM1166.4 311h6.3v6.3h-6.3zM1178.3 311h12.3v6.3h-12.3zM927.1 317h6.3v6.3h-6.3zM980.9 317h6.3v6.3h-6.3zM1088.6 317h18.2v6.3h-18.2zM939.1 335h6.3v6.3h-6.3z"/>
<path fill="#d1d1ff" d="M998.9 59.8h6.3v6.3h-6.3zM1016.8 83.7h6.3v6.3h-6.3zM891.2 107.6h6.3v6.3h-6.3zM885.2 113.6h6.3v6.3h-6.3zM873.2 125.6h6.3v6.3h-6.3zM1088.6 131.6h6.3v6.3h-6.3zM1160.4 131.6h6.3v6.3h-6.3zM843.3 137.5h12.3v6.3h-12.3zM867.3 137.5h6.3v6.3h-6.3zM837.4 143.5h6.3v6.3h-6.3zM855.3 143.5h12.3v6.3h-12.3zM1094.6 143.5h6.3v6.3h-6.3zM1190.3 143.5h6.3v6.3h-6.3zM831.4 149.5h6.3v6.3h-6.3zM1148.4 149.5h6.3v6.3h-6.3zM1196.3 149.5h6.3v6.3h-6.3zM801.5 155.5h6.3v6.3h-6.3zM711.7 161.5h30.2v6.3h-30.2zM789.5 161.5h6.3v6.3h-6.3zM1142.5 161.5h6.3v6.3h-6.3zM1202.3 161.5h6.3v6.3h-6.3zM759.6 167.5h6.3v6.3h-6.3zM777.5 167.5h6.3v6.3h-6.3zM1118.5 167.5h6.3v6.3h-6.3zM1130.5 167.5h12.3v6.3h-12.3zM705.7 173.4h6.3v6.3h-6.3zM1208.3 173.4h6.3v6.3h-6.3zM705.7 179.4h6.3v6.3h-6.3zM1208.3 179.4h6.3v6.3h-6.3zM705.7 185.4h6.3v6.3h-6.3zM1214.2 203.4h6.3v6.3h-6.3zM1214.2 209.3h6.3v6.3h-6.3zM705.7 227.3h6.3v6.3h-6.3zM1070.7 233.3h6.3v6.3h-6.3zM711.7 245.2h6.3v6.3h-6.3zM711.7 251.2h6.3v6.3h-6.3zM717.7 263.2h6.3v6.3h-6.3zM789.5 263.2h6.3v6.3h-6.3zM783.5 269.2h6.3v6.3h-6.3zM795.5 269.2h6.3v6.3h-6.3zM723.7 275.1h6.3v6.3h-6.3zM795.5 275.1h6.3v6.3h-6.3zM729.7 281.1h6.3v6.3h-6.3zM777.5 281.1h6.3v6.3h-6.3zM795.5 281.1h6.3v6.3h-6.3zM735.7 287.1h6.3v6.3h-6.3zM771.5 287.1h6.3v6.3h-6.3zM795.5 287.1h6.3v6.3h-6.3zM1034.8 287.1h6.3v6.3h-6.3zM1052.7 287.1h12.3v6.3h-12.3zM1124.5 287.1h6.3v6.3h-6.3zM1148.4 287.1h6.3v6.3h-6.3zM1208.3 287.1h6.3v6.3h-6.3zM765.6 293.1h6.3v6.3h-6.3zM801.5 293.1h6.3v6.3h-6.3zM819.4 293.1h18.2v6.3h-18.2zM1016.8 293.1h6.3v6.3h-6.3zM1070.7 293.1h6.3v6.3h-6.3zM1154.4 293.1h6.3v6.3h-6.3zM891.2 299.1h6.3v6.3h-6.3zM1076.6 299.1h6.3v6.3h-6.3zM1196.3 299.1h6.3v6.3h-6.3zM1082.6 305.1h6.3v6.3h-6.3zM1106.6 305.1h6.3v6.3h-6.3zM1184.3 305.1h6.3v6.3h-6.3zM1088.6 311h6.3v6.3h-6.3zM1100.6 311h6.3v6.3h-6.3zM1172.4 311h6.3v6.3h-6.3zM974.9 323h6.3v6.3h-6.3z"/>
<path fill="#cfcfff" d="M1004.9 65.8h6.3v6.3h-6.3zM915.1 71.7h6.3v6.3h-6.3zM903.2 89.7h6.3v6.3h-6.3zM1022.8 95.7h6.3v6.3h-6.3zM1028.8 107.6h6.3v6.3h-6.3zM885.2 119.6h6.3v6.3h-6.3zM1034.8 119.6h6.3v6.3h-6.3zM879.2 125.6h6.3v6.3h-6.3zM1040.8 125.6h6.3v6.3h-6.3zM873.2 131.6h6.3v6.3h-6.3zM1064.7 131.6h24.2v6.3h-24.2zM1166.4 131.6h12.3v6.3h-12.3zM1088.6 137.5h6.3v6.3h-6.3zM1178.3 137.5h6.3v6.3h-6.3zM843.3 143.5h12.3v6.3h-12.3zM1154.4 143.5h6.3v6.3h-6.3zM1184.3 143.5h6.3v6.3h-6.3zM855.3 149.5h6.3v6.3h-6.3zM1190.3 149.5h6.3v6.3h-6.3zM807.4 155.5h24.2v6.3h-24.2zM1100.6 155.5h6.3v6.3h-6.3zM1148.4 155.5h6.3v6.3h-6.3zM1196.3 155.5h6.3v6.3h-6.3zM795.5 161.5h6.3v6.3h-6.3zM1106.6 161.5h6.3v6.3h-6.3zM711.7 167.5h6.3v6.3h-6.3zM747.6 167.5h12.3v6.3h-12.3zM783.5 167.5h6.3v6.3h-6.3zM1202.3 167.5h6.3v6.3h-6.3zM1208.3 185.4h6.3v6.3h-6.3zM705.7 191.4h6.3v6.3h-6.3zM705.7 197.4h6.3v6.3h-6.3zM705.7 203.4h6.3v6.3h-6.3zM705.7 209.3h6.3v6.3h-6.3zM705.7 215.3h6.3v6.3h-6.3zM1214.2 215.3h6.3v6.3h-6.3zM705.7 221.3h6.3v6.3h-6.3zM1064.7 227.3h12.3v6.3h-12.3zM1064.7 233.3h6.3v6.3h-6.3zM711.7 239.2h6.3v6.3h-6.3zM717.7 251.2h6.3v6.3h-6.3zM717.7 257.2h6.3v6.3h-6.3zM783.5 263.2h6.3v6.3h-6.3zM795.5 263.2h6.3v6.3h-6.3zM723.7 269.2h6.3v6.3h-6.3zM777.5 269.2h6.3v6.3h-6.3zM1214.2 269.2h6.3v6.3h-6.3zM777.5 275.1h6.3v6.3h-6.3zM801.5 281.1h6.3v6.3h-6.3zM1040.8 281.1h12.3v6.3h-12.3zM1130.5 281.1h24.2v6.3h-24.2zM1208.3 281.1h6.3v6.3h-6.3zM801.5 287.1h6.3v6.3h-6.3zM819.4 287.1h12.3v6.3h-12.3zM1028.8 287.1h6.3v6.3h-6.3zM1064.7 287.1h6.3v6.3h-6.3zM747.6 293.1h18.2v6.3h-18.2zM807.4 293.1h12.3v6.3h-12.3zM837.4 293.1h24.2v6.3h-24.2zM1202.3 293.1h6.3v6.3h-6.3zM867.3 299.1h24.2v6.3h-24.2zM1004.9 299.1h6.3v6.3h-6.3zM1160.4 299.1h6.3v6.3h-6.3zM1184.3 299.1h12.3v6.3h-12.3zM921.1 305.1h6.3v6.3h-6.3zM1166.4 305.1h18.2v6.3h-18.2zM927.1 311h6.3v6.3h-6.3zM1094.6 311h6.3v6.3h-6.3zM933.1 323h6.3v6.3h-6.3zM963 335h6.3v6.3h-6.3z"/>
<path fill="#cdcdff" d="M939.1 53.8h6.3v6.3h-6.3zM980.9 53.8h6.3v6.3h-6.3zM927.1 59.8h6.3v6.3h-6.3zM1010.8 77.7h6.3v6.3h-6.3zM909.1 83.7h6.3v6.3h-6.3zM897.2 101.7h6.3v6.3h-6.3zM891.2 113.6h6.3v6.3h-6.3zM879.2 131.6h6.3v6.3h-6.3zM1046.7 131.6h18.2v6.3h-18.2zM873.2 137.5h6.3v6.3h-6.3zM1082.6 137.5h6.3v6.3h-6.3zM1160.4 137.5h6.3v6.3h-6.3zM867.3 143.5h6.3v6.3h-6.3zM1088.6 143.5h6.3v6.3h-6.3zM837.4 149.5h18.2v6.3h-18.2zM861.3 149.5h6.3v6.3h-6.3zM1094.6 149.5h6.3v6.3h-6.3zM831.4 155.5h6.3v6.3h-6.3zM855.3 155.5h6.3v6.3h-6.3zM1190.3 155.5h6.3v6.3h-6.3zM819.4 161.5h12.3v6.3h-12.3zM1196.3 161.5h6.3v6.3h-6.3zM717.7 167.5h30.2v6.3h-30.2zM789.5 167.5h6.3v6.3h-6.3zM1112.5 167.5h6.3v6.3h-6.3zM1142.5 167.5h6.3v6.3h-6.3zM711.7 173.4h6.3v6.3h-6.3zM765.6 173.4h12.3v6.3h-12.3zM1124.5 173.4h18.2v6.3h-18.2zM1202.3 173.4h6.3v6.3h-6.3zM711.7 179.4h6.3v6.3h-6.3zM1208.3 191.4h6.3v6.3h-6.3zM1214.2 221.3h6.3v6.3h-6.3zM1076.6 227.3h6.3v6.3h-6.3zM711.7 233.3h6.3v6.3h-6.3zM1076.6 233.3h6.3v6.3h-6.3zM717.7 239.2h6.3v6.3h-6.3zM1064.7 239.2h12.3v6.3h-12.3zM717.7 245.2h6.3v6.3h-6.3zM783.5 257.2h12.3v6.3h-12.3zM723.7 263.2h6.3v6.3h-6.3zM777.5 263.2h6.3v6.3h-6.3zM1214.2 263.2h6.3v6.3h-6.3zM801.5 269.2h6.3v6.3h-6.3zM729.7 275.1h6.3v6.3h-6.3zM801.5 275.1h6.3v6.3h-6.3zM1136.5 275.1h12.3v6.3h-12.3zM735.7 281.1h6.3v6.3h-6.3zM771.5 281.1h6.3v6.3h-6.3zM807.4 281.1h6.3v6.3h-6.3zM819.4 281.1h12.3v6.3h-12.3zM1034.8 281.1h6.3v6.3h-6.3zM1052.7 281.1h18.2v6.3h-18.2zM1124.5 281.1h6.3v6.3h-6.3zM741.6 287.1h6.3v6.3h-6.3zM765.6 287.1h6.3v6.3h-6.3zM807.4 287.1h12.3v6.3h-12.3zM831.4 287.1h6.3v6.3h-6.3zM1022.8 287.1h6.3v6.3h-6.3zM1070.7 287.1h6.3v6.3h-6.3zM1118.5 287.1h6.3v6.3h-6.3zM1154.4 287.1h6.3v6.3h-6.3zM1202.3 287.1h6.3v6.3h-6.3zM861.3 293.1h6.3v6.3h-6.3zM1076.6 293.1h6.3v6.3h-6.3zM1112.5 293.1h6.3v6.3h-6.3zM1190.3 293.1h12.3v6.3h-12.3zM915.1 299.1h6.3v6.3h-6.3zM1082.6 299.1h6.3v6.3h-6.3zM1106.6 299.1h6.3v6.3h-6.3zM1166.4 299.1h6.3v6.3h-6.3zM1178.3 299.1h6.3v6.3h-6.3zM992.9 305.1h6.3v6.3h-6.3zM1088.6 305.1h18.2v6.3h-18.2zM969 329h6.3v6.3h-6.3zM945 335h6.3v6.3h-6.3z"/>
<path fill="#cbcbff" d="M921.1 65.8h6.3v6.3h-6.3zM1028.8 113.6h6.3v6.3h-6.3zM885.2 125.6h6.3v6.3h-6.3zM1034.8 125.6h6.3v6.3h-6.3zM1040.8 131.6h6.3v6.3h-6.3zM879.2 137.5h6.3v6.3h-6.3zM1070.7 137.5h12.3v6.3h-12.3zM1172.4 137.5h6.3v6.3h-6.3zM1082.6 143.5h6.3v6.3h-6.3zM1178.3 143.5h6.3v6.3h-6.3zM867.3 149.5h6.3v6.3h-6.3zM1088.6 149.5h6.3v6.3h-6.3zM1154.4 149.5h6.3v6.3h-6.3zM1184.3 149.5h6.3v6.3h-6.3zM837.4 155.5h6.3v6.3h-6.3zM849.3 155.5h6.3v6.3h-6.3zM861.3 155.5h6.3v6.3h-6.3zM1094.6 155.5h6.3v6.3h-6.3zM801.5 161.5h18.2v6.3h-18.2zM831.4 161.5h6.3v6.3h-6.3zM1064.7 161.5h6.3v6.3h-6.3zM1100.6 161.5h6.3v6.3h-6.3zM1148.4 161.5h6.3v6.3h-6.3zM1190.3 161.5h6.3v6.3h-6.3zM1196.3 167.5h6.3v6.3h-6.3zM717.7 173.4h12.3v6.3h-12.3zM759.6 173.4h6.3v6.3h-6.3zM777.5 173.4h6.3v6.3h-6.3zM1118.5 173.4h6.3v6.3h-6.3zM1142.5 173.4h6.3v6.3h-6.3zM717.7 179.4h6.3v6.3h-6.3zM1130.5 179.4h12.3v6.3h-12.3zM1202.3 179.4h6.3v6.3h-6.3zM711.7 185.4h6.3v6.3h-6.3zM711.7 191.4h6.3v6.3h-6.3zM1208.3 197.4h6.3v6.3h-6.3zM711.7 221.3h6.3v6.3h-6.3zM1064.7 221.3h12.3v6.3h-12.3zM711.7 227.3h6.3v6.3h-6.3zM765.6 227.3h12.3v6.3h-12.3zM1058.7 227.3h6.3v6.3h-6.3zM1214.2 227.3h6.3v6.3h-6.3zM717.7 233.3h6.3v6.3h-6.3zM771.5 233.3h12.3v6.3h-12.3zM1058.7 233.3h6.3v6.3h-6.3zM1214.2 233.3h6.3v6.3h-6.3zM1058.7 239.2h6.3v6.3h-6.3zM1076.6 239.2h6.3v6.3h-6.3zM1064.7 245.2h12.3v6.3h-12.3zM723.7 251.2h6.3v6.3h-6.3zM783.5 251.2h12.3v6.3h-12.3zM723.7 257.2h6.3v6.3h-6.3zM777.5 257.2h6.3v6.3h-6.3zM795.5 257.2h6.3v6.3h-6.3zM1214.2 257.2h6.3v6.3h-6.3zM801.5 263.2h6.3v6.3h-6.3zM729.7 269.2h6.3v6.3h-6.3zM819.4 269.2h12.3v6.3h-12.3zM771.5 275.1h6.3v6.3h-6.3zM807.4 275.1h24.2v6.3h-24.2zM1046.7 275.1h18.2v6.3h-18.2zM1124.5 275.1h12.3v6.3h-12.3zM1148.4 275.1h6.3v6.3h-6.3zM1208.3 275.1h6.3v6.3h-6.3zM813.4 281.1h6.3v6.3h-6.3zM831.4 281.1h6.3v6.3h-6.3zM1154.4 281.1h6.3v6.3h-6.3zM747.6 287.1h6.3v6.3h-6.3zM759.6 287.1h6.3v6.3h-6.3zM837.4 287.1h6.3v6.3h-6.3zM1196.3 287.1h6.3v6.3h-6.3zM867.3 293.1h6.3v6.3h-6.3zM891.2 293.1h18.2v6.3h-18.2zM1010.8 293.1h6.3v6.3h-6.3zM1160.4 293.1h6.3v6.3h-6.3zM1178.3 293.1h12.3v6.3h-12.3zM1088.6 299.1h6.3v6.3h-6.3zM1172.4 299.1h6.3v6.3h-6.3zM980.9 311h6.3v6.3h-6.3zM933.1 317h6.3v6.3h-6.3zM974.9 317h6.3v6.3h-6.3zM939.1 329h6.3v6.3h-6.3zM951 335h12.3v6.3h-12.3z"/>
<path fill="#c9c9ff" d="M1016.8 89.7h6.3v6.3h-6.3zM903.2 95.7h6.3v6.3h-6.3zM1022.8 101.7h6.3v6.3h-6.3zM897.2 107.6h6.3v6.3h-6.3zM891.2 119.6h6.3v6.3h-6.3zM885.2 131.6h6.3v6.3h-6.3zM1040.8 137.5h30.2v6.3h-30.2zM1166.4 137.5h6.3v6.3h-6.3zM873.2 143.5h6.3v6.3h-6.3zM1064.7 143.5h18.2v6.3h-18.2zM1160.4 143.5h6.3v6.3h-6.3zM1064.7 149.5h24.2v6.3h-24.2zM843.3 155.5h6.3v6.3h-6.3zM867.3 155.5h6.3v6.3h-6.3zM1046.7 155.5h48.2v6.3h-48.2zM1184.3 155.5h6.3v6.3h-6.3zM837.4 161.5h6.3v6.3h-6.3zM855.3 161.5h12.3v6.3h-12.3zM1046.7 161.5h18.2v6.3h-18.2zM1070.7 161.5h12.3v6.3h-12.3zM795.5 167.5h6.3v6.3h-6.3zM819.4 167.5h12.3v6.3h-12.3zM1052.7 167.5h24.2v6.3h-24.2zM1106.6 167.5h6.3v6.3h-6.3zM1148.4 167.5h6.3v6.3h-6.3zM1190.3 167.5h6.3v6.3h-6.3zM729.7 173.4h30.2v6.3h-30.2zM783.5 173.4h6.3v6.3h-6.3zM1148.4 173.4h6.3v6.3h-6.3zM1196.3 173.4h6.3v6.3h-6.3zM723.7 179.4h6.3v6.3h-6.3zM771.5 179.4h6.3v6.3h-6.3zM1124.5 179.4h6.3v6.3h-6.3zM1142.5 179.4h6.3v6.3h-6.3zM1196.3 179.4h6.3v6.3h-6.3zM717.7 185.4h6.3v6.3h-6.3zM1202.3 185.4h6.3v6.3h-6.3zM711.7 197.4h6.3v6.3h-6.3zM711.7 203.4h6.3v6.3h-6.3zM1208.3 203.4h6.3v6.3h-6.3zM1208.3 209.3h6.3v6.3h-6.3zM711.7 215.3h6.3v6.3h-6.3zM765.6 221.3h12.3v6.3h-12.3zM1058.7 221.3h6.3v6.3h-6.3zM777.5 227.3h6.3v6.3h-6.3zM765.6 233.3h6.3v6.3h-6.3zM783.5 233.3h6.3v6.3h-6.3zM723.7 239.2h6.3v6.3h-6.3zM771.5 239.2h18.2v6.3h-18.2zM1214.2 239.2h6.3v6.3h-6.3zM723.7 245.2h6.3v6.3h-6.3zM777.5 245.2h18.2v6.3h-18.2zM825.4 245.2h6.3v6.3h-6.3zM1058.7 245.2h6.3v6.3h-6.3zM1214.2 245.2h6.3v6.3h-6.3zM777.5 251.2h6.3v6.3h-6.3zM795.5 251.2h6.3v6.3h-6.3zM819.4 251.2h12.3v6.3h-12.3zM1214.2 251.2h6.3v6.3h-6.3zM801.5 257.2h6.3v6.3h-6.3zM819.4 257.2h12.3v6.3h-12.3zM729.7 263.2h6.3v6.3h-6.3zM807.4 263.2h24.2v6.3h-24.2zM771.5 269.2h6.3v6.3h-6.3zM807.4 269.2h12.3v6.3h-12.3zM831.4 269.2h6.3v6.3h-6.3zM1052.7 269.2h6.3v6.3h-6.3zM1130.5 269.2h24.2v6.3h-24.2zM735.7 275.1h6.3v6.3h-6.3zM831.4 275.1h6.3v6.3h-6.3zM1040.8 275.1h6.3v6.3h-6.3zM1064.7 275.1h6.3v6.3h-6.3zM741.6 281.1h6.3v6.3h-6.3zM765.6 281.1h6.3v6.3h-6.3zM837.4 281.1h6.3v6.3h-6.3zM1028.8 281.1h6.3v6.3h-6.3zM1070.7 281.1h6.3v6.3h-6.3zM1118.5 281.1h6.3v6.3h-6.3zM1202.3 281.1h6.3v6.3h-6.3zM753.6 287.1h6.3v6.3h-6.3zM843.3 287.1h18.2v6.3h-18.2zM1076.6 287.1h6.3v6.3h-6.3zM1112.5 287.1h6.3v6.3h-6.3zM1160.4 287.1h6.3v6.3h-6.3zM1184.3 287.1h12.3v6.3h-12.3zM873.2 293.1h18.2v6.3h-18.2zM909.1 293.1h6.3v6.3h-6.3zM1082.6 293.1h6.3v6.3h-6.3zM1106.6 293.1h6.3v6.3h-6.3zM1166.4 293.1h12.3v6.3h-12.3zM1094.6 299.1h12.3v6.3h-12.3z"/>
<path fill="#c7c7ff" d="M974.9 53.8h6.3v6.3h-6.3zM992.9 59.8h6.3v6.3h-6.3zM915.1 77.7h6.3v6.3h-6.3zM1028.8 119.6h6.3v6.3h-6.3zM891.2 125.6h6.3v6.3h-6.3zM1034.8 131.6h6.3v6.3h-6.3zM885.2 137.5h6.3v6.3h-6.3zM879.2 143.5h6.3v6.3h-6.3zM1040.8 143.5h24.2v6.3h-24.2zM1172.4 143.5h6.3v6.3h-6.3zM873.2 149.5h6.3v6.3h-6.3zM1046.7 149.5h18.2v6.3h-18.2zM1178.3 149.5h6.3v6.3h-6.3zM1154.4 155.5h6.3v6.3h-6.3zM843.3 161.5h12.3v6.3h-12.3zM1082.6 161.5h18.2v6.3h-18.2zM1184.3 161.5h6.3v6.3h-6.3zM801.5 167.5h18.2v6.3h-18.2zM831.4 167.5h6.3v6.3h-6.3zM855.3 167.5h12.3v6.3h-12.3zM1046.7 167.5h6.3v6.3h-6.3zM1076.6 167.5h6.3v6.3h-6.3zM789.5 173.4h6.3v6.3h-6.3zM1046.7 173.4h18.2v6.3h-18.2zM1112.5 173.4h6.3v6.3h-6.3zM1190.3 173.4h6.3v6.3h-6.3zM729.7 179.4h6.3v6.3h-6.3zM759.6 179.4h12.3v6.3h-12.3zM777.5 179.4h6.3v6.3h-6.3zM1118.5 179.4h6.3v6.3h-6.3zM1148.4 179.4h6.3v6.3h-6.3zM1190.3 179.4h6.3v6.3h-6.3zM1130.5 185.4h18.2v6.3h-18.2zM1196.3 185.4h6.3v6.3h-6.3zM717.7 191.4h6.3v6.3h-6.3zM1202.3 191.4h6.3v6.3h-6.3zM1202.3 197.4h6.3v6.3h-6.3zM711.7 209.3h6.3v6.3h-6.3zM1208.3 215.3h6.3v6.3h-6.3zM777.5 221.3h6.3v6.3h-6.3zM1052.7 221.3h6.3v6.3h-6.3zM1076.6 221.3h6.3v6.3h-6.3zM717.7 227.3h6.3v6.3h-6.3zM783.5 227.3h6.3v6.3h-6.3zM1052.7 227.3h6.3v6.3h-6.3zM789.5 233.3h6.3v6.3h-6.3zM1052.7 233.3h6.3v6.3h-6.3zM1082.6 233.3h6.3v6.3h-6.3zM789.5 239.2h6.3v6.3h-6.3zM819.4 239.2h18.2v6.3h-18.2zM1052.7 239.2h6.3v6.3h-6.3zM771.5 245.2h6.3v6.3h-6.3zM795.5 245.2h6.3v6.3h-6.3zM819.4 245.2h6.3v6.3h-6.3zM831.4 245.2h6.3v6.3h-6.3zM1052.7 245.2h6.3v6.3h-6.3zM1076.6 245.2h6.3v6.3h-6.3zM801.5 251.2h18.2v6.3h-18.2zM831.4 251.2h6.3v6.3h-6.3zM1058.7 251.2h18.2v6.3h-18.2zM729.7 257.2h6.3v6.3h-6.3zM807.4 257.2h12.3v6.3h-12.3zM831.4 257.2h6.3v6.3h-6.3zM1058.7 257.2h12.3v6.3h-12.3zM771.5 263.2h6.3v6.3h-6.3zM831.4 263.2h6.3v6.3h-6.3zM1052.7 263.2h12.3v6.3h-12.3zM1130.5 263.2h18.2v6.3h-18.2zM1040.8 269.2h12.3v6.3h-12.3zM1058.7 269.2h12.3v6.3h-12.3zM1124.5 269.2h6.3v6.3h-6.3zM1208.3 269.2h6.3v6.3h-6.3zM765.6 275.1h6.3v6.3h-6.3zM837.4 275.1h6.3v6.3h-6.3zM1034.8 275.1h6.3v6.3h-6.3zM1070.7 275.1h6.3v6.3h-6.3zM1118.5 275.1h6.3v6.3h-6.3zM1154.4 275.1h6.3v6.3h-6.3zM759.6 281.1h6.3v6.3h-6.3zM843.3 281.1h6.3v6.3h-6.3zM1196.3 281.1h6.3v6.3h-6.3zM861.3 287.1h6.3v6.3h-6.3zM1016.8 287.1h6.3v6.3h-6.3zM1178.3 287.1h6.3v6.3h-6.3zM998.9 299.1h6.3v6.3h-6.3zM927.1 305.1h6.3v6.3h-6.3zM986.9 305.1h6.3v6.3h-6.3zM933.1 311h6.3v6.3h-6.3zM939.1 323h6.3v6.3h-6.3zM969 323h6.3v6.3h-6.3zM963 329h6.3v6.3h-6.3z"/>
<path fill="#c5c5ff" d="M945 53.8h6.3v6.3h-6.3zM1004.9 71.7h6.3v6.3h-6.3zM1022.8 107.6h6.3v6.3h-6.3zM897.2 113.6h6.3v6.3h-6.3zM1166.4 143.5h6.3v6.3h-6.3zM879.2 149.5h6.3v6.3h-6.3zM1040.8 149.5h6.3v6.3h-6.3zM1040.8 155.5h6.3v6.3h-6.3zM867.3 161.5h6.3v6.3h-6.3zM1040.8 161.5h6.3v6.3h-6.3zM1154.4 161.5h6.3v6.3h-6.3zM837.4 167.5h18.2v6.3h-18.2zM1100.6 167.5h6.3v6.3h-6.3zM1184.3 167.5h6.3v6.3h-6.3zM819.4 173.4h18.2v6.3h-18.2zM855.3 173.4h12.3v6.3h-12.3zM1064.7 173.4h6.3v6.3h-6.3zM1184.3 173.4h6.3v6.3h-6.3zM735.7 179.4h6.3v6.3h-6.3zM753.6 179.4h6.3v6.3h-6.3zM783.5 179.4h6.3v6.3h-6.3zM723.7 185.4h6.3v6.3h-6.3zM1124.5 185.4h6.3v6.3h-6.3zM1148.4 185.4h6.3v6.3h-6.3zM1190.3 185.4h6.3v6.3h-6.3zM1196.3 191.4h6.3v6.3h-6.3zM717.7 197.4h6.3v6.3h-6.3zM1202.3 203.4h6.3v6.3h-6.3zM765.6 215.3h12.3v6.3h-12.3zM1058.7 215.3h12.3v6.3h-12.3zM717.7 221.3h6.3v6.3h-6.3zM783.5 221.3h6.3v6.3h-6.3zM1208.3 221.3h6.3v6.3h-6.3zM759.6 227.3h6.3v6.3h-6.3zM1046.7 227.3h6.3v6.3h-6.3zM1082.6 227.3h6.3v6.3h-6.3zM723.7 233.3h6.3v6.3h-6.3zM759.6 233.3h6.3v6.3h-6.3zM819.4 233.3h18.2v6.3h-18.2zM1046.7 233.3h6.3v6.3h-6.3zM765.6 239.2h6.3v6.3h-6.3zM795.5 239.2h6.3v6.3h-6.3zM813.4 239.2h6.3v6.3h-6.3zM1046.7 239.2h6.3v6.3h-6.3zM1082.6 239.2h6.3v6.3h-6.3zM729.7 245.2h6.3v6.3h-6.3zM801.5 245.2h18.2v6.3h-18.2zM837.4 245.2h6.3v6.3h-6.3zM729.7 251.2h6.3v6.3h-6.3zM771.5 251.2h6.3v6.3h-6.3zM837.4 251.2h6.3v6.3h-6.3zM1052.7 251.2h6.3v6.3h-6.3zM771.5 257.2h6.3v6.3h-6.3zM837.4 257.2h6.3v6.3h-6.3zM1046.7 257.2h12.3v6.3h-12.3zM1070.7 257.2h6.3v6.3h-6.3zM1136.5 257.2h6.3v6.3h-6.3zM837.4 263.2h6.3v6.3h-6.3zM1040.8 263.2h12.3v6.3h-12.3zM1064.7 263.2h6.3v6.3h-6.3zM1124.5 263.2h6.3v6.3h-6.3zM1148.4 263.2h6.3v6.3h-6.3zM735.7 269.2h6.3v6.3h-6.3zM837.4 269.2h6.3v6.3h-6.3zM1202.3 275.1h6.3v6.3h-6.3zM747.6 281.1h12.3v6.3h-12.3zM849.3 281.1h12.3v6.3h-12.3zM1022.8 281.1h6.3v6.3h-6.3zM1076.6 281.1h6.3v6.3h-6.3zM1112.5 281.1h6.3v6.3h-6.3zM1160.4 281.1h6.3v6.3h-6.3zM1184.3 281.1h12.3v6.3h-12.3zM867.3 287.1h6.3v6.3h-6.3zM897.2 287.1h6.3v6.3h-6.3zM1082.6 287.1h6.3v6.3h-6.3zM1166.4 287.1h12.3v6.3h-12.3zM1088.6 293.1h18.2v6.3h-18.2zM921.1 299.1h6.3v6.3h-6.3zM945 329h6.3v6.3h-6.3z"/>
<path fill="#c3c3ff" d="M933.1 59.8h6.3v6.3h-6.3zM998.9 65.8h6.3v6.3h-6.3zM1010.8 83.7h6.3v6.3h-6.3zM909.1 89.7h6.3v6.3h-6.3zM1016.8 95.7h6.3v6.3h-6.3zM903.2 101.7h6.3v6.3h-6.3zM1028.8 125.6h6.3v6.3h-6.3zM891.2 131.6h6.3v6.3h-6.3zM1034.8 137.5h6.3v6.3h-6.3zM885.2 143.5h6.3v6.3h-6.3zM1160.4 149.5h6.3v6.3h-6.3zM873.2 155.5h6.3v6.3h-6.3zM1178.3 155.5h6.3v6.3h-6.3zM867.3 167.5h6.3v6.3h-6.3zM1040.8 167.5h6.3v6.3h-6.3zM1082.6 167.5h18.2v6.3h-18.2zM1154.4 167.5h6.3v6.3h-6.3zM795.5 173.4h6.3v6.3h-6.3zM837.4 173.4h6.3v6.3h-6.3zM849.3 173.4h6.3v6.3h-6.3zM1070.7 173.4h6.3v6.3h-6.3zM1106.6 173.4h6.3v6.3h-6.3zM1154.4 173.4h6.3v6.3h-6.3zM741.6 179.4h12.3v6.3h-12.3zM855.3 179.4h12.3v6.3h-12.3zM1046.7 179.4h12.3v6.3h-12.3zM1184.3 179.4h6.3v6.3h-6.3zM729.7 185.4h6.3v6.3h-6.3zM765.6 185.4h18.2v6.3h-18.2zM1184.3 185.4h6.3v6.3h-6.3zM723.7 191.4h6.3v6.3h-6.3zM1136.5 191.4h18.2v6.3h-18.2zM1190.3 191.4h6.3v6.3h-6.3zM1190.3 197.4h12.3v6.3h-12.3zM717.7 203.4h6.3v6.3h-6.3zM717.7 209.3h6.3v6.3h-6.3zM1202.3 209.3h6.3v6.3h-6.3zM717.7 215.3h6.3v6.3h-6.3zM777.5 215.3h6.3v6.3h-6.3zM1052.7 215.3h6.3v6.3h-6.3zM1070.7 215.3h6.3v6.3h-6.3zM759.6 221.3h6.3v6.3h-6.3zM1046.7 221.3h6.3v6.3h-6.3zM723.7 227.3h6.3v6.3h-6.3zM789.5 227.3h6.3v6.3h-6.3zM825.4 227.3h12.3v6.3h-12.3zM1208.3 227.3h6.3v6.3h-6.3zM795.5 233.3h6.3v6.3h-6.3zM813.4 233.3h6.3v6.3h-6.3zM837.4 233.3h6.3v6.3h-6.3zM729.7 239.2h6.3v6.3h-6.3zM801.5 239.2h12.3v6.3h-12.3zM837.4 239.2h6.3v6.3h-6.3zM765.6 245.2h6.3v6.3h-6.3zM843.3 245.2h6.3v6.3h-6.3zM1046.7 245.2h6.3v6.3h-6.3zM843.3 251.2h6.3v6.3h-6.3zM1046.7 251.2h6.3v6.3h-6.3zM1076.6 251.2h6.3v6.3h-6.3zM1040.8 257.2h6.3v6.3h-6.3zM1124.5 257.2h12.3v6.3h-12.3zM1142.5 257.2h12.3v6.3h-12.3zM735.7 263.2h6.3v6.3h-6.3zM1070.7 263.2h6.3v6.3h-6.3zM1118.5 263.2h6.3v6.3h-6.3zM1208.3 263.2h6.3v6.3h-6.3zM765.6 269.2h6.3v6.3h-6.3zM1034.8 269.2h6.3v6.3h-6.3zM1070.7 269.2h6.3v6.3h-6.3zM1118.5 269.2h6.3v6.3h-6.3zM1154.4 269.2h6.3v6.3h-6.3zM741.6 275.1h6.3v6.3h-6.3zM843.3 275.1h12.3v6.3h-12.3zM1028.8 275.1h6.3v6.3h-6.3zM1160.4 275.1h6.3v6.3h-6.3zM1196.3 275.1h6.3v6.3h-6.3zM861.3 281.1h6.3v6.3h-6.3zM1166.4 281.1h6.3v6.3h-6.3zM1178.3 281.1h6.3v6.3h-6.3zM873.2 287.1h24.2v6.3h-24.2zM903.2 287.1h6.3v6.3h-6.3zM1106.6 287.1h6.3v6.3h-6.3zM915.1 293.1h6.3v6.3h-6.3zM974.9 311h6.3v6.3h-6.3zM939.1 317h6.3v6.3h-6.3zM969 317h6.3v6.3h-6.3zM957 329h6.3v6.3h-6.3z"/>
<path fill="#c1c1ff" d="M969 53.8h6.3v6.3h-6.3zM921.1 71.7h6.3v6.3h-6.3zM897.2 119.6h6.3v6.3h-6.3zM891.2 137.5h6.3v6.3h-6.3zM1034.8 143.5h6.3v6.3h-6.3zM1166.4 149.5h12.3v6.3h-12.3zM879.2 155.5h6.3v6.3h-6.3zM1160.4 155.5h6.3v6.3h-6.3zM873.2 161.5h6.3v6.3h-6.3zM1178.3 161.5h6.3v6.3h-6.3zM801.5 173.4h18.2v6.3h-18.2zM843.3 173.4h6.3v6.3h-6.3zM867.3 173.4h6.3v6.3h-6.3zM1040.8 173.4h6.3v6.3h-6.3zM1076.6 173.4h6.3v6.3h-6.3zM789.5 179.4h6.3v6.3h-6.3zM825.4 179.4h12.3v6.3h-12.3zM849.3 179.4h6.3v6.3h-6.3zM1058.7 179.4h6.3v6.3h-6.3zM1112.5 179.4h6.3v6.3h-6.3zM1154.4 179.4h6.3v6.3h-6.3zM735.7 185.4h6.3v6.3h-6.3zM759.6 185.4h6.3v6.3h-6.3zM855.3 185.4h12.3v6.3h-12.3zM1118.5 185.4h6.3v6.3h-6.3zM1154.4 185.4h6.3v6.3h-6.3zM771.5 191.4h6.3v6.3h-6.3zM1130.5 191.4h6.3v6.3h-6.3zM1184.3 191.4h6.3v6.3h-6.3zM1184.3 197.4h6.3v6.3h-6.3zM1190.3 203.4h12.3v6.3h-12.3zM765.6 209.3h12.3v6.3h-12.3zM783.5 215.3h6.3v6.3h-6.3zM1046.7 215.3h6.3v6.3h-6.3zM1202.3 215.3h6.3v6.3h-6.3zM723.7 221.3h6.3v6.3h-6.3zM789.5 221.3h6.3v6.3h-6.3zM825.4 221.3h6.3v6.3h-6.3zM1082.6 221.3h6.3v6.3h-6.3zM795.5 227.3h6.3v6.3h-6.3zM819.4 227.3h6.3v6.3h-6.3zM837.4 227.3h6.3v6.3h-6.3zM855.3 227.3h6.3v6.3h-6.3zM729.7 233.3h6.3v6.3h-6.3zM801.5 233.3h12.3v6.3h-12.3zM843.3 233.3h18.2v6.3h-18.2zM1208.3 233.3h6.3v6.3h-6.3zM759.6 239.2h6.3v6.3h-6.3zM843.3 239.2h18.2v6.3h-18.2zM849.3 245.2h12.3v6.3h-12.3zM1040.8 245.2h6.3v6.3h-6.3zM1082.6 245.2h6.3v6.3h-6.3zM735.7 251.2h6.3v6.3h-6.3zM765.6 251.2h6.3v6.3h-6.3zM849.3 251.2h6.3v6.3h-6.3zM1040.8 251.2h6.3v6.3h-6.3zM1118.5 251.2h30.2v6.3h-30.2zM735.7 257.2h6.3v6.3h-6.3zM765.6 257.2h6.3v6.3h-6.3zM843.3 257.2h6.3v6.3h-6.3zM1118.5 257.2h6.3v6.3h-6.3zM1208.3 257.2h6.3v6.3h-6.3zM765.6 263.2h6.3v6.3h-6.3zM843.3 263.2h6.3v6.3h-6.3zM1154.4 263.2h6.3v6.3h-6.3zM843.3 269.2h12.3v6.3h-12.3zM1202.3 269.2h6.3v6.3h-6.3zM759.6 275.1h6.3v6.3h-6.3zM855.3 275.1h6.3v6.3h-6.3zM1076.6 275.1h6.3v6.3h-6.3zM1112.5 275.1h6.3v6.3h-6.3zM1184.3 275.1h12.3v6.3h-12.3zM1172.4 281.1h6.3v6.3h-6.3zM1088.6 287.1h6.3v6.3h-6.3zM1004.9 293.1h6.3v6.3h-6.3zM992.9 299.1h6.3v6.3h-6.3zM980.9 305.1h6.3v6.3h-6.3zM963 323h6.3v6.3h-6.3zM951 329h6.3v6.3h-6.3z"/>
<path fill="#bfbfff" d="M951 53.8h6.3v6.3h-6.3zM963 53.8h6.3v6.3h-6.3zM986.9 59.8h6.3v6.3h-6.3zM927.1 65.8h6.3v6.3h-6.3zM903.2 107.6h6.3v6.3h-6.3zM1022.8 113.6h6.3v6.3h-6.3zM897.2 125.6h6.3v6.3h-6.3zM1028.8 131.6h6.3v6.3h-6.3zM885.2 149.5h6.3v6.3h-6.3zM1034.8 149.5h6.3v6.3h-6.3zM1172.4 155.5h6.3v6.3h-6.3zM879.2 161.5h6.3v6.3h-6.3zM873.2 167.5h6.3v6.3h-6.3zM1178.3 167.5h6.3v6.3h-6.3zM1082.6 173.4h6.3v6.3h-6.3zM1100.6 173.4h6.3v6.3h-6.3zM1178.3 173.4h6.3v6.3h-6.3zM819.4 179.4h6.3v6.3h-6.3zM837.4 179.4h12.3v6.3h-12.3zM867.3 179.4h6.3v6.3h-6.3zM1040.8 179.4h6.3v6.3h-6.3zM1064.7 179.4h6.3v6.3h-6.3zM1178.3 179.4h6.3v6.3h-6.3zM741.6 185.4h18.2v6.3h-18.2zM783.5 185.4h6.3v6.3h-6.3zM825.4 185.4h6.3v6.3h-6.3zM849.3 185.4h6.3v6.3h-6.3zM1046.7 185.4h6.3v6.3h-6.3zM1178.3 185.4h6.3v6.3h-6.3zM729.7 191.4h6.3v6.3h-6.3zM765.6 191.4h6.3v6.3h-6.3zM777.5 191.4h6.3v6.3h-6.3zM855.3 191.4h12.3v6.3h-12.3zM1124.5 191.4h6.3v6.3h-6.3zM1154.4 191.4h6.3v6.3h-6.3zM1178.3 191.4h6.3v6.3h-6.3zM723.7 197.4h6.3v6.3h-6.3zM771.5 197.4h6.3v6.3h-6.3zM1142.5 197.4h12.3v6.3h-12.3zM771.5 203.4h6.3v6.3h-6.3zM1184.3 203.4h6.3v6.3h-6.3zM777.5 209.3h6.3v6.3h-6.3zM1046.7 209.3h18.2v6.3h-18.2zM1190.3 209.3h12.3v6.3h-12.3zM723.7 215.3h6.3v6.3h-6.3zM759.6 215.3h6.3v6.3h-6.3zM855.3 215.3h6.3v6.3h-6.3zM1076.6 215.3h6.3v6.3h-6.3zM819.4 221.3h6.3v6.3h-6.3zM831.4 221.3h6.3v6.3h-6.3zM855.3 221.3h12.3v6.3h-12.3zM1040.8 221.3h6.3v6.3h-6.3zM1202.3 221.3h6.3v6.3h-6.3zM729.7 227.3h6.3v6.3h-6.3zM753.6 227.3h6.3v6.3h-6.3zM801.5 227.3h6.3v6.3h-6.3zM813.4 227.3h6.3v6.3h-6.3zM843.3 227.3h12.3v6.3h-12.3zM861.3 227.3h6.3v6.3h-6.3zM1040.8 227.3h6.3v6.3h-6.3zM753.6 233.3h6.3v6.3h-6.3zM861.3 233.3h6.3v6.3h-6.3zM1040.8 233.3h6.3v6.3h-6.3zM1088.6 233.3h6.3v6.3h-6.3zM735.7 239.2h6.3v6.3h-6.3zM861.3 239.2h6.3v6.3h-6.3zM1040.8 239.2h6.3v6.3h-6.3zM1088.6 239.2h6.3v6.3h-6.3zM1208.3 239.2h6.3v6.3h-6.3zM735.7 245.2h6.3v6.3h-6.3zM861.3 245.2h6.3v6.3h-6.3zM1118.5 245.2h12.3v6.3h-12.3zM1208.3 245.2h6.3v6.3h-6.3zM855.3 251.2h6.3v6.3h-6.3zM1148.4 251.2h6.3v6.3h-6.3zM1208.3 251.2h6.3v6.3h-6.3zM849.3 257.2h12.3v6.3h-12.3zM1076.6 257.2h6.3v6.3h-6.3zM1154.4 257.2h6.3v6.3h-6.3zM849.3 263.2h12.3v6.3h-12.3zM1034.8 263.2h6.3v6.3h-6.3zM741.6 269.2h6.3v6.3h-6.3zM855.3 269.2h6.3v6.3h-6.3zM1028.8 269.2h6.3v6.3h-6.3zM1076.6 269.2h6.3v6.3h-6.3zM1112.5 269.2h6.3v6.3h-6.3zM1160.4 269.2h6.3v6.3h-6.3zM747.6 275.1h12.3v6.3h-12.3zM861.3 275.1h6.3v6.3h-6.3zM1166.4 275.1h6.3v6.3h-6.3zM1178.3 275.1h6.3v6.3h-6.3zM867.3 281.1h6.3v6.3h-6.3zM1016.8 281.1h6.3v6.3h-6.3zM1082.6 281.1h6.3v6.3h-6.3zM1106.6 281.1h6.3v6.3h-6.3zM909.1 287.1h6.3v6.3h-6.3zM1010.8 287.1h6.3v6.3h-6.3zM1094.6 287.1h12.3v6.3h-12.3zM933.1 305.1h6.3v6.3h-6.3zM939.1 311h6.3v6.3h-6.3zM945 323h6.3v6.3h-6.3z"/>
<path fill="#bdbdff" d="M957 53.8h6.3v6.3h-6.3zM915.1 83.7h6.3v6.3h-6.3zM891.2 143.5h6.3v6.3h-6.3zM885.2 155.5h6.3v6.3h-6.3zM1034.8 155.5h6.3v6.3h-6.3zM1166.4 155.5h6.3v6.3h-6.3zM1034.8 161.5h6.3v6.3h-6.3zM1160.4 161.5h6.3v6.3h-6.3zM879.2 167.5h6.3v6.3h-6.3zM1160.4 167.5h6.3v6.3h-6.3zM873.2 173.4h6.3v6.3h-6.3zM1088.6 173.4h12.3v6.3h-12.3zM1160.4 173.4h6.3v6.3h-6.3zM795.5 179.4h6.3v6.3h-6.3zM813.4 179.4h6.3v6.3h-6.3zM1070.7 179.4h6.3v6.3h-6.3zM1160.4 179.4h6.3v6.3h-6.3zM789.5 185.4h6.3v6.3h-6.3zM831.4 185.4h18.2v6.3h-18.2zM867.3 185.4h6.3v6.3h-6.3zM1040.8 185.4h6.3v6.3h-6.3zM1052.7 185.4h6.3v6.3h-6.3zM1160.4 185.4h6.3v6.3h-6.3zM759.6 191.4h6.3v6.3h-6.3zM783.5 191.4h6.3v6.3h-6.3zM849.3 191.4h6.3v6.3h-6.3zM1046.7 191.4h6.3v6.3h-6.3zM765.6 197.4h6.3v6.3h-6.3zM777.5 197.4h6.3v6.3h-6.3zM855.3 197.4h12.3v6.3h-12.3zM1136.5 197.4h6.3v6.3h-6.3zM1154.4 197.4h6.3v6.3h-6.3zM1178.3 197.4h6.3v6.3h-6.3zM723.7 203.4h6.3v6.3h-6.3zM765.6 203.4h6.3v6.3h-6.3zM777.5 203.4h6.3v6.3h-6.3zM855.3 203.4h12.3v6.3h-12.3zM1046.7 203.4h6.3v6.3h-6.3zM723.7 209.3h6.3v6.3h-6.3zM783.5 209.3h6.3v6.3h-6.3zM855.3 209.3h12.3v6.3h-12.3zM1064.7 209.3h6.3v6.3h-6.3zM1184.3 209.3h6.3v6.3h-6.3zM789.5 215.3h6.3v6.3h-6.3zM825.4 215.3h12.3v6.3h-12.3zM849.3 215.3h6.3v6.3h-6.3zM861.3 215.3h6.3v6.3h-6.3zM1040.8 215.3h6.3v6.3h-6.3zM1190.3 215.3h12.3v6.3h-12.3zM753.6 221.3h6.3v6.3h-6.3zM795.5 221.3h6.3v6.3h-6.3zM837.4 221.3h18.2v6.3h-18.2zM807.4 227.3h6.3v6.3h-6.3zM1088.6 227.3h6.3v6.3h-6.3zM735.7 233.3h6.3v6.3h-6.3zM867.3 233.3h6.3v6.3h-6.3zM753.6 239.2h6.3v6.3h-6.3zM759.6 245.2h6.3v6.3h-6.3zM1088.6 245.2h6.3v6.3h-6.3zM1112.5 245.2h6.3v6.3h-6.3zM1130.5 245.2h24.2v6.3h-24.2zM861.3 251.2h6.3v6.3h-6.3zM1082.6 251.2h6.3v6.3h-6.3zM1112.5 251.2h6.3v6.3h-6.3zM861.3 257.2h6.3v6.3h-6.3zM1034.8 257.2h6.3v6.3h-6.3zM1112.5 257.2h6.3v6.3h-6.3zM741.6 263.2h6.3v6.3h-6.3zM1076.6 263.2h6.3v6.3h-6.3zM1112.5 263.2h6.3v6.3h-6.3zM1202.3 263.2h6.3v6.3h-6.3zM759.6 269.2h6.3v6.3h-6.3zM1184.3 269.2h18.2v6.3h-18.2zM1022.8 275.1h6.3v6.3h-6.3zM1172.4 275.1h6.3v6.3h-6.3zM873.2 281.1h30.2v6.3h-30.2zM927.1 299.1h6.3v6.3h-6.3zM969 311h6.3v6.3h-6.3zM945 317h6.3v6.3h-6.3zM963 317h6.3v6.3h-6.3zM957 323h6.3v6.3h-6.3z"/>
<path fill="#bbbbff" d="M1004.9 77.7h6.3v6.3h-6.3zM909.1 95.7h6.3v6.3h-6.3zM1016.8 101.7h6.3v6.3h-6.3zM1022.8 119.6h6.3v6.3h-6.3zM897.2 131.6h6.3v6.3h-6.3zM1028.8 137.5h6.3v6.3h-6.3zM885.2 161.5h6.3v6.3h-6.3zM1166.4 161.5h12.3v6.3h-12.3zM1034.8 167.5h6.3v6.3h-6.3zM1172.4 167.5h6.3v6.3h-6.3zM879.2 173.4h6.3v6.3h-6.3zM1172.4 173.4h6.3v6.3h-6.3zM801.5 179.4h12.3v6.3h-12.3zM873.2 179.4h6.3v6.3h-6.3zM1106.6 179.4h6.3v6.3h-6.3zM1172.4 179.4h6.3v6.3h-6.3zM819.4 185.4h6.3v6.3h-6.3zM1058.7 185.4h6.3v6.3h-6.3zM1112.5 185.4h6.3v6.3h-6.3zM1172.4 185.4h6.3v6.3h-6.3zM735.7 191.4h6.3v6.3h-6.3zM753.6 191.4h6.3v6.3h-6.3zM825.4 191.4h24.2v6.3h-24.2zM867.3 191.4h6.3v6.3h-6.3zM1052.7 191.4h6.3v6.3h-6.3zM1118.5 191.4h6.3v6.3h-6.3zM1160.4 191.4h6.3v6.3h-6.3zM1172.4 191.4h6.3v6.3h-6.3zM729.7 197.4h6.3v6.3h-6.3zM759.6 197.4h6.3v6.3h-6.3zM849.3 197.4h6.3v6.3h-6.3zM867.3 197.4h6.3v6.3h-6.3zM1046.7 197.4h6.3v6.3h-6.3zM1130.5 197.4h6.3v6.3h-6.3zM783.5 203.4h6.3v6.3h-6.3zM849.3 203.4h6.3v6.3h-6.3zM1052.7 203.4h6.3v6.3h-6.3zM1148.4 203.4h6.3v6.3h-6.3zM1178.3 203.4h6.3v6.3h-6.3zM759.6 209.3h6.3v6.3h-6.3zM825.4 209.3h12.3v6.3h-12.3zM849.3 209.3h6.3v6.3h-6.3zM1040.8 209.3h6.3v6.3h-6.3zM1070.7 209.3h6.3v6.3h-6.3zM1178.3 209.3h6.3v6.3h-6.3zM819.4 215.3h6.3v6.3h-6.3zM837.4 215.3h12.3v6.3h-12.3zM867.3 215.3h6.3v6.3h-6.3zM1184.3 215.3h6.3v6.3h-6.3zM729.7 221.3h6.3v6.3h-6.3zM801.5 221.3h6.3v6.3h-6.3zM813.4 221.3h6.3v6.3h-6.3zM867.3 221.3h6.3v6.3h-6.3zM1196.3 221.3h6.3v6.3h-6.3zM867.3 227.3h6.3v6.3h-6.3zM1202.3 227.3h6.3v6.3h-6.3zM741.6 233.3h12.3v6.3h-12.3zM741.6 239.2h12.3v6.3h-12.3zM867.3 239.2h6.3v6.3h-6.3zM1094.6 239.2h6.3v6.3h-6.3zM1112.5 239.2h18.2v6.3h-18.2zM741.6 245.2h6.3v6.3h-6.3zM753.6 245.2h6.3v6.3h-6.3zM867.3 245.2h6.3v6.3h-6.3zM741.6 251.2h6.3v6.3h-6.3zM759.6 251.2h6.3v6.3h-6.3zM1034.8 251.2h6.3v6.3h-6.3zM1154.4 251.2h6.3v6.3h-6.3zM741.6 257.2h6.3v6.3h-6.3zM759.6 257.2h6.3v6.3h-6.3zM759.6 263.2h6.3v6.3h-6.3zM861.3 263.2h6.3v6.3h-6.3zM1160.4 263.2h6.3v6.3h-6.3zM747.6 269.2h12.3v6.3h-12.3zM861.3 269.2h6.3v6.3h-6.3zM1166.4 269.2h6.3v6.3h-6.3zM1178.3 269.2h6.3v6.3h-6.3zM867.3 275.1h6.3v6.3h-6.3zM1082.6 275.1h6.3v6.3h-6.3zM1106.6 275.1h6.3v6.3h-6.3zM903.2 281.1h6.3v6.3h-6.3zM1088.6 281.1h6.3v6.3h-6.3zM951 323h6.3v6.3h-6.3z"/>
<path fill="#b9b9ff" d="M1010.8 89.7h6.3v6.3h-6.3zM903.2 113.6h6.3v6.3h-6.3zM897.2 137.5h6.3v6.3h-6.3zM1028.8 143.5h6.3v6.3h-6.3zM891.2 149.5h6.3v6.3h-6.3zM1166.4 167.5h6.3v6.3h-6.3zM1034.8 173.4h6.3v6.3h-6.3zM1166.4 173.4h6.3v6.3h-6.3zM1076.6 179.4h6.3v6.3h-6.3zM1166.4 179.4h6.3v6.3h-6.3zM795.5 185.4h6.3v6.3h-6.3zM873.2 185.4h6.3v6.3h-6.3zM1064.7 185.4h6.3v6.3h-6.3zM1166.4 185.4h6.3v6.3h-6.3zM741.6 191.4h12.3v6.3h-12.3zM789.5 191.4h6.3v6.3h-6.3zM819.4 191.4h6.3v6.3h-6.3zM1040.8 191.4h6.3v6.3h-6.3zM1166.4 191.4h6.3v6.3h-6.3zM783.5 197.4h6.3v6.3h-6.3zM825.4 197.4h24.2v6.3h-24.2zM1040.8 197.4h6.3v6.3h-6.3zM1052.7 197.4h6.3v6.3h-6.3zM1124.5 197.4h6.3v6.3h-6.3zM1160.4 197.4h18.2v6.3h-18.2zM729.7 203.4h6.3v6.3h-6.3zM759.6 203.4h6.3v6.3h-6.3zM825.4 203.4h24.2v6.3h-24.2zM867.3 203.4h6.3v6.3h-6.3zM1040.8 203.4h6.3v6.3h-6.3zM1058.7 203.4h6.3v6.3h-6.3zM1142.5 203.4h6.3v6.3h-6.3zM1154.4 203.4h6.3v6.3h-6.3zM1172.4 203.4h6.3v6.3h-6.3zM789.5 209.3h6.3v6.3h-6.3zM819.4 209.3h6.3v6.3h-6.3zM837.4 209.3h12.3v6.3h-12.3zM867.3 209.3h6.3v6.3h-6.3zM729.7 215.3h6.3v6.3h-6.3zM753.6 215.3h6.3v6.3h-6.3zM795.5 215.3h6.3v6.3h-6.3zM807.4 221.3h6.3v6.3h-6.3zM1184.3 221.3h12.3v6.3h-12.3zM735.7 227.3h18.2v6.3h-18.2zM1094.6 233.3h6.3v6.3h-6.3zM1202.3 233.3h6.3v6.3h-6.3zM1034.8 239.2h6.3v6.3h-6.3zM1100.6 239.2h12.3v6.3h-12.3zM1130.5 239.2h24.2v6.3h-24.2zM747.6 245.2h6.3v6.3h-6.3zM1034.8 245.2h6.3v6.3h-6.3zM1094.6 245.2h6.3v6.3h-6.3zM1106.6 245.2h6.3v6.3h-6.3zM1154.4 245.2h6.3v6.3h-6.3zM747.6 251.2h12.3v6.3h-12.3zM867.3 251.2h6.3v6.3h-6.3zM1088.6 251.2h6.3v6.3h-6.3zM1106.6 251.2h6.3v6.3h-6.3zM1082.6 257.2h6.3v6.3h-6.3zM1160.4 257.2h6.3v6.3h-6.3zM1202.3 257.2h6.3v6.3h-6.3zM747.6 263.2h12.3v6.3h-12.3zM1028.8 263.2h6.3v6.3h-6.3zM1184.3 263.2h18.2v6.3h-18.2zM1172.4 269.2h6.3v6.3h-6.3zM1094.6 281.1h12.3v6.3h-12.3zM921.1 293.1h6.3v6.3h-6.3zM998.9 293.1h6.3v6.3h-6.3zM986.9 299.1h6.3v6.3h-6.3zM974.9 305.1h6.3v6.3h-6.3zM945 311h6.3v6.3h-6.3zM951 317h12.3v6.3h-12.3z"/>
<path fill="#b7b7ff" d="M992.9 65.8h6.3v6.3h-6.3zM998.9 71.7h6.3v6.3h-6.3zM921.1 77.7h6.3v6.3h-6.3zM1022.8 125.6h6.3v6.3h-6.3zM891.2 155.5h6.3v6.3h-6.3zM885.2 167.5h6.3v6.3h-6.3zM879.2 179.4h6.3v6.3h-6.3zM1034.8 179.4h6.3v6.3h-6.3zM1100.6 179.4h6.3v6.3h-6.3zM813.4 185.4h6.3v6.3h-6.3zM873.2 191.4h6.3v6.3h-6.3zM1058.7 191.4h6.3v6.3h-6.3zM735.7 197.4h6.3v6.3h-6.3zM753.6 197.4h6.3v6.3h-6.3zM819.4 197.4h6.3v6.3h-6.3zM789.5 203.4h6.3v6.3h-6.3zM819.4 203.4h6.3v6.3h-6.3zM1136.5 203.4h6.3v6.3h-6.3zM1160.4 203.4h12.3v6.3h-12.3zM729.7 209.3h6.3v6.3h-6.3zM753.6 209.3h6.3v6.3h-6.3zM1172.4 209.3h6.3v6.3h-6.3zM813.4 215.3h6.3v6.3h-6.3zM1082.6 215.3h6.3v6.3h-6.3zM1178.3 215.3h6.3v6.3h-6.3zM735.7 221.3h6.3v6.3h-6.3zM747.6 221.3h6.3v6.3h-6.3zM873.2 221.3h6.3v6.3h-6.3zM1088.6 221.3h6.3v6.3h-6.3zM873.2 227.3h6.3v6.3h-6.3zM1184.3 227.3h18.2v6.3h-18.2zM873.2 233.3h12.3v6.3h-12.3zM1034.8 233.3h6.3v6.3h-6.3zM1100.6 233.3h6.3v6.3h-6.3zM1112.5 233.3h12.3v6.3h-12.3zM873.2 239.2h12.3v6.3h-12.3zM1154.4 239.2h6.3v6.3h-6.3zM1202.3 239.2h6.3v6.3h-6.3zM873.2 245.2h12.3v6.3h-12.3zM1100.6 245.2h6.3v6.3h-6.3zM1202.3 245.2h6.3v6.3h-6.3zM1160.4 251.2h6.3v6.3h-6.3zM1202.3 251.2h6.3v6.3h-6.3zM747.6 257.2h12.3v6.3h-12.3zM867.3 257.2h6.3v6.3h-6.3zM1028.8 257.2h6.3v6.3h-6.3zM1106.6 257.2h6.3v6.3h-6.3zM867.3 263.2h6.3v6.3h-6.3zM1082.6 263.2h6.3v6.3h-6.3zM1106.6 263.2h6.3v6.3h-6.3zM1166.4 263.2h6.3v6.3h-6.3zM1178.3 263.2h6.3v6.3h-6.3zM867.3 269.2h6.3v6.3h-6.3zM1022.8 269.2h6.3v6.3h-6.3zM1082.6 269.2h6.3v6.3h-6.3zM1106.6 269.2h6.3v6.3h-6.3zM873.2 275.1h24.2v6.3h-24.2zM915.1 287.1h6.3v6.3h-6.3zM939.1 305.1h6.3v6.3h-6.3zM963 311h6.3v6.3h-6.3z"/>
<path fill="#b5b5ff" d="M939.1 59.8h6.3v6.3h-6.3zM980.9 59.8h6.3v6.3h-6.3zM1016.8 107.6h6.3v6.3h-6.3zM903.2 119.6h6.3v6.3h-6.3zM1022.8 131.6h6.3v6.3h-6.3zM897.2 143.5h6.3v6.3h-6.3zM1028.8 149.5h6.3v6.3h-6.3zM885.2 173.4h6.3v6.3h-6.3zM1082.6 179.4h6.3v6.3h-6.3zM801.5 185.4h12.3v6.3h-12.3zM879.2 185.4h6.3v6.3h-6.3zM1070.7 185.4h6.3v6.3h-6.3zM741.6 197.4h12.3v6.3h-12.3zM789.5 197.4h6.3v6.3h-6.3zM873.2 197.4h6.3v6.3h-6.3zM1058.7 197.4h6.3v6.3h-6.3zM735.7 203.4h6.3v6.3h-6.3zM753.6 203.4h6.3v6.3h-6.3zM873.2 203.4h6.3v6.3h-6.3zM1064.7 203.4h6.3v6.3h-6.3zM1130.5 203.4h6.3v6.3h-6.3zM795.5 209.3h6.3v6.3h-6.3zM873.2 209.3h6.3v6.3h-6.3zM1076.6 209.3h6.3v6.3h-6.3zM1148.4 209.3h12.3v6.3h-12.3zM735.7 215.3h6.3v6.3h-6.3zM747.6 215.3h6.3v6.3h-6.3zM801.5 215.3h12.3v6.3h-12.3zM873.2 215.3h6.3v6.3h-6.3zM1172.4 215.3h6.3v6.3h-6.3zM741.6 221.3h6.3v6.3h-6.3zM879.2 221.3h6.3v6.3h-6.3zM1034.8 221.3h6.3v6.3h-6.3zM1178.3 221.3h6.3v6.3h-6.3zM879.2 227.3h6.3v6.3h-6.3zM1034.8 227.3h6.3v6.3h-6.3zM1094.6 227.3h6.3v6.3h-6.3zM1106.6 233.3h6.3v6.3h-6.3zM1124.5 233.3h6.3v6.3h-6.3zM1142.5 233.3h12.3v6.3h-12.3zM1190.3 233.3h12.3v6.3h-12.3zM1160.4 245.2h6.3v6.3h-6.3zM873.2 251.2h12.3v6.3h-12.3zM1094.6 251.2h12.3v6.3h-12.3zM1088.6 257.2h6.3v6.3h-6.3zM1166.4 257.2h6.3v6.3h-6.3zM1184.3 257.2h18.2v6.3h-18.2zM1172.4 263.2h6.3v6.3h-6.3zM879.2 269.2h6.3v6.3h-6.3zM897.2 275.1h6.3v6.3h-6.3zM1016.8 275.1h6.3v6.3h-6.3zM1088.6 275.1h6.3v6.3h-6.3zM1100.6 275.1h6.3v6.3h-6.3zM909.1 281.1h6.3v6.3h-6.3zM951 311h12.3v6.3h-12.3z"/>
<path fill="#b3b3ff" d="M915.1 89.7h6.3v6.3h-6.3zM909.1 101.7h6.3v6.3h-6.3zM1028.8 155.5h6.3v6.3h-6.3zM891.2 161.5h6.3v6.3h-6.3zM885.2 179.4h6.3v6.3h-6.3zM1088.6 179.4h12.3v6.3h-12.3zM1034.8 185.4h6.3v6.3h-6.3zM1106.6 185.4h6.3v6.3h-6.3zM795.5 191.4h6.3v6.3h-6.3zM813.4 191.4h6.3v6.3h-6.3zM879.2 191.4h6.3v6.3h-6.3zM1064.7 191.4h6.3v6.3h-6.3zM1112.5 191.4h6.3v6.3h-6.3zM1064.7 197.4h6.3v6.3h-6.3zM1118.5 197.4h6.3v6.3h-6.3zM741.6 203.4h12.3v6.3h-12.3zM1070.7 203.4h6.3v6.3h-6.3zM1124.5 203.4h6.3v6.3h-6.3zM735.7 209.3h6.3v6.3h-6.3zM747.6 209.3h6.3v6.3h-6.3zM813.4 209.3h6.3v6.3h-6.3zM1142.5 209.3h6.3v6.3h-6.3zM1160.4 209.3h12.3v6.3h-12.3zM741.6 215.3h6.3v6.3h-6.3zM879.2 215.3h6.3v6.3h-6.3zM1034.8 215.3h6.3v6.3h-6.3zM1172.4 221.3h6.3v6.3h-6.3zM1178.3 227.3h6.3v6.3h-6.3zM885.2 233.3h6.3v6.3h-6.3zM1130.5 233.3h12.3v6.3h-12.3zM1154.4 233.3h6.3v6.3h-6.3zM1184.3 233.3h6.3v6.3h-6.3zM885.2 239.2h6.3v6.3h-6.3zM1160.4 239.2h6.3v6.3h-6.3zM1184.3 239.2h18.2v6.3h-18.2zM885.2 245.2h6.3v6.3h-6.3zM1196.3 245.2h6.3v6.3h-6.3zM885.2 251.2h6.3v6.3h-6.3zM1028.8 251.2h6.3v6.3h-6.3zM1184.3 251.2h18.2v6.3h-18.2zM873.2 257.2h12.3v6.3h-12.3zM1094.6 257.2h12.3v6.3h-12.3zM1172.4 257.2h12.3v6.3h-12.3zM873.2 263.2h12.3v6.3h-12.3zM1022.8 263.2h6.3v6.3h-6.3zM1088.6 263.2h6.3v6.3h-6.3zM873.2 269.2h6.3v6.3h-6.3zM885.2 269.2h12.3v6.3h-12.3zM1088.6 269.2h6.3v6.3h-6.3zM903.2 275.1h6.3v6.3h-6.3zM1094.6 275.1h6.3v6.3h-6.3zM1010.8 281.1h6.3v6.3h-6.3zM1004.9 287.1h6.3v6.3h-6.3zM933.1 299.1h6.3v6.3h-6.3zM969 305.1h6.3v6.3h-6.3z"/>
<path fill="#b1b1ff" d="M927.1 71.7h6.3v6.3h-6.3zM1016.8 113.6h6.3v6.3h-6.3zM903.2 125.6h6.3v6.3h-6.3zM1022.8 137.5h6.3v6.3h-6.3zM897.2 149.5h6.3v6.3h-6.3zM1028.8 161.5h6.3v6.3h-6.3zM891.2 167.5h6.3v6.3h-6.3zM885.2 185.4h6.3v6.3h-6.3zM1076.6 185.4h6.3v6.3h-6.3zM801.5 191.4h12.3v6.3h-12.3zM1034.8 191.4h6.3v6.3h-6.3zM795.5 197.4h6.3v6.3h-6.3zM813.4 197.4h6.3v6.3h-6.3zM879.2 197.4h6.3v6.3h-6.3zM795.5 203.4h6.3v6.3h-6.3zM813.4 203.4h6.3v6.3h-6.3zM879.2 203.4h6.3v6.3h-6.3zM741.6 209.3h6.3v6.3h-6.3zM801.5 209.3h12.3v6.3h-12.3zM879.2 209.3h6.3v6.3h-6.3zM1034.8 209.3h6.3v6.3h-6.3zM1136.5 209.3h6.3v6.3h-6.3zM1148.4 215.3h24.2v6.3h-24.2zM885.2 227.3h6.3v6.3h-6.3zM1100.6 227.3h24.2v6.3h-24.2zM1148.4 227.3h12.3v6.3h-12.3zM1172.4 227.3h6.3v6.3h-6.3zM1160.4 233.3h6.3v6.3h-6.3zM1178.3 233.3h6.3v6.3h-6.3zM1178.3 239.2h6.3v6.3h-6.3zM1028.8 245.2h6.3v6.3h-6.3zM1166.4 245.2h6.3v6.3h-6.3zM1178.3 245.2h18.2v6.3h-18.2zM1166.4 251.2h18.2v6.3h-18.2zM885.2 257.2h6.3v6.3h-6.3zM885.2 263.2h6.3v6.3h-6.3zM1094.6 263.2h12.3v6.3h-12.3zM897.2 269.2h6.3v6.3h-6.3zM1094.6 269.2h12.3v6.3h-12.3zM980.9 299.1h6.3v6.3h-6.3zM945 305.1h6.3v6.3h-6.3z"/>
<path fill="#afafff" d="M933.1 65.8h6.3v6.3h-6.3zM1004.9 83.7h6.3v6.3h-6.3zM1010.8 95.7h6.3v6.3h-6.3zM903.2 131.6h6.3v6.3h-6.3zM1028.8 167.5h6.3v6.3h-6.3zM891.2 173.4h6.3v6.3h-6.3zM1070.7 191.4h6.3v6.3h-6.3zM801.5 197.4h12.3v6.3h-12.3zM1034.8 197.4h6.3v6.3h-6.3zM801.5 203.4h12.3v6.3h-12.3zM1034.8 203.4h6.3v6.3h-6.3zM1118.5 203.4h6.3v6.3h-6.3zM1130.5 209.3h6.3v6.3h-6.3zM885.2 215.3h6.3v6.3h-6.3zM1088.6 215.3h6.3v6.3h-6.3zM1142.5 215.3h6.3v6.3h-6.3zM885.2 221.3h6.3v6.3h-6.3zM1094.6 221.3h6.3v6.3h-6.3zM1148.4 221.3h24.2v6.3h-24.2zM1124.5 227.3h6.3v6.3h-6.3zM1142.5 227.3h6.3v6.3h-6.3zM1160.4 227.3h12.3v6.3h-12.3zM1166.4 233.3h12.3v6.3h-12.3zM891.2 239.2h6.3v6.3h-6.3zM1028.8 239.2h6.3v6.3h-6.3zM1166.4 239.2h12.3v6.3h-12.3zM891.2 245.2h6.3v6.3h-6.3zM1172.4 245.2h6.3v6.3h-6.3zM891.2 251.2h6.3v6.3h-6.3zM891.2 257.2h6.3v6.3h-6.3zM891.2 263.2h6.3v6.3h-6.3zM1016.8 269.2h6.3v6.3h-6.3zM927.1 293.1h6.3v6.3h-6.3zM992.9 293.1h6.3v6.3h-6.3z"/>
<path fill="#adadff" d="M974.9 59.8h6.3v6.3h-6.3zM909.1 107.6h6.3v6.3h-6.3zM1016.8 119.6h6.3v6.3h-6.3zM1022.8 143.5h6.3v6.3h-6.3zM897.2 155.5h6.3v6.3h-6.3zM1028.8 173.4h6.3v6.3h-6.3zM1082.6 185.4h6.3v6.3h-6.3zM1100.6 185.4h6.3v6.3h-6.3zM885.2 191.4h6.3v6.3h-6.3zM885.2 197.4h6.3v6.3h-6.3zM1070.7 197.4h6.3v6.3h-6.3zM1112.5 197.4h6.3v6.3h-6.3zM885.2 209.3h6.3v6.3h-6.3zM1082.6 209.3h6.3v6.3h-6.3zM1124.5 209.3h6.3v6.3h-6.3zM1142.5 221.3h6.3v6.3h-6.3zM1130.5 227.3h12.3v6.3h-12.3zM891.2 233.3h6.3v6.3h-6.3zM1028.8 233.3h6.3v6.3h-6.3zM1022.8 257.2h6.3v6.3h-6.3zM897.2 263.2h6.3v6.3h-6.3zM903.2 269.2h6.3v6.3h-6.3zM951 305.1h6.3v6.3h-6.3zM963 305.1h6.3v6.3h-6.3z"/>
<path fill="#ababff" d="M945 59.8h6.3v6.3h-6.3zM986.9 65.8h6.3v6.3h-6.3zM998.9 77.7h6.3v6.3h-6.3zM921.1 83.7h6.3v6.3h-6.3zM903.2 137.5h6.3v6.3h-6.3zM891.2 179.4h6.3v6.3h-6.3zM1106.6 191.4h6.3v6.3h-6.3zM885.2 203.4h6.3v6.3h-6.3zM1076.6 203.4h6.3v6.3h-6.3zM1118.5 209.3h6.3v6.3h-6.3zM1136.5 215.3h6.3v6.3h-6.3zM1100.6 221.3h30.2v6.3h-30.2zM1136.5 221.3h6.3v6.3h-6.3zM891.2 227.3h6.3v6.3h-6.3zM1028.8 227.3h6.3v6.3h-6.3zM897.2 257.2h6.3v6.3h-6.3zM909.1 275.1h6.3v6.3h-6.3zM915.1 281.1h6.3v6.3h-6.3zM921.1 287.1h6.3v6.3h-6.3zM939.1 299.1h6.3v6.3h-6.3zM957 305.1h6.3v6.3h-6.3z"/>
<path fill="#a9a9ff" d="M992.9 71.7h6.3v6.3h-6.3zM1016.8 125.6h6.3v6.3h-6.3zM1022.8 149.5h6.3v6.3h-6.3zM897.2 161.5h6.3v6.3h-6.3zM1028.8 179.4h6.3v6.3h-6.3zM891.2 185.4h6.3v6.3h-6.3zM1088.6 185.4h12.3v6.3h-12.3zM1076.6 191.4h6.3v6.3h-6.3zM1112.5 203.4h6.3v6.3h-6.3zM1094.6 215.3h6.3v6.3h-6.3zM1118.5 215.3h18.2v6.3h-18.2zM891.2 221.3h6.3v6.3h-6.3zM1130.5 221.3h6.3v6.3h-6.3zM897.2 245.2h6.3v6.3h-6.3zM897.2 251.2h6.3v6.3h-6.3zM1022.8 251.2h6.3v6.3h-6.3zM1010.8 275.1h6.3v6.3h-6.3zM974.9 299.1h6.3v6.3h-6.3z"/>
<path fill="#a7a7ff" d="M915.1 95.7h6.3v6.3h-6.3zM1010.8 101.7h6.3v6.3h-6.3zM909.1 113.6h6.3v6.3h-6.3zM903.2 143.5h6.3v6.3h-6.3zM897.2 167.5h6.3v6.3h-6.3zM891.2 191.4h6.3v6.3h-6.3zM1076.6 197.4h6.3v6.3h-6.3zM1088.6 209.3h6.3v6.3h-6.3zM1112.5 209.3h6.3v6.3h-6.3zM891.2 215.3h6.3v6.3h-6.3zM1112.5 215.3h6.3v6.3h-6.3zM1028.8 221.3h6.3v6.3h-6.3zM897.2 239.2h6.3v6.3h-6.3zM903.2 263.2h6.3v6.3h-6.3zM1016.8 263.2h6.3v6.3h-6.3zM998.9 287.1h6.3v6.3h-6.3z"/>
<path fill="#a5a5ff" d="M969 59.8h6.3v6.3h-6.3zM927.1 77.7h6.3v6.3h-6.3zM1016.8 131.6h6.3v6.3h-6.3zM1022.8 155.5h6.3v6.3h-6.3zM1028.8 185.4h6.3v6.3h-6.3zM1082.6 191.4h6.3v6.3h-6.3zM1100.6 191.4h6.3v6.3h-6.3zM891.2 197.4h6.3v6.3h-6.3zM1106.6 197.4h6.3v6.3h-6.3zM891.2 203.4h6.3v6.3h-6.3zM1082.6 203.4h6.3v6.3h-6.3zM891.2 209.3h6.3v6.3h-6.3zM1028.8 215.3h6.3v6.3h-6.3zM1100.6 215.3h12.3v6.3h-12.3zM897.2 233.3h6.3v6.3h-6.3zM1022.8 245.2h6.3v6.3h-6.3zM986.9 293.1h6.3v6.3h-6.3z"/>
<path fill="#a3a3ff" d="M951 59.8h6.3v6.3h-6.3zM909.1 119.6h6.3v6.3h-6.3zM897.2 173.4h6.3v6.3h-6.3zM1028.8 191.4h6.3v6.3h-6.3zM1106.6 203.4h6.3v6.3h-6.3zM1028.8 209.3h6.3v6.3h-6.3zM1106.6 209.3h6.3v6.3h-6.3zM903.2 257.2h6.3v6.3h-6.3zM909.1 269.2h6.3v6.3h-6.3zM1004.9 281.1h6.3v6.3h-6.3zM933.1 293.1h6.3v6.3h-6.3zM945 299.1h6.3v6.3h-6.3zM969 299.1h6.3v6.3h-6.3z"/>
<path fill="#a1a1ff" d="M963 59.8h6.3v6.3h-6.3zM1004.9 89.7h6.3v6.3h-6.3zM1016.8 137.5h6.3v6.3h-6.3zM903.2 149.5h6.3v6.3h-6.3zM1022.8 161.5h6.3v6.3h-6.3zM897.2 179.4h6.3v6.3h-6.3zM1088.6 191.4h12.3v6.3h-12.3zM1028.8 197.4h6.3v6.3h-6.3zM1082.6 197.4h6.3v6.3h-6.3zM1028.8 203.4h6.3v6.3h-6.3zM1094.6 209.3h12.3v6.3h-12.3zM897.2 227.3h6.3v6.3h-6.3zM1022.8 239.2h6.3v6.3h-6.3zM903.2 251.2h6.3v6.3h-6.3zM1016.8 257.2h6.3v6.3h-6.3z"/>
<path fill="#9f9fff" d="M957 59.8h6.3v6.3h-6.3zM939.1 65.8h6.3v6.3h-6.3zM980.9 65.8h6.3v6.3h-6.3zM933.1 71.7h6.3v6.3h-6.3zM1010.8 107.6h6.3v6.3h-6.3zM909.1 125.6h6.3v6.3h-6.3zM1022.8 167.5h6.3v6.3h-6.3zM1100.6 197.4h6.3v6.3h-6.3zM1088.6 203.4h6.3v6.3h-6.3zM897.2 221.3h6.3v6.3h-6.3zM1022.8 233.3h6.3v6.3h-6.3zM1010.8 269.2h6.3v6.3h-6.3zM915.1 275.1h6.3v6.3h-6.3z"/>
<path fill="#9d9dff" d="M921.1 89.7h6.3v6.3h-6.3zM915.1 101.7h6.3v6.3h-6.3zM903.2 155.5h6.3v6.3h-6.3zM1022.8 173.4h6.3v6.3h-6.3zM897.2 185.4h6.3v6.3h-6.3zM1088.6 197.4h12.3v6.3h-12.3zM1094.6 203.4h12.3v6.3h-12.3zM897.2 215.3h6.3v6.3h-6.3zM903.2 245.2h6.3v6.3h-6.3zM909.1 263.2h6.3v6.3h-6.3zM921.1 281.1h6.3v6.3h-6.3zM927.1 287.1h6.3v6.3h-6.3zM951 299.1h6.3v6.3h-6.3zM963 299.1h6.3v6.3h-6.3z"/>
<path fill="#9b9bff" d="M992.9 77.7h6.3v6.3h-6.3zM998.9 83.7h6.3v6.3h-6.3zM909.1 131.6h6.3v6.3h-6.3zM1016.8 143.5h6.3v6.3h-6.3zM897.2 191.4h6.3v6.3h-6.3zM1022.8 227.3h6.3v6.3h-6.3zM1016.8 251.2h6.3v6.3h-6.3zM992.9 287.1h6.3v6.3h-6.3zM980.9 293.1h6.3v6.3h-6.3zM957 299.1h6.3v6.3h-6.3z"/>
<path fill="#9999ff" d="M986.9 71.7h6.3v6.3h-6.3zM1010.8 113.6h6.3v6.3h-6.3zM903.2 161.5h6.3v6.3h-6.3zM1022.8 179.4h6.3v6.3h-6.3zM897.2 197.4h6.3v6.3h-6.3zM897.2 203.4h6.3v6.3h-6.3zM897.2 209.3h6.3v6.3h-6.3zM1022.8 221.3h6.3v6.3h-6.3zM903.2 239.2h6.3v6.3h-6.3z"/>
<path fill="#9797ff" d="M909.1 137.5h6.3v6.3h-6.3zM903.2 167.5h6.3v6.3h-6.3zM903.2 233.3h6.3v6.3h-6.3zM1016.8 245.2h6.3v6.3h-6.3zM909.1 257.2h6.3v6.3h-6.3zM1010.8 263.2h6.3v6.3h-6.3zM939.1 293.1h6.3v6.3h-6.3z"/>
<path fill="#9595ff" d="M927.1 83.7h6.3v6.3h-6.3zM915.1 107.6h6.3v6.3h-6.3zM1016.8 149.5h6.3v6.3h-6.3zM1022.8 185.4h6.3v6.3h-6.3zM1022.8 215.3h6.3v6.3h-6.3zM915.1 269.2h6.3v6.3h-6.3zM1004.9 275.1h6.3v6.3h-6.3zM998.9 281.1h6.3v6.3h-6.3z"/>
<path fill="#9393ff" d="M974.9 65.8h6.3v6.3h-6.3zM1004.9 95.7h6.3v6.3h-6.3zM1010.8 119.6h6.3v6.3h-6.3zM903.2 173.4h6.3v6.3h-6.3zM903.2 227.3h6.3v6.3h-6.3z"/>
<path fill="#9191ff" d="M909.1 143.5h6.3v6.3h-6.3zM1016.8 155.5h6.3v6.3h-6.3zM1022.8 191.4h6.3v6.3h-6.3zM1022.8 209.3h6.3v6.3h-6.3zM1016.8 239.2h6.3v6.3h-6.3zM909.1 251.2h6.3v6.3h-6.3zM974.9 293.1h6.3v6.3h-6.3z"/>
<path fill="#8f8fff" d="M945 65.8h6.3v6.3h-6.3zM933.1 77.7h6.3v6.3h-6.3zM915.1 113.6h6.3v6.3h-6.3zM1010.8 125.6h6.3v6.3h-6.3zM903.2 179.4h6.3v6.3h-6.3zM1022.8 197.4h6.3v6.3h-6.3zM1022.8 203.4h6.3v6.3h-6.3zM903.2 221.3h6.3v6.3h-6.3z"/>
<path fill="#8d8dff" d="M921.1 95.7h6.3v6.3h-6.3zM1016.8 161.5h6.3v6.3h-6.3zM1016.8 233.3h6.3v6.3h-6.3zM909.1 245.2h6.3v6.3h-6.3zM1010.8 257.2h6.3v6.3h-6.3zM921.1 275.1h6.3v6.3h-6.3zM933.1 287.1h6.3v6.3h-6.3zM986.9 287.1h6.3v6.3h-6.3z"/>
<path fill="#8b8bff" d="M939.1 71.7h6.3v6.3h-6.3zM980.9 71.7h6.3v6.3h-6.3zM909.1 149.5h6.3v6.3h-6.3zM1016.8 167.5h6.3v6.3h-6.3zM903.2 185.4h6.3v6.3h-6.3zM903.2 215.3h6.3v6.3h-6.3zM915.1 263.2h6.3v6.3h-6.3zM927.1 281.1h6.3v6.3h-6.3zM945 293.1h6.3v6.3h-6.3z"/>
<path fill="#8989ff" d="M969 65.8h6.3v6.3h-6.3zM986.9 77.7h6.3v6.3h-6.3zM998.9 89.7h6.3v6.3h-6.3zM915.1 119.6h6.3v6.3h-6.3zM1010.8 131.6h6.3v6.3h-6.3zM1016.8 227.3h6.3v6.3h-6.3zM1004.9 269.2h6.3v6.3h-6.3zM969 293.1h6.3v6.3h-6.3z"/>
<path fill="#8787ff" d="M992.9 83.7h6.3v6.3h-6.3zM1004.9 101.7h6.3v6.3h-6.3zM1016.8 173.4h6.3v6.3h-6.3zM903.2 191.4h6.3v6.3h-6.3zM903.2 209.3h6.3v6.3h-6.3zM909.1 239.2h6.3v6.3h-6.3zM1010.8 251.2h6.3v6.3h-6.3z"/>
<path fill="#8585ff" d="M951 65.8h6.3v6.3h-6.3zM1010.8 137.5h6.3v6.3h-6.3zM909.1 155.5h6.3v6.3h-6.3zM903.2 197.4h6.3v6.3h-6.3zM903.2 203.4h6.3v6.3h-6.3zM992.9 281.1h6.3v6.3h-6.3z"/>
<path fill="#8383ff" d="M963 65.8h6.3v6.3h-6.3zM915.1 125.6h6.3v6.3h-6.3zM1016.8 179.4h6.3v6.3h-6.3zM1016.8 221.3h6.3v6.3h-6.3zM915.1 257.2h6.3v6.3h-6.3zM998.9 275.1h6.3v6.3h-6.3zM951 293.1h6.3v6.3h-6.3zM963 293.1h6.3v6.3h-6.3z"/>
<path fill="#8181ff" d="M957 65.8h6.3v6.3h-6.3zM927.1 89.7h6.3v6.3h-6.3zM921.1 101.7h6.3v6.3h-6.3zM909.1 161.5h6.3v6.3h-6.3zM909.1 233.3h6.3v6.3h-6.3zM921.1 269.2h6.3v6.3h-6.3zM980.9 287.1h6.3v6.3h-6.3zM957 293.1h6.3v6.3h-6.3z"/>
<path fill="#7f7fff" d="M915.1 131.6h6.3v6.3h-6.3zM1010.8 143.5h6.3v6.3h-6.3zM1016.8 215.3h6.3v6.3h-6.3zM1010.8 245.2h6.3v6.3h-6.3z"/>
<path fill="#7d7dff" d="M1004.9 107.6h6.3v6.3h-6.3zM909.1 167.5h6.3v6.3h-6.3zM1016.8 185.4h6.3v6.3h-6.3zM909.1 227.3h6.3v6.3h-6.3zM1004.9 263.2h6.3v6.3h-6.3zM939.1 287.1h6.3v6.3h-6.3z"/>
<path fill="#7b7bff" d="M974.9 71.7h6.3v6.3h-6.3zM933.1 83.7h6.3v6.3h-6.3zM915.1 251.2h6.3v6.3h-6.3z"/>
<path fill="#7979ff" d="M945 71.7h6.3v6.3h-6.3zM998.9 95.7h6.3v6.3h-6.3zM915.1 137.5h6.3v6.3h-6.3zM909.1 173.4h6.3v6.3h-6.3zM1016.8 191.4h6.3v6.3h-6.3zM1016.8 209.3h6.3v6.3h-6.3zM927.1 275.1h6.3v6.3h-6.3z"/>
<path fill="#7777ff" d="M939.1 77.7h6.3v6.3h-6.3zM980.9 77.7h6.3v6.3h-6.3zM1010.8 149.5h6.3v6.3h-6.3zM1016.8 197.4h6.3v6.3h-6.3zM1016.8 203.4h6.3v6.3h-6.3zM909.1 221.3h6.3v6.3h-6.3zM1010.8 239.2h6.3v6.3h-6.3zM933.1 281.1h6.3v6.3h-6.3z"/>
<path fill="#7575ff" d="M986.9 83.7h6.3v6.3h-6.3zM921.1 107.6h6.3v6.3h-6.3zM1004.9 113.6h6.3v6.3h-6.3zM909.1 179.4h6.3v6.3h-6.3zM921.1 263.2h6.3v6.3h-6.3zM986.9 281.1h6.3v6.3h-6.3z"/>
<path fill="#7373ff" d="M915.1 143.5h6.3v6.3h-6.3zM915.1 245.2h6.3v6.3h-6.3zM998.9 269.2h6.3v6.3h-6.3zM974.9 287.1h6.3v6.3h-6.3z"/>
<path fill="#7171ff" d="M992.9 89.7h6.3v6.3h-6.3zM1010.8 155.5h6.3v6.3h-6.3zM909.1 185.4h6.3v6.3h-6.3zM909.1 215.3h6.3v6.3h-6.3zM1010.8 233.3h6.3v6.3h-6.3zM1004.9 257.2h6.3v6.3h-6.3z"/>
<path fill="#6f6fff" d="M969 71.7h6.3v6.3h-6.3zM927.1 95.7h6.3v6.3h-6.3zM992.9 275.1h6.3v6.3h-6.3zM945 287.1h6.3v6.3h-6.3z"/>
<path fill="#6d6dff" d="M921.1 113.6h6.3v6.3h-6.3zM1004.9 119.6h6.3v6.3h-6.3zM1010.8 161.5h6.3v6.3h-6.3z"/>
<path fill="#6b6bff" d="M951 71.7h6.3v6.3h-6.3zM909.1 191.4h6.3v6.3h-6.3zM909.1 209.3h6.3v6.3h-6.3zM915.1 239.2h6.3v6.3h-6.3z"/>
<path fill="#6969ff" d="M998.9 101.7h6.3v6.3h-6.3zM915.1 149.5h6.3v6.3h-6.3zM1010.8 167.5h6.3v6.3h-6.3zM909.1 197.4h6.3v6.3h-6.3zM909.1 203.4h6.3v6.3h-6.3zM1010.8 227.3h6.3v6.3h-6.3zM921.1 257.2h6.3v6.3h-6.3zM927.1 269.2h6.3v6.3h-6.3zM969 287.1h6.3v6.3h-6.3z"/>
<path fill="#6767ff" d="M957 71.7h12.3v6.3h-12.3zM1004.9 125.6h6.3v6.3h-6.3z"/>
<path fill="#6565ff" d="M974.9 77.7h6.3v6.3h-6.3zM921.1 119.6h6.3v6.3h-6.3zM1010.8 173.4h6.3v6.3h-6.3zM1004.9 251.2h6.3v6.3h-6.3zM951 287.1h6.3v6.3h-6.3z"/>
<path fill="#6363ff" d="M945 77.7h6.3v6.3h-6.3zM933.1 89.7h6.3v6.3h-6.3zM1004.9 131.6h6.3v6.3h-6.3zM915.1 155.5h6.3v6.3h-6.3zM1010.8 221.3h6.3v6.3h-6.3zM915.1 233.3h6.3v6.3h-6.3zM998.9 263.2h6.3v6.3h-6.3zM980.9 281.1h6.3v6.3h-6.3z"/>
<path fill="#6161ff" d="M933.1 275.1h6.3v6.3h-6.3zM939.1 281.1h6.3v6.3h-6.3zM957 287.1h12.3v6.3h-12.3z"/>
<path fill="#5f5fff" d="M939.1 83.7h6.3v6.3h-6.3zM927.1 101.7h6.3v6.3h-6.3zM921.1 125.6h6.3v6.3h-6.3zM1010.8 179.4h6.3v6.3h-6.3zM921.1 251.2h6.3v6.3h-6.3z"/>
<path fill="#5d5dff" d="M980.9 83.7h6.3v6.3h-6.3zM992.9 95.7h6.3v6.3h-6.3zM998.9 107.6h6.3v6.3h-6.3zM915.1 161.5h6.3v6.3h-6.3zM915.1 227.3h6.3v6.3h-6.3zM992.9 269.2h6.3v6.3h-6.3zM986.9 275.1h6.3v6.3h-6.3z"/>
<path fill="#5b5bff" d="M921.1 131.6h6.3v6.3h-6.3zM1004.9 137.5h6.3v6.3h-6.3zM915.1 167.5h6.3v6.3h-6.3zM1010.8 215.3h6.3v6.3h-6.3zM1004.9 245.2h6.3v6.3h-6.3z"/>
<path fill="#5959ff" d="M986.9 89.7h6.3v6.3h-6.3zM1010.8 185.4h6.3v6.3h-6.3zM927.1 263.2h6.3v6.3h-6.3z"/>
<path fill="#5757ff" d="M969 77.7h6.3v6.3h-6.3z"/>
<path fill="#5555ff" d="M915.1 173.4h6.3v6.3h-6.3zM1010.8 209.3h6.3v6.3h-6.3zM915.1 221.3h6.3v6.3h-6.3zM998.9 257.2h6.3v6.3h-6.3z"/>
<path fill="#5353ff" d="M951 77.7h6.3v6.3h-6.3zM921.1 137.5h6.3v6.3h-6.3zM1004.9 143.5h6.3v6.3h-6.3zM1010.8 191.4h6.3v6.3h-6.3zM921.1 245.2h6.3v6.3h-6.3zM974.9 281.1h6.3v6.3h-6.3z"/>
<path fill="#5151ff" d="M927.1 107.6h6.3v6.3h-6.3zM998.9 113.6h6.3v6.3h-6.3zM915.1 179.4h6.3v6.3h-6.3zM1010.8 203.4h6.3v6.3h-6.3z"/>
<path fill="#4f4fff" d="M963 77.7h6.3v6.3h-6.3zM1010.8 197.4h6.3v6.3h-6.3zM1004.9 239.2h6.3v6.3h-6.3z"/>
<path fill="#4d4dff" d="M957 77.7h6.3v6.3h-6.3zM915.1 215.3h6.3v6.3h-6.3zM933.1 269.2h6.3v6.3h-6.3zM945 281.1h6.3v6.3h-6.3z"/>
<path fill="#4b4bff" d="M933.1 95.7h6.3v6.3h-6.3zM921.1 143.5h6.3v6.3h-6.3zM927.1 257.2h6.3v6.3h-6.3z"/>
<path fill="#4949ff" d="M974.9 83.7h6.3v6.3h-6.3zM992.9 101.7h6.3v6.3h-6.3zM998.9 119.6h6.3v6.3h-6.3zM1004.9 149.5h6.3v6.3h-6.3zM915.1 185.4h6.3v6.3h-6.3zM992.9 263.2h6.3v6.3h-6.3z"/>
<path fill="#4747ff" d="M921.1 239.2h6.3v6.3h-6.3zM998.9 251.2h6.3v6.3h-6.3zM939.1 275.1h6.3v6.3h-6.3zM980.9 275.1h6.3v6.3h-6.3z"/>
<path fill="#4545ff" d="M945 83.7h6.3v6.3h-6.3zM927.1 113.6h6.3v6.3h-6.3zM915.1 209.3h6.3v6.3h-6.3zM1004.9 233.3h6.3v6.3h-6.3zM986.9 269.2h6.3v6.3h-6.3zM969 281.1h6.3v6.3h-6.3z"/>
<path fill="#4343ff" d="M998.9 125.6h6.3v6.3h-6.3zM915.1 191.4h6.3v6.3h-6.3z"/>
<path fill="#4141ff" d="M986.9 95.7h6.3v6.3h-6.3zM1004.9 155.5h6.3v6.3h-6.3zM915.1 203.4h6.3v6.3h-6.3zM951 281.1h6.3v6.3h-6.3z"/>
<path fill="#3f3fff" d="M939.1 89.7h6.3v6.3h-6.3zM980.9 89.7h6.3v6.3h-6.3zM921.1 149.5h6.3v6.3h-6.3zM915.1 197.4h6.3v6.3h-6.3z"/>
<path fill="#3d3dff" d="M927.1 119.6h6.3v6.3h-6.3zM921.1 233.3h6.3v6.3h-6.3zM963 281.1h6.3v6.3h-6.3z"/>
<path fill="#3b3bff" d="M992.9 107.6h6.3v6.3h-6.3zM998.9 131.6h6.3v6.3h-6.3zM1004.9 161.5h6.3v6.3h-6.3zM1004.9 227.3h6.3v6.3h-6.3zM927.1 251.2h6.3v6.3h-6.3zM957 281.1h6.3v6.3h-6.3z"/>
<path fill="#3939ff" d="M992.9 257.2h6.3v6.3h-6.3zM933.1 263.2h6.3v6.3h-6.3z"/>
<path fill="#3737ff" d="M969 83.7h6.3v6.3h-6.3zM921.1 155.5h6.3v6.3h-6.3zM1004.9 167.5h6.3v6.3h-6.3zM998.9 245.2h6.3v6.3h-6.3z"/>
<path fill="#3535ff" d="M933.1 101.7h6.3v6.3h-6.3zM927.1 125.6h6.3v6.3h-6.3zM998.9 137.5h6.3v6.3h-6.3z"/>
<path fill="#3333ff" d="M951 83.7h6.3v6.3h-6.3zM1004.9 221.3h6.3v6.3h-6.3zM921.1 227.3h6.3v6.3h-6.3zM974.9 275.1h6.3v6.3h-6.3z"/>
<path fill="#3131ff" d="M921.1 161.5h6.3v6.3h-6.3zM1004.9 173.4h6.3v6.3h-6.3zM986.9 263.2h6.3v6.3h-6.3z"/>
<path fill="#2f2fff" d="M927.1 131.6h6.3v6.3h-6.3zM945 275.1h6.3v6.3h-6.3z"/>
<path fill="#2d2dff" d="M963 83.7h6.3v6.3h-6.3zM992.9 113.6h6.3v6.3h-6.3zM921.1 167.5h6.3v6.3h-6.3zM939.1 269.2h6.3v6.3h-6.3zM980.9 269.2h6.3v6.3h-6.3z"/>
<path fill="#2b2bff" d="M957 83.7h6.3v6.3h-6.3zM986.9 101.7h6.3v6.3h-6.3zM1004.9 179.4h6.3v6.3h-6.3zM927.1 245.2h6.3v6.3h-6.3z"/>
<path fill="#2929ff" d="M998.9 143.5h6.3v6.3h-6.3zM921.1 221.3h6.3v6.3h-6.3zM998.9 239.2h6.3v6.3h-6.3z"/>
<path fill="#2727ff" d="M927.1 137.5h6.3v6.3h-6.3zM921.1 173.4h6.3v6.3h-6.3zM1004.9 215.3h6.3v6.3h-6.3zM992.9 251.2h6.3v6.3h-6.3z"/>
<path fill="#2525ff" d="M974.9 89.7h6.3v6.3h-6.3zM933.1 107.6h6.3v6.3h-6.3zM933.1 257.2h6.3v6.3h-6.3z"/>
<path fill="#2323ff" d="M939.1 95.7h6.3v6.3h-6.3zM992.9 119.6h6.3v6.3h-6.3zM969 275.1h6.3v6.3h-6.3z"/>
<path fill="#2121ff" d="M945 89.7h6.3v6.3h-6.3zM980.9 95.7h6.3v6.3h-6.3zM1004.9 185.4h6.3v6.3h-6.3z"/>
<path fill="#1f1fff" d="M921.1 179.4h6.3v6.3h-6.3z"/>
<path fill="#1d1dff" d="M992.9 125.6h6.3v6.3h-6.3zM998.9 149.5h6.3v6.3h-6.3zM1004.9 209.3h6.3v6.3h-6.3zM921.1 215.3h6.3v6.3h-6.3zM998.9 233.3h6.3v6.3h-6.3zM927.1 239.2h6.3v6.3h-6.3zM951 275.1h6.3v6.3h-6.3z"/>
<path fill="#1b1bff" d="M927.1 143.5h6.3v6.3h-6.3zM986.9 257.2h6.3v6.3h-6.3z"/>
<path fill="#1919ff" d="M986.9 107.6h6.3v6.3h-6.3zM1004.9 191.4h6.3v6.3h-6.3zM963 275.1h6.3v6.3h-6.3z"/>
<path fill="#1717ff" d="M933.1 113.6h6.3v6.3h-6.3zM921.1 185.4h6.3v6.3h-6.3zM1004.9 203.4h6.3v6.3h-6.3zM974.9 269.2h6.3v6.3h-6.3zM957 275.1h6.3v6.3h-6.3z"/>
<path fill="#1515ff" d="M969 89.7h6.3v6.3h-6.3zM992.9 131.6h6.3v6.3h-6.3zM1004.9 197.4h6.3v6.3h-6.3zM992.9 245.2h6.3v6.3h-6.3zM939.1 263.2h6.3v6.3h-6.3z"/>
<path fill="#1313ff" d="M998.9 155.5h6.3v6.3h-6.3zM980.9 263.2h6.3v6.3h-6.3z"/>
<path fill="#1111ff" d="M921.1 209.3h6.3v6.3h-6.3zM998.9 227.3h6.3v6.3h-6.3zM933.1 251.2h6.3v6.3h-6.3zM945 269.2h6.3v6.3h-6.3z"/>
<path fill="#0f0fff" d="M951 89.7h6.3v6.3h-6.3zM933.1 119.6h6.3v6.3h-6.3zM921.1 191.4h6.3v6.3h-6.3zM927.1 233.3h6.3v6.3h-6.3z"/>
<path fill="#0d0dff" d="M939.1 101.7h6.3v6.3h-6.3zM980.9 101.7h6.3v6.3h-6.3zM986.9 113.6h6.3v6.3h-6.3zM992.9 137.5h6.3v6.3h-6.3zM927.1 149.5h6.3v6.3h-6.3z"/>
<path fill="#0b0bff" d="M963 89.7h6.3v6.3h-6.3zM974.9 95.7h6.3v6.3h-6.3zM998.9 161.5h6.3v6.3h-6.3zM921.1 197.4h6.3v6.3h-6.3zM921.1 203.4h6.3v6.3h-6.3z"/>
<path fill="#0909ff" d="M957 89.7h6.3v6.3h-6.3z"/>
<path fill="#0707ff" d="M945 95.7h6.3v6.3h-6.3zM933.1 125.6h6.3v6.3h-6.3zM998.9 167.5h6.3v6.3h-6.3zM986.9 251.2h6.3v6.3h-6.3z"/>
<path fill="#0303ff" d="M986.9 119.6h6.3v6.3h-6.3zM992.9 143.5h6.3v6.3h-6.3zM927.1 155.5h6.3v6.3h-6.3zM998.9 221.3h6.3v6.3h-6.3zM992.9 239.2h6.3v6.3h-6.3zM969 269.2h6.3v6.3h-6.3z"/>
<path fill="#0101ff" d="M933.1 131.6h6.3v6.3h-6.3zM998.9 173.4h6.3v6.3h-6.3zM927.1 227.3h6.3v6.3h-6.3z"/>
<path fill="#0300fc" d="M939.1 107.6h6.3v6.3h-6.3zM986.9 125.6h6.3v6.3h-6.3zM927.1 161.5h6.3v6.3h-6.3zM933.1 245.2h6.3v6.3h-6.3zM939.1 257.2h6.3v6.3h-6.3zM980.9 257.2h6.3v6.3h-6.3zM951 269.2h6.3v6.3h-6.3z"/>
<path fill="#0500fa" d="M980.9 107.6h6.3v6.3h-6.3zM974.9 263.2h6.3v6.3h-6.3z"/>
<path fill="#0700f8" d="M933.1 137.5h6.3v6.3h-6.3zM927.1 167.5h6.3v6.3h-6.3zM998.9 179.4h6.3v6.3h-6.3zM963 269.2h6.3v6.3h-6.3z"/>
<path fill="#0900f6" d="M969 95.7h6.3v6.3h-6.3zM998.9 215.3h6.3v6.3h-6.3zM957 269.2h6.3v6.3h-6.3z"/>
<path fill="#0b00f4" d="M986.9 131.6h6.3v6.3h-6.3zM992.9 149.5h6.3v6.3h-6.3zM927.1 221.3h6.3v6.3h-6.3zM992.9 233.3h6.3v6.3h-6.3zM945 263.2h6.3v6.3h-6.3z"/>
<path fill="#0d00f2" d="M951 95.7h6.3v6.3h-6.3zM974.9 101.7h6.3v6.3h-6.3zM927.1 173.4h6.3v6.3h-6.3zM986.9 245.2h6.3v6.3h-6.3z"/>
<path fill="#0f00f0" d="M998.9 185.4h6.3v6.3h-6.3z"/>
<path fill="#1100ee" d="M945 101.7h6.3v6.3h-6.3zM939.1 113.6h6.3v6.3h-6.3zM980.9 113.6h6.3v6.3h-6.3zM933.1 239.2h6.3v6.3h-6.3z"/>
<path fill="#1300ec" d="M963 95.7h6.3v6.3h-6.3zM986.9 137.5h6.3v6.3h-6.3zM933.1 143.5h6.3v6.3h-6.3z"/>
<path fill="#1500ea" d="M957 95.7h6.3v6.3h-6.3zM992.9 155.5h6.3v6.3h-6.3zM927.1 179.4h6.3v6.3h-6.3zM998.9 209.3h6.3v6.3h-6.3z"/>
<path fill="#1700e8" d="M998.9 191.4h6.3v6.3h-6.3zM927.1 215.3h6.3v6.3h-6.3zM992.9 227.3h6.3v6.3h-6.3zM939.1 251.2h6.3v6.3h-6.3zM980.9 251.2h6.3v6.3h-6.3zM969 263.2h6.3v6.3h-6.3z"/>
<path fill="#1b00e4" d="M939.1 119.6h6.3v6.3h-6.3zM992.9 161.5h6.3v6.3h-6.3zM998.9 197.4h6.3v6.3h-6.3zM998.9 203.4h6.3v6.3h-6.3zM974.9 257.2h6.3v6.3h-6.3zM951 263.2h6.3v6.3h-6.3z"/>
<path fill="#1d00e2" d="M980.9 119.6h6.3v6.3h-6.3zM927.1 185.4h6.3v6.3h-6.3zM986.9 239.2h6.3v6.3h-6.3z"/>
<path fill="#1f00e0" d="M974.9 107.6h6.3v6.3h-6.3zM986.9 143.5h6.3v6.3h-6.3zM933.1 233.3h6.3v6.3h-6.3z"/>
<path fill="#2100de" d="M969 101.7h6.3v6.3h-6.3zM933.1 149.5h6.3v6.3h-6.3zM992.9 167.5h6.3v6.3h-6.3zM945 257.2h6.3v6.3h-6.3zM963 263.2h6.3v6.3h-6.3z"/>
<path fill="#2300dc" d="M945 107.6h6.3v6.3h-6.3zM939.1 125.6h6.3v6.3h-6.3zM927.1 209.3h6.3v6.3h-6.3zM992.9 221.3h6.3v6.3h-6.3zM957 263.2h6.3v6.3h-6.3z"/>
<path fill="#2500da" d="M980.9 125.6h6.3v6.3h-6.3zM927.1 191.4h6.3v6.3h-6.3z"/>
<path fill="#2700d8" d="M951 101.7h6.3v6.3h-6.3zM992.9 173.4h6.3v6.3h-6.3z"/>
<path fill="#2900d6" d="M927.1 203.4h6.3v6.3h-6.3z"/>
<path fill="#2b00d4" d="M939.1 131.6h6.3v6.3h-6.3zM927.1 197.4h6.3v6.3h-6.3zM986.9 233.3h6.3v6.3h-6.3zM939.1 245.2h6.3v6.3h-6.3zM980.9 245.2h6.3v6.3h-6.3z"/>
<path fill="#2d00d2" d="M963 101.7h6.3v6.3h-6.3zM974.9 113.6h6.3v6.3h-6.3zM980.9 131.6h6.3v6.3h-6.3zM986.9 149.5h6.3v6.3h-6.3zM933.1 155.5h6.3v6.3h-6.3zM933.1 227.3h6.3v6.3h-6.3z"/>
<path fill="#2f00d0" d="M957 101.7h6.3v6.3h-6.3zM992.9 179.4h6.3v6.3h-6.3zM969 257.2h6.3v6.3h-6.3z"/>
<path fill="#3100ce" d="M974.9 251.2h6.3v6.3h-6.3z"/>
<path fill="#3300cc" d="M945 113.6h6.3v6.3h-6.3zM933.1 161.5h6.3v6.3h-6.3zM992.9 215.3h6.3v6.3h-6.3z"/>
<path fill="#3500ca" d="M969 107.6h6.3v6.3h-6.3zM939.1 137.5h6.3v6.3h-6.3zM980.9 137.5h6.3v6.3h-6.3zM951 257.2h6.3v6.3h-6.3z"/>
<path fill="#3700c8" d="M945 251.2h6.3v6.3h-6.3z"/>
<path fill="#3900c6" d="M974.9 119.6h6.3v6.3h-6.3zM986.9 155.5h6.3v6.3h-6.3zM933.1 167.5h6.3v6.3h-6.3zM992.9 185.4h6.3v6.3h-6.3zM986.9 227.3h6.3v6.3h-6.3zM963 257.2h6.3v6.3h-6.3z"/>
<path fill="#3b00c4" d="M951 107.6h6.3v6.3h-6.3zM933.1 221.3h6.3v6.3h-6.3zM957 257.2h6.3v6.3h-6.3z"/>
<path fill="#3d00c2" d="M939.1 239.2h6.3v6.3h-6.3zM980.9 239.2h6.3v6.3h-6.3z"/>
<path fill="#3f00c0" d="M945 119.6h6.3v6.3h-6.3zM933.1 173.4h6.3v6.3h-6.3zM992.9 209.3h6.3v6.3h-6.3z"/>
<path fill="#4100be" d="M963 107.6h6.3v6.3h-6.3zM974.9 125.6h6.3v6.3h-6.3zM939.1 143.5h6.3v6.3h-6.3zM986.9 161.5h6.3v6.3h-6.3z"/>
<path fill="#4300bc" d="M957 107.6h6.3v6.3h-6.3zM980.9 143.5h6.3v6.3h-6.3zM992.9 191.4h6.3v6.3h-6.3z"/>
<path fill="#4500ba" d="M969 113.6h6.3v6.3h-6.3zM986.9 167.5h6.3v6.3h-6.3z"/>
<path fill="#4700b8" d="M945 125.6h6.3v6.3h-6.3zM933.1 179.4h6.3v6.3h-6.3zM992.9 197.4h6.3v6.3h-6.3zM992.9 203.4h6.3v6.3h-6.3zM974.9 245.2h6.3v6.3h-6.3zM969 251.2h6.3v6.3h-6.3z"/>
<path fill="#4900b6" d="M986.9 221.3h6.3v6.3h-6.3z"/>
<path fill="#4b00b4" d="M951 113.6h6.3v6.3h-6.3zM974.9 131.6h6.3v6.3h-6.3zM933.1 215.3h6.3v6.3h-6.3z"/>
<path fill="#4d00b2" d="M986.9 173.4h6.3v6.3h-6.3zM939.1 233.3h6.3v6.3h-6.3zM945 245.2h6.3v6.3h-6.3zM951 251.2h6.3v6.3h-6.3z"/>
<path fill="#4f00b0" d="M980.9 233.3h6.3v6.3h-6.3z"/>
<path fill="#5100ae" d="M963 113.6h6.3v6.3h-6.3zM969 119.6h6.3v6.3h-6.3zM945 131.6h6.3v6.3h-6.3zM939.1 149.5h6.3v6.3h-6.3z"/>
<path fill="#5300ac" d="M957 113.6h6.3v6.3h-6.3zM980.9 149.5h6.3v6.3h-6.3zM933.1 185.4h6.3v6.3h-6.3zM963 251.2h6.3v6.3h-6.3z"/>
<path fill="#5500aa" d="M974.9 137.5h6.3v6.3h-6.3zM986.9 179.4h6.3v6.3h-6.3zM957 251.2h6.3v6.3h-6.3z"/>
<path fill="#5700a8" d="M951 119.6h6.3v6.3h-6.3z"/>
<path fill="#5900a6" d="M933.1 209.3h6.3v6.3h-6.3zM986.9 215.3h6.3v6.3h-6.3z"/>
<path fill="#5b00a4" d="M969 125.6h6.3v6.3h-6.3zM945 137.5h6.3v6.3h-6.3zM974.9 239.2h6.3v6.3h-6.3z"/>
<path fill="#5d00a2" d="M933.1 191.4h6.3v6.3h-6.3zM939.1 227.3h6.3v6.3h-6.3z"/>
<path fill="#5f00a0" d="M963 119.6h6.3v6.3h-6.3zM939.1 155.5h6.3v6.3h-6.3zM980.9 155.5h6.3v6.3h-6.3zM980.9 227.3h6.3v6.3h-6.3zM969 245.2h6.3v6.3h-6.3z"/>
<path fill="#61009e" d="M957 119.6h6.3v6.3h-6.3zM951 125.6h6.3v6.3h-6.3zM986.9 185.4h6.3v6.3h-6.3zM933.1 203.4h6.3v6.3h-6.3zM945 239.2h6.3v6.3h-6.3z"/>
<path fill="#63009c" d="M969 131.6h6.3v6.3h-6.3zM974.9 143.5h6.3v6.3h-6.3zM933.1 197.4h6.3v6.3h-6.3z"/>
<path fill="#65009a" d="M951 245.2h6.3v6.3h-6.3z"/>
<path fill="#670098" d="M963 125.6h6.3v6.3h-6.3zM939.1 161.5h6.3v6.3h-6.3zM986.9 209.3h6.3v6.3h-6.3z"/>
<path fill="#690096" d="M951 131.6h6.3v6.3h-6.3zM945 143.5h6.3v6.3h-6.3zM980.9 161.5h6.3v6.3h-6.3z"/>
<path fill="#6b0094" d="M957 125.6h6.3v6.3h-6.3zM939.1 167.5h6.3v6.3h-6.3zM986.9 191.4h6.3v6.3h-6.3zM963 245.2h6.3v6.3h-6.3z"/>
<path fill="#6d0092" d="M969 137.5h6.3v6.3h-6.3zM980.9 167.5h6.3v6.3h-6.3zM939.1 221.3h6.3v6.3h-6.3zM957 245.2h6.3v6.3h-6.3z"/>
<path fill="#6f0090" d="M986.9 203.4h6.3v6.3h-6.3zM980.9 221.3h6.3v6.3h-6.3zM974.9 233.3h6.3v6.3h-6.3z"/>
<path fill="#71008e" d="M963 131.6h6.3v6.3h-6.3zM986.9 197.4h6.3v6.3h-6.3z"/>
<path fill="#73008c" d="M957 131.6h6.3v6.3h-6.3zM939.1 173.4h6.3v6.3h-6.3z"/>
<path fill="#75008a" d="M951 137.5h6.3v6.3h-6.3zM974.9 149.5h6.3v6.3h-6.3zM980.9 173.4h6.3v6.3h-6.3zM945 233.3h6.3v6.3h-6.3zM969 239.2h6.3v6.3h-6.3z"/>
<path fill="#7b0084" d="M945 149.5h6.3v6.3h-6.3zM951 239.2h6.3v6.3h-6.3z"/>
<path fill="#7d0082" d="M963 137.5h6.3v6.3h-6.3zM969 143.5h6.3v6.3h-6.3zM939.1 179.4h6.3v6.3h-6.3z"/>
<path fill="#7f0080" d="M957 137.5h6.3v6.3h-6.3zM980.9 179.4h6.3v6.3h-6.3z"/>
<path fill="#81007e" d="M939.1 215.3h6.3v6.3h-6.3zM974.9 227.3h6.3v6.3h-6.3z"/>
<path fill="#83007c" d="M974.9 155.5h6.3v6.3h-6.3zM980.9 215.3h6.3v6.3h-6.3zM963 239.2h6.3v6.3h-6.3z"/>
<path fill="#85007a" d="M951 143.5h6.3v6.3h-6.3zM957 239.2h6.3v6.3h-6.3z"/>
<path fill="#870078" d="M945 227.3h6.3v6.3h-6.3z"/>
<path fill="#890076" d="M945 155.5h6.3v6.3h-6.3zM969 233.3h6.3v6.3h-6.3z"/>
<path fill="#8b0074" d="M974.9 161.5h6.3v6.3h-6.3zM939.1 185.4h6.3v6.3h-6.3z"/>
<path fill="#8d0072" d="M963 143.5h6.3v6.3h-6.3zM980.9 185.4h6.3v6.3h-6.3z"/>
<path fill="#8f0070" d="M957 143.5h6.3v6.3h-6.3zM951 233.3h6.3v6.3h-6.3z"/>
<path fill="#91006e" d="M969 149.5h6.3v6.3h-6.3zM974.9 167.5h6.3v6.3h-6.3zM939.1 209.3h6.3v6.3h-6.3z"/>
<path fill="#93006c" d="M945 161.5h6.3v6.3h-6.3zM980.9 209.3h6.3v6.3h-6.3zM974.9 221.3h6.3v6.3h-6.3z"/>
<path fill="#970068" d="M951 149.5h6.3v6.3h-6.3zM939.1 191.4h6.3v6.3h-6.3zM980.9 191.4h6.3v6.3h-6.3zM963 233.3h6.3v6.3h-6.3z"/>
<path fill="#990066" d="M945 167.5h6.3v6.3h-6.3zM974.9 173.4h6.3v6.3h-6.3zM945 221.3h6.3v6.3h-6.3zM957 233.3h6.3v6.3h-6.3z"/>
<path fill="#9b0064" d="M939.1 203.4h6.3v6.3h-6.3zM969 227.3h6.3v6.3h-6.3z"/>
<path fill="#9d0062" d="M939.1 197.4h6.3v6.3h-6.3zM980.9 203.4h6.3v6.3h-6.3z"/>
<path fill="#9f0060" d="M969 155.5h6.3v6.3h-6.3zM980.9 197.4h6.3v6.3h-6.3z"/>
<path fill="#a1005e" d="M963 149.5h6.3v6.3h-6.3zM945 173.4h6.3v6.3h-6.3z"/>
<path fill="#a3005c" d="M957 149.5h6.3v6.3h-6.3zM951 227.3h6.3v6.3h-6.3z"/>
<path fill="#a5005a" d="M974.9 179.4h6.3v6.3h-6.3z"/>
<path fill="#a70058" d="M951 155.5h6.3v6.3h-6.3zM974.9 215.3h6.3v6.3h-6.3z"/>
<path fill="#a90056" d="M969 161.5h6.3v6.3h-6.3z"/>
<path fill="#ab0054" d="M963 227.3h6.3v6.3h-6.3z"/>
<path fill="#ad0052" d="M945 179.4h6.3v6.3h-6.3zM957 227.3h6.3v6.3h-6.3z"/>
<path fill="#af0050" d="M963 155.5h6.3v6.3h-6.3zM969 167.5h6.3v6.3h-6.3zM945 215.3h6.3v6.3h-6.3zM969 221.3h6.3v6.3h-6.3z"/>
<path fill="#b1004e" d="M951 161.5h6.3v6.3h-6.3z"/>
<path fill="#b3004c" d="M957 155.5h6.3v6.3h-6.3zM974.9 185.4h6.3v6.3h-6.3z"/>
<path fill="#b70048" d="M951 167.5h6.3v6.3h-6.3zM951 221.3h6.3v6.3h-6.3z"/>
<path fill="#b90046" d="M963 161.5h6.3v6.3h-6.3zM969 173.4h6.3v6.3h-6.3z"/>
<path fill="#bb0044" d="M945 185.4h6.3v6.3h-6.3zM974.9 209.3h6.3v6.3h-6.3z"/>
<path fill="#bd0042" d="M957 161.5h6.3v6.3h-6.3z"/>
<path fill="#bf0040" d="M974.9 191.4h6.3v6.3h-6.3z"/>
<path fill="#c1003e" d="M963 167.5h6.3v6.3h-6.3zM951 173.4h6.3v6.3h-6.3zM945 209.3h6.3v6.3h-6.3zM963 221.3h6.3v6.3h-6.3z"/>
<path fill="#c3003c" d="M957 167.5h6.3v6.3h-6.3zM957 221.3h6.3v6.3h-6.3z"/>
<path fill="#c5003a" d="M969 179.4h6.3v6.3h-6.3zM974.9 203.4h6.3v6.3h-6.3z"/>
<path fill="#c70038" d="M945 191.4h6.3v6.3h-6.3zM974.9 197.4h6.3v6.3h-6.3zM969 215.3h6.3v6.3h-6.3z"/>
<path fill="#c90036" d="M963 173.4h6.3v6.3h-6.3z"/>
<path fill="#cb0034" d="M957 173.4h6.3v6.3h-6.3z"/>
<path fill="#cd0032" d="M951 179.4h6.3v6.3h-6.3zM945 203.4h6.3v6.3h-6.3z"/>
<path fill="#cf0030" d="M945 197.4h6.3v6.3h-6.3zM951 215.3h6.3v6.3h-6.3z"/>
<path fill="#d3002c" d="M969 185.4h6.3v6.3h-6.3z"/>
<path fill="#d70028" d="M963 179.4h6.3v6.3h-6.3zM963 215.3h6.3v6.3h-6.3z"/>
<path fill="#d90026" d="M957 179.4h6.3v6.3h-6.3z"/>
<path fill="#db0024" d="M951 185.4h6.3v6.3h-6.3zM969 209.3h6.3v6.3h-6.3zM957 215.3h6.3v6.3h-6.3z"/>
<path fill="#e1001e" d="M969 191.4h6.3v6.3h-6.3z"/>
<path fill="#e3001c" d="M951 209.3h6.3v6.3h-6.3z"/>
<path fill="#e5001a" d="M963 185.4h6.3v6.3h-6.3z"/>
<path fill="#e70018" d="M969 203.4h6.3v6.3h-6.3z"/>
<path fill="#e90016" d="M957 185.4h6.3v6.3h-6.3zM951 191.4h6.3v6.3h-6.3zM969 197.4h6.3v6.3h-6.3z"/>
<path fill="#ed0012" d="M963 209.3h6.3v6.3h-6.3z"/>
<path fill="#ef0010" d="M951 203.4h6.3v6.3h-6.3zM957 209.3h6.3v6.3h-6.3z"/>
<path fill="#f1000e" d="M951 197.4h6.3v6.3h-6.3z"/>
<path fill="#f3000c" d="M963 191.4h6.3v6.3h-6.3z"/>
<path fill="#f70008" d="M957 191.4h6.3v6.3h-6.3z"/>
<path fill="#f90006" d="M963 203.4h6.3v6.3h-6.3z"/>
<path fill="#fd0002" d="M963 197.4h6.3v6.3h-6.3zM957 203.4h6.3v6.3h-6.3z"/>
<path fill="#ff0000" d="M957 197.4h6.3v6.3h-6.3z"/>
</g>
</g>
<path d="M851.5 47.81V580.24M1048.5 47.81V580.24" stroke="#fff" stroke-width="1" fill="none" shape-rendering="crispEdges"/>
<g clip-path="url(#c2)">
<path d="M906.64 580.24L906.64 35.81" stroke="#006400" stroke-width="1.5" stroke-dasharray="6 6" stroke-linecap="round" fill="none"/>
<path d="M1024.12 580.24L1024.12 35.81" stroke="#006400" stroke-width="1.5" stroke-dasharray="6 6" stroke-linecap="round" fill="none"/>
<path d="M699.76 310.38L1244.19 310.38" stroke="#CD2626" stroke-width="1.5" stroke-dasharray="6 6" stroke-linecap="round" fill="none"/>
</g>
<rect x="699.76" y="47.81" width="532.43" height="532.43" fill="none" stroke="#000" stroke-width="0.75"/>
<path d="M749.82 580.24H1180.94M749.82 580.24v5.98M857.6 580.24v5.98M965.38 580.24v5.98M1073.16 580.24v5.98M1180.94 580.24v5.98M699.76 47.81V503.66M699.76 503.66h-5.98M699.76 412.49h-5.98M699.76 321.32h-5.98M699.76 230.15h-5.98M699.76 138.98h-5.98M699.76 47.81h-5.98" fill="none" stroke="#000" stroke-width="0.75"/>
<g font-size="10" text-anchor="middle" letter-spacing="0.42">
<text x="749.22" y="601.6">-400</text>
<text x="857" y="601.6">-200</text>
<text x="964.98" y="601.6">0</text>
<text x="1072.76" y="601.6">200</text>
<text x="1180.54" y="601.6">400</text>
<text transform="translate(684.7 504.06) rotate(-90)">75</text>
<text transform="translate(684.7 412.89) rotate(-90)">80</text>
<text transform="translate(684.7 321.72) rotate(-90)">85</text>
<text transform="translate(684.7 230.55) rotate(-90)">90</text>
<text transform="translate(684.7 139.38) rotate(-90)">95</text>
<text transform="translate(684.7 48.21) rotate(-90)">100</text>
</g>
<text x="965.98" y="31.9" font-size="21.5" font-weight="bold" text-anchor="middle">Density heat map for the top hits</text>
<text x="965.98" y="625.8" font-size="16" text-anchor="middle">Distance to peak summit</text>
<text transform="translate(661.8 314.02) rotate(-90)" font-size="16" text-anchor="middle">Motif score</text>
</g>
<g id="panel3">
<path d="M78.8 1200.45L79.8 1200.45L80.8 1200.45L81.8 1200.45L82.8 1200.45L83.8 1200.44L84.8 1200.44L85.8 1200.44L86.8 1200.44L87.8 1200.44L88.8 1200.44L89.8 1200.44L90.8 1200.44L91.8 1200.43L92.8 1200.43L93.8 1200.43L94.8 1200.43L95.8 1200.43L96.8 1200.43L97.8 1200.42L98.8 1200.42L99.8 1200.42L100.8 1200.42L101.8 1200.42L102.8 1200.41L103.8 1200.41L104.8 1200.41L105.8 1200.41L106.8 1200.41L107.8 1200.41L108.8 1200.4L109.8 1200.4L110.8 1200.4L111.8 1200.4L112.8 1200.39L113.8 1200.39L114.8 1200.39L115.8 1200.39L116.8 1200.39L117.8 1200.38L118.8 1200.38L119.8 1200.38L120.8 1200.38L121.8 1200.37L122.8 1200.37L123.8 1200.37L124.8 1200.37L125.8 1200.36L126.8 1200.36L127.8 1200.36L128.8 1200.36L129.8 1200.35L130.8 1200.35L131.8 1200.35L132.8 1200.35L133.8 1200.34L134.8 1200.34L135.8 1200.34L136.8 1200.34L137.8 1200.33L138.8 1200.33L139.8 1200.33L140.8 1200.33L141.8 1200.32L142.8 1200.32L143.8 1200.32L144.8 1200.31L145.8 1200.31L146.8 1200.31L147.8 1200.31L148.8 1200.3L149.8 1200.3L150.8 1200.3L151.8 1200.29L152.8 1200.29L153.8 1200.29L154.8 1200.29L155.8 1200.28L156.8 1200.28L157.8 1200.28L158.8 1200.27L159.8 1200.27L160.8 1200.27L161.8 1200.27L162.8 1200.26L163.8 1200.26L164.8 1200.26L165.8 1200.25L166.8 1200.25L167.8 1200.25L168.8 1200.24L169.8 1200.24L170.8 1200.24L171.8 1200.23L172.8 1200.23L173.8 1200.23L174.8 1200.22L175.8 1200.22L176.8 1200.21L177.8 1200.21L178.8 1200.21L179.8 1200.2L180.8 1200.2L181.8 1200.19L182.8 1200.19L183.8 1200.18L184.8 1200.18L185.8 1200.18L186.8 1200.17L187.8 1200.17L188.8 1200.16L189.8 1200.16L190.8 1200.15L191.8 1200.15L192.8 1200.14L193.8 1200.14L194.8 1200.13L195.8 1200.12L196.8 1200.12L197.8 1200.11L198.8 1200.11L199.8 1200.1L200.8 1200.1L201.8 1200.09L202.8 1200.08L203.8 1200.08L204.8 1200.07L205.8 1200.06L206.8 1200.06L207.8 1200.05L208.8 1200.05L209.8 1200.04L210.8 1200.03L211.8 1200.02L212.8 1200.02L213.8 1200.01L214.8 1200L215.8 1199.99L216.8 1199.98L217.8 1199.97L218.8 1199.96L219.8 1199.95L220.8 1199.94L221.8 1199.93L222.8 1199.92L223.8 1199.9L224.8 1199.89L225.8 1199.88L226.8 1199.86L227.8 1199.84L228.8 1199.83L229.8 1199.81L230.8 1199.79L231.8 1199.77L232.8 1199.75L233.8 1199.73L234.8 1199.7L235.8 1199.68L236.8 1199.63L237.8 1199.57L238.8 1199.5L239.8 1199.42L240.8 1199.32L241.8 1199.22L242.8 1199.1L243.8 1198.98L244.8 1198.86L245.8 1198.72L246.8 1198.57L247.8 1198.39L248.8 1198.18L249.8 1197.94L250.8 1197.68L251.8 1197.4L252.8 1197.09L253.8 1196.76L254.8 1196.38L255.8 1195.93L256.8 1195.43L257.8 1194.88L258.8 1194.31L259.8 1193.7L260.8 1193.08L261.8 1192.44L262.8 1191.73L263.8 1190.97L264.8 1190.16L265.8 1189.32L266.8 1188.48L267.8 1187.65L268.8 1186.84L269.8 1186.06L270.8 1185.29L271.8 1184.53L272.8 1183.77L273.8 1183.01L274.8 1182.25L275.8 1181.47L276.8 1180.68L277.8 1179.89L278.8 1179.11L279.8 1178.32L280.8 1177.53L281.8 1176.71L282.8 1175.86L283.8 1174.96L284.8 1174L285.8 1173L286.8 1171.95L287.8 1170.86L288.8 1169.7L289.8 1168.47L290.8 1167.16L291.8 1165.75L292.8 1164.22L293.8 1162.45L294.8 1160.46L295.8 1158.34L296.8 1156.16L297.8 1154L298.8 1151.76L299.8 1149.45L300.8 1147.08L301.8 1144.65L302.8 1142.12L303.8 1139.48L304.8 1136.77L305.8 1134.05L306.8 1131.36L307.8 1128.76L308.8 1126.28L309.8 1123.88L310.8 1121.55L311.8 1119.23L312.8 1116.91L313.8 1114.55L314.8 1112.13L315.8 1109.73L316.8 1107.34L317.8 1104.91L318.8 1102.39L319.8 1099.74L320.8 1096.92L321.8 1093.87L322.8 1090.63L323.8 1087.22L324.8 1083.7L325.8 1080.09L326.8 1076.4L327.8 1072.49L328.8 1068.25L329.8 1063.43L330.8 1058.09L331.8 1052.67L332.8 1047.19L333.8 1041.61L334.8 1036.05L335.8 1030.7L336.8 1025.31L337.8 1019.4L338.8 1012.41L339.8 1004.7L340.8 997.12L341.8 990.27L342.8 983.76L343.8 977.45L344.8 971.24L345.8 965.01L346.8 958.8L347.8 952.78L348.8 947.14L349.8 941.87L350.8 936.85L351.8 932.13L352.8 927.8L353.8 923.87L354.8 920.24L355.8 916.8L356.8 913.41L357.8 910.13L358.8 906.97L359.8 903.82L360.8 900.6L361.8 897.33L362.8 894.05L363.8 890.73L364.8 887.33L365.8 883.86L366.8 880.34L367.8 876.76L368.8 873.06L369.8 869.2L370.8 865.08L371.8 860.7L372.8 856.19L373.8 851.69L374.8 847.24L375.8 842.74L376.8 838.25L377.8 833.81L378.8 829.43L379.8 825.06L380.8 820.77L381.8 816.65L382.8 812.72L383.8 808.92L384.8 805.28L385.8 801.82L386.8 798.54L387.8 795.39L388.8 792.34L389.8 789.35L390.8 786.43L391.8 783.66L392.8 780.91L393.8 778.06L394.8 775L395.8 771.76L396.8 768.37L397.8 764.84L398.8 761.16L399.8 757.3L400.8 753.29L401.8 749.17L402.8 744.83L403.8 740.3L404.8 735.85L405.8 731.6L406.8 727.42L407.8 723.56L408.8 720.12L409.8 716.92L410.8 714.15L411.8 711.91L412.8 709.97L413.8 708.71L414.8 707.95L415.8 707.43L416.8 707.33L417.8 707.73L418.8 708.47L419.8 709.44L420.8 711.1L421.8 713.31L422.8 715.76L423.8 718.74L424.8 722.19L425.8 725.85L426.8 729.55L427.8 733.51L428.8 737.61L429.8 741.7L430.8 745.72L431.8 749.78L432.8 753.79L433.8 757.69L434.8 761.54L435.8 765.32L436.8 768.92L437.8 772.2L438.8 775.26L439.8 778.12L440.8 780.77L441.8 783.22L442.8 785.51L443.8 787.64L444.8 789.62L445.8 791.42L446.8 793.04L447.8 794.63L448.8 796.34L449.8 798.17L450.8 800.07L451.8 802.15L452.8 804.49L453.8 807.23L454.8 810.28L455.8 813.52L456.8 816.85L457.8 820.38L458.8 824.1L459.8 827.96L460.8 832.04L461.8 836.43L462.8 840.9L463.8 845.25L464.8 849.28L465.8 853.15L466.8 856.87L467.8 860.31L468.8 863.38L469.8 866.14L470.8 868.69L471.8 871.11L472.8 873.47L473.8 875.74L474.8 877.91L475.8 879.99L476.8 881.98L477.8 883.82L478.8 885.6L479.8 887.4L480.8 889.3L481.8 891.32L482.8 893.41L483.8 895.57L484.8 897.82L485.8 900.18L486.8 902.65L487.8 905.22L488.8 907.92L489.8 910.74L490.8 913.7L491.8 916.82L492.8 920.11L493.8 923.53L494.8 927.08L495.8 930.75L496.8 934.56L497.8 938.54L498.8 942.69L499.8 947.05L500.8 951.66L501.8 956.54L502.8 961.62L503.8 966.83L504.8 972.13L505.8 977.6L506.8 983.22L507.8 988.97L508.8 994.83L509.8 1000.84L510.8 1007.13L511.8 1013.48L512.8 1019.64L513.8 1025.49L514.8 1031.27L515.8 1036.83L516.8 1042.01L517.8 1046.65L518.8 1050.81L519.8 1054.69L520.8 1058.46L521.8 1062.31L522.8 1066.27L523.8 1070.21L524.8 1074.17L525.8 1078.19L526.8 1082.32L527.8 1086.57L528.8 1090.91L529.8 1095.36L530.8 1099.92L531.8 1104.65L532.8 1109.49L533.8 1114.39L534.8 1119.25L535.8 1124.1L536.8 1128.97L537.8 1133.9L538.8 1138.9L539.8 1143.95L540.8 1149L541.8 1154.14L542.8 1159.26L543.8 1164.01L544.8 1168.4L545.8 1172.47L546.8 1176.22L547.8 1179.76L548.8 1182.85L549.8 1185.47L550.8 1187.85L551.8 1189.95L552.8 1191.7L553.8 1193.15L554.8 1194.49L555.8 1195.67L556.8 1196.65L557.8 1197.39L558.8 1197.92L559.8 1198.39L560.8 1198.81L561.8 1199.17L562.8 1199.47L563.8 1199.71L564.8 1199.87L565.8 1199.99L566.8 1200.1L567.8 1200.2L568.8 1200.29L569.8 1200.36L570.8 1200.41L571.8 1200.44L572.7 1200.45Z" fill="#F5DEB3" stroke="#000" stroke-width="1.05" stroke-linejoin="round"/>
<g clip-path="url(#c3)">
<path d="M329.09 1220.24L329.09 675.81" stroke="#CD2626" stroke-width="1.5" stroke-dasharray="6 6" stroke-linecap="round" fill="none"/>
</g>
<rect x="59.76" y="687.81" width="532.43" height="532.43" fill="none" stroke="#000" stroke-width="0.75"/>
<path d="M94 1220.24H546.1M94 1220.24v5.98M169.35 1220.24v5.98M244.7 1220.24v5.98M320.05 1220.24v5.98M395.4 1220.24v5.98M470.75 1220.24v5.98M546.1 1220.24v5.98M59.76 730.3V1200.3M59.76 1200.3h-5.98M59.76 1106.3h-5.98M59.76 1012.3h-5.98M59.76 918.3h-5.98M59.76 824.3h-5.98M59.76 730.3h-5.98" fill="none" stroke="#000" stroke-width="0.75"/>
<g font-size="10" text-anchor="middle" letter-spacing="0.42">
<text x="93.6" y="1241.6">70</text>
<text x="168.95" y="1241.6">75</text>
<text x="244.3" y="1241.6">80</text>
<text x="319.65" y="1241.6">85</text>
<text x="395" y="1241.6">90</text>
<text x="470.35" y="1241.6">95</text>
<text x="545.7" y="1241.6">100</text>
<text transform="translate(44.7 1200.7) rotate(-90)">0.00</text>
<text transform="translate(44.7 1106.7) rotate(-90)">0.02</text>
<text transform="translate(44.7 1012.7) rotate(-90)">0.04</text>
<text transform="translate(44.7 918.7) rotate(-90)">0.06</text>
<text transform="translate(44.7 824.7) rotate(-90)">0.08</text>
<text transform="translate(44.7 730.7) rotate(-90)">0.10</text>
</g>
<text x="325.98" y="671.9" font-size="21.5" font-weight="bold" text-anchor="middle">Motif score threshold: 85.600</text>
<text x="325.98" y="1265.8" font-size="16" text-anchor="middle">Motif score</text>
<text transform="translate(21.8 954.02) rotate(-90)" font-size="16" text-anchor="middle">Density</text>
</g>
<g id="panel4">
<path d="M718.8 1200.45L719.8 1200.42L720.8 1200.34L721.8 1200.21L722.8 1200.04L723.8 1199.83L724.8 1199.59L725.8 1199.33L726.8 1199L727.8 1198.47L728.8 1197.74L729.8 1196.9L730.8 1196.01L731.8 1195.09L732.8 1194.06L733.8 1192.89L734.8 1191.54L735.8 1189.92L736.8 1187.93L737.8 1185.7L738.8 1183.27L739.8 1180.52L740.8 1177.59L741.8 1174.58L742.8 1171.38L743.8 1168.14L744.8 1165L745.8 1161.84L746.8 1158.81L747.8 1156.14L748.8 1153.7L749.8 1151.51L750.8 1149.66L751.8 1148.01L752.8 1146.59L753.8 1145.56L754.8 1144.79L755.8 1144.15L756.8 1143.69L757.8 1143.45L758.8 1143.32L759.8 1143.23L760.8 1143.16L761.8 1143.07L762.8 1142.96L763.8 1142.84L764.8 1142.71L765.8 1142.57L766.8 1142.39L767.8 1142.18L768.8 1141.87L769.8 1141.48L770.8 1141.03L771.8 1140.57L772.8 1140.11L773.8 1139.63L774.8 1139.12L775.8 1138.6L776.8 1138.09L777.8 1137.61L778.8 1137.11L779.8 1136.61L780.8 1136.14L781.8 1135.73L782.8 1135.41L783.8 1135.11L784.8 1134.82L785.8 1134.58L786.8 1134.43L787.8 1134.4L788.8 1134.41L789.8 1134.44L790.8 1134.48L791.8 1134.56L792.8 1134.8L793.8 1135.14L794.8 1135.53L795.8 1135.93L796.8 1136.41L797.8 1136.94L798.8 1137.48L799.8 1138L800.8 1138.5L801.8 1139.02L802.8 1139.52L803.8 1139.98L804.8 1140.34L805.8 1140.62L806.8 1140.89L807.8 1141.12L808.8 1141.29L809.8 1141.39L810.8 1141.43L811.8 1141.46L812.8 1141.48L813.8 1141.49L814.8 1141.5L815.8 1141.46L816.8 1141.32L817.8 1141.1L818.8 1140.84L819.8 1140.56L820.8 1140.24L821.8 1139.83L822.8 1139.35L823.8 1138.84L824.8 1138.35L825.8 1137.86L826.8 1137.35L827.8 1136.83L828.8 1136.32L829.8 1135.84L830.8 1135.38L831.8 1134.9L832.8 1134.44L833.8 1134.05L834.8 1133.79L835.8 1133.63L836.8 1133.48L837.8 1133.37L838.8 1133.29L839.8 1133.25L840.8 1133.31L841.8 1133.49L842.8 1133.75L843.8 1134.02L844.8 1134.22L845.8 1134.35L846.8 1134.48L847.8 1134.57L848.8 1134.6L849.8 1134.48L850.8 1134.19L851.8 1133.8L852.8 1133.36L853.8 1132.68L854.8 1131.83L855.8 1130.96L856.8 1130.18L857.8 1129.41L858.8 1128.66L859.8 1127.94L860.8 1127.21L861.8 1126.44L862.8 1125.73L863.8 1125.19L864.8 1124.91L865.8 1124.71L866.8 1124.54L867.8 1124.44L868.8 1124.4L869.8 1124.49L870.8 1124.72L871.8 1125.01L872.8 1125.33L873.8 1125.61L874.8 1125.91L875.8 1126.25L876.8 1126.58L877.8 1126.81L878.8 1126.9L879.8 1126.83L880.8 1126.66L881.8 1126.41L882.8 1126.1L883.8 1125.65L884.8 1124.85L885.8 1123.81L886.8 1122.68L887.8 1121.57L888.8 1120.41L889.8 1119.16L890.8 1117.85L891.8 1116.53L892.8 1115.2L893.8 1113.85L894.8 1112.47L895.8 1111.07L896.8 1109.7L897.8 1108.35L898.8 1107.06L899.8 1105.79L900.8 1104.52L901.8 1103.21L902.8 1101.83L903.8 1100.42L904.8 1098.96L905.8 1097.43L906.8 1095.77L907.8 1093.97L908.8 1092L909.8 1089.88L910.8 1087.64L911.8 1085.27L912.8 1082.7L913.8 1079.85L914.8 1076.62L915.8 1073.02L916.8 1069.15L917.8 1064.98L918.8 1060.41L919.8 1055.47L920.8 1050.03L921.8 1044.32L922.8 1038.59L923.8 1032.61L924.8 1025.97L925.8 1018.45L926.8 1010.84L927.8 1003.08L928.8 994.41L929.8 984.99L930.8 975.69L931.8 966.88L932.8 957.87L933.8 947.74L934.8 937.01L935.8 927.63L936.8 918.49L937.8 907.89L938.8 896.57L939.8 884.84L940.8 873.48L941.8 860.69L942.8 845.85L943.8 833.18L944.8 822.89L945.8 812.93L946.8 802.4L947.8 791.85L948.8 781.36L949.8 770.64L950.8 759.59L951.8 749.78L952.8 741.08L953.8 733.73L954.8 727.4L955.8 721.95L956.8 717.31L957.8 713.4L958.8 710.49L959.8 708.58L960.8 707.67L961.8 707.37L962.8 707.33L963.8 707.72L964.8 708.5L965.8 710.27L966.8 712.65L967.8 715.87L968.8 719.45L969.8 723.53L970.8 728.09L971.8 733.21L972.8 738.93L973.8 745.34L974.8 752.68L975.8 760.21L976.8 767.36L977.8 774.79L978.8 782.69L979.8 790.69L980.8 798.76L981.8 807.26L982.8 816.15L983.8 824.57L984.8 832.8L985.8 841.74L986.8 850.69L987.8 858.16L988.8 865.39L989.8 873.46L990.8 881.6L991.8 889.49L992.8 897.34L993.8 905.06L994.8 913.62L995.8 923.36L996.8 932.1L997.8 940.05L998.8 948.42L999.8 957.04L1000.8 965.52L1001.8 974.11L1002.8 983.2L1003.8 993.26L1004.8 1004.33L1005.8 1012.99L1006.8 1020.51L1007.8 1027.89L1008.8 1034.89L1009.8 1041.17L1010.8 1046.82L1011.8 1052L1012.8 1056.77L1013.8 1061.18L1014.8 1065.45L1015.8 1069.62L1016.8 1073.61L1017.8 1077.34L1018.8 1080.82L1019.8 1084.12L1020.8 1087.33L1021.8 1090.48L1022.8 1093.55L1023.8 1096.54L1024.8 1099.43L1025.8 1102.23L1026.8 1104.96L1027.8 1107.59L1028.8 1110.12L1029.8 1112.62L1030.8 1115.05L1031.8 1117.31L1032.8 1119.33L1033.8 1121.16L1034.8 1122.84L1035.8 1124.36L1036.8 1125.74L1037.8 1127.02L1038.8 1128.18L1039.8 1129.21L1040.8 1130.12L1041.8 1130.95L1042.8 1131.68L1043.8 1132.28L1044.8 1132.79L1045.8 1133.26L1046.8 1133.61L1047.8 1133.79L1048.8 1133.91L1049.8 1134.01L1050.8 1134.07L1051.8 1134.1L1052.8 1134.04L1053.8 1133.85L1054.8 1133.57L1055.8 1133.25L1056.8 1132.88L1057.8 1132.35L1058.8 1131.7L1059.8 1130.99L1060.8 1130.29L1061.8 1129.66L1062.8 1129.02L1063.8 1128.38L1064.8 1127.75L1065.8 1127.15L1066.8 1126.59L1067.8 1126L1068.8 1125.42L1069.8 1124.91L1070.8 1124.52L1071.8 1124.28L1072.8 1124.07L1073.8 1123.89L1074.8 1123.78L1075.8 1123.75L1076.8 1123.85L1077.8 1124.07L1078.8 1124.35L1079.8 1124.68L1080.8 1125.09L1081.8 1125.67L1082.8 1126.38L1083.8 1127.16L1084.8 1127.95L1085.8 1128.75L1086.8 1129.64L1087.8 1130.57L1088.8 1131.49L1089.8 1132.34L1090.8 1133.13L1091.8 1133.9L1092.8 1134.65L1093.8 1135.32L1094.8 1135.9L1095.8 1136.39L1096.8 1136.85L1097.8 1137.26L1098.8 1137.61L1099.8 1137.86L1100.8 1138.03L1101.8 1138.17L1102.8 1138.28L1103.8 1138.38L1104.8 1138.48L1105.8 1138.59L1106.8 1138.71L1107.8 1138.83L1108.8 1138.93L1109.8 1138.99L1110.8 1139.03L1111.8 1139.05L1112.8 1139.08L1113.8 1139.09L1114.8 1139.1L1115.8 1139.04L1116.8 1138.85L1117.8 1138.56L1118.8 1138.23L1119.8 1137.8L1120.8 1137.2L1121.8 1136.51L1122.8 1135.77L1123.8 1134.89L1124.8 1133.9L1125.8 1132.92L1126.8 1132L1127.8 1131.1L1128.8 1130.23L1129.8 1129.44L1130.8 1128.74L1131.8 1128.06L1132.8 1127.52L1133.8 1127.18L1134.8 1126.92L1135.8 1126.74L1136.8 1126.71L1137.8 1126.85L1138.8 1127.11L1139.8 1127.43L1140.8 1127.85L1141.8 1128.45L1142.8 1129.14L1143.8 1129.78L1144.8 1130.39L1145.8 1131L1146.8 1131.56L1147.8 1132.03L1148.8 1132.48L1149.8 1132.87L1150.8 1133.17L1151.8 1133.33L1152.8 1133.46L1153.8 1133.55L1154.8 1133.6L1155.8 1133.6L1156.8 1133.6L1157.8 1133.6L1158.8 1133.6L1159.8 1133.65L1160.8 1133.78L1161.8 1133.96L1162.8 1134.17L1163.8 1134.46L1164.8 1134.87L1165.8 1135.36L1166.8 1135.95L1167.8 1136.75L1168.8 1137.72L1169.8 1138.78L1170.8 1139.92L1171.8 1141.19L1172.8 1142.59L1173.8 1144.08L1174.8 1145.68L1175.8 1147.41L1176.8 1149.26L1177.8 1151.19L1178.8 1153.28L1179.8 1155.48L1180.8 1157.73L1181.8 1160L1182.8 1162.32L1183.8 1164.68L1184.8 1167.03L1185.8 1169.38L1186.8 1171.74L1187.8 1174.08L1188.8 1176.36L1189.8 1178.61L1190.8 1180.83L1191.8 1182.97L1192.8 1185L1193.8 1186.96L1194.8 1188.84L1195.8 1190.55L1196.8 1192.06L1197.8 1193.46L1198.8 1194.73L1199.8 1195.81L1200.8 1196.73L1201.8 1197.56L1202.8 1198.26L1203.8 1198.77L1204.8 1199.15L1205.8 1199.47L1206.8 1199.74L1207.8 1199.95L1208.8 1200.11L1209.8 1200.23L1210.8 1200.34L1211.8 1200.42L1212.7 1200.45Z" fill="#F5DEB3" stroke="#000" stroke-width="1.05" stroke-linejoin="round"/>
<g clip-path="url(#c4)">
<path d="M916.78 1220.24L916.78 675.81" stroke="#006400" stroke-width="1.5" stroke-dasharray="6 6" stroke-linecap="round" fill="none"/>
<path d="M1014.22 1220.24L1014.22 675.81" stroke="#006400" stroke-width="1.5" stroke-dasharray="6 6" stroke-linecap="round" fill="none"/>
</g>
<path d="M1017.5 703.4H1041.3" stroke="#006400" stroke-width="1.125" stroke-dasharray="1.125 3.375" stroke-linecap="round" fill="none"/>
<path d="M1017.5 719H1041.3" stroke="#CD2626" stroke-width="1.125" stroke-dasharray="1.125 3.375" stroke-linecap="round" fill="none"/>
<ellipse cx="1029" cy="734.5" rx="3.05" ry="2.6" fill="#0000FF"/>
<g font-size="12.9">
<text x="1052" y="708">enrichment zone = 109</text>
<text x="1052" y="723.6">motif score threshold = 85.600</text>
<text x="1052" y="739.2">centrality p-val = -21.8385</text>
</g>
<rect x="699.76" y="687.81" width="532.43" height="532.43" fill="none" stroke="#000" stroke-width="0.75"/>
<path d="M786.7 1220.24H1144.3M786.7 1220.24v5.98M876.1 1220.24v5.98M965.5 1220.24v5.98M1054.9 1220.24v5.98M1144.3 1220.24v5.98M699.76 696.3V1200.3M699.76 1200.3h-5.98M699.76 1074.3h-5.98M699.76 948.3h-5.98M699.76 822.3h-5.98M699.76 696.3h-5.98" fill="none" stroke="#000" stroke-width="0.75"/>
<g font-size="10" text-anchor="middle" letter-spacing="0.42">
<text x="786.1" y="1241.6">-400</text>
<text x="875.5" y="1241.6">-200</text>
<text x="965.1" y="1241.6">0</text>
<text x="1054.5" y="1241.6">200</text>
<text x="1143.9" y="1241.6">400</text>
<text transform="translate(684.7 1200.7) rotate(-90)">0.000</text>
<text transform="translate(684.7 1074.7) rotate(-90)">0.001</text>
<text transform="translate(684.7 948.7) rotate(-90)">0.002</text>
<text transform="translate(684.7 822.7) rotate(-90)">0.003</text>
<text transform="translate(684.7 696.7) rotate(-90)">0.004</text>
</g>
<text x="965.98" y="671.9" font-size="21.5" font-weight="bold" text-anchor="middle">Enrichment zone: 109.00</text>
<text x="965.98" y="1265.8" font-size="16" text-anchor="middle">Distance to peak summit</text>
<text transform="translate(661.8 954.02) rotate(-90)" font-size="16" text-anchor="middle">Density</text>
</g>
</svg></body></html>
